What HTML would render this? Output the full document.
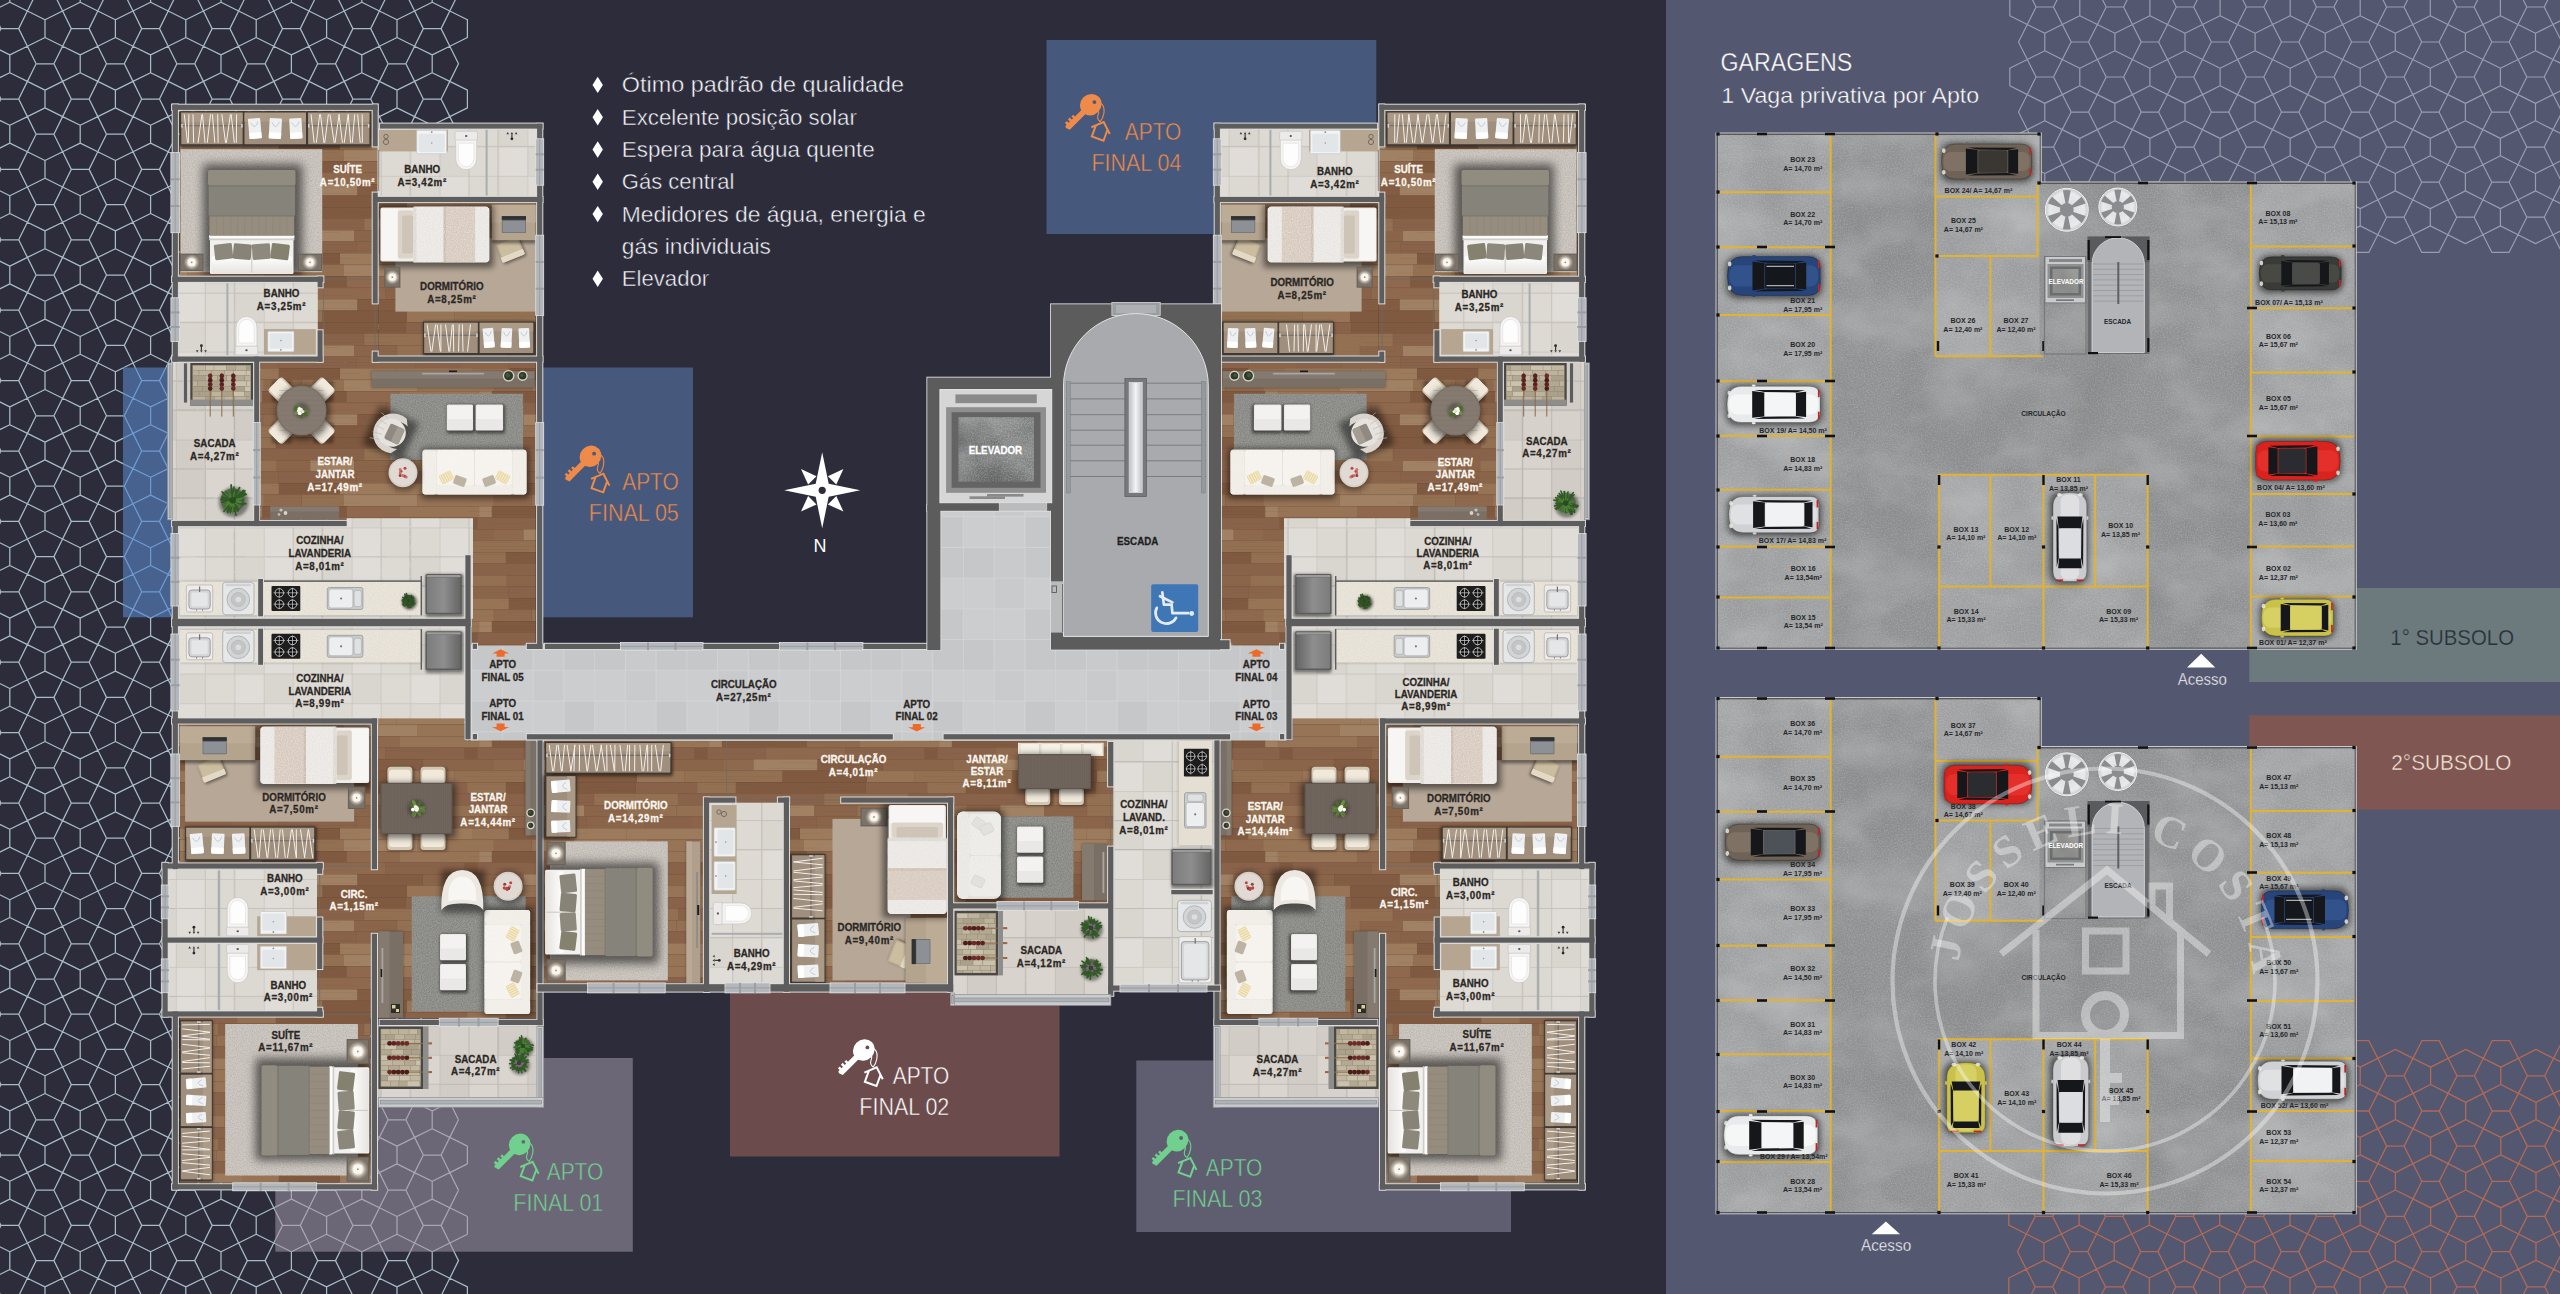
<!DOCTYPE html>
<html><head><meta charset="utf-8"><title>Planta</title>
<style>html,body{margin:0;padding:0;background:#2c2c3b;}body{width:2560px;height:1294px;overflow:hidden;font-family:"Liberation Sans",sans-serif;}svg{display:block;}</style>
</head><body>
<svg width="2560" height="1294" viewBox="0 0 2560 1294" font-family="'Liberation Sans', sans-serif">
<rect x="0" y="0" width="1666" height="1294" fill="#2c2c3b"/>
<rect x="1666" y="0" width="894" height="1294" fill="#545770"/>
<defs><path id="patL" d="M-122.1 -41.8L-113.4 -59.4M-122.1 -41.8L-113.4 -24.2M-122.1 28.6L-113.4 11M-122.1 28.6L-113.4 46.2M-122.1 99L-113.4 81.4M-122.1 99L-113.4 116.6M-122.1 169.4L-113.4 151.8M-122.1 169.4L-113.4 187M-122.1 239.8L-113.4 222.2M-122.1 239.8L-113.4 257.4M-122.1 310.2L-113.4 292.6M-122.1 310.2L-113.4 327.8M-122.1 380.6L-113.4 363M-122.1 380.6L-113.4 398.2M-122.1 451L-113.4 433.4M-122.1 451L-113.4 468.6M-122.1 521.4L-113.4 503.8M-122.1 521.4L-113.4 539M-122.1 591.8L-113.4 574.2M-122.1 591.8L-113.4 609.4M-122.1 662.2L-113.4 644.6M-122.1 662.2L-113.4 679.8M-122.1 732.6L-113.4 715M-122.1 732.6L-113.4 750.2M-122.1 803L-113.4 785.4M-122.1 803L-113.4 820.6M-122.1 873.4L-113.4 855.8M-122.1 873.4L-113.4 891M-122.1 943.8L-113.4 926.2M-122.1 943.8L-113.4 961.4M-122.1 1014.2L-113.4 996.6M-122.1 1014.2L-113.4 1031.8M-122.1 1084.6L-113.4 1067M-122.1 1084.6L-113.4 1102.2M-122.1 1155L-113.4 1137.4M-122.1 1155L-113.4 1172.6M-122.1 1225.4L-113.4 1207.8M-122.1 1225.4L-113.4 1243M-122.1 1295.8L-113.4 1278.2M-122.1 1295.8L-113.4 1313.4M-122.1 1366.2L-113.4 1348.6M-122.1 1366.2L-113.4 1383.8M-113.4 -94.6L-104.7 -77M-113.4 -94.6L-95.8 -103.3M-113.4 -59.4L-104.7 -77M-113.4 -59.4L-95.8 -50.7M-113.4 -24.2L-104.7 -6.6M-113.4 -24.2L-95.8 -32.9M-113.4 11L-104.7 -6.6M-113.4 11L-95.8 19.7M-113.4 46.2L-104.7 63.8M-113.4 46.2L-95.8 37.5M-113.4 81.4L-104.7 63.8M-113.4 81.4L-95.8 90.1M-113.4 116.6L-104.7 134.2M-113.4 116.6L-95.8 107.9M-113.4 151.8L-104.7 134.2M-113.4 151.8L-95.8 160.5M-113.4 187L-104.7 204.6M-113.4 187L-95.8 178.3M-113.4 222.2L-104.7 204.6M-113.4 222.2L-95.8 230.9M-113.4 257.4L-104.7 275M-113.4 257.4L-95.8 248.7M-113.4 292.6L-104.7 275M-113.4 292.6L-95.8 301.3M-113.4 327.8L-104.7 345.4M-113.4 327.8L-95.8 319.1M-113.4 363L-104.7 345.4M-113.4 363L-95.8 371.7M-113.4 398.2L-104.7 415.8M-113.4 398.2L-95.8 389.5M-113.4 433.4L-104.7 415.8M-113.4 433.4L-95.8 442.1M-113.4 468.6L-104.7 486.2M-113.4 468.6L-95.8 459.9M-113.4 503.8L-104.7 486.2M-113.4 503.8L-95.8 512.5M-113.4 539L-104.7 556.6M-113.4 539L-95.8 530.3M-113.4 574.2L-104.7 556.6M-113.4 574.2L-95.8 582.9M-113.4 609.4L-104.7 627M-113.4 609.4L-95.8 600.7M-113.4 644.6L-104.7 627M-113.4 644.6L-95.8 653.3M-113.4 679.8L-104.7 697.4M-113.4 679.8L-95.8 671.1M-113.4 715L-104.7 697.4M-113.4 715L-95.8 723.7M-113.4 750.2L-104.7 767.8M-113.4 750.2L-95.8 741.5M-113.4 785.4L-104.7 767.8M-113.4 785.4L-95.8 794.1M-113.4 820.6L-104.7 838.2M-113.4 820.6L-95.8 811.9M-113.4 855.8L-104.7 838.2M-113.4 855.8L-95.8 864.5M-113.4 891L-104.7 908.6M-113.4 891L-95.8 882.3M-113.4 926.2L-104.7 908.6M-113.4 926.2L-95.8 934.9M-113.4 961.4L-104.7 979M-113.4 961.4L-95.8 952.7M-113.4 996.6L-104.7 979M-113.4 996.6L-95.8 1005.3M-113.4 1031.8L-104.7 1049.4M-113.4 1031.8L-95.8 1023.1M-113.4 1067L-104.7 1049.4M-113.4 1067L-95.8 1075.7M-113.4 1102.2L-104.7 1119.8M-113.4 1102.2L-95.8 1093.5M-113.4 1137.4L-104.7 1119.8M-113.4 1137.4L-95.8 1146.1M-113.4 1172.6L-104.7 1190.2M-113.4 1172.6L-95.8 1163.9M-113.4 1207.8L-104.7 1190.2M-113.4 1207.8L-95.8 1216.5M-113.4 1243L-104.7 1260.6M-113.4 1243L-95.8 1234.3M-113.4 1278.2L-104.7 1260.6M-113.4 1278.2L-95.8 1286.9M-113.4 1313.4L-104.7 1331M-113.4 1313.4L-95.8 1304.7M-113.4 1348.6L-104.7 1331M-113.4 1348.6L-95.8 1357.3M-113.4 1383.8L-95.8 1375.1M-104.7 -77L-86.9 -77M-104.7 -6.6L-86.9 -6.6M-104.7 63.8L-86.9 63.8M-104.7 134.2L-86.9 134.2M-104.7 204.6L-86.9 204.6M-104.7 275L-86.9 275M-104.7 345.4L-86.9 345.4M-104.7 415.8L-86.9 415.8M-104.7 486.2L-86.9 486.2M-104.7 556.6L-86.9 556.6M-104.7 627L-86.9 627M-104.7 697.4L-86.9 697.4M-104.7 767.8L-86.9 767.8M-104.7 838.2L-86.9 838.2M-104.7 908.6L-86.9 908.6M-104.7 979L-86.9 979M-104.7 1049.4L-86.9 1049.4M-104.7 1119.8L-86.9 1119.8M-104.7 1190.2L-86.9 1190.2M-104.7 1260.6L-86.9 1260.6M-104.7 1331L-86.9 1331M-95.8 -103.3L-78.2 -94.6M-95.8 -50.7L-95.8 -32.9M-95.8 -50.7L-78.2 -59.4M-95.8 -32.9L-78.2 -24.2M-95.8 19.7L-95.8 37.5M-95.8 19.7L-78.2 11M-95.8 37.5L-78.2 46.2M-95.8 90.1L-95.8 107.9M-95.8 90.1L-78.2 81.4M-95.8 107.9L-78.2 116.6M-95.8 160.5L-95.8 178.3M-95.8 160.5L-78.2 151.8M-95.8 178.3L-78.2 187M-95.8 230.9L-95.8 248.7M-95.8 230.9L-78.2 222.2M-95.8 248.7L-78.2 257.4M-95.8 301.3L-95.8 319.1M-95.8 301.3L-78.2 292.6M-95.8 319.1L-78.2 327.8M-95.8 371.7L-95.8 389.5M-95.8 371.7L-78.2 363M-95.8 389.5L-78.2 398.2M-95.8 442.1L-95.8 459.9M-95.8 442.1L-78.2 433.4M-95.8 459.9L-78.2 468.6M-95.8 512.5L-95.8 530.3M-95.8 512.5L-78.2 503.8M-95.8 530.3L-78.2 539M-95.8 582.9L-95.8 600.7M-95.8 582.9L-78.2 574.2M-95.8 600.7L-78.2 609.4M-95.8 653.3L-95.8 671.1M-95.8 653.3L-78.2 644.6M-95.8 671.1L-78.2 679.8M-95.8 723.7L-95.8 741.5M-95.8 723.7L-78.2 715M-95.8 741.5L-78.2 750.2M-95.8 794.1L-95.8 811.9M-95.8 794.1L-78.2 785.4M-95.8 811.9L-78.2 820.6M-95.8 864.5L-95.8 882.3M-95.8 864.5L-78.2 855.8M-95.8 882.3L-78.2 891M-95.8 934.9L-95.8 952.7M-95.8 934.9L-78.2 926.2M-95.8 952.7L-78.2 961.4M-95.8 1005.3L-95.8 1023.1M-95.8 1005.3L-78.2 996.6M-95.8 1023.1L-78.2 1031.8M-95.8 1075.7L-95.8 1093.5M-95.8 1075.7L-78.2 1067M-95.8 1093.5L-78.2 1102.2M-95.8 1146.1L-95.8 1163.9M-95.8 1146.1L-78.2 1137.4M-95.8 1163.9L-78.2 1172.6M-95.8 1216.5L-95.8 1234.3M-95.8 1216.5L-78.2 1207.8M-95.8 1234.3L-78.2 1243M-95.8 1286.9L-95.8 1304.7M-95.8 1286.9L-78.2 1278.2M-95.8 1304.7L-78.2 1313.4M-95.8 1357.3L-95.8 1375.1M-95.8 1357.3L-78.2 1348.6M-95.8 1375.1L-78.2 1383.8M-86.9 -77L-78.2 -94.6M-86.9 -77L-78.2 -59.4M-86.9 -6.6L-78.2 -24.2M-86.9 -6.6L-78.2 11M-86.9 63.8L-78.2 46.2M-86.9 63.8L-78.2 81.4M-86.9 134.2L-78.2 116.6M-86.9 134.2L-78.2 151.8M-86.9 204.6L-78.2 187M-86.9 204.6L-78.2 222.2M-86.9 275L-78.2 257.4M-86.9 275L-78.2 292.6M-86.9 345.4L-78.2 327.8M-86.9 345.4L-78.2 363M-86.9 415.8L-78.2 398.2M-86.9 415.8L-78.2 433.4M-86.9 486.2L-78.2 468.6M-86.9 486.2L-78.2 503.8M-86.9 556.6L-78.2 539M-86.9 556.6L-78.2 574.2M-86.9 627L-78.2 609.4M-86.9 627L-78.2 644.6M-86.9 697.4L-78.2 679.8M-86.9 697.4L-78.2 715M-86.9 767.8L-78.2 750.2M-86.9 767.8L-78.2 785.4M-86.9 838.2L-78.2 820.6M-86.9 838.2L-78.2 855.8M-86.9 908.6L-78.2 891M-86.9 908.6L-78.2 926.2M-86.9 979L-78.2 961.4M-86.9 979L-78.2 996.6M-86.9 1049.4L-78.2 1031.8M-86.9 1049.4L-78.2 1067M-86.9 1119.8L-78.2 1102.2M-86.9 1119.8L-78.2 1137.4M-86.9 1190.2L-78.2 1172.6M-86.9 1190.2L-78.2 1207.8M-86.9 1260.6L-78.2 1243M-86.9 1260.6L-78.2 1278.2M-86.9 1331L-78.2 1313.4M-86.9 1331L-78.2 1348.6M-78.2 -94.6L-60.6 -85.9M-78.2 -59.4L-69.5 -41.8M-78.2 -59.4L-60.6 -68.1M-78.2 -24.2L-69.5 -41.8M-78.2 -24.2L-60.6 -15.5M-78.2 11L-69.5 28.6M-78.2 11L-60.6 2.3M-78.2 46.2L-69.5 28.6M-78.2 46.2L-60.6 54.9M-78.2 81.4L-69.5 99M-78.2 81.4L-60.6 72.7M-78.2 116.6L-69.5 99M-78.2 116.6L-60.6 125.3M-78.2 151.8L-69.5 169.4M-78.2 151.8L-60.6 143.1M-78.2 187L-69.5 169.4M-78.2 187L-60.6 195.7M-78.2 222.2L-69.5 239.8M-78.2 222.2L-60.6 213.5M-78.2 257.4L-69.5 239.8M-78.2 257.4L-60.6 266.1M-78.2 292.6L-69.5 310.2M-78.2 292.6L-60.6 283.9M-78.2 327.8L-69.5 310.2M-78.2 327.8L-60.6 336.5M-78.2 363L-69.5 380.6M-78.2 363L-60.6 354.3M-78.2 398.2L-69.5 380.6M-78.2 398.2L-60.6 406.9M-78.2 433.4L-69.5 451M-78.2 433.4L-60.6 424.7M-78.2 468.6L-69.5 451M-78.2 468.6L-60.6 477.3M-78.2 503.8L-69.5 521.4M-78.2 503.8L-60.6 495.1M-78.2 539L-69.5 521.4M-78.2 539L-60.6 547.7M-78.2 574.2L-69.5 591.8M-78.2 574.2L-60.6 565.5M-78.2 609.4L-69.5 591.8M-78.2 609.4L-60.6 618.1M-78.2 644.6L-69.5 662.2M-78.2 644.6L-60.6 635.9M-78.2 679.8L-69.5 662.2M-78.2 679.8L-60.6 688.5M-78.2 715L-69.5 732.6M-78.2 715L-60.6 706.3M-78.2 750.2L-69.5 732.6M-78.2 750.2L-60.6 758.9M-78.2 785.4L-69.5 803M-78.2 785.4L-60.6 776.7M-78.2 820.6L-69.5 803M-78.2 820.6L-60.6 829.3M-78.2 855.8L-69.5 873.4M-78.2 855.8L-60.6 847.1M-78.2 891L-69.5 873.4M-78.2 891L-60.6 899.7M-78.2 926.2L-69.5 943.8M-78.2 926.2L-60.6 917.5M-78.2 961.4L-69.5 943.8M-78.2 961.4L-60.6 970.1M-78.2 996.6L-69.5 1014.2M-78.2 996.6L-60.6 987.9M-78.2 1031.8L-69.5 1014.2M-78.2 1031.8L-60.6 1040.5M-78.2 1067L-69.5 1084.6M-78.2 1067L-60.6 1058.3M-78.2 1102.2L-69.5 1084.6M-78.2 1102.2L-60.6 1110.9M-78.2 1137.4L-69.5 1155M-78.2 1137.4L-60.6 1128.7M-78.2 1172.6L-69.5 1155M-78.2 1172.6L-60.6 1181.3M-78.2 1207.8L-69.5 1225.4M-78.2 1207.8L-60.6 1199.1M-78.2 1243L-69.5 1225.4M-78.2 1243L-60.6 1251.7M-78.2 1278.2L-69.5 1295.8M-78.2 1278.2L-60.6 1269.5M-78.2 1313.4L-69.5 1295.8M-78.2 1313.4L-60.6 1322.1M-78.2 1348.6L-69.5 1366.2M-78.2 1348.6L-60.6 1339.9M-78.2 1383.8L-69.5 1366.2M-78.2 1383.8L-60.6 1392.5M-69.5 -41.8L-51.7 -41.8M-69.5 28.6L-51.7 28.6M-69.5 99L-51.7 99M-69.5 169.4L-51.7 169.4M-69.5 239.8L-51.7 239.8M-69.5 310.2L-51.7 310.2M-69.5 380.6L-51.7 380.6M-69.5 451L-51.7 451M-69.5 521.4L-51.7 521.4M-69.5 591.8L-51.7 591.8M-69.5 662.2L-51.7 662.2M-69.5 732.6L-51.7 732.6M-69.5 803L-51.7 803M-69.5 873.4L-51.7 873.4M-69.5 943.8L-51.7 943.8M-69.5 1014.2L-51.7 1014.2M-69.5 1084.6L-51.7 1084.6M-69.5 1155L-51.7 1155M-69.5 1225.4L-51.7 1225.4M-69.5 1295.8L-51.7 1295.8M-69.5 1366.2L-51.7 1366.2M-60.6 -85.9L-60.6 -68.1M-60.6 -85.9L-43 -94.6M-60.6 -68.1L-43 -59.4M-60.6 -15.5L-60.6 2.3M-60.6 -15.5L-43 -24.2M-60.6 2.3L-43 11M-60.6 54.9L-60.6 72.7M-60.6 54.9L-43 46.2M-60.6 72.7L-43 81.4M-60.6 125.3L-60.6 143.1M-60.6 125.3L-43 116.6M-60.6 143.1L-43 151.8M-60.6 195.7L-60.6 213.5M-60.6 195.7L-43 187M-60.6 213.5L-43 222.2M-60.6 266.1L-60.6 283.9M-60.6 266.1L-43 257.4M-60.6 283.9L-43 292.6M-60.6 336.5L-60.6 354.3M-60.6 336.5L-43 327.8M-60.6 354.3L-43 363M-60.6 406.9L-60.6 424.7M-60.6 406.9L-43 398.2M-60.6 424.7L-43 433.4M-60.6 477.3L-60.6 495.1M-60.6 477.3L-43 468.6M-60.6 495.1L-43 503.8M-60.6 547.7L-60.6 565.5M-60.6 547.7L-43 539M-60.6 565.5L-43 574.2M-60.6 618.1L-60.6 635.9M-60.6 618.1L-43 609.4M-60.6 635.9L-43 644.6M-60.6 688.5L-60.6 706.3M-60.6 688.5L-43 679.8M-60.6 706.3L-43 715M-60.6 758.9L-60.6 776.7M-60.6 758.9L-43 750.2M-60.6 776.7L-43 785.4M-60.6 829.3L-60.6 847.1M-60.6 829.3L-43 820.6M-60.6 847.1L-43 855.8M-60.6 899.7L-60.6 917.5M-60.6 899.7L-43 891M-60.6 917.5L-43 926.2M-60.6 970.1L-60.6 987.9M-60.6 970.1L-43 961.4M-60.6 987.9L-43 996.6M-60.6 1040.5L-60.6 1058.3M-60.6 1040.5L-43 1031.8M-60.6 1058.3L-43 1067M-60.6 1110.9L-60.6 1128.7M-60.6 1110.9L-43 1102.2M-60.6 1128.7L-43 1137.4M-60.6 1181.3L-60.6 1199.1M-60.6 1181.3L-43 1172.6M-60.6 1199.1L-43 1207.8M-60.6 1251.7L-60.6 1269.5M-60.6 1251.7L-43 1243M-60.6 1269.5L-43 1278.2M-60.6 1322.1L-60.6 1339.9M-60.6 1322.1L-43 1313.4M-60.6 1339.9L-43 1348.6M-60.6 1392.5L-43 1383.8M-51.7 -41.8L-43 -59.4M-51.7 -41.8L-43 -24.2M-51.7 28.6L-43 11M-51.7 28.6L-43 46.2M-51.7 99L-43 81.4M-51.7 99L-43 116.6M-51.7 169.4L-43 151.8M-51.7 169.4L-43 187M-51.7 239.8L-43 222.2M-51.7 239.8L-43 257.4M-51.7 310.2L-43 292.6M-51.7 310.2L-43 327.8M-51.7 380.6L-43 363M-51.7 380.6L-43 398.2M-51.7 451L-43 433.4M-51.7 451L-43 468.6M-51.7 521.4L-43 503.8M-51.7 521.4L-43 539M-51.7 591.8L-43 574.2M-51.7 591.8L-43 609.4M-51.7 662.2L-43 644.6M-51.7 662.2L-43 679.8M-51.7 732.6L-43 715M-51.7 732.6L-43 750.2M-51.7 803L-43 785.4M-51.7 803L-43 820.6M-51.7 873.4L-43 855.8M-51.7 873.4L-43 891M-51.7 943.8L-43 926.2M-51.7 943.8L-43 961.4M-51.7 1014.2L-43 996.6M-51.7 1014.2L-43 1031.8M-51.7 1084.6L-43 1067M-51.7 1084.6L-43 1102.2M-51.7 1155L-43 1137.4M-51.7 1155L-43 1172.6M-51.7 1225.4L-43 1207.8M-51.7 1225.4L-43 1243M-51.7 1295.8L-43 1278.2M-51.7 1295.8L-43 1313.4M-51.7 1366.2L-43 1348.6M-51.7 1366.2L-43 1383.8M-43 -94.6L-34.3 -77M-43 -94.6L-25.4 -103.3M-43 -59.4L-34.3 -77M-43 -59.4L-25.4 -50.7M-43 -24.2L-34.3 -6.6M-43 -24.2L-25.4 -32.9M-43 11L-34.3 -6.6M-43 11L-25.4 19.7M-43 46.2L-34.3 63.8M-43 46.2L-25.4 37.5M-43 81.4L-34.3 63.8M-43 81.4L-25.4 90.1M-43 116.6L-34.3 134.2M-43 116.6L-25.4 107.9M-43 151.8L-34.3 134.2M-43 151.8L-25.4 160.5M-43 187L-34.3 204.6M-43 187L-25.4 178.3M-43 222.2L-34.3 204.6M-43 222.2L-25.4 230.9M-43 257.4L-34.3 275M-43 257.4L-25.4 248.7M-43 292.6L-34.3 275M-43 292.6L-25.4 301.3M-43 327.8L-34.3 345.4M-43 327.8L-25.4 319.1M-43 363L-34.3 345.4M-43 363L-25.4 371.7M-43 398.2L-34.3 415.8M-43 398.2L-25.4 389.5M-43 433.4L-34.3 415.8M-43 433.4L-25.4 442.1M-43 468.6L-34.3 486.2M-43 468.6L-25.4 459.9M-43 503.8L-34.3 486.2M-43 503.8L-25.4 512.5M-43 539L-34.3 556.6M-43 539L-25.4 530.3M-43 574.2L-34.3 556.6M-43 574.2L-25.4 582.9M-43 609.4L-34.3 627M-43 609.4L-25.4 600.7M-43 644.6L-34.3 627M-43 644.6L-25.4 653.3M-43 679.8L-34.3 697.4M-43 679.8L-25.4 671.1M-43 715L-34.3 697.4M-43 715L-25.4 723.7M-43 750.2L-34.3 767.8M-43 750.2L-25.4 741.5M-43 785.4L-34.3 767.8M-43 785.4L-25.4 794.1M-43 820.6L-34.3 838.2M-43 820.6L-25.4 811.9M-43 855.8L-34.3 838.2M-43 855.8L-25.4 864.5M-43 891L-34.3 908.6M-43 891L-25.4 882.3M-43 926.2L-34.3 908.6M-43 926.2L-25.4 934.9M-43 961.4L-34.3 979M-43 961.4L-25.4 952.7M-43 996.6L-34.3 979M-43 996.6L-25.4 1005.3M-43 1031.8L-34.3 1049.4M-43 1031.8L-25.4 1023.1M-43 1067L-34.3 1049.4M-43 1067L-25.4 1075.7M-43 1102.2L-34.3 1119.8M-43 1102.2L-25.4 1093.5M-43 1137.4L-34.3 1119.8M-43 1137.4L-25.4 1146.1M-43 1172.6L-34.3 1190.2M-43 1172.6L-25.4 1163.9M-43 1207.8L-34.3 1190.2M-43 1207.8L-25.4 1216.5M-43 1243L-34.3 1260.6M-43 1243L-25.4 1234.3M-43 1278.2L-34.3 1260.6M-43 1278.2L-25.4 1286.9M-43 1313.4L-34.3 1331M-43 1313.4L-25.4 1304.7M-43 1348.6L-34.3 1331M-43 1348.6L-25.4 1357.3M-43 1383.8L-25.4 1375.1M-34.3 -77L-16.5 -77M-34.3 -6.6L-16.5 -6.6M-34.3 63.8L-16.5 63.8M-34.3 134.2L-16.5 134.2M-34.3 204.6L-16.5 204.6M-34.3 275L-16.5 275M-34.3 345.4L-16.5 345.4M-34.3 415.8L-16.5 415.8M-34.3 486.2L-16.5 486.2M-34.3 556.6L-16.5 556.6M-34.3 627L-16.5 627M-34.3 697.4L-16.5 697.4M-34.3 767.8L-16.5 767.8M-34.3 838.2L-16.5 838.2M-34.3 908.6L-16.5 908.6M-34.3 979L-16.5 979M-34.3 1049.4L-16.5 1049.4M-34.3 1119.8L-16.5 1119.8M-34.3 1190.2L-16.5 1190.2M-34.3 1260.6L-16.5 1260.6M-34.3 1331L-16.5 1331M-25.4 -103.3L-7.8 -94.6M-25.4 -50.7L-25.4 -32.9M-25.4 -50.7L-7.8 -59.4M-25.4 -32.9L-7.8 -24.2M-25.4 19.7L-25.4 37.5M-25.4 19.7L-7.8 11M-25.4 37.5L-7.8 46.2M-25.4 90.1L-25.4 107.9M-25.4 90.1L-7.8 81.4M-25.4 107.9L-7.8 116.6M-25.4 160.5L-25.4 178.3M-25.4 160.5L-7.8 151.8M-25.4 178.3L-7.8 187M-25.4 230.9L-25.4 248.7M-25.4 230.9L-7.8 222.2M-25.4 248.7L-7.8 257.4M-25.4 301.3L-25.4 319.1M-25.4 301.3L-7.8 292.6M-25.4 319.1L-7.8 327.8M-25.4 371.7L-25.4 389.5M-25.4 371.7L-7.8 363M-25.4 389.5L-7.8 398.2M-25.4 442.1L-25.4 459.9M-25.4 442.1L-7.8 433.4M-25.4 459.9L-7.8 468.6M-25.4 512.5L-25.4 530.3M-25.4 512.5L-7.8 503.8M-25.4 530.3L-7.8 539M-25.4 582.9L-25.4 600.7M-25.4 582.9L-7.8 574.2M-25.4 600.7L-7.8 609.4M-25.4 653.3L-25.4 671.1M-25.4 653.3L-7.8 644.6M-25.4 671.1L-7.8 679.8M-25.4 723.7L-25.4 741.5M-25.4 723.7L-7.8 715M-25.4 741.5L-7.8 750.2M-25.4 794.1L-25.4 811.9M-25.4 794.1L-7.8 785.4M-25.4 811.9L-7.8 820.6M-25.4 864.5L-25.4 882.3M-25.4 864.5L-7.8 855.8M-25.4 882.3L-7.8 891M-25.4 934.9L-25.4 952.7M-25.4 934.9L-7.8 926.2M-25.4 952.7L-7.8 961.4M-25.4 1005.3L-25.4 1023.1M-25.4 1005.3L-7.8 996.6M-25.4 1023.1L-7.8 1031.8M-25.4 1075.7L-25.4 1093.5M-25.4 1075.7L-7.8 1067M-25.4 1093.5L-7.8 1102.2M-25.4 1146.1L-25.4 1163.9M-25.4 1146.1L-7.8 1137.4M-25.4 1163.9L-7.8 1172.6M-25.4 1216.5L-25.4 1234.3M-25.4 1216.5L-7.8 1207.8M-25.4 1234.3L-7.8 1243M-25.4 1286.9L-25.4 1304.7M-25.4 1286.9L-7.8 1278.2M-25.4 1304.7L-7.8 1313.4M-25.4 1357.3L-25.4 1375.1M-25.4 1357.3L-7.8 1348.6M-25.4 1375.1L-7.8 1383.8M-16.5 -77L-7.8 -94.6M-16.5 -77L-7.8 -59.4M-16.5 -6.6L-7.8 -24.2M-16.5 -6.6L-7.8 11M-16.5 63.8L-7.8 46.2M-16.5 63.8L-7.8 81.4M-16.5 134.2L-7.8 116.6M-16.5 134.2L-7.8 151.8M-16.5 204.6L-7.8 187M-16.5 204.6L-7.8 222.2M-16.5 275L-7.8 257.4M-16.5 275L-7.8 292.6M-16.5 345.4L-7.8 327.8M-16.5 345.4L-7.8 363M-16.5 415.8L-7.8 398.2M-16.5 415.8L-7.8 433.4M-16.5 486.2L-7.8 468.6M-16.5 486.2L-7.8 503.8M-16.5 556.6L-7.8 539M-16.5 556.6L-7.8 574.2M-16.5 627L-7.8 609.4M-16.5 627L-7.8 644.6M-16.5 697.4L-7.8 679.8M-16.5 697.4L-7.8 715M-16.5 767.8L-7.8 750.2M-16.5 767.8L-7.8 785.4M-16.5 838.2L-7.8 820.6M-16.5 838.2L-7.8 855.8M-16.5 908.6L-7.8 891M-16.5 908.6L-7.8 926.2M-16.5 979L-7.8 961.4M-16.5 979L-7.8 996.6M-16.5 1049.4L-7.8 1031.8M-16.5 1049.4L-7.8 1067M-16.5 1119.8L-7.8 1102.2M-16.5 1119.8L-7.8 1137.4M-16.5 1190.2L-7.8 1172.6M-16.5 1190.2L-7.8 1207.8M-16.5 1260.6L-7.8 1243M-16.5 1260.6L-7.8 1278.2M-16.5 1331L-7.8 1313.4M-16.5 1331L-7.8 1348.6M-7.8 -94.6L9.8 -85.9M-7.8 -59.4L0.9 -41.8M-7.8 -59.4L9.8 -68.1M-7.8 -24.2L0.9 -41.8M-7.8 -24.2L9.8 -15.5M-7.8 11L0.9 28.6M-7.8 11L9.8 2.3M-7.8 46.2L0.9 28.6M-7.8 46.2L9.8 54.9M-7.8 81.4L0.9 99M-7.8 81.4L9.8 72.7M-7.8 116.6L0.9 99M-7.8 116.6L9.8 125.3M-7.8 151.8L0.9 169.4M-7.8 151.8L9.8 143.1M-7.8 187L0.9 169.4M-7.8 187L9.8 195.7M-7.8 222.2L0.9 239.8M-7.8 222.2L9.8 213.5M-7.8 257.4L0.9 239.8M-7.8 257.4L9.8 266.1M-7.8 292.6L0.9 310.2M-7.8 292.6L9.8 283.9M-7.8 327.8L0.9 310.2M-7.8 327.8L9.8 336.5M-7.8 363L0.9 380.6M-7.8 363L9.8 354.3M-7.8 398.2L0.9 380.6M-7.8 398.2L9.8 406.9M-7.8 433.4L0.9 451M-7.8 433.4L9.8 424.7M-7.8 468.6L0.9 451M-7.8 468.6L9.8 477.3M-7.8 503.8L0.9 521.4M-7.8 503.8L9.8 495.1M-7.8 539L0.9 521.4M-7.8 539L9.8 547.7M-7.8 574.2L0.9 591.8M-7.8 574.2L9.8 565.5M-7.8 609.4L0.9 591.8M-7.8 609.4L9.8 618.1M-7.8 644.6L0.9 662.2M-7.8 644.6L9.8 635.9M-7.8 679.8L0.9 662.2M-7.8 679.8L9.8 688.5M-7.8 715L0.9 732.6M-7.8 715L9.8 706.3M-7.8 750.2L0.9 732.6M-7.8 750.2L9.8 758.9M-7.8 785.4L0.9 803M-7.8 785.4L9.8 776.7M-7.8 820.6L0.9 803M-7.8 820.6L9.8 829.3M-7.8 855.8L0.9 873.4M-7.8 855.8L9.8 847.1M-7.8 891L0.9 873.4M-7.8 891L9.8 899.7M-7.8 926.2L0.9 943.8M-7.8 926.2L9.8 917.5M-7.8 961.4L0.9 943.8M-7.8 961.4L9.8 970.1M-7.8 996.6L0.9 1014.2M-7.8 996.6L9.8 987.9M-7.8 1031.8L0.9 1014.2M-7.8 1031.8L9.8 1040.5M-7.8 1067L0.9 1084.6M-7.8 1067L9.8 1058.3M-7.8 1102.2L0.9 1084.6M-7.8 1102.2L9.8 1110.9M-7.8 1137.4L0.9 1155M-7.8 1137.4L9.8 1128.7M-7.8 1172.6L0.9 1155M-7.8 1172.6L9.8 1181.3M-7.8 1207.8L0.9 1225.4M-7.8 1207.8L9.8 1199.1M-7.8 1243L0.9 1225.4M-7.8 1243L9.8 1251.7M-7.8 1278.2L0.9 1295.8M-7.8 1278.2L9.8 1269.5M-7.8 1313.4L0.9 1295.8M-7.8 1313.4L9.8 1322.1M-7.8 1348.6L0.9 1366.2M-7.8 1348.6L9.8 1339.9M-7.8 1383.8L0.9 1366.2M-7.8 1383.8L9.8 1392.5M0.9 -41.8L18.7 -41.8M0.9 28.6L18.7 28.6M0.9 99L18.7 99M0.9 169.4L18.7 169.4M0.9 239.8L18.7 239.8M0.9 310.2L18.7 310.2M0.9 380.6L18.7 380.6M0.9 451L18.7 451M0.9 521.4L18.7 521.4M0.9 591.8L18.7 591.8M0.9 662.2L18.7 662.2M0.9 732.6L18.7 732.6M0.9 803L18.7 803M0.9 873.4L18.7 873.4M0.9 943.8L18.7 943.8M0.9 1014.2L18.7 1014.2M0.9 1084.6L18.7 1084.6M0.9 1155L18.7 1155M0.9 1225.4L18.7 1225.4M0.9 1295.8L18.7 1295.8M0.9 1366.2L18.7 1366.2M9.8 -85.9L9.8 -68.1M9.8 -85.9L27.4 -94.6M9.8 -68.1L27.4 -59.4M9.8 -15.5L9.8 2.3M9.8 -15.5L27.4 -24.2M9.8 2.3L27.4 11M9.8 54.9L9.8 72.7M9.8 54.9L27.4 46.2M9.8 72.7L27.4 81.4M9.8 125.3L9.8 143.1M9.8 125.3L27.4 116.6M9.8 143.1L27.4 151.8M9.8 195.7L9.8 213.5M9.8 195.7L27.4 187M9.8 213.5L27.4 222.2M9.8 266.1L9.8 283.9M9.8 266.1L27.4 257.4M9.8 283.9L27.4 292.6M9.8 336.5L9.8 354.3M9.8 336.5L27.4 327.8M9.8 354.3L27.4 363M9.8 406.9L9.8 424.7M9.8 406.9L27.4 398.2M9.8 424.7L27.4 433.4M9.8 477.3L9.8 495.1M9.8 477.3L27.4 468.6M9.8 495.1L27.4 503.8M9.8 547.7L9.8 565.5M9.8 547.7L27.4 539M9.8 565.5L27.4 574.2M9.8 618.1L9.8 635.9M9.8 618.1L27.4 609.4M9.8 635.9L27.4 644.6M9.8 688.5L9.8 706.3M9.8 688.5L27.4 679.8M9.8 706.3L27.4 715M9.8 758.9L9.8 776.7M9.8 758.9L27.4 750.2M9.8 776.7L27.4 785.4M9.8 829.3L9.8 847.1M9.8 829.3L27.4 820.6M9.8 847.1L27.4 855.8M9.8 899.7L9.8 917.5M9.8 899.7L27.4 891M9.8 917.5L27.4 926.2M9.8 970.1L9.8 987.9M9.8 970.1L27.4 961.4M9.8 987.9L27.4 996.6M9.8 1040.5L9.8 1058.3M9.8 1040.5L27.4 1031.8M9.8 1058.3L27.4 1067M9.8 1110.9L9.8 1128.7M9.8 1110.9L27.4 1102.2M9.8 1128.7L27.4 1137.4M9.8 1181.3L9.8 1199.1M9.8 1181.3L27.4 1172.6M9.8 1199.1L27.4 1207.8M9.8 1251.7L9.8 1269.5M9.8 1251.7L27.4 1243M9.8 1269.5L27.4 1278.2M9.8 1322.1L9.8 1339.9M9.8 1322.1L27.4 1313.4M9.8 1339.9L27.4 1348.6M9.8 1392.5L27.4 1383.8M18.7 -41.8L27.4 -59.4M18.7 -41.8L27.4 -24.2M18.7 28.6L27.4 11M18.7 28.6L27.4 46.2M18.7 99L27.4 81.4M18.7 99L27.4 116.6M18.7 169.4L27.4 151.8M18.7 169.4L27.4 187M18.7 239.8L27.4 222.2M18.7 239.8L27.4 257.4M18.7 310.2L27.4 292.6M18.7 310.2L27.4 327.8M18.7 380.6L27.4 363M18.7 380.6L27.4 398.2M18.7 451L27.4 433.4M18.7 451L27.4 468.6M18.7 521.4L27.4 503.8M18.7 521.4L27.4 539M18.7 591.8L27.4 574.2M18.7 591.8L27.4 609.4M18.7 662.2L27.4 644.6M18.7 662.2L27.4 679.8M18.7 732.6L27.4 715M18.7 732.6L27.4 750.2M18.7 803L27.4 785.4M18.7 803L27.4 820.6M18.7 873.4L27.4 855.8M18.7 873.4L27.4 891M18.7 943.8L27.4 926.2M18.7 943.8L27.4 961.4M18.7 1014.2L27.4 996.6M18.7 1014.2L27.4 1031.8M18.7 1084.6L27.4 1067M18.7 1084.6L27.4 1102.2M18.7 1155L27.4 1137.4M18.7 1155L27.4 1172.6M18.7 1225.4L27.4 1207.8M18.7 1225.4L27.4 1243M18.7 1295.8L27.4 1278.2M18.7 1295.8L27.4 1313.4M18.7 1366.2L27.4 1348.6M18.7 1366.2L27.4 1383.8M27.4 -94.6L36.1 -77M27.4 -94.6L45 -103.3M27.4 -59.4L36.1 -77M27.4 -59.4L45 -50.7M27.4 -24.2L36.1 -6.6M27.4 -24.2L45 -32.9M27.4 11L36.1 -6.6M27.4 11L45 19.7M27.4 46.2L36.1 63.8M27.4 46.2L45 37.5M27.4 81.4L36.1 63.8M27.4 81.4L45 90.1M27.4 116.6L36.1 134.2M27.4 116.6L45 107.9M27.4 151.8L36.1 134.2M27.4 151.8L45 160.5M27.4 187L36.1 204.6M27.4 187L45 178.3M27.4 222.2L36.1 204.6M27.4 222.2L45 230.9M27.4 257.4L36.1 275M27.4 257.4L45 248.7M27.4 292.6L36.1 275M27.4 292.6L45 301.3M27.4 327.8L36.1 345.4M27.4 327.8L45 319.1M27.4 363L36.1 345.4M27.4 363L45 371.7M27.4 398.2L36.1 415.8M27.4 398.2L45 389.5M27.4 433.4L36.1 415.8M27.4 433.4L45 442.1M27.4 468.6L36.1 486.2M27.4 468.6L45 459.9M27.4 503.8L36.1 486.2M27.4 503.8L45 512.5M27.4 539L36.1 556.6M27.4 539L45 530.3M27.4 574.2L36.1 556.6M27.4 574.2L45 582.9M27.4 609.4L36.1 627M27.4 609.4L45 600.7M27.4 644.6L36.1 627M27.4 644.6L45 653.3M27.4 679.8L36.1 697.4M27.4 679.8L45 671.1M27.4 715L36.1 697.4M27.4 715L45 723.7M27.4 750.2L36.1 767.8M27.4 750.2L45 741.5M27.4 785.4L36.1 767.8M27.4 785.4L45 794.1M27.4 820.6L36.1 838.2M27.4 820.6L45 811.9M27.4 855.8L36.1 838.2M27.4 855.8L45 864.5M27.4 891L36.1 908.6M27.4 891L45 882.3M27.4 926.2L36.1 908.6M27.4 926.2L45 934.9M27.4 961.4L36.1 979M27.4 961.4L45 952.7M27.4 996.6L36.1 979M27.4 996.6L45 1005.3M27.4 1031.8L36.1 1049.4M27.4 1031.8L45 1023.1M27.4 1067L36.1 1049.4M27.4 1067L45 1075.7M27.4 1102.2L36.1 1119.8M27.4 1102.2L45 1093.5M27.4 1137.4L36.1 1119.8M27.4 1137.4L45 1146.1M27.4 1172.6L36.1 1190.2M27.4 1172.6L45 1163.9M27.4 1207.8L36.1 1190.2M27.4 1207.8L45 1216.5M27.4 1243L36.1 1260.6M27.4 1243L45 1234.3M27.4 1278.2L36.1 1260.6M27.4 1278.2L45 1286.9M27.4 1313.4L36.1 1331M27.4 1313.4L45 1304.7M27.4 1348.6L36.1 1331M27.4 1348.6L45 1357.3M27.4 1383.8L45 1375.1M36.1 -77L53.9 -77M36.1 -6.6L53.9 -6.6M36.1 63.8L53.9 63.8M36.1 134.2L53.9 134.2M36.1 204.6L53.9 204.6M36.1 275L53.9 275M36.1 345.4L53.9 345.4M36.1 415.8L53.9 415.8M36.1 486.2L53.9 486.2M36.1 556.6L53.9 556.6M36.1 627L53.9 627M36.1 697.4L53.9 697.4M36.1 767.8L53.9 767.8M36.1 838.2L53.9 838.2M36.1 908.6L53.9 908.6M36.1 979L53.9 979M36.1 1049.4L53.9 1049.4M36.1 1119.8L53.9 1119.8M36.1 1190.2L53.9 1190.2M36.1 1260.6L53.9 1260.6M36.1 1331L53.9 1331M45 -103.3L62.6 -94.6M45 -50.7L45 -32.9M45 -50.7L62.6 -59.4M45 -32.9L62.6 -24.2M45 19.7L45 37.5M45 19.7L62.6 11M45 37.5L62.6 46.2M45 90.1L45 107.9M45 90.1L62.6 81.4M45 107.9L62.6 116.6M45 160.5L45 178.3M45 160.5L62.6 151.8M45 178.3L62.6 187M45 230.9L45 248.7M45 230.9L62.6 222.2M45 248.7L62.6 257.4M45 301.3L45 319.1M45 301.3L62.6 292.6M45 319.1L62.6 327.8M45 371.7L45 389.5M45 371.7L62.6 363M45 389.5L62.6 398.2M45 442.1L45 459.9M45 442.1L62.6 433.4M45 459.9L62.6 468.6M45 512.5L45 530.3M45 512.5L62.6 503.8M45 530.3L62.6 539M45 582.9L45 600.7M45 582.9L62.6 574.2M45 600.7L62.6 609.4M45 653.3L45 671.1M45 653.3L62.6 644.6M45 671.1L62.6 679.8M45 723.7L45 741.5M45 723.7L62.6 715M45 741.5L62.6 750.2M45 794.1L45 811.9M45 794.1L62.6 785.4M45 811.9L62.6 820.6M45 864.5L45 882.3M45 864.5L62.6 855.8M45 882.3L62.6 891M45 934.9L45 952.7M45 934.9L62.6 926.2M45 952.7L62.6 961.4M45 1005.3L45 1023.1M45 1005.3L62.6 996.6M45 1023.1L62.6 1031.8M45 1075.7L45 1093.5M45 1075.7L62.6 1067M45 1093.5L62.6 1102.2M45 1146.1L45 1163.9M45 1146.1L62.6 1137.4M45 1163.9L62.6 1172.6M45 1216.5L45 1234.3M45 1216.5L62.6 1207.8M45 1234.3L62.6 1243M45 1286.9L45 1304.7M45 1286.9L62.6 1278.2M45 1304.7L62.6 1313.4M45 1357.3L45 1375.1M45 1357.3L62.6 1348.6M45 1375.1L62.6 1383.8M53.9 -77L62.6 -94.6M53.9 -77L62.6 -59.4M53.9 -6.6L62.6 -24.2M53.9 -6.6L62.6 11M53.9 63.8L62.6 46.2M53.9 63.8L62.6 81.4M53.9 134.2L62.6 116.6M53.9 134.2L62.6 151.8M53.9 204.6L62.6 187M53.9 204.6L62.6 222.2M53.9 275L62.6 257.4M53.9 275L62.6 292.6M53.9 345.4L62.6 327.8M53.9 345.4L62.6 363M53.9 415.8L62.6 398.2M53.9 415.8L62.6 433.4M53.9 486.2L62.6 468.6M53.9 486.2L62.6 503.8M53.9 556.6L62.6 539M53.9 556.6L62.6 574.2M53.9 627L62.6 609.4M53.9 627L62.6 644.6M53.9 697.4L62.6 679.8M53.9 697.4L62.6 715M53.9 767.8L62.6 750.2M53.9 767.8L62.6 785.4M53.9 838.2L62.6 820.6M53.9 838.2L62.6 855.8M53.9 908.6L62.6 891M53.9 908.6L62.6 926.2M53.9 979L62.6 961.4M53.9 979L62.6 996.6M53.9 1049.4L62.6 1031.8M53.9 1049.4L62.6 1067M53.9 1119.8L62.6 1102.2M53.9 1119.8L62.6 1137.4M53.9 1190.2L62.6 1172.6M53.9 1190.2L62.6 1207.8M53.9 1260.6L62.6 1243M53.9 1260.6L62.6 1278.2M53.9 1331L62.6 1313.4M53.9 1331L62.6 1348.6M62.6 -94.6L80.2 -85.9M62.6 -59.4L71.3 -41.8M62.6 -59.4L80.2 -68.1M62.6 -24.2L71.3 -41.8M62.6 -24.2L80.2 -15.5M62.6 11L71.3 28.6M62.6 11L80.2 2.3M62.6 46.2L71.3 28.6M62.6 46.2L80.2 54.9M62.6 81.4L71.3 99M62.6 81.4L80.2 72.7M62.6 116.6L71.3 99M62.6 116.6L80.2 125.3M62.6 151.8L71.3 169.4M62.6 151.8L80.2 143.1M62.6 187L71.3 169.4M62.6 187L80.2 195.7M62.6 222.2L71.3 239.8M62.6 222.2L80.2 213.5M62.6 257.4L71.3 239.8M62.6 257.4L80.2 266.1M62.6 292.6L71.3 310.2M62.6 292.6L80.2 283.9M62.6 327.8L71.3 310.2M62.6 327.8L80.2 336.5M62.6 363L71.3 380.6M62.6 363L80.2 354.3M62.6 398.2L71.3 380.6M62.6 398.2L80.2 406.9M62.6 433.4L71.3 451M62.6 433.4L80.2 424.7M62.6 468.6L71.3 451M62.6 468.6L80.2 477.3M62.6 503.8L71.3 521.4M62.6 503.8L80.2 495.1M62.6 539L71.3 521.4M62.6 539L80.2 547.7M62.6 574.2L71.3 591.8M62.6 574.2L80.2 565.5M62.6 609.4L71.3 591.8M62.6 609.4L80.2 618.1M62.6 644.6L71.3 662.2M62.6 644.6L80.2 635.9M62.6 679.8L71.3 662.2M62.6 679.8L80.2 688.5M62.6 715L71.3 732.6M62.6 715L80.2 706.3M62.6 750.2L71.3 732.6M62.6 750.2L80.2 758.9M62.6 785.4L71.3 803M62.6 785.4L80.2 776.7M62.6 820.6L71.3 803M62.6 820.6L80.2 829.3M62.6 855.8L71.3 873.4M62.6 855.8L80.2 847.1M62.6 891L71.3 873.4M62.6 891L80.2 899.7M62.6 926.2L71.3 943.8M62.6 926.2L80.2 917.5M62.6 961.4L71.3 943.8M62.6 961.4L80.2 970.1M62.6 996.6L71.3 1014.2M62.6 996.6L80.2 987.9M62.6 1031.8L71.3 1014.2M62.6 1031.8L80.2 1040.5M62.6 1067L71.3 1084.6M62.6 1067L80.2 1058.3M62.6 1102.2L71.3 1084.6M62.6 1102.2L80.2 1110.9M62.6 1137.4L71.3 1155M62.6 1137.4L80.2 1128.7M62.6 1172.6L71.3 1155M62.6 1172.6L80.2 1181.3M62.6 1207.8L71.3 1225.4M62.6 1207.8L80.2 1199.1M62.6 1243L71.3 1225.4M62.6 1243L80.2 1251.7M62.6 1278.2L71.3 1295.8M62.6 1278.2L80.2 1269.5M62.6 1313.4L71.3 1295.8M62.6 1313.4L80.2 1322.1M62.6 1348.6L71.3 1366.2M62.6 1348.6L80.2 1339.9M62.6 1383.8L71.3 1366.2M62.6 1383.8L80.2 1392.5M71.3 -41.8L89.1 -41.8M71.3 28.6L89.1 28.6M71.3 99L89.1 99M71.3 169.4L89.1 169.4M71.3 239.8L89.1 239.8M71.3 310.2L89.1 310.2M71.3 380.6L89.1 380.6M71.3 451L89.1 451M71.3 521.4L89.1 521.4M71.3 591.8L89.1 591.8M71.3 662.2L89.1 662.2M71.3 732.6L89.1 732.6M71.3 803L89.1 803M71.3 873.4L89.1 873.4M71.3 943.8L89.1 943.8M71.3 1014.2L89.1 1014.2M71.3 1084.6L89.1 1084.6M71.3 1155L89.1 1155M71.3 1225.4L89.1 1225.4M71.3 1295.8L89.1 1295.8M71.3 1366.2L89.1 1366.2M80.2 -85.9L80.2 -68.1M80.2 -85.9L97.8 -94.6M80.2 -68.1L97.8 -59.4M80.2 -15.5L80.2 2.3M80.2 -15.5L97.8 -24.2M80.2 2.3L97.8 11M80.2 54.9L80.2 72.7M80.2 54.9L97.8 46.2M80.2 72.7L97.8 81.4M80.2 125.3L80.2 143.1M80.2 125.3L97.8 116.6M80.2 143.1L97.8 151.8M80.2 195.7L80.2 213.5M80.2 195.7L97.8 187M80.2 213.5L97.8 222.2M80.2 266.1L80.2 283.9M80.2 266.1L97.8 257.4M80.2 283.9L97.8 292.6M80.2 336.5L80.2 354.3M80.2 336.5L97.8 327.8M80.2 354.3L97.8 363M80.2 406.9L80.2 424.7M80.2 406.9L97.8 398.2M80.2 424.7L97.8 433.4M80.2 477.3L80.2 495.1M80.2 477.3L97.8 468.6M80.2 495.1L97.8 503.8M80.2 547.7L80.2 565.5M80.2 547.7L97.8 539M80.2 565.5L97.8 574.2M80.2 618.1L80.2 635.9M80.2 618.1L97.8 609.4M80.2 635.9L97.8 644.6M80.2 688.5L80.2 706.3M80.2 688.5L97.8 679.8M80.2 706.3L97.8 715M80.2 758.9L80.2 776.7M80.2 758.9L97.8 750.2M80.2 776.7L97.8 785.4M80.2 829.3L80.2 847.1M80.2 829.3L97.8 820.6M80.2 847.1L97.8 855.8M80.2 899.7L80.2 917.5M80.2 899.7L97.8 891M80.2 917.5L97.8 926.2M80.2 970.1L80.2 987.9M80.2 970.1L97.8 961.4M80.2 987.9L97.8 996.6M80.2 1040.5L80.2 1058.3M80.2 1040.5L97.8 1031.8M80.2 1058.3L97.8 1067M80.2 1110.9L80.2 1128.7M80.2 1110.9L97.8 1102.2M80.2 1128.7L97.8 1137.4M80.2 1181.3L80.2 1199.1M80.2 1181.3L97.8 1172.6M80.2 1199.1L97.8 1207.8M80.2 1251.7L80.2 1269.5M80.2 1251.7L97.8 1243M80.2 1269.5L97.8 1278.2M80.2 1322.1L80.2 1339.9M80.2 1322.1L97.8 1313.4M80.2 1339.9L97.8 1348.6M80.2 1392.5L97.8 1383.8M89.1 -41.8L97.8 -59.4M89.1 -41.8L97.8 -24.2M89.1 28.6L97.8 11M89.1 28.6L97.8 46.2M89.1 99L97.8 81.4M89.1 99L97.8 116.6M89.1 169.4L97.8 151.8M89.1 169.4L97.8 187M89.1 239.8L97.8 222.2M89.1 239.8L97.8 257.4M89.1 310.2L97.8 292.6M89.1 310.2L97.8 327.8M89.1 380.6L97.8 363M89.1 380.6L97.8 398.2M89.1 451L97.8 433.4M89.1 451L97.8 468.6M89.1 521.4L97.8 503.8M89.1 521.4L97.8 539M89.1 591.8L97.8 574.2M89.1 591.8L97.8 609.4M89.1 662.2L97.8 644.6M89.1 662.2L97.8 679.8M89.1 732.6L97.8 715M89.1 732.6L97.8 750.2M89.1 803L97.8 785.4M89.1 803L97.8 820.6M89.1 873.4L97.8 855.8M89.1 873.4L97.8 891M89.1 943.8L97.8 926.2M89.1 943.8L97.8 961.4M89.1 1014.2L97.8 996.6M89.1 1014.2L97.8 1031.8M89.1 1084.6L97.8 1067M89.1 1084.6L97.8 1102.2M89.1 1155L97.8 1137.4M89.1 1155L97.8 1172.6M89.1 1225.4L97.8 1207.8M89.1 1225.4L97.8 1243M89.1 1295.8L97.8 1278.2M89.1 1295.8L97.8 1313.4M89.1 1366.2L97.8 1348.6M89.1 1366.2L97.8 1383.8M97.8 -94.6L106.5 -77M97.8 -94.6L115.4 -103.3M97.8 -59.4L106.5 -77M97.8 -59.4L115.4 -50.7M97.8 -24.2L106.5 -6.6M97.8 -24.2L115.4 -32.9M97.8 11L106.5 -6.6M97.8 11L115.4 19.7M97.8 46.2L106.5 63.8M97.8 46.2L115.4 37.5M97.8 81.4L106.5 63.8M97.8 81.4L115.4 90.1M97.8 116.6L106.5 134.2M97.8 116.6L115.4 107.9M97.8 151.8L106.5 134.2M97.8 151.8L115.4 160.5M97.8 187L106.5 204.6M97.8 187L115.4 178.3M97.8 222.2L106.5 204.6M97.8 222.2L115.4 230.9M97.8 257.4L106.5 275M97.8 257.4L115.4 248.7M97.8 292.6L106.5 275M97.8 292.6L115.4 301.3M97.8 327.8L106.5 345.4M97.8 327.8L115.4 319.1M97.8 363L106.5 345.4M97.8 363L115.4 371.7M97.8 398.2L106.5 415.8M97.8 398.2L115.4 389.5M97.8 433.4L106.5 415.8M97.8 433.4L115.4 442.1M97.8 468.6L106.5 486.2M97.8 468.6L115.4 459.9M97.8 503.8L106.5 486.2M97.8 503.8L115.4 512.5M97.8 539L106.5 556.6M97.8 539L115.4 530.3M97.8 574.2L106.5 556.6M97.8 574.2L115.4 582.9M97.8 609.4L106.5 627M97.8 609.4L115.4 600.7M97.8 644.6L106.5 627M97.8 644.6L115.4 653.3M97.8 679.8L106.5 697.4M97.8 679.8L115.4 671.1M97.8 715L106.5 697.4M97.8 715L115.4 723.7M97.8 750.2L106.5 767.8M97.8 750.2L115.4 741.5M97.8 785.4L106.5 767.8M97.8 785.4L115.4 794.1M97.8 820.6L106.5 838.2M97.8 820.6L115.4 811.9M97.8 855.8L106.5 838.2M97.8 855.8L115.4 864.5M97.8 891L106.5 908.6M97.8 891L115.4 882.3M97.8 926.2L106.5 908.6M97.8 926.2L115.4 934.9M97.8 961.4L106.5 979M97.8 961.4L115.4 952.7M97.8 996.6L106.5 979M97.8 996.6L115.4 1005.3M97.8 1031.8L106.5 1049.4M97.8 1031.8L115.4 1023.1M97.8 1067L106.5 1049.4M97.8 1067L115.4 1075.7M97.8 1102.2L106.5 1119.8M97.8 1102.2L115.4 1093.5M97.8 1137.4L106.5 1119.8M97.8 1137.4L115.4 1146.1M97.8 1172.6L106.5 1190.2M97.8 1172.6L115.4 1163.9M97.8 1207.8L106.5 1190.2M97.8 1207.8L115.4 1216.5M97.8 1243L106.5 1260.6M97.8 1243L115.4 1234.3M97.8 1278.2L106.5 1260.6M97.8 1278.2L115.4 1286.9M97.8 1313.4L106.5 1331M97.8 1313.4L115.4 1304.7M97.8 1348.6L106.5 1331M97.8 1348.6L115.4 1357.3M97.8 1383.8L115.4 1375.1M106.5 -77L124.3 -77M106.5 -6.6L124.3 -6.6M106.5 63.8L124.3 63.8M106.5 134.2L124.3 134.2M106.5 204.6L124.3 204.6M106.5 275L124.3 275M106.5 345.4L124.3 345.4M106.5 415.8L124.3 415.8M106.5 486.2L124.3 486.2M106.5 556.6L124.3 556.6M106.5 627L124.3 627M106.5 697.4L124.3 697.4M106.5 767.8L124.3 767.8M106.5 838.2L124.3 838.2M106.5 908.6L124.3 908.6M106.5 979L124.3 979M106.5 1049.4L124.3 1049.4M106.5 1119.8L124.3 1119.8M106.5 1190.2L124.3 1190.2M106.5 1260.6L124.3 1260.6M106.5 1331L124.3 1331M115.4 -103.3L133 -94.6M115.4 -50.7L115.4 -32.9M115.4 -50.7L133 -59.4M115.4 -32.9L133 -24.2M115.4 19.7L115.4 37.5M115.4 19.7L133 11M115.4 37.5L133 46.2M115.4 90.1L115.4 107.9M115.4 90.1L133 81.4M115.4 107.9L133 116.6M115.4 160.5L115.4 178.3M115.4 160.5L133 151.8M115.4 178.3L133 187M115.4 230.9L115.4 248.7M115.4 230.9L133 222.2M115.4 248.7L133 257.4M115.4 301.3L115.4 319.1M115.4 301.3L133 292.6M115.4 319.1L133 327.8M115.4 371.7L115.4 389.5M115.4 371.7L133 363M115.4 389.5L133 398.2M115.4 442.1L115.4 459.9M115.4 442.1L133 433.4M115.4 459.9L133 468.6M115.4 512.5L115.4 530.3M115.4 512.5L133 503.8M115.4 530.3L133 539M115.4 582.9L115.4 600.7M115.4 582.9L133 574.2M115.4 600.7L133 609.4M115.4 653.3L115.4 671.1M115.4 653.3L133 644.6M115.4 671.1L133 679.8M115.4 723.7L115.4 741.5M115.4 723.7L133 715M115.4 741.5L133 750.2M115.4 794.1L115.4 811.9M115.4 794.1L133 785.4M115.4 811.9L133 820.6M115.4 864.5L115.4 882.3M115.4 864.5L133 855.8M115.4 882.3L133 891M115.4 934.9L115.4 952.7M115.4 934.9L133 926.2M115.4 952.7L133 961.4M115.4 1005.3L115.4 1023.1M115.4 1005.3L133 996.6M115.4 1023.1L133 1031.8M115.4 1075.7L115.4 1093.5M115.4 1075.7L133 1067M115.4 1093.5L133 1102.2M115.4 1146.1L115.4 1163.9M115.4 1146.1L133 1137.4M115.4 1163.9L133 1172.6M115.4 1216.5L115.4 1234.3M115.4 1216.5L133 1207.8M115.4 1234.3L133 1243M115.4 1286.9L115.4 1304.7M115.4 1286.9L133 1278.2M115.4 1304.7L133 1313.4M115.4 1357.3L115.4 1375.1M115.4 1357.3L133 1348.6M115.4 1375.1L133 1383.8M124.3 -77L133 -94.6M124.3 -77L133 -59.4M124.3 -6.6L133 -24.2M124.3 -6.6L133 11M124.3 63.8L133 46.2M124.3 63.8L133 81.4M124.3 134.2L133 116.6M124.3 134.2L133 151.8M124.3 204.6L133 187M124.3 204.6L133 222.2M124.3 275L133 257.4M124.3 275L133 292.6M124.3 345.4L133 327.8M124.3 345.4L133 363M124.3 415.8L133 398.2M124.3 415.8L133 433.4M124.3 486.2L133 468.6M124.3 486.2L133 503.8M124.3 556.6L133 539M124.3 556.6L133 574.2M124.3 627L133 609.4M124.3 627L133 644.6M124.3 697.4L133 679.8M124.3 697.4L133 715M124.3 767.8L133 750.2M124.3 767.8L133 785.4M124.3 838.2L133 820.6M124.3 838.2L133 855.8M124.3 908.6L133 891M124.3 908.6L133 926.2M124.3 979L133 961.4M124.3 979L133 996.6M124.3 1049.4L133 1031.8M124.3 1049.4L133 1067M124.3 1119.8L133 1102.2M124.3 1119.8L133 1137.4M124.3 1190.2L133 1172.6M124.3 1190.2L133 1207.8M124.3 1260.6L133 1243M124.3 1260.6L133 1278.2M124.3 1331L133 1313.4M124.3 1331L133 1348.6M133 -94.6L150.6 -85.9M133 -59.4L141.7 -41.8M133 -59.4L150.6 -68.1M133 -24.2L141.7 -41.8M133 -24.2L150.6 -15.5M133 11L141.7 28.6M133 11L150.6 2.3M133 46.2L141.7 28.6M133 46.2L150.6 54.9M133 81.4L141.7 99M133 81.4L150.6 72.7M133 116.6L141.7 99M133 116.6L150.6 125.3M133 151.8L141.7 169.4M133 151.8L150.6 143.1M133 187L141.7 169.4M133 187L150.6 195.7M133 222.2L141.7 239.8M133 222.2L150.6 213.5M133 257.4L141.7 239.8M133 257.4L150.6 266.1M133 292.6L141.7 310.2M133 292.6L150.6 283.9M133 327.8L141.7 310.2M133 327.8L150.6 336.5M133 363L141.7 380.6M133 363L150.6 354.3M133 398.2L141.7 380.6M133 398.2L150.6 406.9M133 433.4L141.7 451M133 433.4L150.6 424.7M133 468.6L141.7 451M133 468.6L150.6 477.3M133 503.8L141.7 521.4M133 503.8L150.6 495.1M133 539L141.7 521.4M133 539L150.6 547.7M133 574.2L141.7 591.8M133 574.2L150.6 565.5M133 609.4L141.7 591.8M133 609.4L150.6 618.1M133 644.6L141.7 662.2M133 644.6L150.6 635.9M133 679.8L141.7 662.2M133 679.8L150.6 688.5M133 715L141.7 732.6M133 715L150.6 706.3M133 750.2L141.7 732.6M133 750.2L150.6 758.9M133 785.4L141.7 803M133 785.4L150.6 776.7M133 820.6L141.7 803M133 820.6L150.6 829.3M133 855.8L141.7 873.4M133 855.8L150.6 847.1M133 891L141.7 873.4M133 891L150.6 899.7M133 926.2L141.7 943.8M133 926.2L150.6 917.5M133 961.4L141.7 943.8M133 961.4L150.6 970.1M133 996.6L141.7 1014.2M133 996.6L150.6 987.9M133 1031.8L141.7 1014.2M133 1031.8L150.6 1040.5M133 1067L141.7 1084.6M133 1067L150.6 1058.3M133 1102.2L141.7 1084.6M133 1102.2L150.6 1110.9M133 1137.4L141.7 1155M133 1137.4L150.6 1128.7M133 1172.6L141.7 1155M133 1172.6L150.6 1181.3M133 1207.8L141.7 1225.4M133 1207.8L150.6 1199.1M133 1243L141.7 1225.4M133 1243L150.6 1251.7M133 1278.2L141.7 1295.8M133 1278.2L150.6 1269.5M133 1313.4L141.7 1295.8M133 1313.4L150.6 1322.1M133 1348.6L141.7 1366.2M133 1348.6L150.6 1339.9M133 1383.8L141.7 1366.2M133 1383.8L150.6 1392.5M141.7 -41.8L159.5 -41.8M141.7 28.6L159.5 28.6M141.7 99L159.5 99M141.7 169.4L159.5 169.4M141.7 239.8L159.5 239.8M141.7 310.2L159.5 310.2M141.7 380.6L159.5 380.6M141.7 451L159.5 451M141.7 521.4L159.5 521.4M141.7 591.8L159.5 591.8M141.7 662.2L159.5 662.2M141.7 732.6L159.5 732.6M141.7 803L159.5 803M141.7 873.4L159.5 873.4M141.7 943.8L159.5 943.8M141.7 1014.2L159.5 1014.2M141.7 1084.6L159.5 1084.6M141.7 1155L159.5 1155M141.7 1225.4L159.5 1225.4M141.7 1295.8L159.5 1295.8M141.7 1366.2L159.5 1366.2M150.6 -85.9L150.6 -68.1M150.6 -85.9L168.2 -94.6M150.6 -68.1L168.2 -59.4M150.6 -15.5L150.6 2.3M150.6 -15.5L168.2 -24.2M150.6 2.3L168.2 11M150.6 54.9L150.6 72.7M150.6 54.9L168.2 46.2M150.6 72.7L168.2 81.4M150.6 125.3L150.6 143.1M150.6 125.3L168.2 116.6M150.6 143.1L168.2 151.8M150.6 195.7L150.6 213.5M150.6 195.7L168.2 187M150.6 213.5L168.2 222.2M150.6 266.1L150.6 283.9M150.6 266.1L168.2 257.4M150.6 283.9L168.2 292.6M150.6 336.5L150.6 354.3M150.6 336.5L168.2 327.8M150.6 354.3L168.2 363M150.6 406.9L150.6 424.7M150.6 406.9L168.2 398.2M150.6 424.7L168.2 433.4M150.6 477.3L150.6 495.1M150.6 477.3L168.2 468.6M150.6 495.1L168.2 503.8M150.6 547.7L150.6 565.5M150.6 547.7L168.2 539M150.6 565.5L168.2 574.2M150.6 618.1L150.6 635.9M150.6 618.1L168.2 609.4M150.6 635.9L168.2 644.6M150.6 688.5L150.6 706.3M150.6 688.5L168.2 679.8M150.6 706.3L168.2 715M150.6 758.9L150.6 776.7M150.6 758.9L168.2 750.2M150.6 776.7L168.2 785.4M150.6 829.3L150.6 847.1M150.6 829.3L168.2 820.6M150.6 847.1L168.2 855.8M150.6 899.7L150.6 917.5M150.6 899.7L168.2 891M150.6 917.5L168.2 926.2M150.6 970.1L150.6 987.9M150.6 970.1L168.2 961.4M150.6 987.9L168.2 996.6M150.6 1040.5L150.6 1058.3M150.6 1040.5L168.2 1031.8M150.6 1058.3L168.2 1067M150.6 1110.9L150.6 1128.7M150.6 1110.9L168.2 1102.2M150.6 1128.7L168.2 1137.4M150.6 1181.3L150.6 1199.1M150.6 1181.3L168.2 1172.6M150.6 1199.1L168.2 1207.8M150.6 1251.7L150.6 1269.5M150.6 1251.7L168.2 1243M150.6 1269.5L168.2 1278.2M150.6 1322.1L150.6 1339.9M150.6 1322.1L168.2 1313.4M150.6 1339.9L168.2 1348.6M150.6 1392.5L168.2 1383.8M159.5 -41.8L168.2 -59.4M159.5 -41.8L168.2 -24.2M159.5 28.6L168.2 11M159.5 28.6L168.2 46.2M159.5 99L168.2 81.4M159.5 99L168.2 116.6M159.5 169.4L168.2 151.8M159.5 169.4L168.2 187M159.5 239.8L168.2 222.2M159.5 239.8L168.2 257.4M159.5 310.2L168.2 292.6M159.5 310.2L168.2 327.8M159.5 380.6L168.2 363M159.5 380.6L168.2 398.2M159.5 451L168.2 433.4M159.5 451L168.2 468.6M159.5 521.4L168.2 503.8M159.5 521.4L168.2 539M159.5 591.8L168.2 574.2M159.5 591.8L168.2 609.4M159.5 662.2L168.2 644.6M159.5 662.2L168.2 679.8M159.5 732.6L168.2 715M159.5 732.6L168.2 750.2M159.5 803L168.2 785.4M159.5 803L168.2 820.6M159.5 873.4L168.2 855.8M159.5 873.4L168.2 891M159.5 943.8L168.2 926.2M159.5 943.8L168.2 961.4M159.5 1014.2L168.2 996.6M159.5 1014.2L168.2 1031.8M159.5 1084.6L168.2 1067M159.5 1084.6L168.2 1102.2M159.5 1155L168.2 1137.4M159.5 1155L168.2 1172.6M159.5 1225.4L168.2 1207.8M159.5 1225.4L168.2 1243M159.5 1295.8L168.2 1278.2M159.5 1295.8L168.2 1313.4M159.5 1366.2L168.2 1348.6M159.5 1366.2L168.2 1383.8M168.2 -94.6L176.9 -77M168.2 -94.6L185.8 -103.3M168.2 -59.4L176.9 -77M168.2 -59.4L185.8 -50.7M168.2 -24.2L176.9 -6.6M168.2 -24.2L185.8 -32.9M168.2 11L176.9 -6.6M168.2 11L185.8 19.7M168.2 46.2L176.9 63.8M168.2 46.2L185.8 37.5M168.2 81.4L176.9 63.8M168.2 81.4L185.8 90.1M168.2 116.6L176.9 134.2M168.2 116.6L185.8 107.9M168.2 151.8L176.9 134.2M168.2 151.8L185.8 160.5M168.2 187L176.9 204.6M168.2 187L185.8 178.3M168.2 222.2L176.9 204.6M168.2 222.2L185.8 230.9M168.2 257.4L176.9 275M168.2 257.4L185.8 248.7M168.2 292.6L176.9 275M168.2 292.6L185.8 301.3M168.2 327.8L176.9 345.4M168.2 327.8L185.8 319.1M168.2 363L176.9 345.4M168.2 363L185.8 371.7M168.2 398.2L176.9 415.8M168.2 398.2L185.8 389.5M168.2 433.4L176.9 415.8M168.2 433.4L185.8 442.1M168.2 468.6L176.9 486.2M168.2 468.6L185.8 459.9M168.2 503.8L176.9 486.2M168.2 503.8L185.8 512.5M168.2 539L176.9 556.6M168.2 539L185.8 530.3M168.2 574.2L176.9 556.6M168.2 574.2L185.8 582.9M168.2 609.4L176.9 627M168.2 609.4L185.8 600.7M168.2 644.6L176.9 627M168.2 644.6L185.8 653.3M168.2 679.8L176.9 697.4M168.2 679.8L185.8 671.1M168.2 715L176.9 697.4M168.2 715L185.8 723.7M168.2 750.2L176.9 767.8M168.2 750.2L185.8 741.5M168.2 785.4L176.9 767.8M168.2 785.4L185.8 794.1M168.2 820.6L176.9 838.2M168.2 820.6L185.8 811.9M168.2 855.8L176.9 838.2M168.2 855.8L185.8 864.5M168.2 891L176.9 908.6M168.2 891L185.8 882.3M168.2 926.2L176.9 908.6M168.2 926.2L185.8 934.9M168.2 961.4L176.9 979M168.2 961.4L185.8 952.7M168.2 996.6L176.9 979M168.2 996.6L185.8 1005.3M168.2 1031.8L176.9 1049.4M168.2 1031.8L185.8 1023.1M168.2 1067L176.9 1049.4M168.2 1067L185.8 1075.7M168.2 1102.2L176.9 1119.8M168.2 1102.2L185.8 1093.5M168.2 1137.4L176.9 1119.8M168.2 1137.4L185.8 1146.1M168.2 1172.6L176.9 1190.2M168.2 1172.6L185.8 1163.9M168.2 1207.8L176.9 1190.2M168.2 1207.8L185.8 1216.5M168.2 1243L176.9 1260.6M168.2 1243L185.8 1234.3M168.2 1278.2L176.9 1260.6M168.2 1278.2L185.8 1286.9M168.2 1313.4L176.9 1331M168.2 1313.4L185.8 1304.7M168.2 1348.6L176.9 1331M168.2 1348.6L185.8 1357.3M168.2 1383.8L185.8 1375.1M176.9 -77L194.7 -77M176.9 -6.6L194.7 -6.6M176.9 63.8L194.7 63.8M176.9 134.2L194.7 134.2M176.9 204.6L194.7 204.6M176.9 275L194.7 275M176.9 345.4L194.7 345.4M176.9 415.8L194.7 415.8M176.9 486.2L194.7 486.2M176.9 556.6L194.7 556.6M176.9 627L194.7 627M176.9 697.4L194.7 697.4M176.9 767.8L194.7 767.8M176.9 838.2L194.7 838.2M176.9 908.6L194.7 908.6M176.9 979L194.7 979M176.9 1049.4L194.7 1049.4M176.9 1119.8L194.7 1119.8M176.9 1190.2L194.7 1190.2M176.9 1260.6L194.7 1260.6M176.9 1331L194.7 1331M185.8 -103.3L203.4 -94.6M185.8 -50.7L185.8 -32.9M185.8 -50.7L203.4 -59.4M185.8 -32.9L203.4 -24.2M185.8 19.7L185.8 37.5M185.8 19.7L203.4 11M185.8 37.5L203.4 46.2M185.8 90.1L185.8 107.9M185.8 90.1L203.4 81.4M185.8 107.9L203.4 116.6M185.8 160.5L185.8 178.3M185.8 160.5L203.4 151.8M185.8 178.3L203.4 187M185.8 230.9L185.8 248.7M185.8 230.9L203.4 222.2M185.8 248.7L203.4 257.4M185.8 301.3L185.8 319.1M185.8 301.3L203.4 292.6M185.8 319.1L203.4 327.8M185.8 371.7L185.8 389.5M185.8 371.7L203.4 363M185.8 389.5L203.4 398.2M185.8 442.1L185.8 459.9M185.8 442.1L203.4 433.4M185.8 459.9L203.4 468.6M185.8 512.5L185.8 530.3M185.8 512.5L203.4 503.8M185.8 530.3L203.4 539M185.8 582.9L185.8 600.7M185.8 582.9L203.4 574.2M185.8 600.7L203.4 609.4M185.8 653.3L185.8 671.1M185.8 653.3L203.4 644.6M185.8 671.1L203.4 679.8M185.8 723.7L185.8 741.5M185.8 723.7L203.4 715M185.8 741.5L203.4 750.2M185.8 794.1L185.8 811.9M185.8 794.1L203.4 785.4M185.8 811.9L203.4 820.6M185.8 864.5L185.8 882.3M185.8 864.5L203.4 855.8M185.8 882.3L203.4 891M185.8 934.9L185.8 952.7M185.8 934.9L203.4 926.2M185.8 952.7L203.4 961.4M185.8 1005.3L185.8 1023.1M185.8 1005.3L203.4 996.6M185.8 1023.1L203.4 1031.8M185.8 1075.7L185.8 1093.5M185.8 1075.7L203.4 1067M185.8 1093.5L203.4 1102.2M185.8 1146.1L185.8 1163.9M185.8 1146.1L203.4 1137.4M185.8 1163.9L203.4 1172.6M185.8 1216.5L185.8 1234.3M185.8 1216.5L203.4 1207.8M185.8 1234.3L203.4 1243M185.8 1286.9L185.8 1304.7M185.8 1286.9L203.4 1278.2M185.8 1304.7L203.4 1313.4M185.8 1357.3L185.8 1375.1M185.8 1357.3L203.4 1348.6M185.8 1375.1L203.4 1383.8M194.7 -77L203.4 -94.6M194.7 -77L203.4 -59.4M194.7 -6.6L203.4 -24.2M194.7 -6.6L203.4 11M194.7 63.8L203.4 46.2M194.7 63.8L203.4 81.4M194.7 134.2L203.4 116.6M194.7 134.2L203.4 151.8M194.7 204.6L203.4 187M194.7 204.6L203.4 222.2M194.7 275L203.4 257.4M194.7 275L203.4 292.6M194.7 345.4L203.4 327.8M194.7 345.4L203.4 363M194.7 415.8L203.4 398.2M194.7 415.8L203.4 433.4M194.7 486.2L203.4 468.6M194.7 486.2L203.4 503.8M194.7 556.6L203.4 539M194.7 556.6L203.4 574.2M194.7 627L203.4 609.4M194.7 627L203.4 644.6M194.7 697.4L203.4 679.8M194.7 697.4L203.4 715M194.7 767.8L203.4 750.2M194.7 767.8L203.4 785.4M194.7 838.2L203.4 820.6M194.7 838.2L203.4 855.8M194.7 908.6L203.4 891M194.7 908.6L203.4 926.2M194.7 979L203.4 961.4M194.7 979L203.4 996.6M194.7 1049.4L203.4 1031.8M194.7 1049.4L203.4 1067M194.7 1119.8L203.4 1102.2M194.7 1119.8L203.4 1137.4M194.7 1190.2L203.4 1172.6M194.7 1190.2L203.4 1207.8M194.7 1260.6L203.4 1243M194.7 1260.6L203.4 1278.2M194.7 1331L203.4 1313.4M194.7 1331L203.4 1348.6M203.4 -94.6L221 -85.9M203.4 -59.4L212.1 -41.8M203.4 -59.4L221 -68.1M203.4 -24.2L212.1 -41.8M203.4 -24.2L221 -15.5M203.4 11L212.1 28.6M203.4 11L221 2.3M203.4 46.2L212.1 28.6M203.4 46.2L221 54.9M203.4 81.4L212.1 99M203.4 81.4L221 72.7M203.4 116.6L212.1 99M203.4 116.6L221 125.3M203.4 151.8L212.1 169.4M203.4 151.8L221 143.1M203.4 187L212.1 169.4M203.4 187L221 195.7M203.4 222.2L212.1 239.8M203.4 222.2L221 213.5M203.4 257.4L212.1 239.8M203.4 257.4L221 266.1M203.4 292.6L212.1 310.2M203.4 292.6L221 283.9M203.4 327.8L212.1 310.2M203.4 327.8L221 336.5M203.4 363L212.1 380.6M203.4 363L221 354.3M203.4 398.2L212.1 380.6M203.4 398.2L221 406.9M203.4 433.4L212.1 451M203.4 433.4L221 424.7M203.4 468.6L212.1 451M203.4 468.6L221 477.3M203.4 503.8L212.1 521.4M203.4 503.8L221 495.1M203.4 539L212.1 521.4M203.4 539L221 547.7M203.4 574.2L212.1 591.8M203.4 574.2L221 565.5M203.4 609.4L212.1 591.8M203.4 609.4L221 618.1M203.4 644.6L212.1 662.2M203.4 644.6L221 635.9M203.4 679.8L212.1 662.2M203.4 679.8L221 688.5M203.4 715L212.1 732.6M203.4 715L221 706.3M203.4 750.2L212.1 732.6M203.4 750.2L221 758.9M203.4 785.4L212.1 803M203.4 785.4L221 776.7M203.4 820.6L212.1 803M203.4 820.6L221 829.3M203.4 855.8L212.1 873.4M203.4 855.8L221 847.1M203.4 891L212.1 873.4M203.4 891L221 899.7M203.4 926.2L212.1 943.8M203.4 926.2L221 917.5M203.4 961.4L212.1 943.8M203.4 961.4L221 970.1M203.4 996.6L212.1 1014.2M203.4 996.6L221 987.9M203.4 1031.8L212.1 1014.2M203.4 1031.8L221 1040.5M203.4 1067L212.1 1084.6M203.4 1067L221 1058.3M203.4 1102.2L212.1 1084.6M203.4 1102.2L221 1110.9M203.4 1137.4L212.1 1155M203.4 1137.4L221 1128.7M203.4 1172.6L212.1 1155M203.4 1172.6L221 1181.3M203.4 1207.8L212.1 1225.4M203.4 1207.8L221 1199.1M203.4 1243L212.1 1225.4M203.4 1243L221 1251.7M203.4 1278.2L212.1 1295.8M203.4 1278.2L221 1269.5M203.4 1313.4L212.1 1295.8M203.4 1313.4L221 1322.1M203.4 1348.6L212.1 1366.2M203.4 1348.6L221 1339.9M203.4 1383.8L212.1 1366.2M203.4 1383.8L221 1392.5M212.1 -41.8L229.9 -41.8M212.1 28.6L229.9 28.6M212.1 99L229.9 99M212.1 169.4L229.9 169.4M212.1 239.8L229.9 239.8M212.1 310.2L229.9 310.2M212.1 380.6L229.9 380.6M212.1 451L229.9 451M212.1 521.4L229.9 521.4M212.1 591.8L229.9 591.8M212.1 662.2L229.9 662.2M212.1 732.6L229.9 732.6M212.1 803L229.9 803M212.1 873.4L229.9 873.4M212.1 943.8L229.9 943.8M212.1 1014.2L229.9 1014.2M212.1 1084.6L229.9 1084.6M212.1 1155L229.9 1155M212.1 1225.4L229.9 1225.4M212.1 1295.8L229.9 1295.8M212.1 1366.2L229.9 1366.2M221 -85.9L221 -68.1M221 -85.9L238.6 -94.6M221 -68.1L238.6 -59.4M221 -15.5L221 2.3M221 -15.5L238.6 -24.2M221 2.3L238.6 11M221 54.9L221 72.7M221 54.9L238.6 46.2M221 72.7L238.6 81.4M221 125.3L221 143.1M221 125.3L238.6 116.6M221 143.1L238.6 151.8M221 195.7L221 213.5M221 195.7L238.6 187M221 213.5L238.6 222.2M221 266.1L221 283.9M221 266.1L238.6 257.4M221 283.9L238.6 292.6M221 336.5L221 354.3M221 336.5L238.6 327.8M221 354.3L238.6 363M221 406.9L221 424.7M221 406.9L238.6 398.2M221 424.7L238.6 433.4M221 477.3L221 495.1M221 477.3L238.6 468.6M221 495.1L238.6 503.8M221 547.7L221 565.5M221 547.7L238.6 539M221 565.5L238.6 574.2M221 618.1L221 635.9M221 618.1L238.6 609.4M221 635.9L238.6 644.6M221 688.5L221 706.3M221 688.5L238.6 679.8M221 706.3L238.6 715M221 758.9L221 776.7M221 758.9L238.6 750.2M221 776.7L238.6 785.4M221 829.3L221 847.1M221 829.3L238.6 820.6M221 847.1L238.6 855.8M221 899.7L221 917.5M221 899.7L238.6 891M221 917.5L238.6 926.2M221 970.1L221 987.9M221 970.1L238.6 961.4M221 987.9L238.6 996.6M221 1040.5L221 1058.3M221 1040.5L238.6 1031.8M221 1058.3L238.6 1067M221 1110.9L221 1128.7M221 1110.9L238.6 1102.2M221 1128.7L238.6 1137.4M221 1181.3L221 1199.1M221 1181.3L238.6 1172.6M221 1199.1L238.6 1207.8M221 1251.7L221 1269.5M221 1251.7L238.6 1243M221 1269.5L238.6 1278.2M221 1322.1L221 1339.9M221 1322.1L238.6 1313.4M221 1339.9L238.6 1348.6M221 1392.5L238.6 1383.8M229.9 -41.8L238.6 -59.4M229.9 -41.8L238.6 -24.2M229.9 28.6L238.6 11M229.9 28.6L238.6 46.2M229.9 99L238.6 81.4M229.9 99L238.6 116.6M229.9 169.4L238.6 151.8M229.9 169.4L238.6 187M229.9 239.8L238.6 222.2M229.9 239.8L238.6 257.4M229.9 310.2L238.6 292.6M229.9 310.2L238.6 327.8M229.9 380.6L238.6 363M229.9 380.6L238.6 398.2M229.9 451L238.6 433.4M229.9 451L238.6 468.6M229.9 521.4L238.6 503.8M229.9 521.4L238.6 539M229.9 591.8L238.6 574.2M229.9 591.8L238.6 609.4M229.9 662.2L238.6 644.6M229.9 662.2L238.6 679.8M229.9 732.6L238.6 715M229.9 732.6L238.6 750.2M229.9 803L238.6 785.4M229.9 803L238.6 820.6M229.9 873.4L238.6 855.8M229.9 873.4L238.6 891M229.9 943.8L238.6 926.2M229.9 943.8L238.6 961.4M229.9 1014.2L238.6 996.6M229.9 1014.2L238.6 1031.8M229.9 1084.6L238.6 1067M229.9 1084.6L238.6 1102.2M229.9 1155L238.6 1137.4M229.9 1155L238.6 1172.6M229.9 1225.4L238.6 1207.8M229.9 1225.4L238.6 1243M229.9 1295.8L238.6 1278.2M229.9 1295.8L238.6 1313.4M229.9 1366.2L238.6 1348.6M229.9 1366.2L238.6 1383.8M238.6 -94.6L247.3 -77M238.6 -94.6L256.2 -103.3M238.6 -59.4L247.3 -77M238.6 -59.4L256.2 -50.7M238.6 -24.2L247.3 -6.6M238.6 -24.2L256.2 -32.9M238.6 11L247.3 -6.6M238.6 11L256.2 19.7M238.6 46.2L247.3 63.8M238.6 46.2L256.2 37.5M238.6 81.4L247.3 63.8M238.6 81.4L256.2 90.1M238.6 116.6L247.3 134.2M238.6 116.6L256.2 107.9M238.6 151.8L247.3 134.2M238.6 151.8L256.2 160.5M238.6 187L247.3 204.6M238.6 187L256.2 178.3M238.6 222.2L247.3 204.6M238.6 222.2L256.2 230.9M238.6 257.4L247.3 275M238.6 257.4L256.2 248.7M238.6 292.6L247.3 275M238.6 292.6L256.2 301.3M238.6 327.8L247.3 345.4M238.6 327.8L256.2 319.1M238.6 363L247.3 345.4M238.6 363L256.2 371.7M238.6 398.2L247.3 415.8M238.6 398.2L256.2 389.5M238.6 433.4L247.3 415.8M238.6 433.4L256.2 442.1M238.6 468.6L247.3 486.2M238.6 468.6L256.2 459.9M238.6 503.8L247.3 486.2M238.6 503.8L256.2 512.5M238.6 539L247.3 556.6M238.6 539L256.2 530.3M238.6 574.2L247.3 556.6M238.6 574.2L256.2 582.9M238.6 609.4L247.3 627M238.6 609.4L256.2 600.7M238.6 644.6L247.3 627M238.6 644.6L256.2 653.3M238.6 679.8L247.3 697.4M238.6 679.8L256.2 671.1M238.6 715L247.3 697.4M238.6 715L256.2 723.7M238.6 750.2L247.3 767.8M238.6 750.2L256.2 741.5M238.6 785.4L247.3 767.8M238.6 785.4L256.2 794.1M238.6 820.6L247.3 838.2M238.6 820.6L256.2 811.9M238.6 855.8L247.3 838.2M238.6 855.8L256.2 864.5M238.6 891L247.3 908.6M238.6 891L256.2 882.3M238.6 926.2L247.3 908.6M238.6 926.2L256.2 934.9M238.6 961.4L247.3 979M238.6 961.4L256.2 952.7M238.6 996.6L247.3 979M238.6 996.6L256.2 1005.3M238.6 1031.8L247.3 1049.4M238.6 1031.8L256.2 1023.1M238.6 1067L247.3 1049.4M238.6 1067L256.2 1075.7M238.6 1102.2L247.3 1119.8M238.6 1102.2L256.2 1093.5M238.6 1137.4L247.3 1119.8M238.6 1137.4L256.2 1146.1M238.6 1172.6L247.3 1190.2M238.6 1172.6L256.2 1163.9M238.6 1207.8L247.3 1190.2M238.6 1207.8L256.2 1216.5M238.6 1243L247.3 1260.6M238.6 1243L256.2 1234.3M238.6 1278.2L247.3 1260.6M238.6 1278.2L256.2 1286.9M238.6 1313.4L247.3 1331M238.6 1313.4L256.2 1304.7M238.6 1348.6L247.3 1331M238.6 1348.6L256.2 1357.3M238.6 1383.8L256.2 1375.1M247.3 -77L265.1 -77M247.3 -6.6L265.1 -6.6M247.3 63.8L265.1 63.8M247.3 134.2L265.1 134.2M247.3 204.6L265.1 204.6M247.3 275L265.1 275M247.3 345.4L265.1 345.4M247.3 415.8L265.1 415.8M247.3 486.2L265.1 486.2M247.3 556.6L265.1 556.6M247.3 627L265.1 627M247.3 697.4L265.1 697.4M247.3 767.8L265.1 767.8M247.3 838.2L265.1 838.2M247.3 908.6L265.1 908.6M247.3 979L265.1 979M247.3 1049.4L265.1 1049.4M247.3 1119.8L265.1 1119.8M247.3 1190.2L265.1 1190.2M247.3 1260.6L265.1 1260.6M247.3 1331L265.1 1331M256.2 -103.3L273.8 -94.6M256.2 -50.7L256.2 -32.9M256.2 -50.7L273.8 -59.4M256.2 -32.9L273.8 -24.2M256.2 19.7L256.2 37.5M256.2 19.7L273.8 11M256.2 37.5L273.8 46.2M256.2 90.1L256.2 107.9M256.2 90.1L273.8 81.4M256.2 107.9L273.8 116.6M256.2 160.5L256.2 178.3M256.2 160.5L273.8 151.8M256.2 178.3L273.8 187M256.2 230.9L256.2 248.7M256.2 230.9L273.8 222.2M256.2 248.7L273.8 257.4M256.2 301.3L256.2 319.1M256.2 301.3L273.8 292.6M256.2 319.1L273.8 327.8M256.2 371.7L256.2 389.5M256.2 371.7L273.8 363M256.2 389.5L273.8 398.2M256.2 442.1L256.2 459.9M256.2 442.1L273.8 433.4M256.2 459.9L273.8 468.6M256.2 512.5L256.2 530.3M256.2 512.5L273.8 503.8M256.2 530.3L273.8 539M256.2 582.9L256.2 600.7M256.2 582.9L273.8 574.2M256.2 600.7L273.8 609.4M256.2 653.3L256.2 671.1M256.2 653.3L273.8 644.6M256.2 671.1L273.8 679.8M256.2 723.7L256.2 741.5M256.2 723.7L273.8 715M256.2 741.5L273.8 750.2M256.2 794.1L256.2 811.9M256.2 794.1L273.8 785.4M256.2 811.9L273.8 820.6M256.2 864.5L256.2 882.3M256.2 864.5L273.8 855.8M256.2 882.3L273.8 891M256.2 934.9L256.2 952.7M256.2 934.9L273.8 926.2M256.2 952.7L273.8 961.4M256.2 1005.3L256.2 1023.1M256.2 1005.3L273.8 996.6M256.2 1023.1L273.8 1031.8M256.2 1075.7L256.2 1093.5M256.2 1075.7L273.8 1067M256.2 1093.5L273.8 1102.2M256.2 1146.1L256.2 1163.9M256.2 1146.1L273.8 1137.4M256.2 1163.9L273.8 1172.6M256.2 1216.5L256.2 1234.3M256.2 1216.5L273.8 1207.8M256.2 1234.3L273.8 1243M256.2 1286.9L256.2 1304.7M256.2 1286.9L273.8 1278.2M256.2 1304.7L273.8 1313.4M256.2 1357.3L256.2 1375.1M256.2 1357.3L273.8 1348.6M256.2 1375.1L273.8 1383.8M265.1 -77L273.8 -94.6M265.1 -77L273.8 -59.4M265.1 -6.6L273.8 -24.2M265.1 -6.6L273.8 11M265.1 63.8L273.8 46.2M265.1 63.8L273.8 81.4M265.1 134.2L273.8 116.6M265.1 134.2L273.8 151.8M265.1 204.6L273.8 187M265.1 204.6L273.8 222.2M265.1 275L273.8 257.4M265.1 275L273.8 292.6M265.1 345.4L273.8 327.8M265.1 345.4L273.8 363M265.1 415.8L273.8 398.2M265.1 415.8L273.8 433.4M265.1 486.2L273.8 468.6M265.1 486.2L273.8 503.8M265.1 556.6L273.8 539M265.1 556.6L273.8 574.2M265.1 627L273.8 609.4M265.1 627L273.8 644.6M265.1 697.4L273.8 679.8M265.1 697.4L273.8 715M265.1 767.8L273.8 750.2M265.1 767.8L273.8 785.4M265.1 838.2L273.8 820.6M265.1 838.2L273.8 855.8M265.1 908.6L273.8 891M265.1 908.6L273.8 926.2M265.1 979L273.8 961.4M265.1 979L273.8 996.6M265.1 1049.4L273.8 1031.8M265.1 1049.4L273.8 1067M265.1 1119.8L273.8 1102.2M265.1 1119.8L273.8 1137.4M265.1 1190.2L273.8 1172.6M265.1 1190.2L273.8 1207.8M265.1 1260.6L273.8 1243M265.1 1260.6L273.8 1278.2M265.1 1331L273.8 1313.4M265.1 1331L273.8 1348.6M273.8 -94.6L291.4 -85.9M273.8 -59.4L282.5 -41.8M273.8 -59.4L291.4 -68.1M273.8 -24.2L282.5 -41.8M273.8 -24.2L291.4 -15.5M273.8 11L282.5 28.6M273.8 11L291.4 2.3M273.8 46.2L282.5 28.6M273.8 46.2L291.4 54.9M273.8 81.4L282.5 99M273.8 81.4L291.4 72.7M273.8 116.6L282.5 99M273.8 116.6L291.4 125.3M273.8 151.8L282.5 169.4M273.8 151.8L291.4 143.1M273.8 187L282.5 169.4M273.8 187L291.4 195.7M273.8 222.2L282.5 239.8M273.8 222.2L291.4 213.5M273.8 257.4L282.5 239.8M273.8 257.4L291.4 266.1M273.8 292.6L282.5 310.2M273.8 292.6L291.4 283.9M273.8 327.8L282.5 310.2M273.8 327.8L291.4 336.5M273.8 363L282.5 380.6M273.8 363L291.4 354.3M273.8 398.2L282.5 380.6M273.8 398.2L291.4 406.9M273.8 433.4L282.5 451M273.8 433.4L291.4 424.7M273.8 468.6L282.5 451M273.8 468.6L291.4 477.3M273.8 503.8L282.5 521.4M273.8 503.8L291.4 495.1M273.8 539L282.5 521.4M273.8 539L291.4 547.7M273.8 574.2L282.5 591.8M273.8 574.2L291.4 565.5M273.8 609.4L282.5 591.8M273.8 609.4L291.4 618.1M273.8 644.6L282.5 662.2M273.8 644.6L291.4 635.9M273.8 679.8L282.5 662.2M273.8 679.8L291.4 688.5M273.8 715L282.5 732.6M273.8 715L291.4 706.3M273.8 750.2L282.5 732.6M273.8 750.2L291.4 758.9M273.8 785.4L282.5 803M273.8 785.4L291.4 776.7M273.8 820.6L282.5 803M273.8 820.6L291.4 829.3M273.8 855.8L282.5 873.4M273.8 855.8L291.4 847.1M273.8 891L282.5 873.4M273.8 891L291.4 899.7M273.8 926.2L282.5 943.8M273.8 926.2L291.4 917.5M273.8 961.4L282.5 943.8M273.8 961.4L291.4 970.1M273.8 996.6L282.5 1014.2M273.8 996.6L291.4 987.9M273.8 1031.8L282.5 1014.2M273.8 1031.8L291.4 1040.5M273.8 1067L282.5 1084.6M273.8 1067L291.4 1058.3M273.8 1102.2L282.5 1084.6M273.8 1102.2L291.4 1110.9M273.8 1137.4L282.5 1155M273.8 1137.4L291.4 1128.7M273.8 1172.6L282.5 1155M273.8 1172.6L291.4 1181.3M273.8 1207.8L282.5 1225.4M273.8 1207.8L291.4 1199.1M273.8 1243L282.5 1225.4M273.8 1243L291.4 1251.7M273.8 1278.2L282.5 1295.8M273.8 1278.2L291.4 1269.5M273.8 1313.4L282.5 1295.8M273.8 1313.4L291.4 1322.1M273.8 1348.6L282.5 1366.2M273.8 1348.6L291.4 1339.9M273.8 1383.8L282.5 1366.2M273.8 1383.8L291.4 1392.5M282.5 -41.8L300.3 -41.8M282.5 28.6L300.3 28.6M282.5 99L300.3 99M282.5 169.4L300.3 169.4M282.5 239.8L300.3 239.8M282.5 310.2L300.3 310.2M282.5 380.6L300.3 380.6M282.5 451L300.3 451M282.5 521.4L300.3 521.4M282.5 591.8L300.3 591.8M282.5 662.2L300.3 662.2M282.5 732.6L300.3 732.6M282.5 803L300.3 803M282.5 873.4L300.3 873.4M282.5 943.8L300.3 943.8M282.5 1014.2L300.3 1014.2M282.5 1084.6L300.3 1084.6M282.5 1155L300.3 1155M282.5 1225.4L300.3 1225.4M282.5 1295.8L300.3 1295.8M282.5 1366.2L300.3 1366.2M291.4 -85.9L291.4 -68.1M291.4 -85.9L309 -94.6M291.4 -68.1L309 -59.4M291.4 -15.5L291.4 2.3M291.4 -15.5L309 -24.2M291.4 2.3L309 11M291.4 54.9L291.4 72.7M291.4 54.9L309 46.2M291.4 72.7L309 81.4M291.4 125.3L291.4 143.1M291.4 125.3L309 116.6M291.4 143.1L309 151.8M291.4 195.7L291.4 213.5M291.4 195.7L309 187M291.4 213.5L309 222.2M291.4 266.1L291.4 283.9M291.4 266.1L309 257.4M291.4 283.9L309 292.6M291.4 336.5L291.4 354.3M291.4 336.5L309 327.8M291.4 354.3L309 363M291.4 406.9L291.4 424.7M291.4 406.9L309 398.2M291.4 424.7L309 433.4M291.4 477.3L291.4 495.1M291.4 477.3L309 468.6M291.4 495.1L309 503.8M291.4 547.7L291.4 565.5M291.4 547.7L309 539M291.4 565.5L309 574.2M291.4 618.1L291.4 635.9M291.4 618.1L309 609.4M291.4 635.9L309 644.6M291.4 688.5L291.4 706.3M291.4 688.5L309 679.8M291.4 706.3L309 715M291.4 758.9L291.4 776.7M291.4 758.9L309 750.2M291.4 776.7L309 785.4M291.4 829.3L291.4 847.1M291.4 829.3L309 820.6M291.4 847.1L309 855.8M291.4 899.7L291.4 917.5M291.4 899.7L309 891M291.4 917.5L309 926.2M291.4 970.1L291.4 987.9M291.4 970.1L309 961.4M291.4 987.9L309 996.6M291.4 1040.5L291.4 1058.3M291.4 1040.5L309 1031.8M291.4 1058.3L309 1067M291.4 1110.9L291.4 1128.7M291.4 1110.9L309 1102.2M291.4 1128.7L309 1137.4M291.4 1181.3L291.4 1199.1M291.4 1181.3L309 1172.6M291.4 1199.1L309 1207.8M291.4 1251.7L291.4 1269.5M291.4 1251.7L309 1243M291.4 1269.5L309 1278.2M291.4 1322.1L291.4 1339.9M291.4 1322.1L309 1313.4M291.4 1339.9L309 1348.6M291.4 1392.5L309 1383.8M300.3 -41.8L309 -59.4M300.3 -41.8L309 -24.2M300.3 28.6L309 11M300.3 28.6L309 46.2M300.3 99L309 81.4M300.3 99L309 116.6M300.3 169.4L309 151.8M300.3 169.4L309 187M300.3 239.8L309 222.2M300.3 239.8L309 257.4M300.3 310.2L309 292.6M300.3 310.2L309 327.8M300.3 380.6L309 363M300.3 380.6L309 398.2M300.3 451L309 433.4M300.3 451L309 468.6M300.3 521.4L309 503.8M300.3 521.4L309 539M300.3 591.8L309 574.2M300.3 591.8L309 609.4M300.3 662.2L309 644.6M300.3 662.2L309 679.8M300.3 732.6L309 715M300.3 732.6L309 750.2M300.3 803L309 785.4M300.3 803L309 820.6M300.3 873.4L309 855.8M300.3 873.4L309 891M300.3 943.8L309 926.2M300.3 943.8L309 961.4M300.3 1014.2L309 996.6M300.3 1014.2L309 1031.8M300.3 1084.6L309 1067M300.3 1084.6L309 1102.2M300.3 1155L309 1137.4M300.3 1155L309 1172.6M300.3 1225.4L309 1207.8M300.3 1225.4L309 1243M300.3 1295.8L309 1278.2M300.3 1295.8L309 1313.4M300.3 1366.2L309 1348.6M300.3 1366.2L309 1383.8M309 -94.6L317.7 -77M309 -94.6L326.6 -103.3M309 -59.4L317.7 -77M309 -59.4L326.6 -50.7M309 -24.2L317.7 -6.6M309 -24.2L326.6 -32.9M309 11L317.7 -6.6M309 11L326.6 19.7M309 46.2L317.7 63.8M309 46.2L326.6 37.5M309 81.4L317.7 63.8M309 81.4L326.6 90.1M309 116.6L317.7 134.2M309 116.6L326.6 107.9M309 151.8L317.7 134.2M309 151.8L326.6 160.5M309 187L317.7 204.6M309 187L326.6 178.3M309 222.2L317.7 204.6M309 222.2L326.6 230.9M309 257.4L317.7 275M309 257.4L326.6 248.7M309 292.6L317.7 275M309 292.6L326.6 301.3M309 327.8L317.7 345.4M309 327.8L326.6 319.1M309 363L317.7 345.4M309 363L326.6 371.7M309 398.2L317.7 415.8M309 398.2L326.6 389.5M309 433.4L317.7 415.8M309 433.4L326.6 442.1M309 468.6L317.7 486.2M309 468.6L326.6 459.9M309 503.8L317.7 486.2M309 503.8L326.6 512.5M309 539L317.7 556.6M309 539L326.6 530.3M309 574.2L317.7 556.6M309 574.2L326.6 582.9M309 609.4L317.7 627M309 609.4L326.6 600.7M309 644.6L317.7 627M309 644.6L326.6 653.3M309 679.8L317.7 697.4M309 679.8L326.6 671.1M309 715L317.7 697.4M309 715L326.6 723.7M309 750.2L317.7 767.8M309 750.2L326.6 741.5M309 785.4L317.7 767.8M309 785.4L326.6 794.1M309 820.6L317.7 838.2M309 820.6L326.6 811.9M309 855.8L317.7 838.2M309 855.8L326.6 864.5M309 891L317.7 908.6M309 891L326.6 882.3M309 926.2L317.7 908.6M309 926.2L326.6 934.9M309 961.4L317.7 979M309 961.4L326.6 952.7M309 996.6L317.7 979M309 996.6L326.6 1005.3M309 1031.8L317.7 1049.4M309 1031.8L326.6 1023.1M309 1067L317.7 1049.4M309 1067L326.6 1075.7M309 1102.2L317.7 1119.8M309 1102.2L326.6 1093.5M309 1137.4L317.7 1119.8M309 1137.4L326.6 1146.1M309 1172.6L317.7 1190.2M309 1172.6L326.6 1163.9M309 1207.8L317.7 1190.2M309 1207.8L326.6 1216.5M309 1243L317.7 1260.6M309 1243L326.6 1234.3M309 1278.2L317.7 1260.6M309 1278.2L326.6 1286.9M309 1313.4L317.7 1331M309 1313.4L326.6 1304.7M309 1348.6L317.7 1331M309 1348.6L326.6 1357.3M309 1383.8L326.6 1375.1M317.7 -77L335.5 -77M317.7 -6.6L335.5 -6.6M317.7 63.8L335.5 63.8M317.7 134.2L335.5 134.2M317.7 204.6L335.5 204.6M317.7 275L335.5 275M317.7 345.4L335.5 345.4M317.7 415.8L335.5 415.8M317.7 486.2L335.5 486.2M317.7 556.6L335.5 556.6M317.7 627L335.5 627M317.7 697.4L335.5 697.4M317.7 767.8L335.5 767.8M317.7 838.2L335.5 838.2M317.7 908.6L335.5 908.6M317.7 979L335.5 979M317.7 1049.4L335.5 1049.4M317.7 1119.8L335.5 1119.8M317.7 1190.2L335.5 1190.2M317.7 1260.6L335.5 1260.6M317.7 1331L335.5 1331M326.6 -103.3L344.2 -94.6M326.6 -50.7L326.6 -32.9M326.6 -50.7L344.2 -59.4M326.6 -32.9L344.2 -24.2M326.6 19.7L326.6 37.5M326.6 19.7L344.2 11M326.6 37.5L344.2 46.2M326.6 90.1L326.6 107.9M326.6 90.1L344.2 81.4M326.6 107.9L344.2 116.6M326.6 160.5L326.6 178.3M326.6 160.5L344.2 151.8M326.6 178.3L344.2 187M326.6 230.9L326.6 248.7M326.6 230.9L344.2 222.2M326.6 248.7L344.2 257.4M326.6 301.3L326.6 319.1M326.6 301.3L344.2 292.6M326.6 319.1L344.2 327.8M326.6 371.7L326.6 389.5M326.6 371.7L344.2 363M326.6 389.5L344.2 398.2M326.6 442.1L326.6 459.9M326.6 442.1L344.2 433.4M326.6 459.9L344.2 468.6M326.6 512.5L326.6 530.3M326.6 512.5L344.2 503.8M326.6 530.3L344.2 539M326.6 582.9L326.6 600.7M326.6 582.9L344.2 574.2M326.6 600.7L344.2 609.4M326.6 653.3L326.6 671.1M326.6 653.3L344.2 644.6M326.6 671.1L344.2 679.8M326.6 723.7L326.6 741.5M326.6 723.7L344.2 715M326.6 741.5L344.2 750.2M326.6 794.1L326.6 811.9M326.6 794.1L344.2 785.4M326.6 811.9L344.2 820.6M326.6 864.5L326.6 882.3M326.6 864.5L344.2 855.8M326.6 882.3L344.2 891M326.6 934.9L326.6 952.7M326.6 934.9L344.2 926.2M326.6 952.7L344.2 961.4M326.6 1005.3L326.6 1023.1M326.6 1005.3L344.2 996.6M326.6 1023.1L344.2 1031.8M326.6 1075.7L326.6 1093.5M326.6 1075.7L344.2 1067M326.6 1093.5L344.2 1102.2M326.6 1146.1L326.6 1163.9M326.6 1146.1L344.2 1137.4M326.6 1163.9L344.2 1172.6M326.6 1216.5L326.6 1234.3M326.6 1216.5L344.2 1207.8M326.6 1234.3L344.2 1243M326.6 1286.9L326.6 1304.7M326.6 1286.9L344.2 1278.2M326.6 1304.7L344.2 1313.4M326.6 1357.3L326.6 1375.1M326.6 1357.3L344.2 1348.6M326.6 1375.1L344.2 1383.8M335.5 -77L344.2 -94.6M335.5 -77L344.2 -59.4M335.5 -6.6L344.2 -24.2M335.5 -6.6L344.2 11M335.5 63.8L344.2 46.2M335.5 63.8L344.2 81.4M335.5 134.2L344.2 116.6M335.5 134.2L344.2 151.8M335.5 204.6L344.2 187M335.5 204.6L344.2 222.2M335.5 275L344.2 257.4M335.5 275L344.2 292.6M335.5 345.4L344.2 327.8M335.5 345.4L344.2 363M335.5 415.8L344.2 398.2M335.5 415.8L344.2 433.4M335.5 486.2L344.2 468.6M335.5 486.2L344.2 503.8M335.5 556.6L344.2 539M335.5 556.6L344.2 574.2M335.5 627L344.2 609.4M335.5 627L344.2 644.6M335.5 697.4L344.2 679.8M335.5 697.4L344.2 715M335.5 767.8L344.2 750.2M335.5 767.8L344.2 785.4M335.5 838.2L344.2 820.6M335.5 838.2L344.2 855.8M335.5 908.6L344.2 891M335.5 908.6L344.2 926.2M335.5 979L344.2 961.4M335.5 979L344.2 996.6M335.5 1049.4L344.2 1031.8M335.5 1049.4L344.2 1067M335.5 1119.8L344.2 1102.2M335.5 1119.8L344.2 1137.4M335.5 1190.2L344.2 1172.6M335.5 1190.2L344.2 1207.8M335.5 1260.6L344.2 1243M335.5 1260.6L344.2 1278.2M335.5 1331L344.2 1313.4M335.5 1331L344.2 1348.6M344.2 -94.6L361.8 -85.9M344.2 -59.4L352.9 -41.8M344.2 -59.4L361.8 -68.1M344.2 -24.2L352.9 -41.8M344.2 -24.2L361.8 -15.5M344.2 11L352.9 28.6M344.2 11L361.8 2.3M344.2 46.2L352.9 28.6M344.2 46.2L361.8 54.9M344.2 81.4L352.9 99M344.2 81.4L361.8 72.7M344.2 116.6L352.9 99M344.2 116.6L361.8 125.3M344.2 151.8L352.9 169.4M344.2 151.8L361.8 143.1M344.2 187L352.9 169.4M344.2 187L361.8 195.7M344.2 222.2L352.9 239.8M344.2 222.2L361.8 213.5M344.2 257.4L352.9 239.8M344.2 257.4L361.8 266.1M344.2 292.6L352.9 310.2M344.2 292.6L361.8 283.9M344.2 327.8L352.9 310.2M344.2 327.8L361.8 336.5M344.2 363L352.9 380.6M344.2 363L361.8 354.3M344.2 398.2L352.9 380.6M344.2 398.2L361.8 406.9M344.2 433.4L352.9 451M344.2 433.4L361.8 424.7M344.2 468.6L352.9 451M344.2 468.6L361.8 477.3M344.2 503.8L352.9 521.4M344.2 503.8L361.8 495.1M344.2 539L352.9 521.4M344.2 539L361.8 547.7M344.2 574.2L352.9 591.8M344.2 574.2L361.8 565.5M344.2 609.4L352.9 591.8M344.2 609.4L361.8 618.1M344.2 644.6L352.9 662.2M344.2 644.6L361.8 635.9M344.2 679.8L352.9 662.2M344.2 679.8L361.8 688.5M344.2 715L352.9 732.6M344.2 715L361.8 706.3M344.2 750.2L352.9 732.6M344.2 750.2L361.8 758.9M344.2 785.4L352.9 803M344.2 785.4L361.8 776.7M344.2 820.6L352.9 803M344.2 820.6L361.8 829.3M344.2 855.8L352.9 873.4M344.2 855.8L361.8 847.1M344.2 891L352.9 873.4M344.2 891L361.8 899.7M344.2 926.2L352.9 943.8M344.2 926.2L361.8 917.5M344.2 961.4L352.9 943.8M344.2 961.4L361.8 970.1M344.2 996.6L352.9 1014.2M344.2 996.6L361.8 987.9M344.2 1031.8L352.9 1014.2M344.2 1031.8L361.8 1040.5M344.2 1067L352.9 1084.6M344.2 1067L361.8 1058.3M344.2 1102.2L352.9 1084.6M344.2 1102.2L361.8 1110.9M344.2 1137.4L352.9 1155M344.2 1137.4L361.8 1128.7M344.2 1172.6L352.9 1155M344.2 1172.6L361.8 1181.3M344.2 1207.8L352.9 1225.4M344.2 1207.8L361.8 1199.1M344.2 1243L352.9 1225.4M344.2 1243L361.8 1251.7M344.2 1278.2L352.9 1295.8M344.2 1278.2L361.8 1269.5M344.2 1313.4L352.9 1295.8M344.2 1313.4L361.8 1322.1M344.2 1348.6L352.9 1366.2M344.2 1348.6L361.8 1339.9M344.2 1383.8L352.9 1366.2M344.2 1383.8L361.8 1392.5M352.9 -41.8L370.7 -41.8M352.9 28.6L370.7 28.6M352.9 99L370.7 99M352.9 169.4L370.7 169.4M352.9 239.8L370.7 239.8M352.9 310.2L370.7 310.2M352.9 380.6L370.7 380.6M352.9 451L370.7 451M352.9 521.4L370.7 521.4M352.9 591.8L370.7 591.8M352.9 662.2L370.7 662.2M352.9 732.6L370.7 732.6M352.9 803L370.7 803M352.9 873.4L370.7 873.4M352.9 943.8L370.7 943.8M352.9 1014.2L370.7 1014.2M352.9 1084.6L370.7 1084.6M352.9 1155L370.7 1155M352.9 1225.4L370.7 1225.4M352.9 1295.8L370.7 1295.8M352.9 1366.2L370.7 1366.2M361.8 -85.9L361.8 -68.1M361.8 -85.9L379.4 -94.6M361.8 -68.1L379.4 -59.4M361.8 -15.5L361.8 2.3M361.8 -15.5L379.4 -24.2M361.8 2.3L379.4 11M361.8 54.9L361.8 72.7M361.8 54.9L379.4 46.2M361.8 72.7L379.4 81.4M361.8 125.3L361.8 143.1M361.8 125.3L379.4 116.6M361.8 143.1L379.4 151.8M361.8 195.7L361.8 213.5M361.8 195.7L379.4 187M361.8 213.5L379.4 222.2M361.8 266.1L361.8 283.9M361.8 266.1L379.4 257.4M361.8 283.9L379.4 292.6M361.8 336.5L361.8 354.3M361.8 336.5L379.4 327.8M361.8 354.3L379.4 363M361.8 406.9L361.8 424.7M361.8 406.9L379.4 398.2M361.8 424.7L379.4 433.4M361.8 477.3L361.8 495.1M361.8 477.3L379.4 468.6M361.8 495.1L379.4 503.8M361.8 547.7L361.8 565.5M361.8 547.7L379.4 539M361.8 565.5L379.4 574.2M361.8 618.1L361.8 635.9M361.8 618.1L379.4 609.4M361.8 635.9L379.4 644.6M361.8 688.5L361.8 706.3M361.8 688.5L379.4 679.8M361.8 706.3L379.4 715M361.8 758.9L361.8 776.7M361.8 758.9L379.4 750.2M361.8 776.7L379.4 785.4M361.8 829.3L361.8 847.1M361.8 829.3L379.4 820.6M361.8 847.1L379.4 855.8M361.8 899.7L361.8 917.5M361.8 899.7L379.4 891M361.8 917.5L379.4 926.2M361.8 970.1L361.8 987.9M361.8 970.1L379.4 961.4M361.8 987.9L379.4 996.6M361.8 1040.5L361.8 1058.3M361.8 1040.5L379.4 1031.8M361.8 1058.3L379.4 1067M361.8 1110.9L361.8 1128.7M361.8 1110.9L379.4 1102.2M361.8 1128.7L379.4 1137.4M361.8 1181.3L361.8 1199.1M361.8 1181.3L379.4 1172.6M361.8 1199.1L379.4 1207.8M361.8 1251.7L361.8 1269.5M361.8 1251.7L379.4 1243M361.8 1269.5L379.4 1278.2M361.8 1322.1L361.8 1339.9M361.8 1322.1L379.4 1313.4M361.8 1339.9L379.4 1348.6M361.8 1392.5L379.4 1383.8M370.7 -41.8L379.4 -59.4M370.7 -41.8L379.4 -24.2M370.7 28.6L379.4 11M370.7 28.6L379.4 46.2M370.7 99L379.4 81.4M370.7 99L379.4 116.6M370.7 169.4L379.4 151.8M370.7 169.4L379.4 187M370.7 239.8L379.4 222.2M370.7 239.8L379.4 257.4M370.7 310.2L379.4 292.6M370.7 310.2L379.4 327.8M370.7 380.6L379.4 363M370.7 380.6L379.4 398.2M370.7 451L379.4 433.4M370.7 451L379.4 468.6M370.7 521.4L379.4 503.8M370.7 521.4L379.4 539M370.7 591.8L379.4 574.2M370.7 591.8L379.4 609.4M370.7 662.2L379.4 644.6M370.7 662.2L379.4 679.8M370.7 732.6L379.4 715M370.7 732.6L379.4 750.2M370.7 803L379.4 785.4M370.7 803L379.4 820.6M370.7 873.4L379.4 855.8M370.7 873.4L379.4 891M370.7 943.8L379.4 926.2M370.7 943.8L379.4 961.4M370.7 1014.2L379.4 996.6M370.7 1014.2L379.4 1031.8M370.7 1084.6L379.4 1067M370.7 1084.6L379.4 1102.2M370.7 1155L379.4 1137.4M370.7 1155L379.4 1172.6M370.7 1225.4L379.4 1207.8M370.7 1225.4L379.4 1243M370.7 1295.8L379.4 1278.2M370.7 1295.8L379.4 1313.4M370.7 1366.2L379.4 1348.6M370.7 1366.2L379.4 1383.8M379.4 -94.6L388.1 -77M379.4 -94.6L397 -103.3M379.4 -59.4L388.1 -77M379.4 -59.4L397 -50.7M379.4 -24.2L388.1 -6.6M379.4 -24.2L397 -32.9M379.4 11L388.1 -6.6M379.4 11L397 19.7M379.4 46.2L388.1 63.8M379.4 46.2L397 37.5M379.4 81.4L388.1 63.8M379.4 81.4L397 90.1M379.4 116.6L388.1 134.2M379.4 116.6L397 107.9M379.4 151.8L388.1 134.2M379.4 151.8L397 160.5M379.4 187L388.1 204.6M379.4 187L397 178.3M379.4 222.2L388.1 204.6M379.4 222.2L397 230.9M379.4 257.4L388.1 275M379.4 257.4L397 248.7M379.4 292.6L388.1 275M379.4 292.6L397 301.3M379.4 327.8L388.1 345.4M379.4 327.8L397 319.1M379.4 363L388.1 345.4M379.4 363L397 371.7M379.4 398.2L388.1 415.8M379.4 398.2L397 389.5M379.4 433.4L388.1 415.8M379.4 433.4L397 442.1M379.4 468.6L388.1 486.2M379.4 468.6L397 459.9M379.4 503.8L388.1 486.2M379.4 503.8L397 512.5M379.4 539L388.1 556.6M379.4 539L397 530.3M379.4 574.2L388.1 556.6M379.4 574.2L397 582.9M379.4 609.4L388.1 627M379.4 609.4L397 600.7M379.4 644.6L388.1 627M379.4 644.6L397 653.3M379.4 679.8L388.1 697.4M379.4 679.8L397 671.1M379.4 715L388.1 697.4M379.4 715L397 723.7M379.4 750.2L388.1 767.8M379.4 750.2L397 741.5M379.4 785.4L388.1 767.8M379.4 785.4L397 794.1M379.4 820.6L388.1 838.2M379.4 820.6L397 811.9M379.4 855.8L388.1 838.2M379.4 855.8L397 864.5M379.4 891L388.1 908.6M379.4 891L397 882.3M379.4 926.2L388.1 908.6M379.4 926.2L397 934.9M379.4 961.4L388.1 979M379.4 961.4L397 952.7M379.4 996.6L388.1 979M379.4 996.6L397 1005.3M379.4 1031.8L388.1 1049.4M379.4 1031.8L397 1023.1M379.4 1067L388.1 1049.4M379.4 1067L397 1075.7M379.4 1102.2L388.1 1119.8M379.4 1102.2L397 1093.5M379.4 1137.4L388.1 1119.8M379.4 1137.4L397 1146.1M379.4 1172.6L388.1 1190.2M379.4 1172.6L397 1163.9M379.4 1207.8L388.1 1190.2M379.4 1207.8L397 1216.5M379.4 1243L388.1 1260.6M379.4 1243L397 1234.3M379.4 1278.2L388.1 1260.6M379.4 1278.2L397 1286.9M379.4 1313.4L388.1 1331M379.4 1313.4L397 1304.7M379.4 1348.6L388.1 1331M379.4 1348.6L397 1357.3M379.4 1383.8L397 1375.1M388.1 -77L405.9 -77M388.1 -6.6L405.9 -6.6M388.1 63.8L405.9 63.8M388.1 134.2L405.9 134.2M388.1 204.6L405.9 204.6M388.1 275L405.9 275M388.1 345.4L405.9 345.4M388.1 415.8L405.9 415.8M388.1 486.2L405.9 486.2M388.1 556.6L405.9 556.6M388.1 627L405.9 627M388.1 697.4L405.9 697.4M388.1 767.8L405.9 767.8M388.1 838.2L405.9 838.2M388.1 908.6L405.9 908.6M388.1 979L405.9 979M388.1 1049.4L405.9 1049.4M388.1 1119.8L405.9 1119.8M388.1 1190.2L405.9 1190.2M388.1 1260.6L405.9 1260.6M388.1 1331L405.9 1331M397 -103.3L414.6 -94.6M397 -50.7L397 -32.9M397 -50.7L414.6 -59.4M397 -32.9L414.6 -24.2M397 19.7L397 37.5M397 19.7L414.6 11M397 37.5L414.6 46.2M397 90.1L397 107.9M397 90.1L414.6 81.4M397 107.9L414.6 116.6M397 160.5L397 178.3M397 160.5L414.6 151.8M397 178.3L414.6 187M397 230.9L397 248.7M397 230.9L414.6 222.2M397 248.7L414.6 257.4M397 301.3L397 319.1M397 301.3L414.6 292.6M397 319.1L414.6 327.8M397 371.7L397 389.5M397 371.7L414.6 363M397 389.5L414.6 398.2M397 442.1L397 459.9M397 442.1L414.6 433.4M397 459.9L414.6 468.6M397 512.5L397 530.3M397 512.5L414.6 503.8M397 530.3L414.6 539M397 582.9L397 600.7M397 582.9L414.6 574.2M397 600.7L414.6 609.4M397 653.3L397 671.1M397 653.3L414.6 644.6M397 671.1L414.6 679.8M397 723.7L397 741.5M397 723.7L414.6 715M397 741.5L414.6 750.2M397 794.1L397 811.9M397 794.1L414.6 785.4M397 811.9L414.6 820.6M397 864.5L397 882.3M397 864.5L414.6 855.8M397 882.3L414.6 891M397 934.9L397 952.7M397 934.9L414.6 926.2M397 952.7L414.6 961.4M397 1005.3L397 1023.1M397 1005.3L414.6 996.6M397 1023.1L414.6 1031.8M397 1075.7L397 1093.5M397 1075.7L414.6 1067M397 1093.5L414.6 1102.2M397 1146.1L397 1163.9M397 1146.1L414.6 1137.4M397 1163.9L414.6 1172.6M397 1216.5L397 1234.3M397 1216.5L414.6 1207.8M397 1234.3L414.6 1243M397 1286.9L397 1304.7M397 1286.9L414.6 1278.2M397 1304.7L414.6 1313.4M397 1357.3L397 1375.1M397 1357.3L414.6 1348.6M397 1375.1L414.6 1383.8M405.9 -77L414.6 -94.6M405.9 -77L414.6 -59.4M405.9 -6.6L414.6 -24.2M405.9 -6.6L414.6 11M405.9 63.8L414.6 46.2M405.9 63.8L414.6 81.4M405.9 134.2L414.6 116.6M405.9 134.2L414.6 151.8M405.9 204.6L414.6 187M405.9 204.6L414.6 222.2M405.9 275L414.6 257.4M405.9 275L414.6 292.6M405.9 345.4L414.6 327.8M405.9 345.4L414.6 363M405.9 415.8L414.6 398.2M405.9 415.8L414.6 433.4M405.9 486.2L414.6 468.6M405.9 486.2L414.6 503.8M405.9 556.6L414.6 539M405.9 556.6L414.6 574.2M405.9 627L414.6 609.4M405.9 627L414.6 644.6M405.9 697.4L414.6 679.8M405.9 697.4L414.6 715M405.9 767.8L414.6 750.2M405.9 767.8L414.6 785.4M405.9 838.2L414.6 820.6M405.9 838.2L414.6 855.8M405.9 908.6L414.6 891M405.9 908.6L414.6 926.2M405.9 979L414.6 961.4M405.9 979L414.6 996.6M405.9 1049.4L414.6 1031.8M405.9 1049.4L414.6 1067M405.9 1119.8L414.6 1102.2M405.9 1119.8L414.6 1137.4M405.9 1190.2L414.6 1172.6M405.9 1190.2L414.6 1207.8M405.9 1260.6L414.6 1243M405.9 1260.6L414.6 1278.2M405.9 1331L414.6 1313.4M405.9 1331L414.6 1348.6M414.6 -94.6L432.2 -85.9M414.6 -59.4L423.3 -41.8M414.6 -59.4L432.2 -68.1M414.6 -24.2L423.3 -41.8M414.6 -24.2L432.2 -15.5M414.6 11L423.3 28.6M414.6 11L432.2 2.3M414.6 46.2L423.3 28.6M414.6 46.2L432.2 54.9M414.6 81.4L423.3 99M414.6 81.4L432.2 72.7M414.6 116.6L423.3 99M414.6 116.6L432.2 125.3M414.6 151.8L423.3 169.4M414.6 151.8L432.2 143.1M414.6 187L423.3 169.4M414.6 187L432.2 195.7M414.6 222.2L423.3 239.8M414.6 222.2L432.2 213.5M414.6 257.4L423.3 239.8M414.6 257.4L432.2 266.1M414.6 292.6L423.3 310.2M414.6 292.6L432.2 283.9M414.6 327.8L423.3 310.2M414.6 327.8L432.2 336.5M414.6 363L423.3 380.6M414.6 363L432.2 354.3M414.6 398.2L423.3 380.6M414.6 398.2L432.2 406.9M414.6 433.4L423.3 451M414.6 433.4L432.2 424.7M414.6 468.6L423.3 451M414.6 468.6L432.2 477.3M414.6 503.8L423.3 521.4M414.6 503.8L432.2 495.1M414.6 539L423.3 521.4M414.6 539L432.2 547.7M414.6 574.2L423.3 591.8M414.6 574.2L432.2 565.5M414.6 609.4L423.3 591.8M414.6 609.4L432.2 618.1M414.6 644.6L423.3 662.2M414.6 644.6L432.2 635.9M414.6 679.8L423.3 662.2M414.6 679.8L432.2 688.5M414.6 715L423.3 732.6M414.6 715L432.2 706.3M414.6 750.2L423.3 732.6M414.6 750.2L432.2 758.9M414.6 785.4L423.3 803M414.6 785.4L432.2 776.7M414.6 820.6L423.3 803M414.6 820.6L432.2 829.3M414.6 855.8L423.3 873.4M414.6 855.8L432.2 847.1M414.6 891L423.3 873.4M414.6 891L432.2 899.7M414.6 926.2L423.3 943.8M414.6 926.2L432.2 917.5M414.6 961.4L423.3 943.8M414.6 961.4L432.2 970.1M414.6 996.6L423.3 1014.2M414.6 996.6L432.2 987.9M414.6 1031.8L423.3 1014.2M414.6 1031.8L432.2 1040.5M414.6 1067L423.3 1084.6M414.6 1067L432.2 1058.3M414.6 1102.2L423.3 1084.6M414.6 1102.2L432.2 1110.9M414.6 1137.4L423.3 1155M414.6 1137.4L432.2 1128.7M414.6 1172.6L423.3 1155M414.6 1172.6L432.2 1181.3M414.6 1207.8L423.3 1225.4M414.6 1207.8L432.2 1199.1M414.6 1243L423.3 1225.4M414.6 1243L432.2 1251.7M414.6 1278.2L423.3 1295.8M414.6 1278.2L432.2 1269.5M414.6 1313.4L423.3 1295.8M414.6 1313.4L432.2 1322.1M414.6 1348.6L423.3 1366.2M414.6 1348.6L432.2 1339.9M414.6 1383.8L423.3 1366.2M414.6 1383.8L432.2 1392.5M423.3 -41.8L441.1 -41.8M423.3 28.6L441.1 28.6M423.3 99L441.1 99M423.3 169.4L441.1 169.4M423.3 239.8L441.1 239.8M423.3 310.2L441.1 310.2M423.3 380.6L441.1 380.6M423.3 451L441.1 451M423.3 521.4L441.1 521.4M423.3 591.8L441.1 591.8M423.3 662.2L441.1 662.2M423.3 732.6L441.1 732.6M423.3 803L441.1 803M423.3 873.4L441.1 873.4M423.3 943.8L441.1 943.8M423.3 1014.2L441.1 1014.2M423.3 1084.6L441.1 1084.6M423.3 1155L441.1 1155M423.3 1225.4L441.1 1225.4M423.3 1295.8L441.1 1295.8M423.3 1366.2L441.1 1366.2M432.2 -85.9L432.2 -68.1M432.2 -85.9L449.8 -94.6M432.2 -68.1L449.8 -59.4M432.2 -15.5L432.2 2.3M432.2 -15.5L449.8 -24.2M432.2 2.3L449.8 11M432.2 54.9L432.2 72.7M432.2 54.9L449.8 46.2M432.2 72.7L449.8 81.4M432.2 125.3L432.2 143.1M432.2 125.3L449.8 116.6M432.2 143.1L449.8 151.8M432.2 195.7L432.2 213.5M432.2 195.7L449.8 187M432.2 213.5L449.8 222.2M432.2 266.1L432.2 283.9M432.2 266.1L449.8 257.4M432.2 283.9L449.8 292.6M432.2 336.5L432.2 354.3M432.2 336.5L449.8 327.8M432.2 354.3L449.8 363M432.2 406.9L432.2 424.7M432.2 406.9L449.8 398.2M432.2 424.7L449.8 433.4M432.2 477.3L432.2 495.1M432.2 477.3L449.8 468.6M432.2 495.1L449.8 503.8M432.2 547.7L432.2 565.5M432.2 547.7L449.8 539M432.2 565.5L449.8 574.2M432.2 618.1L432.2 635.9M432.2 618.1L449.8 609.4M432.2 635.9L449.8 644.6M432.2 688.5L432.2 706.3M432.2 688.5L449.8 679.8M432.2 706.3L449.8 715M432.2 758.9L432.2 776.7M432.2 758.9L449.8 750.2M432.2 776.7L449.8 785.4M432.2 829.3L432.2 847.1M432.2 829.3L449.8 820.6M432.2 847.1L449.8 855.8M432.2 899.7L432.2 917.5M432.2 899.7L449.8 891M432.2 917.5L449.8 926.2M432.2 970.1L432.2 987.9M432.2 970.1L449.8 961.4M432.2 987.9L449.8 996.6M432.2 1040.5L432.2 1058.3M432.2 1040.5L449.8 1031.8M432.2 1058.3L449.8 1067M432.2 1110.9L432.2 1128.7M432.2 1110.9L449.8 1102.2M432.2 1128.7L449.8 1137.4M432.2 1181.3L432.2 1199.1M432.2 1181.3L449.8 1172.6M432.2 1199.1L449.8 1207.8M432.2 1251.7L432.2 1269.5M432.2 1251.7L449.8 1243M432.2 1269.5L449.8 1278.2M432.2 1322.1L432.2 1339.9M432.2 1322.1L449.8 1313.4M432.2 1339.9L449.8 1348.6M432.2 1392.5L449.8 1383.8M441.1 -41.8L449.8 -59.4M441.1 -41.8L449.8 -24.2M441.1 28.6L449.8 11M441.1 28.6L449.8 46.2M441.1 99L449.8 81.4M441.1 99L449.8 116.6M441.1 169.4L449.8 151.8M441.1 169.4L449.8 187M441.1 239.8L449.8 222.2M441.1 239.8L449.8 257.4M441.1 310.2L449.8 292.6M441.1 310.2L449.8 327.8M441.1 380.6L449.8 363M441.1 380.6L449.8 398.2M441.1 451L449.8 433.4M441.1 451L449.8 468.6M441.1 521.4L449.8 503.8M441.1 521.4L449.8 539M441.1 591.8L449.8 574.2M441.1 591.8L449.8 609.4M441.1 662.2L449.8 644.6M441.1 662.2L449.8 679.8M441.1 732.6L449.8 715M441.1 732.6L449.8 750.2M441.1 803L449.8 785.4M441.1 803L449.8 820.6M441.1 873.4L449.8 855.8M441.1 873.4L449.8 891M441.1 943.8L449.8 926.2M441.1 943.8L449.8 961.4M441.1 1014.2L449.8 996.6M441.1 1014.2L449.8 1031.8M441.1 1084.6L449.8 1067M441.1 1084.6L449.8 1102.2M441.1 1155L449.8 1137.4M441.1 1155L449.8 1172.6M441.1 1225.4L449.8 1207.8M441.1 1225.4L449.8 1243M441.1 1295.8L449.8 1278.2M441.1 1295.8L449.8 1313.4M441.1 1366.2L449.8 1348.6M441.1 1366.2L449.8 1383.8M449.8 -94.6L458.5 -77M449.8 -59.4L458.5 -77M449.8 -59.4L467.4 -50.7M449.8 -24.2L458.5 -6.6M449.8 -24.2L467.4 -32.9M449.8 11L458.5 -6.6M449.8 11L467.4 19.7M449.8 46.2L458.5 63.8M449.8 46.2L467.4 37.5M449.8 81.4L458.5 63.8M449.8 81.4L467.4 90.1M449.8 116.6L458.5 134.2M449.8 116.6L467.4 107.9M449.8 151.8L458.5 134.2M449.8 151.8L467.4 160.5M449.8 187L458.5 204.6M449.8 187L467.4 178.3M449.8 222.2L458.5 204.6M449.8 222.2L467.4 230.9M449.8 257.4L458.5 275M449.8 257.4L467.4 248.7M449.8 292.6L458.5 275M449.8 292.6L467.4 301.3M449.8 327.8L458.5 345.4M449.8 327.8L467.4 319.1M449.8 363L458.5 345.4M449.8 363L467.4 371.7M449.8 398.2L458.5 415.8M449.8 398.2L467.4 389.5M449.8 433.4L458.5 415.8M449.8 433.4L467.4 442.1M449.8 468.6L458.5 486.2M449.8 468.6L467.4 459.9M449.8 503.8L458.5 486.2M449.8 503.8L467.4 512.5M449.8 539L458.5 556.6M449.8 539L467.4 530.3M449.8 574.2L458.5 556.6M449.8 574.2L467.4 582.9M449.8 609.4L458.5 627M449.8 609.4L467.4 600.7M449.8 644.6L458.5 627M449.8 644.6L467.4 653.3M449.8 679.8L458.5 697.4M449.8 679.8L467.4 671.1M449.8 715L458.5 697.4M449.8 715L467.4 723.7M449.8 750.2L458.5 767.8M449.8 750.2L467.4 741.5M449.8 785.4L458.5 767.8M449.8 785.4L467.4 794.1M449.8 820.6L458.5 838.2M449.8 820.6L467.4 811.9M449.8 855.8L458.5 838.2M449.8 855.8L467.4 864.5M449.8 891L458.5 908.6M449.8 891L467.4 882.3M449.8 926.2L458.5 908.6M449.8 926.2L467.4 934.9M449.8 961.4L458.5 979M449.8 961.4L467.4 952.7M449.8 996.6L458.5 979M449.8 996.6L467.4 1005.3M449.8 1031.8L458.5 1049.4M449.8 1031.8L467.4 1023.1M449.8 1067L458.5 1049.4M449.8 1067L467.4 1075.7M449.8 1102.2L458.5 1119.8M449.8 1102.2L467.4 1093.5M449.8 1137.4L458.5 1119.8M449.8 1137.4L467.4 1146.1M449.8 1172.6L458.5 1190.2M449.8 1172.6L467.4 1163.9M449.8 1207.8L458.5 1190.2M449.8 1207.8L467.4 1216.5M449.8 1243L458.5 1260.6M449.8 1243L467.4 1234.3M449.8 1278.2L458.5 1260.6M449.8 1278.2L467.4 1286.9M449.8 1313.4L458.5 1331M449.8 1313.4L467.4 1304.7M449.8 1348.6L458.5 1331M449.8 1348.6L467.4 1357.3M449.8 1383.8L467.4 1375.1M467.4 -50.7L467.4 -32.9M467.4 19.7L467.4 37.5M467.4 90.1L467.4 107.9M467.4 160.5L467.4 178.3M467.4 230.9L467.4 248.7M467.4 301.3L467.4 319.1M467.4 371.7L467.4 389.5M467.4 442.1L467.4 459.9M467.4 512.5L467.4 530.3M467.4 582.9L467.4 600.7M467.4 653.3L467.4 671.1M467.4 723.7L467.4 741.5M467.4 794.1L467.4 811.9M467.4 864.5L467.4 882.3M467.4 934.9L467.4 952.7M467.4 1005.3L467.4 1023.1M467.4 1075.7L467.4 1093.5M467.4 1146.1L467.4 1163.9M467.4 1216.5L467.4 1234.3M467.4 1286.9L467.4 1304.7M467.4 1357.3L467.4 1375.1"/></defs>
<use href="#patL" fill="none" stroke="#a7bcc5" stroke-width="1.25" stroke-linecap="round"/>
<path d="M2009.8 -71.8L2009.8 -54.4M2009.8 -71.8L2027.3 -80.7M2009.8 -54.4L2027.3 -45.6M2009.8 -1.7L2009.8 15.7M2009.8 -1.7L2027.3 -10.6M2009.8 15.7L2027.3 24.5M2009.8 68.3L2009.8 85.8M2009.8 68.3L2027.3 59.5M2009.8 85.8L2027.3 94.6M2009.8 138.4L2009.8 155.8M2009.8 138.4L2027.3 129.6M2009.8 155.8L2027.3 164.7M2018.5 -98.2L2027.3 -115.7M2018.5 -98.2L2027.3 -80.7M2018.5 -28.1L2027.3 -45.6M2018.5 -28.1L2027.3 -10.6M2018.5 42L2027.3 24.5M2018.5 42L2027.3 59.5M2018.5 112.1L2027.3 94.6M2018.5 112.1L2027.3 129.6M2018.5 182.2L2027.3 164.7M2018.5 182.2L2027.3 199.7M2027.3 -115.7L2044.8 -106.9M2027.3 -80.7L2036.1 -63.1M2027.3 -80.7L2044.8 -89.5M2027.3 -45.6L2036.1 -63.1M2027.3 -45.6L2044.8 -36.8M2027.3 -10.6L2036.1 7M2027.3 -10.6L2044.8 -19.4M2027.3 24.5L2036.1 7M2027.3 24.5L2044.8 33.3M2027.3 59.5L2036.1 77M2027.3 59.5L2044.8 50.7M2027.3 94.6L2036.1 77M2027.3 94.6L2044.8 103.4M2027.3 129.6L2036.1 147.1M2027.3 129.6L2044.8 120.8M2027.3 164.7L2036.1 147.1M2027.3 164.7L2044.8 173.5M2027.3 199.7L2044.8 190.9M2036.1 -63.1L2053.5 -63.1M2036.1 7L2053.5 7M2036.1 77L2053.5 77M2036.1 147.1L2053.5 147.1M2044.8 -106.9L2044.8 -89.5M2044.8 -106.9L2062.3 -115.7M2044.8 -89.5L2062.3 -80.7M2044.8 -36.8L2044.8 -19.4M2044.8 -36.8L2062.3 -45.6M2044.8 -19.4L2062.3 -10.6M2044.8 33.3L2044.8 50.7M2044.8 33.3L2062.3 24.5M2044.8 50.7L2062.3 59.5M2044.8 103.4L2044.8 120.8M2044.8 103.4L2062.3 94.6M2044.8 120.8L2062.3 129.6M2044.8 173.5L2044.8 190.9M2044.8 173.5L2062.3 164.7M2044.8 190.9L2062.3 199.7M2053.5 -63.1L2062.3 -80.7M2053.5 -63.1L2062.3 -45.6M2053.5 7L2062.3 -10.6M2053.5 7L2062.3 24.5M2053.5 77L2062.3 59.5M2053.5 77L2062.3 94.6M2053.5 147.1L2062.3 129.6M2053.5 147.1L2062.3 164.7M2062.3 -115.7L2071.2 -98.2M2062.3 -115.7L2079.8 -124.5M2062.3 -80.7L2071.2 -98.2M2062.3 -80.7L2079.8 -71.8M2062.3 -45.6L2071.2 -28.1M2062.3 -45.6L2079.8 -54.4M2062.3 -10.6L2071.2 -28.1M2062.3 -10.6L2079.8 -1.7M2062.3 24.5L2071.2 42M2062.3 24.5L2079.8 15.7M2062.3 59.5L2071.2 42M2062.3 59.5L2079.8 68.3M2062.3 94.6L2071.2 112.1M2062.3 94.6L2079.8 85.8M2062.3 129.6L2071.2 112.1M2062.3 129.6L2079.8 138.4M2062.3 164.7L2071.2 182.2M2062.3 164.7L2079.8 155.8M2062.3 199.7L2071.2 182.2M2071.2 -98.2L2088.5 -98.2M2071.2 -28.1L2088.5 -28.1M2071.2 42L2088.5 42M2071.2 112.1L2088.5 112.1M2071.2 182.2L2088.5 182.2M2079.8 -124.5L2097.4 -115.7M2079.8 -71.8L2079.8 -54.4M2079.8 -71.8L2097.4 -80.7M2079.8 -54.4L2097.4 -45.6M2079.8 -1.7L2079.8 15.7M2079.8 -1.7L2097.4 -10.6M2079.8 15.7L2097.4 24.5M2079.8 68.3L2079.8 85.8M2079.8 68.3L2097.4 59.5M2079.8 85.8L2097.4 94.6M2079.8 138.4L2079.8 155.8M2079.8 138.4L2097.4 129.6M2079.8 155.8L2097.4 164.7M2088.5 -98.2L2097.4 -115.7M2088.5 -98.2L2097.4 -80.7M2088.5 -28.1L2097.4 -45.6M2088.5 -28.1L2097.4 -10.6M2088.5 42L2097.4 24.5M2088.5 42L2097.4 59.5M2088.5 112.1L2097.4 94.6M2088.5 112.1L2097.4 129.6M2088.5 182.2L2097.4 164.7M2088.5 182.2L2097.4 199.7M2097.4 -115.7L2114.9 -106.9M2097.4 -80.7L2106.2 -63.1M2097.4 -80.7L2114.9 -89.5M2097.4 -45.6L2106.2 -63.1M2097.4 -45.6L2114.9 -36.8M2097.4 -10.6L2106.2 7M2097.4 -10.6L2114.9 -19.4M2097.4 24.5L2106.2 7M2097.4 24.5L2114.9 33.3M2097.4 59.5L2106.2 77M2097.4 59.5L2114.9 50.7M2097.4 94.6L2106.2 77M2097.4 94.6L2114.9 103.4M2097.4 129.6L2106.2 147.1M2097.4 129.6L2114.9 120.8M2097.4 164.7L2106.2 147.1M2097.4 164.7L2114.9 173.5M2097.4 199.7L2114.9 190.9M2106.2 -63.1L2123.6 -63.1M2106.2 7L2123.6 7M2106.2 77L2123.6 77M2106.2 147.1L2123.6 147.1M2114.9 -106.9L2114.9 -89.5M2114.9 -106.9L2132.4 -115.7M2114.9 -89.5L2132.4 -80.7M2114.9 -36.8L2114.9 -19.4M2114.9 -36.8L2132.4 -45.6M2114.9 -19.4L2132.4 -10.6M2114.9 33.3L2114.9 50.7M2114.9 33.3L2132.4 24.5M2114.9 50.7L2132.4 59.5M2114.9 103.4L2114.9 120.8M2114.9 103.4L2132.4 94.6M2114.9 120.8L2132.4 129.6M2114.9 173.5L2114.9 190.9M2114.9 173.5L2132.4 164.7M2114.9 190.9L2132.4 199.7M2123.6 -63.1L2132.4 -80.7M2123.6 -63.1L2132.4 -45.6M2123.6 7L2132.4 -10.6M2123.6 7L2132.4 24.5M2123.6 77L2132.4 59.5M2123.6 77L2132.4 94.6M2123.6 147.1L2132.4 129.6M2123.6 147.1L2132.4 164.7M2132.4 -115.7L2141.2 -98.2M2132.4 -115.7L2141.3 -98.2M2132.4 -115.7L2149.9 -124.5M2132.4 -80.7L2141.2 -98.2M2132.4 -80.7L2141.3 -98.2M2132.4 -80.7L2149.9 -71.8M2132.4 -45.6L2141.2 -28.1M2132.4 -45.6L2141.3 -28.1M2132.4 -45.6L2149.9 -54.4M2132.4 -10.6L2141.2 -28.1M2132.4 -10.6L2141.3 -28.1M2132.4 -10.6L2149.9 -1.7M2132.4 24.5L2141.2 42M2132.4 24.5L2141.3 42M2132.4 24.5L2149.9 15.7M2132.4 59.5L2141.2 42M2132.4 59.5L2141.3 42M2132.4 59.5L2149.9 68.3M2132.4 94.6L2141.2 112.1M2132.4 94.6L2141.3 112.1M2132.4 94.6L2149.9 85.8M2132.4 129.6L2141.2 112.1M2132.4 129.6L2141.3 112.1M2132.4 129.6L2149.9 138.4M2132.4 164.7L2141.2 182.2M2132.4 164.7L2141.3 182.2M2132.4 164.7L2149.9 155.8M2132.4 199.7L2141.3 182.2M2141.2 -98.2L2158.6 -98.2M2141.2 -28.1L2158.6 -28.1M2141.2 42L2158.6 42M2141.2 112.1L2158.6 112.1M2141.2 182.2L2158.6 182.2M2149.9 -124.5L2167.5 -115.7M2149.9 -71.8L2149.9 -54.4M2149.9 -71.8L2167.5 -80.7M2149.9 -54.4L2167.5 -45.6M2149.9 -1.7L2149.9 15.7M2149.9 -1.7L2167.5 -10.6M2149.9 15.7L2167.5 24.5M2149.9 68.3L2149.9 85.8M2149.9 68.3L2167.5 59.5M2149.9 85.8L2167.5 94.6M2149.9 138.4L2149.9 155.8M2149.9 138.4L2167.5 129.6M2149.9 155.8L2167.5 164.7M2158.6 -98.2L2167.5 -115.7M2158.6 -98.2L2167.5 -80.7M2158.6 -28.1L2167.5 -45.6M2158.6 -28.1L2167.5 -10.6M2158.6 42L2167.5 24.5M2158.6 42L2167.5 59.5M2158.6 112.1L2167.5 94.6M2158.6 112.1L2167.5 129.6M2158.6 182.2L2167.5 164.7M2158.6 182.2L2167.5 199.7M2167.5 -115.7L2185 -106.9M2167.5 -80.7L2176.3 -63.1M2167.5 -80.7L2185 -89.5M2167.5 -45.6L2176.3 -63.1M2167.5 -45.6L2185 -36.8M2167.5 -10.6L2176.3 7M2167.5 -10.6L2185 -19.4M2167.5 24.5L2176.3 7M2167.5 24.5L2185 33.3M2167.5 59.5L2176.3 77M2167.5 59.5L2185 50.7M2167.5 94.6L2176.3 77M2167.5 94.6L2185 103.4M2167.5 129.6L2176.3 147.1M2167.5 129.6L2185 120.8M2167.5 164.7L2176.3 147.1M2167.5 164.7L2185 173.5M2167.5 199.7L2185 190.9M2176.3 -63.1L2193.7 -63.1M2176.3 7L2193.7 7M2176.3 77L2193.7 77M2176.3 147.1L2193.7 147.1M2185 -106.9L2185 -89.5M2185 -106.9L2202.5 -115.7M2185 -89.5L2202.5 -80.7M2185 -36.8L2185 -19.4M2185 -36.8L2202.5 -45.6M2185 -19.4L2202.5 -10.6M2185 33.3L2185 50.7M2185 33.3L2202.5 24.5M2185 50.7L2202.5 59.5M2185 103.4L2185 120.8M2185 103.4L2202.5 94.6M2185 120.8L2202.5 129.6M2185 173.5L2185 190.9M2185 173.5L2202.5 164.7M2185 190.9L2202.5 199.7M2193.7 -63.1L2202.5 -80.7M2193.7 -63.1L2202.5 -45.6M2193.7 7L2202.5 -10.6M2193.7 7L2202.5 24.5M2193.7 77L2202.5 59.5M2193.7 77L2202.5 94.6M2193.7 147.1L2202.5 129.6M2193.7 147.1L2202.5 164.7M2202.5 -115.7L2211.4 -98.2M2202.5 -115.7L2220.1 -124.5M2202.5 -80.7L2211.4 -98.2M2202.5 -80.7L2220.1 -71.8M2202.5 -45.6L2211.4 -28.1M2202.5 -45.6L2220.1 -54.4M2202.5 -10.6L2211.4 -28.1M2202.5 -10.6L2220.1 -1.7M2202.5 24.5L2211.4 42M2202.5 24.5L2220.1 15.7M2202.5 59.5L2211.4 42M2202.5 59.5L2220.1 68.3M2202.5 94.6L2211.4 112.1M2202.5 94.6L2220.1 85.8M2202.5 129.6L2211.4 112.1M2202.5 129.6L2220.1 138.4M2202.5 164.7L2211.4 182.2M2202.5 164.7L2220.1 155.8M2202.5 199.7L2211.4 182.2M2211.4 -98.2L2228.8 -98.2M2211.4 -28.1L2228.8 -28.1M2211.4 42L2228.8 42M2211.4 112.1L2228.8 112.1M2211.4 182.2L2228.8 182.2M2220.1 -124.5L2237.6 -115.7M2220.1 -71.8L2220.1 -54.4M2220.1 -71.8L2237.6 -80.7M2220.1 -54.4L2237.6 -45.6M2220.1 -1.7L2220.1 15.7M2220.1 -1.7L2237.6 -10.6M2220.1 15.7L2237.6 24.5M2220.1 68.3L2220.1 85.8M2220.1 68.3L2237.6 59.5M2220.1 85.8L2237.6 94.6M2220.1 138.4L2220.1 155.8M2220.1 138.4L2237.6 129.6M2220.1 155.8L2237.6 164.7M2228.7 -98.2L2237.6 -115.7M2228.7 -98.2L2237.6 -80.7M2228.7 -28.1L2237.6 -45.6M2228.7 -28.1L2237.6 -10.6M2228.7 42L2237.6 24.5M2228.7 42L2237.6 59.5M2228.7 112.1L2237.6 94.6M2228.7 112.1L2237.6 129.6M2228.7 182.2L2237.6 164.7M2228.7 182.2L2237.6 199.7M2228.8 -98.2L2237.6 -115.7M2228.8 -98.2L2237.6 -80.7M2228.8 -28.1L2237.6 -45.6M2228.8 -28.1L2237.6 -10.6M2228.8 42L2237.6 24.5M2228.8 42L2237.6 59.5M2228.8 112.1L2237.6 94.6M2228.8 112.1L2237.6 129.6M2228.8 182.2L2237.6 164.7M2237.6 -115.7L2255.1 -106.9M2237.6 -80.7L2246.4 -63.1M2237.6 -80.7L2255.1 -89.5M2237.6 -45.6L2246.4 -63.1M2237.6 -45.6L2255.1 -36.8M2237.6 -10.6L2246.4 7M2237.6 -10.6L2255.1 -19.4M2237.6 24.5L2246.4 7M2237.6 24.5L2255.1 33.3M2237.6 59.5L2246.4 77M2237.6 59.5L2255.1 50.7M2237.6 94.6L2246.4 77M2237.6 94.6L2255.1 103.4M2237.6 129.6L2246.4 147.1M2237.6 129.6L2255.1 120.8M2237.6 164.7L2246.4 147.1M2237.6 164.7L2255.1 173.5M2237.6 199.7L2255.1 190.9M2246.4 -63.1L2263.8 -63.1M2246.4 7L2263.8 7M2246.4 77L2263.8 77M2246.4 147.1L2263.8 147.1M2255.1 -106.9L2255.1 -89.5M2255.1 -106.9L2272.6 -115.7M2255.1 -89.5L2272.6 -80.7M2255.1 -36.8L2255.1 -19.4M2255.1 -36.8L2272.6 -45.6M2255.1 -19.4L2272.6 -10.6M2255.1 33.3L2255.1 50.7M2255.1 33.3L2272.6 24.5M2255.1 50.7L2272.6 59.5M2255.1 103.4L2255.1 120.8M2255.1 103.4L2272.6 94.6M2255.1 120.8L2272.6 129.6M2255.1 173.5L2255.1 190.9M2255.1 173.5L2272.6 164.7M2255.1 190.9L2272.6 199.7M2263.8 -63.1L2272.6 -80.7M2263.8 -63.1L2272.6 -45.6M2263.8 7L2272.6 -10.6M2263.8 7L2272.6 24.5M2263.8 77L2272.6 59.5M2263.8 77L2272.6 94.6M2263.8 147.1L2272.6 129.6M2263.8 147.1L2272.6 164.7M2272.6 -115.7L2281.5 -98.2M2272.6 -115.7L2290.2 -124.5M2272.6 -80.7L2281.5 -98.2M2272.6 -80.7L2290.2 -71.8M2272.6 -45.6L2281.5 -28.1M2272.6 -45.6L2290.2 -54.4M2272.6 -10.6L2281.5 -28.1M2272.6 -10.6L2290.2 -1.7M2272.6 24.5L2281.5 42M2272.6 24.5L2290.2 15.7M2272.6 59.5L2281.5 42M2272.6 59.5L2290.2 68.3M2272.6 94.6L2281.5 112.1M2272.6 94.6L2290.2 85.8M2272.6 129.6L2281.5 112.1M2272.6 129.6L2290.2 138.4M2272.6 164.7L2281.5 182.2M2272.6 164.7L2290.2 155.8M2272.6 199.7L2281.5 182.2M2281.5 -98.2L2298.8 -98.2M2281.5 -28.1L2298.8 -28.1M2281.5 42L2298.8 42M2281.5 112.1L2298.8 112.1M2281.5 182.2L2298.8 182.2M2290.2 -124.5L2307.7 -115.7M2290.2 -71.8L2290.2 -54.4M2290.2 -71.8L2307.7 -80.7M2290.2 -54.4L2307.7 -45.6M2290.2 -1.7L2290.2 15.7M2290.2 -1.7L2307.7 -10.6M2290.2 15.7L2307.7 24.5M2290.2 68.3L2290.2 85.8M2290.2 68.3L2307.7 59.5M2290.2 85.8L2307.7 94.6M2290.2 138.4L2290.2 155.8M2290.2 138.4L2307.7 129.6M2290.2 155.8L2307.7 164.7M2298.8 -98.2L2307.7 -115.7M2298.8 -98.2L2307.7 -80.7M2298.8 -28.1L2307.7 -45.6M2298.8 -28.1L2307.7 -10.6M2298.8 42L2307.7 24.5M2298.8 42L2307.7 59.5M2298.8 112.1L2307.7 94.6M2298.8 112.1L2307.7 129.6M2298.8 182.2L2307.7 164.7M2298.8 182.2L2307.7 199.7M2307.7 -115.7L2325.2 -106.9M2307.7 -80.7L2316.5 -63.1M2307.7 -80.7L2325.2 -89.5M2307.7 -45.6L2316.5 -63.1M2307.7 -45.6L2325.2 -36.8M2307.7 -10.6L2316.5 7M2307.7 -10.6L2325.2 -19.4M2307.7 24.5L2316.5 7M2307.7 24.5L2325.2 33.3M2307.7 59.5L2316.5 77M2307.7 59.5L2325.2 50.7M2307.7 94.6L2316.5 77M2307.7 94.6L2325.2 103.4M2307.7 129.6L2316.5 147.1M2307.7 129.6L2325.2 120.8M2307.7 164.7L2316.5 147.1M2307.7 164.7L2325.2 173.5M2307.7 199.7L2325.2 190.9M2316.5 -63.1L2333.9 -63.1M2316.5 7L2333.9 7M2316.5 77L2333.9 77M2316.5 147.1L2333.9 147.1M2325.2 -106.9L2325.2 -89.5M2325.2 -106.9L2342.7 -115.7M2325.2 -89.5L2342.7 -80.7M2325.2 -36.8L2325.2 -19.4M2325.2 -36.8L2342.7 -45.6M2325.2 -19.4L2342.7 -10.6M2325.2 33.3L2325.2 50.7M2325.2 33.3L2342.7 24.5M2325.2 50.7L2342.7 59.5M2325.2 103.4L2325.2 120.8M2325.2 103.4L2342.7 94.6M2325.2 120.8L2342.7 129.6M2325.2 173.5L2325.2 190.9M2325.2 173.5L2342.7 164.7M2325.2 190.9L2342.7 199.7M2333.9 -63.1L2342.7 -80.7M2333.9 -63.1L2342.7 -45.6M2333.9 7L2342.7 -10.6M2333.9 7L2342.7 24.5M2333.9 77L2342.7 59.5M2333.9 77L2342.7 94.6M2333.9 147.1L2342.7 129.6M2333.9 147.1L2342.7 164.7M2342.7 -115.7L2351.6 -98.2M2342.7 -115.7L2360.2 -124.5M2342.7 -80.7L2351.6 -98.2M2342.7 -80.7L2360.2 -71.8M2342.7 -45.6L2351.6 -28.1M2342.7 -45.6L2360.2 -54.4M2342.7 -10.6L2351.6 -28.1M2342.7 -10.6L2360.2 -1.7M2342.7 24.5L2351.6 42M2342.7 24.5L2360.2 15.7M2342.7 59.5L2351.6 42M2342.7 59.5L2360.2 68.3M2342.7 94.6L2351.6 112.1M2342.7 94.6L2360.2 85.8M2342.7 129.6L2351.6 112.1M2342.7 129.6L2360.2 138.4M2342.7 164.7L2351.6 182.2M2342.7 164.7L2360.2 155.8M2342.7 199.7L2351.6 182.2M2342.7 199.7L2360.2 208.6M2342.7 234.8L2351.6 252.3M2342.7 234.8L2360.2 225.9M2351.6 -98.2L2368.9 -98.2M2351.6 -28.1L2368.9 -28.1M2351.6 42L2368.9 42M2351.6 112.1L2368.9 112.1M2351.6 182.2L2368.9 182.2M2351.6 252.3L2368.9 252.3M2360.2 -124.5L2377.8 -115.7M2360.2 -71.8L2360.2 -54.4M2360.2 -71.8L2377.8 -80.7M2360.2 -54.4L2377.8 -45.6M2360.2 -1.7L2360.2 15.7M2360.2 -1.7L2377.8 -10.6M2360.2 15.7L2377.8 24.5M2360.2 68.3L2360.2 85.8M2360.2 68.3L2377.8 59.5M2360.2 85.8L2377.8 94.6M2360.2 138.4L2360.2 155.8M2360.2 138.4L2377.8 129.6M2360.2 155.8L2377.8 164.7M2360.2 208.6L2360.2 225.9M2360.2 208.6L2377.8 199.7M2360.2 225.9L2377.8 234.8M2368.9 -98.2L2377.8 -115.7M2368.9 -98.2L2377.8 -80.7M2368.9 -28.1L2377.8 -45.6M2368.9 -28.1L2377.8 -10.6M2368.9 42L2377.8 24.5M2368.9 42L2377.8 59.5M2368.9 112.1L2377.8 94.6M2368.9 112.1L2377.8 129.6M2368.9 182.2L2377.8 164.7M2368.9 182.2L2377.8 199.7M2368.9 252.3L2377.8 234.8M2377.8 -115.7L2395.3 -106.9M2377.8 -80.7L2386.6 -63.1M2377.8 -80.7L2395.3 -89.5M2377.8 -45.6L2386.6 -63.1M2377.8 -45.6L2395.3 -36.8M2377.8 -10.6L2386.6 7M2377.8 -10.6L2395.3 -19.4M2377.8 24.5L2386.6 7M2377.8 24.5L2395.3 33.3M2377.8 59.5L2386.6 77M2377.8 59.5L2395.3 50.7M2377.8 94.6L2386.6 77M2377.8 94.6L2395.3 103.4M2377.8 129.6L2386.6 147.1M2377.8 129.6L2395.3 120.8M2377.8 164.7L2386.6 147.1M2377.8 164.7L2395.3 173.5M2377.8 199.7L2386.6 217.2M2377.8 199.7L2395.3 190.9M2377.8 234.8L2386.6 217.2M2377.8 234.8L2395.3 243.6M2386.6 -63.1L2404 -63.1M2386.6 7L2404 7M2386.6 77L2404 77M2386.6 147.1L2404 147.1M2386.6 217.2L2404 217.2M2395.3 -106.9L2395.3 -89.5M2395.3 -106.9L2412.8 -115.7M2395.3 -89.5L2412.8 -80.7M2395.3 -36.8L2395.3 -19.4M2395.3 -36.8L2412.8 -45.6M2395.3 -19.4L2412.8 -10.6M2395.3 33.3L2395.3 50.7M2395.3 33.3L2412.8 24.5M2395.3 50.7L2412.8 59.5M2395.3 103.4L2395.3 120.8M2395.3 103.4L2412.8 94.6M2395.3 120.8L2412.8 129.6M2395.3 173.5L2395.3 190.9M2395.3 173.5L2412.8 164.7M2395.3 190.9L2412.8 199.7M2395.3 243.6L2412.8 234.8M2404 -63.1L2412.8 -80.7M2404 -63.1L2412.8 -45.6M2404 7L2412.8 -10.6M2404 7L2412.8 24.5M2404 77L2412.8 59.5M2404 77L2412.8 94.6M2404 147.1L2412.8 129.6M2404 147.1L2412.8 164.7M2404 217.2L2412.8 199.7M2404 217.2L2412.8 234.8M2412.8 -115.7L2421.7 -98.2M2412.8 -115.7L2430.3 -124.5M2412.8 -80.7L2421.7 -98.2M2412.8 -80.7L2430.3 -71.8M2412.8 -45.6L2421.7 -28.1M2412.8 -45.6L2430.3 -54.4M2412.8 -10.6L2421.7 -28.1M2412.8 -10.6L2430.3 -1.7M2412.8 24.5L2421.7 42M2412.8 24.5L2430.3 15.7M2412.8 59.5L2421.7 42M2412.8 59.5L2430.3 68.3M2412.8 94.6L2421.7 112.1M2412.8 94.6L2430.3 85.8M2412.8 129.6L2421.7 112.1M2412.8 129.6L2430.3 138.4M2412.8 164.7L2421.7 182.2M2412.8 164.7L2430.3 155.8M2412.8 199.7L2421.7 182.2M2412.8 199.7L2430.3 208.6M2412.8 234.8L2421.7 252.3M2412.8 234.8L2430.3 225.9M2421.7 -98.2L2439 -98.2M2421.7 -28.1L2439 -28.1M2421.7 42L2439 42M2421.7 112.1L2439 112.1M2421.7 182.2L2439 182.2M2421.7 252.3L2439 252.3M2430.3 -124.5L2447.9 -115.7M2430.3 -71.8L2430.3 -54.4M2430.3 -71.8L2447.9 -80.7M2430.3 -54.4L2447.9 -45.6M2430.3 -1.7L2430.3 15.7M2430.3 -1.7L2447.9 -10.6M2430.3 15.7L2447.9 24.5M2430.3 68.3L2430.3 85.8M2430.3 68.3L2447.9 59.5M2430.3 85.8L2447.9 94.6M2430.3 138.4L2430.3 155.8M2430.3 138.4L2447.9 129.6M2430.3 155.8L2447.9 164.7M2430.3 208.6L2430.3 225.9M2430.3 208.6L2447.9 199.7M2430.3 225.9L2447.9 234.8M2439 -98.2L2447.9 -115.7M2439 -98.2L2447.9 -80.7M2439 -28.1L2447.9 -45.6M2439 -28.1L2447.9 -10.6M2439 42L2447.9 24.5M2439 42L2447.9 59.5M2439 112.1L2447.9 94.6M2439 112.1L2447.9 129.6M2439 182.2L2447.9 164.7M2439 182.2L2447.9 199.7M2439 252.3L2447.9 234.8M2447.9 -115.7L2465.4 -106.9M2447.9 -80.7L2456.7 -63.1M2447.9 -80.7L2465.4 -89.5M2447.9 -45.6L2456.7 -63.1M2447.9 -45.6L2465.4 -36.8M2447.9 -10.6L2456.7 7M2447.9 -10.6L2465.4 -19.4M2447.9 24.5L2456.7 7M2447.9 24.5L2465.4 33.3M2447.9 59.5L2456.7 77M2447.9 59.5L2465.4 50.7M2447.9 94.6L2456.7 77M2447.9 94.6L2465.4 103.4M2447.9 129.6L2456.7 147.1M2447.9 129.6L2465.4 120.8M2447.9 164.7L2456.7 147.1M2447.9 164.7L2465.4 173.5M2447.9 199.7L2456.7 217.2M2447.9 199.7L2465.4 190.9M2447.9 234.8L2456.7 217.2M2447.9 234.8L2465.4 243.6M2456.7 -63.1L2474.1 -63.1M2456.7 7L2474.1 7M2456.7 77L2474.1 77M2456.7 147.1L2474.1 147.1M2456.7 217.2L2474.1 217.2M2465.4 -106.9L2465.4 -89.5M2465.4 -106.9L2482.9 -115.7M2465.4 -89.5L2482.9 -80.7M2465.4 -36.8L2465.4 -19.4M2465.4 -36.8L2482.9 -45.6M2465.4 -19.4L2482.9 -10.6M2465.4 33.3L2465.4 50.7M2465.4 33.3L2482.9 24.5M2465.4 50.7L2482.9 59.5M2465.4 103.4L2465.4 120.8M2465.4 103.4L2482.9 94.6M2465.4 120.8L2482.9 129.6M2465.4 173.5L2465.4 190.9M2465.4 173.5L2482.9 164.7M2465.4 190.9L2482.9 199.7M2465.4 243.6L2482.9 234.8M2474.1 -63.1L2482.9 -80.7M2474.1 -63.1L2482.9 -45.6M2474.1 7L2482.9 -10.6M2474.1 7L2482.9 24.5M2474.1 77L2482.9 59.5M2474.1 77L2482.9 94.6M2474.1 147.1L2482.9 129.6M2474.1 147.1L2482.9 164.7M2474.1 217.2L2482.9 199.7M2474.1 217.2L2482.9 234.8M2482.9 -115.7L2491.8 -98.2M2482.9 -115.7L2500.4 -124.5M2482.9 -80.7L2491.8 -98.2M2482.9 -80.7L2500.4 -71.8M2482.9 -45.6L2491.8 -28.1M2482.9 -45.6L2500.4 -54.4M2482.9 -10.6L2491.8 -28.1M2482.9 -10.6L2500.4 -1.7M2482.9 24.5L2491.8 42M2482.9 24.5L2500.4 15.7M2482.9 59.5L2491.8 42M2482.9 59.5L2500.4 68.3M2482.9 94.6L2491.8 112.1M2482.9 94.6L2500.4 85.8M2482.9 129.6L2491.8 112.1M2482.9 129.6L2500.4 138.4M2482.9 164.7L2491.8 182.2M2482.9 164.7L2500.4 155.8M2482.9 199.7L2491.8 182.2M2482.9 199.7L2500.4 208.6M2482.9 234.8L2491.8 252.3M2482.9 234.8L2500.4 225.9M2491.8 -98.2L2509.1 -98.2M2491.8 -28.1L2509.1 -28.1M2491.8 42L2509.1 42M2491.8 112.1L2509.1 112.1M2491.8 182.2L2509.1 182.2M2491.8 252.3L2509.1 252.3M2500.4 -124.5L2518 -115.7M2500.4 -71.8L2500.4 -54.4M2500.4 -71.8L2518 -80.7M2500.4 -54.4L2518 -45.6M2500.4 -1.7L2500.4 15.7M2500.4 -1.7L2518 -10.6M2500.4 15.7L2518 24.5M2500.4 68.3L2500.4 85.8M2500.4 68.3L2518 59.5M2500.4 85.8L2518 94.6M2500.4 138.4L2500.4 155.8M2500.4 138.4L2518 129.6M2500.4 155.8L2518 164.7M2500.4 208.6L2500.4 225.9M2500.4 208.6L2518 199.7M2500.4 225.9L2518 234.8M2509.1 -98.2L2518 -115.7M2509.1 -98.2L2518 -80.7M2509.1 -28.1L2518 -45.6M2509.1 -28.1L2518 -10.6M2509.1 42L2518 24.5M2509.1 42L2518 59.5M2509.1 112.1L2518 94.6M2509.1 112.1L2518 129.6M2509.1 182.2L2518 164.7M2509.1 182.2L2518 199.7M2509.1 252.3L2518 234.8M2518 -115.7L2535.5 -106.9M2518 -80.7L2526.8 -63.1M2518 -80.7L2535.5 -89.5M2518 -45.6L2526.8 -63.1M2518 -45.6L2535.5 -36.8M2518 -10.6L2526.8 7M2518 -10.6L2535.5 -19.4M2518 24.5L2526.8 7M2518 24.5L2535.5 33.3M2518 59.5L2526.8 77M2518 59.5L2535.5 50.7M2518 94.6L2526.8 77M2518 94.6L2535.5 103.4M2518 129.6L2526.8 147.1M2518 129.6L2535.5 120.8M2518 164.7L2526.8 147.1M2518 164.7L2535.5 173.5M2518 199.7L2526.8 217.2M2518 199.7L2535.5 190.9M2518 234.8L2526.8 217.2M2518 234.8L2535.5 243.6M2526.8 -63.1L2544.2 -63.1M2526.8 7L2544.2 7M2526.8 77L2544.2 77M2526.8 147.1L2544.2 147.1M2526.8 217.2L2544.2 217.2M2535.5 -106.9L2535.5 -89.5M2535.5 -106.9L2553 -115.7M2535.5 -89.5L2553 -80.7M2535.5 -36.8L2535.5 -19.4M2535.5 -36.8L2553 -45.6M2535.5 -19.4L2553 -10.6M2535.5 33.3L2535.5 50.7M2535.5 33.3L2553 24.5M2535.5 50.7L2553 59.5M2535.5 103.4L2535.5 120.8M2535.5 103.4L2553 94.6M2535.5 120.8L2553 129.6M2535.5 173.5L2535.5 190.9M2535.5 173.5L2553 164.7M2535.5 190.9L2553 199.7M2535.5 243.6L2553 234.8M2544.2 -63.1L2553 -80.7M2544.2 -63.1L2553 -45.6M2544.2 7L2553 -10.6M2544.2 7L2553 24.5M2544.2 77L2553 59.5M2544.2 77L2553 94.6M2544.2 147.1L2553 129.6M2544.2 147.1L2553 164.7M2544.2 217.2L2553 199.7M2544.2 217.2L2553 234.8M2553 -115.7L2561.9 -98.2M2553 -115.7L2570.6 -124.5M2553 -80.7L2561.9 -98.2M2553 -80.7L2570.6 -71.8M2553 -45.6L2561.9 -28.1M2553 -45.6L2570.6 -54.4M2553 -10.6L2561.9 -28.1M2553 -10.6L2570.6 -1.7M2553 24.5L2561.9 42M2553 24.5L2570.6 15.7M2553 59.5L2561.9 42M2553 59.5L2570.6 68.3M2553 94.6L2561.9 112.1M2553 94.6L2570.6 85.8M2553 129.6L2561.9 112.1M2553 129.6L2570.6 138.4M2553 164.7L2561.9 182.2M2553 164.7L2570.6 155.8M2553 199.7L2561.9 182.2M2553 199.7L2570.6 208.6M2553 234.8L2561.9 252.3M2553 234.8L2570.6 225.9M2561.9 -98.2L2579.2 -98.2M2561.9 -28.1L2579.2 -28.1M2561.9 42L2579.2 42M2561.9 112.1L2579.2 112.1M2561.9 182.2L2579.2 182.2M2561.9 252.3L2579.2 252.3M2570.6 -124.5L2588.1 -115.7M2570.6 -71.8L2570.6 -54.4M2570.6 -71.8L2588.1 -80.7M2570.6 -54.4L2588.1 -45.6M2570.6 -1.7L2570.6 15.7M2570.6 -1.7L2588.1 -10.6M2570.6 15.7L2588.1 24.5M2570.6 68.3L2570.6 85.8M2570.6 68.3L2588.1 59.5M2570.6 85.8L2588.1 94.6M2570.6 138.4L2570.6 155.8M2570.6 138.4L2588.1 129.6M2570.6 155.8L2588.1 164.7M2570.6 208.6L2570.6 225.9M2570.6 208.6L2588.1 199.7M2570.6 225.9L2588.1 234.8M2579.2 -98.2L2588.1 -115.7M2579.2 -98.2L2588.1 -80.7M2579.2 -28.1L2588.1 -45.6M2579.2 -28.1L2588.1 -10.6M2579.2 42L2588.1 24.5M2579.2 42L2588.1 59.5M2579.2 112.1L2588.1 94.6M2579.2 112.1L2588.1 129.6M2579.2 182.2L2588.1 164.7M2579.2 182.2L2588.1 199.7M2579.2 252.3L2588.1 234.8M2588.1 -115.7L2605.6 -106.9M2588.1 -80.7L2596.9 -63.1M2588.1 -80.7L2605.6 -89.5M2588.1 -45.6L2596.9 -63.1M2588.1 -45.6L2605.6 -36.8M2588.1 -10.6L2596.9 7M2588.1 -10.6L2605.6 -19.4M2588.1 24.5L2596.9 7M2588.1 24.5L2605.6 33.3M2588.1 59.5L2596.9 77M2588.1 59.5L2605.6 50.7M2588.1 94.6L2596.9 77M2588.1 94.6L2605.6 103.4M2588.1 129.6L2596.9 147.1M2588.1 129.6L2605.6 120.8M2588.1 164.7L2596.9 147.1M2588.1 164.7L2605.6 173.5M2588.1 199.7L2596.9 217.2M2588.1 199.7L2605.6 190.9M2588.1 234.8L2596.9 217.2M2588.1 234.8L2605.6 243.6M2596.9 -63.1L2614.3 -63.1M2596.9 7L2614.3 7M2596.9 77L2614.3 77M2596.9 147.1L2614.3 147.1M2596.9 217.2L2614.3 217.2M2605.6 -106.9L2605.6 -89.5M2605.6 -106.9L2623.1 -115.7M2605.6 -89.5L2623.1 -80.7M2605.6 -36.8L2605.6 -19.4M2605.6 -36.8L2623.1 -45.6M2605.6 -19.4L2623.1 -10.6M2605.6 33.3L2605.6 50.7M2605.6 33.3L2623.1 24.5M2605.6 50.7L2623.1 59.5M2605.6 103.4L2605.6 120.8M2605.6 103.4L2623.1 94.6M2605.6 120.8L2623.1 129.6M2605.6 173.5L2605.6 190.9M2605.6 173.5L2623.1 164.7M2605.6 190.9L2623.1 199.7M2605.6 243.6L2623.1 234.8M2614.3 -63.1L2623.1 -80.7M2614.3 -63.1L2623.1 -45.6M2614.3 7L2623.1 -10.6M2614.3 7L2623.1 24.5M2614.3 77L2623.1 59.5M2614.3 77L2623.1 94.6M2614.3 147.1L2623.1 129.6M2614.3 147.1L2623.1 164.7M2614.3 217.2L2623.1 199.7M2614.3 217.2L2623.1 234.8M2623.1 -115.7L2631.9 -98.2M2623.1 -115.7L2632 -98.2M2623.1 -115.7L2640.6 -124.5M2623.1 -80.7L2631.9 -98.2M2623.1 -80.7L2632 -98.2M2623.1 -80.7L2640.6 -71.8M2623.1 -45.6L2631.9 -28.1M2623.1 -45.6L2632 -28.1M2623.1 -45.6L2640.6 -54.4M2623.1 -10.6L2631.9 -28.1M2623.1 -10.6L2632 -28.1M2623.1 -10.6L2640.6 -1.7M2623.1 24.5L2631.9 42M2623.1 24.5L2632 42M2623.1 24.5L2640.6 15.7M2623.1 59.5L2631.9 42M2623.1 59.5L2632 42M2623.1 59.5L2640.6 68.3M2623.1 94.6L2631.9 112.1M2623.1 94.6L2632 112.1M2623.1 94.6L2640.6 85.8M2623.1 129.6L2631.9 112.1M2623.1 129.6L2632 112.1M2623.1 129.6L2640.6 138.4M2623.1 164.7L2631.9 182.2M2623.1 164.7L2632 182.2M2623.1 164.7L2640.6 155.8M2623.1 199.7L2631.9 182.2M2623.1 199.7L2632 182.2M2623.1 199.7L2640.6 208.6M2623.1 234.8L2631.9 252.3M2623.1 234.8L2640.6 225.9M2631.9 -98.2L2649.3 -98.2M2631.9 -28.1L2649.3 -28.1M2631.9 42L2649.3 42M2631.9 112.1L2649.3 112.1M2631.9 182.2L2649.3 182.2M2631.9 252.3L2649.3 252.3M2640.6 -124.5L2658.2 -115.7M2640.6 -71.8L2640.6 -54.4M2640.6 -71.8L2658.2 -80.7M2640.6 -54.4L2658.2 -45.6M2640.6 -1.7L2640.6 15.7M2640.6 -1.7L2658.2 -10.6M2640.6 15.7L2658.2 24.5M2640.6 68.3L2640.6 85.8M2640.6 68.3L2658.2 59.5M2640.6 85.8L2658.2 94.6M2640.6 138.4L2640.6 155.8M2640.6 138.4L2658.2 129.6M2640.6 155.8L2658.2 164.7M2640.6 208.6L2640.6 225.9M2640.6 208.6L2658.2 199.7M2640.6 225.9L2658.2 234.8M2649.3 -98.2L2658.2 -115.7M2649.3 -98.2L2658.2 -80.7M2649.3 -28.1L2658.2 -45.6M2649.3 -28.1L2658.2 -10.6M2649.3 42L2658.2 24.5M2649.3 42L2658.2 59.5M2649.3 112.1L2658.2 94.6M2649.3 112.1L2658.2 129.6M2649.3 182.2L2658.2 164.7M2649.3 182.2L2658.2 199.7M2649.3 252.3L2658.2 234.8M2658.2 -80.7L2667 -63.1M2658.2 -45.6L2667 -63.1M2658.2 -10.6L2667 7M2658.2 24.5L2667 7M2658.2 59.5L2667 77M2658.2 94.6L2667 77M2658.2 129.6L2667 147.1M2658.2 164.7L2667 147.1M2658.2 199.7L2667 217.2M2658.2 234.8L2667 217.2" fill="none" stroke="#989dae" stroke-width="1.2" stroke-linecap="round"/>
<path d="M2008.8 1207.7L2008.8 1225.1M2008.8 1207.7L2026.3 1198.9M2008.8 1225.1L2026.3 1234M2008.8 1278L2008.8 1295.5M2008.8 1278L2026.3 1269.2M2008.8 1295.5L2026.3 1304.3M2008.8 1348.3L2008.8 1365.8M2008.8 1348.3L2026.3 1339.5M2008.8 1365.8L2026.3 1374.6M2017.5 1251.6L2026.3 1234M2017.5 1251.6L2026.3 1269.2M2017.5 1321.9L2026.3 1304.3M2017.5 1321.9L2026.3 1339.5M2017.5 1392.2L2026.3 1374.6M2017.5 1392.2L2026.3 1409.8M2026.3 1198.9L2035.2 1216.4M2026.3 1198.9L2043.9 1190M2026.3 1234L2035.2 1216.4M2026.3 1234L2043.9 1242.9M2026.3 1269.2L2035.2 1286.8M2026.3 1269.2L2043.9 1260.3M2026.3 1304.3L2035.2 1286.8M2026.3 1304.3L2043.9 1313.2M2026.3 1339.5L2035.2 1357M2026.3 1339.5L2043.9 1330.6M2026.3 1374.6L2035.2 1357M2026.3 1374.6L2043.9 1383.5M2026.3 1409.8L2043.9 1400.9M2035.2 1216.4L2052.6 1216.4M2035.2 1286.8L2052.6 1286.8M2035.2 1357L2052.6 1357M2043.9 1190L2061.5 1198.9M2043.9 1242.9L2043.9 1260.3M2043.9 1242.9L2061.5 1234M2043.9 1260.3L2061.5 1269.2M2043.9 1313.2L2043.9 1330.6M2043.9 1313.2L2061.5 1304.3M2043.9 1330.6L2061.5 1339.5M2043.9 1383.5L2043.9 1400.9M2043.9 1383.5L2061.5 1374.6M2043.9 1400.9L2061.5 1409.8M2052.6 1216.4L2061.5 1198.9M2052.6 1216.4L2061.5 1234M2052.6 1286.8L2061.5 1269.2M2052.6 1286.8L2061.5 1304.3M2052.6 1357L2061.5 1339.5M2052.6 1357L2061.5 1374.6M2061.5 1198.9L2079.1 1207.7M2061.5 1234L2070.4 1251.6M2061.5 1234L2079.1 1225.1M2061.5 1269.2L2070.4 1251.6M2061.5 1269.2L2079.1 1278M2061.5 1304.3L2070.4 1321.9M2061.5 1304.3L2079.1 1295.4M2061.5 1304.3L2079.1 1295.5M2061.5 1339.5L2070.4 1321.9M2061.5 1339.5L2079.1 1348.3M2061.5 1374.6L2070.4 1392.2M2061.5 1374.6L2079.1 1365.7M2061.5 1374.6L2079.1 1365.8M2061.5 1409.8L2070.4 1392.2M2061.5 1409.8L2079.1 1418.6M2070.4 1251.6L2087.8 1251.6M2070.4 1321.9L2087.8 1321.9M2070.4 1392.2L2087.8 1392.2M2079.1 1207.7L2079.1 1225.1M2079.1 1207.7L2096.6 1198.9M2079.1 1225.1L2096.6 1234M2079.1 1278L2079.1 1295.5M2079.1 1278L2096.6 1269.2M2079.1 1295.4L2096.6 1304.3M2079.1 1295.5L2096.6 1304.3M2079.1 1348.3L2079.1 1365.8M2079.1 1348.3L2096.6 1339.5M2079.1 1365.7L2096.6 1374.6M2079.1 1365.8L2096.6 1374.6M2079.1 1418.6L2096.6 1409.8M2087.8 1251.6L2096.6 1234M2087.8 1251.6L2096.6 1269.2M2087.8 1321.9L2096.6 1304.3M2087.8 1321.9L2096.6 1339.5M2087.8 1392.2L2096.6 1374.6M2087.8 1392.2L2096.6 1409.8M2096.6 1198.9L2105.5 1216.4M2096.6 1198.9L2114.2 1190M2096.6 1234L2105.5 1216.4M2096.6 1234L2114.2 1242.9M2096.6 1269.2L2105.5 1286.8M2096.6 1269.2L2114.2 1260.3M2096.6 1304.3L2105.5 1286.8M2096.6 1304.3L2114.2 1313.2M2096.6 1339.5L2105.5 1357M2096.6 1339.5L2114.2 1330.6M2096.6 1374.6L2105.5 1357M2096.6 1374.6L2114.2 1383.5M2096.6 1409.8L2114.2 1400.9M2105.5 1216.4L2122.9 1216.4M2105.5 1286.8L2122.9 1286.8M2105.5 1357L2122.9 1357M2114.2 1190L2131.8 1198.9M2114.2 1242.9L2114.2 1260.3M2114.2 1242.9L2131.8 1234M2114.2 1260.3L2131.8 1269.2M2114.2 1313.2L2114.2 1330.6M2114.2 1313.2L2131.8 1304.3M2114.2 1330.6L2131.8 1339.5M2114.2 1383.5L2114.2 1400.9M2114.2 1383.5L2131.8 1374.6M2114.2 1400.9L2131.8 1409.8M2122.9 1216.4L2131.8 1198.9M2122.9 1216.4L2131.8 1234M2122.9 1286.8L2131.8 1269.2M2122.9 1286.8L2131.8 1304.3M2122.9 1357L2131.8 1339.5M2122.9 1357L2131.8 1374.6M2131.8 1198.9L2149.3 1207.7M2131.8 1234L2140.7 1251.6M2131.8 1234L2149.3 1225.1M2131.8 1269.2L2140.7 1251.6M2131.8 1269.2L2149.3 1278M2131.8 1304.3L2140.7 1321.9M2131.8 1304.3L2149.3 1295.4M2131.8 1304.3L2149.3 1295.5M2131.8 1339.5L2140.7 1321.9M2131.8 1339.5L2149.3 1348.3M2131.8 1374.6L2140.7 1392.2M2131.8 1374.6L2149.3 1365.7M2131.8 1374.6L2149.3 1365.8M2131.8 1409.8L2140.7 1392.2M2131.8 1409.8L2149.3 1418.6M2140.7 1251.6L2158 1251.6M2140.7 1321.9L2158 1321.9M2140.7 1392.2L2158 1392.2M2149.3 1207.7L2149.3 1225.1M2149.3 1207.7L2166.9 1198.9M2149.3 1225.1L2166.9 1234M2149.3 1278L2149.3 1295.5M2149.3 1278L2166.9 1269.2M2149.3 1295.4L2166.9 1304.3M2149.3 1295.5L2166.9 1304.3M2149.3 1348.3L2149.3 1365.8M2149.3 1348.3L2166.9 1339.5M2149.3 1365.7L2166.9 1374.6M2149.3 1365.8L2166.9 1374.6M2149.3 1418.6L2166.9 1409.8M2158 1251.6L2166.9 1234M2158 1251.6L2166.9 1269.2M2158 1321.9L2166.9 1304.3M2158 1321.9L2166.9 1339.5M2158 1392.2L2166.9 1374.6M2158 1392.2L2166.9 1409.8M2166.9 1198.9L2175.8 1216.4M2166.9 1198.9L2184.5 1190M2166.9 1234L2175.8 1216.4M2166.9 1234L2184.5 1242.9M2166.9 1269.2L2175.8 1286.8M2166.9 1269.2L2184.5 1260.3M2166.9 1304.3L2175.8 1286.8M2166.9 1304.3L2184.5 1313.2M2166.9 1339.5L2175.8 1357M2166.9 1339.5L2184.5 1330.6M2166.9 1374.6L2175.8 1357M2166.9 1374.6L2184.5 1383.5M2166.9 1409.8L2184.5 1400.9M2175.8 1216.4L2193.2 1216.4M2175.8 1286.8L2193.2 1286.8M2175.8 1357L2193.2 1357M2184.5 1190L2202.1 1198.9M2184.5 1242.9L2184.5 1260.3M2184.5 1242.9L2202.1 1234M2184.5 1260.3L2202.1 1269.2M2184.5 1313.2L2184.5 1330.6M2184.5 1313.2L2202.1 1304.3M2184.5 1330.6L2202.1 1339.5M2184.5 1383.5L2184.5 1400.9M2184.5 1383.5L2202.1 1374.6M2184.5 1400.9L2202.1 1409.8M2193.2 1216.4L2202.1 1198.9M2193.2 1216.4L2202.1 1234M2193.2 1286.8L2202.1 1269.2M2193.2 1286.8L2202.1 1304.3M2193.2 1357L2202.1 1339.5M2193.2 1357L2202.1 1374.6M2202.1 1198.9L2219.7 1207.7M2202.1 1234L2211 1251.6M2202.1 1234L2219.7 1225.1M2202.1 1269.2L2211 1251.6M2202.1 1269.2L2219.7 1278M2202.1 1304.3L2211 1321.9M2202.1 1304.3L2219.7 1295.4M2202.1 1304.3L2219.7 1295.5M2202.1 1339.5L2211 1321.9M2202.1 1339.5L2219.7 1348.3M2202.1 1374.6L2211 1392.2M2202.1 1374.6L2219.7 1365.7M2202.1 1374.6L2219.7 1365.8M2202.1 1409.8L2211 1392.2M2202.1 1409.8L2219.7 1418.6M2211 1251.6L2228.3 1251.6M2211 1321.9L2228.3 1321.9M2211 1392.2L2228.3 1392.2M2219.7 1207.7L2219.7 1225.1M2219.7 1207.7L2237.2 1198.9M2219.7 1225.1L2237.2 1234M2219.7 1278L2219.7 1295.5M2219.7 1278L2237.2 1269.2M2219.7 1295.4L2237.2 1304.3M2219.7 1295.5L2237.2 1304.3M2219.7 1348.3L2219.7 1365.8M2219.7 1348.3L2237.2 1339.5M2219.7 1365.7L2237.2 1374.6M2219.7 1365.8L2237.2 1374.6M2219.7 1418.6L2237.2 1409.8M2228.3 1251.6L2237.2 1234M2228.3 1251.6L2237.2 1269.2M2228.3 1321.9L2237.2 1304.3M2228.3 1321.9L2237.2 1339.5M2228.3 1392.2L2237.2 1374.6M2228.3 1392.2L2237.2 1409.8M2237.2 1198.9L2246.1 1216.4M2237.2 1198.9L2254.8 1190M2237.2 1234L2246.1 1216.4M2237.2 1234L2254.8 1242.9M2237.2 1269.2L2246.1 1286.8M2237.2 1269.2L2254.8 1260.3M2237.2 1304.3L2246.1 1286.8M2237.2 1304.3L2254.8 1313.2M2237.2 1339.5L2246.1 1357M2237.2 1339.5L2254.8 1330.6M2237.2 1374.6L2246.1 1357M2237.2 1374.6L2254.8 1383.5M2237.2 1409.8L2254.8 1400.9M2246.1 1216.4L2263.5 1216.4M2246.1 1286.8L2263.5 1286.8M2246.1 1357L2263.5 1357M2254.8 1190L2272.4 1198.9M2254.8 1242.9L2254.8 1260.3M2254.8 1242.9L2272.4 1234M2254.8 1260.3L2272.4 1269.2M2254.8 1313.2L2254.8 1330.6M2254.8 1313.2L2272.4 1304.3M2254.8 1330.6L2272.4 1339.5M2254.8 1383.5L2254.8 1400.9M2254.8 1383.5L2272.4 1374.6M2254.8 1400.9L2272.4 1409.8M2263.5 1216.4L2272.4 1198.9M2263.5 1216.4L2272.4 1234M2263.5 1286.8L2272.4 1269.2M2263.5 1286.8L2272.4 1304.3M2263.5 1357L2272.4 1339.5M2263.5 1357L2272.4 1374.6M2272.4 1198.9L2290 1207.7M2272.4 1234L2281.3 1251.6M2272.4 1234L2290 1225.1M2272.4 1269.2L2281.3 1251.6M2272.4 1269.2L2290 1278M2272.4 1304.3L2281.3 1321.9M2272.4 1304.3L2290 1295.4M2272.4 1304.3L2290 1295.5M2272.4 1339.5L2281.3 1321.9M2272.4 1339.5L2290 1348.3M2272.4 1374.6L2281.3 1392.2M2272.4 1374.6L2290 1365.7M2272.4 1374.6L2290 1365.8M2272.4 1409.8L2281.3 1392.2M2272.4 1409.8L2290 1418.6M2281.3 1251.6L2298.7 1251.6M2281.3 1321.9L2298.7 1321.9M2281.3 1392.2L2298.7 1392.2M2290 1207.7L2290 1225.1M2290 1207.7L2307.5 1198.9M2290 1225.1L2307.5 1234M2290 1278L2290 1295.5M2290 1278L2307.5 1269.2M2290 1295.4L2307.5 1304.3M2290 1295.5L2307.5 1304.3M2290 1348.3L2290 1365.8M2290 1348.3L2307.5 1339.5M2290 1365.7L2307.5 1374.6M2290 1365.8L2307.5 1374.6M2290 1418.6L2307.5 1409.8M2298.6 1251.6L2307.5 1234M2298.6 1251.6L2307.5 1269.2M2298.6 1321.9L2307.5 1304.3M2298.6 1321.9L2307.5 1339.5M2298.6 1392.2L2307.5 1374.6M2298.6 1392.2L2307.5 1409.8M2298.7 1251.6L2307.5 1234M2298.7 1251.6L2307.5 1269.2M2298.7 1321.9L2307.5 1304.3M2298.7 1321.9L2307.5 1339.5M2298.7 1392.2L2307.5 1374.6M2298.7 1392.2L2307.5 1409.8M2307.5 1198.9L2316.4 1216.4M2307.5 1198.9L2325.1 1190M2307.5 1234L2316.4 1216.4M2307.5 1234L2325.1 1242.9M2307.5 1269.2L2316.4 1286.8M2307.5 1269.2L2325.1 1260.3M2307.5 1304.3L2316.4 1286.8M2307.5 1304.3L2325.1 1313.2M2307.5 1339.5L2316.4 1357M2307.5 1339.5L2325.1 1330.6M2307.5 1374.6L2316.4 1357M2307.5 1374.6L2325.1 1383.5M2307.5 1409.8L2325.1 1400.9M2316.4 1216.4L2333.8 1216.4M2316.4 1286.8L2333.8 1286.8M2316.4 1357L2333.8 1357M2325.1 1190L2342.7 1198.9M2325.1 1242.9L2325.1 1260.3M2325.1 1242.9L2342.7 1234M2325.1 1260.3L2342.7 1269.2M2325.1 1313.2L2325.1 1330.6M2325.1 1313.2L2342.7 1304.3M2325.1 1330.6L2342.7 1339.5M2325.1 1383.5L2325.1 1400.9M2325.1 1383.5L2342.7 1374.6M2325.1 1400.9L2342.7 1409.8M2333.8 1216.4L2342.7 1198.9M2333.8 1216.4L2342.7 1234M2333.8 1286.8L2342.7 1269.2M2333.8 1286.8L2342.7 1304.3M2333.8 1357L2342.7 1339.5M2333.8 1357L2342.7 1374.6M2342.7 1058.3L2351.6 1040.7M2342.7 1058.3L2360.2 1067.1M2342.7 1093.4L2351.6 1111M2342.7 1093.4L2360.2 1084.5M2342.7 1128.6L2351.6 1111M2342.7 1128.6L2360.2 1137.5M2342.7 1163.7L2351.6 1181.3M2342.7 1163.7L2360.2 1154.8M2342.7 1198.9L2351.6 1181.3M2342.7 1198.9L2360.2 1207.7M2342.7 1198.9L2360.2 1207.8M2342.7 1234L2351.6 1251.6M2342.7 1234L2360.2 1225.1M2342.7 1269.2L2351.6 1251.6M2342.7 1269.2L2360.2 1278M2342.7 1304.3L2351.6 1321.9M2342.7 1304.3L2360.2 1295.4M2342.7 1304.3L2360.2 1295.5M2342.7 1339.5L2351.6 1321.9M2342.7 1339.5L2360.2 1348.3M2342.7 1374.6L2351.6 1392.2M2342.7 1374.6L2360.2 1365.7M2342.7 1374.6L2360.2 1365.8M2342.7 1409.8L2351.6 1392.2M2342.7 1409.8L2360.2 1418.6M2351.6 1040.7L2368.9 1040.7M2351.6 1111L2368.9 1111M2351.6 1181.3L2368.9 1181.3M2351.6 1251.6L2368.9 1251.6M2351.6 1321.9L2368.9 1321.9M2351.6 1392.2L2368.9 1392.2M2360.2 1067.1L2360.2 1084.5M2360.2 1067.1L2377.8 1058.3M2360.2 1084.5L2377.8 1093.4M2360.2 1137.4L2360.2 1154.8M2360.2 1137.4L2377.8 1128.6M2360.2 1137.5L2377.8 1128.6M2360.2 1154.8L2377.8 1163.7M2360.2 1207.7L2360.2 1225.1M2360.2 1207.7L2377.8 1198.9M2360.2 1207.8L2377.8 1198.9M2360.2 1225.1L2377.8 1234M2360.2 1278L2360.2 1295.5M2360.2 1278L2377.8 1269.2M2360.2 1295.4L2377.8 1304.3M2360.2 1295.5L2377.8 1304.3M2360.2 1348.3L2360.2 1365.8M2360.2 1348.3L2377.8 1339.5M2360.2 1365.7L2377.8 1374.6M2360.2 1365.8L2377.8 1374.6M2360.2 1418.6L2377.8 1409.8M2368.9 1040.7L2377.8 1058.3M2368.9 1111L2377.8 1093.4M2368.9 1111L2377.8 1128.6M2368.9 1181.3L2377.8 1163.7M2368.9 1181.3L2377.8 1198.9M2368.9 1251.6L2377.8 1234M2368.9 1251.6L2377.8 1269.2M2368.9 1321.9L2377.8 1304.3M2368.9 1321.9L2377.8 1339.5M2368.9 1392.2L2377.8 1374.6M2368.9 1392.2L2377.8 1409.8M2377.8 1058.3L2386.7 1075.8M2377.8 1058.3L2395.4 1049.4M2377.8 1093.4L2386.7 1075.8M2377.8 1093.4L2395.4 1102.3M2377.8 1128.6L2386.7 1146.1M2377.8 1128.6L2395.4 1119.7M2377.8 1163.7L2386.7 1146.1M2377.8 1163.7L2395.4 1172.6M2377.8 1198.9L2386.7 1216.4M2377.8 1198.9L2395.4 1190M2377.8 1234L2386.7 1216.4M2377.8 1234L2395.4 1242.9M2377.8 1269.2L2386.7 1286.8M2377.8 1269.2L2395.4 1260.3M2377.8 1304.3L2386.7 1286.8M2377.8 1304.3L2395.4 1313.2M2377.8 1339.5L2386.7 1357M2377.8 1339.5L2395.4 1330.6M2377.8 1374.6L2386.7 1357M2377.8 1374.6L2395.4 1383.5M2377.8 1409.8L2395.4 1400.9M2386.7 1075.8L2404.1 1075.8M2386.7 1146.1L2404.1 1146.1M2386.7 1216.4L2404.1 1216.4M2386.7 1286.8L2404.1 1286.8M2386.7 1357L2404.1 1357M2395.4 1049.4L2413 1058.3M2395.4 1102.3L2395.4 1119.7M2395.4 1102.3L2413 1093.4M2395.4 1119.7L2413 1128.6M2395.4 1172.6L2395.4 1190M2395.4 1172.6L2413 1163.7M2395.4 1190L2413 1198.9M2395.4 1242.9L2395.4 1260.3M2395.4 1242.9L2413 1234M2395.4 1260.3L2413 1269.2M2395.4 1313.2L2395.4 1330.6M2395.4 1313.2L2413 1304.3M2395.4 1330.6L2413 1339.5M2395.4 1383.5L2395.4 1400.9M2395.4 1383.5L2413 1374.6M2395.4 1400.9L2413 1409.8M2404.1 1075.8L2413 1058.3M2404.1 1075.8L2413 1093.4M2404.1 1146.1L2413 1128.6M2404.1 1146.1L2413 1163.7M2404.1 1216.4L2413 1198.9M2404.1 1216.4L2413 1234M2404.1 1286.8L2413 1269.2M2404.1 1286.8L2413 1304.3M2404.1 1357L2413 1339.5M2404.1 1357L2413 1374.6M2413 1058.3L2421.9 1040.7M2413 1058.3L2430.6 1067.1M2413 1093.4L2421.9 1111M2413 1093.4L2430.6 1084.5M2413 1128.6L2421.9 1111M2413 1128.6L2430.6 1137.4M2413 1128.6L2430.6 1137.5M2413 1163.7L2421.9 1181.3M2413 1163.7L2430.6 1154.8M2413 1198.9L2421.9 1181.3M2413 1198.9L2430.6 1207.7M2413 1198.9L2430.6 1207.8M2413 1234L2421.9 1251.6M2413 1234L2430.6 1225.1M2413 1269.2L2421.9 1251.6M2413 1269.2L2430.6 1278M2413 1304.3L2421.9 1321.9M2413 1304.3L2430.6 1295.4M2413 1304.3L2430.6 1295.5M2413 1339.5L2421.9 1321.9M2413 1339.5L2430.6 1348.3M2413 1374.6L2421.9 1392.2M2413 1374.6L2430.6 1365.7M2413 1374.6L2430.6 1365.8M2413 1409.8L2421.9 1392.2M2413 1409.8L2430.6 1418.6M2421.9 1040.7L2439.2 1040.7M2421.9 1111L2439.2 1111M2421.9 1181.3L2439.2 1181.3M2421.9 1251.6L2439.2 1251.6M2421.9 1321.9L2439.2 1321.9M2421.9 1392.2L2439.2 1392.2M2430.6 1067.1L2430.6 1084.5M2430.6 1067.1L2448.1 1058.3M2430.6 1084.5L2448.1 1093.4M2430.6 1137.4L2430.6 1154.8M2430.6 1137.4L2448.1 1128.6M2430.6 1137.5L2448.1 1128.6M2430.6 1154.8L2448.1 1163.7M2430.6 1207.7L2430.6 1225.1M2430.6 1207.7L2448.1 1198.9M2430.6 1207.8L2448.1 1198.9M2430.6 1225.1L2448.1 1234M2430.6 1278L2430.6 1295.5M2430.6 1278L2448.1 1269.2M2430.6 1295.4L2448.1 1304.3M2430.6 1295.5L2448.1 1304.3M2430.6 1348.3L2430.6 1365.8M2430.6 1348.3L2448.1 1339.5M2430.6 1365.7L2448.1 1374.6M2430.6 1365.8L2448.1 1374.6M2430.6 1418.6L2448.1 1409.8M2439.2 1040.7L2448.1 1058.3M2439.2 1111L2448.1 1093.4M2439.2 1111L2448.1 1128.6M2439.2 1181.3L2448.1 1163.7M2439.2 1181.3L2448.1 1198.9M2439.2 1251.6L2448.1 1234M2439.2 1251.6L2448.1 1269.2M2439.2 1321.9L2448.1 1304.3M2439.2 1321.9L2448.1 1339.5M2439.2 1392.2L2448.1 1374.6M2439.2 1392.2L2448.1 1409.8M2448.1 1058.3L2457 1075.8M2448.1 1058.3L2465.7 1049.4M2448.1 1093.4L2457 1075.8M2448.1 1093.4L2465.7 1102.3M2448.1 1128.6L2457 1146.1M2448.1 1128.6L2465.7 1119.7M2448.1 1163.7L2457 1146.1M2448.1 1163.7L2465.7 1172.6M2448.1 1198.9L2457 1216.4M2448.1 1198.9L2465.7 1190M2448.1 1234L2457 1216.4M2448.1 1234L2465.7 1242.9M2448.1 1269.2L2457 1286.8M2448.1 1269.2L2465.7 1260.3M2448.1 1304.3L2457 1286.8M2448.1 1304.3L2465.7 1313.2M2448.1 1339.5L2457 1357M2448.1 1339.5L2465.7 1330.6M2448.1 1374.6L2457 1357M2448.1 1374.6L2465.7 1383.5M2448.1 1409.8L2465.7 1400.9M2457 1075.8L2474.4 1075.8M2457 1146.1L2474.4 1146.1M2457 1216.4L2474.4 1216.4M2457 1286.8L2474.4 1286.8M2457 1357L2474.4 1357M2465.7 1049.4L2483.3 1058.3M2465.7 1102.3L2465.7 1119.7M2465.7 1102.3L2483.3 1093.4M2465.7 1119.7L2483.3 1128.6M2465.7 1172.6L2465.7 1190M2465.7 1172.6L2483.3 1163.7M2465.7 1190L2483.3 1198.9M2465.7 1242.9L2465.7 1260.3M2465.7 1242.9L2483.3 1234M2465.7 1260.3L2483.3 1269.2M2465.7 1313.2L2465.7 1330.6M2465.7 1313.2L2483.3 1304.3M2465.7 1330.6L2483.3 1339.5M2465.7 1383.5L2465.7 1400.9M2465.7 1383.5L2483.3 1374.6M2465.7 1400.9L2483.3 1409.8M2474.4 1075.8L2483.3 1058.3M2474.4 1075.8L2483.3 1093.4M2474.4 1146.1L2483.3 1128.6M2474.4 1146.1L2483.3 1163.7M2474.4 1216.4L2483.3 1198.9M2474.4 1216.4L2483.3 1234M2474.4 1286.8L2483.3 1269.2M2474.4 1286.8L2483.3 1304.3M2474.4 1357L2483.3 1339.5M2474.4 1357L2483.3 1374.6M2483.3 1058.3L2492.2 1040.7M2483.3 1058.3L2500.8 1067.1M2483.3 1093.4L2492.2 1111M2483.3 1093.4L2500.8 1084.5M2483.3 1128.6L2492.2 1111M2483.3 1128.6L2500.8 1137.4M2483.3 1128.6L2500.8 1137.5M2483.3 1163.7L2492.2 1181.3M2483.3 1163.7L2500.8 1154.8M2483.3 1198.9L2492.2 1181.3M2483.3 1198.9L2500.8 1207.7M2483.3 1198.9L2500.8 1207.8M2483.3 1234L2492.2 1251.6M2483.3 1234L2500.8 1225.1M2483.3 1269.2L2492.2 1251.6M2483.3 1269.2L2500.8 1278M2483.3 1304.3L2492.2 1321.9M2483.3 1304.3L2500.8 1295.4M2483.3 1304.3L2500.8 1295.5M2483.3 1339.5L2492.2 1321.9M2483.3 1339.5L2500.8 1348.3M2483.3 1374.6L2492.2 1392.2M2483.3 1374.6L2500.8 1365.7M2483.3 1374.6L2500.8 1365.8M2483.3 1409.8L2492.2 1392.2M2483.3 1409.8L2500.8 1418.6M2492.2 1040.7L2509.5 1040.7M2492.2 1111L2509.5 1111M2492.2 1181.3L2509.5 1181.3M2492.2 1251.6L2509.5 1251.6M2492.2 1321.9L2509.5 1321.9M2492.2 1392.2L2509.5 1392.2M2500.8 1067.1L2500.8 1084.5M2500.8 1067.1L2518.4 1058.3M2500.8 1084.5L2518.4 1093.4M2500.8 1137.4L2500.8 1154.8M2500.8 1137.4L2518.4 1128.6M2500.8 1137.5L2518.4 1128.6M2500.8 1154.8L2518.4 1163.7M2500.8 1207.7L2500.8 1225.1M2500.8 1207.7L2518.4 1198.9M2500.8 1207.8L2518.4 1198.9M2500.8 1225.1L2518.4 1234M2500.8 1278L2500.8 1295.5M2500.8 1278L2518.4 1269.2M2500.8 1295.4L2518.4 1304.3M2500.8 1295.5L2518.4 1304.3M2500.8 1348.3L2500.8 1365.8M2500.8 1348.3L2518.4 1339.5M2500.8 1365.7L2518.4 1374.6M2500.8 1365.8L2518.4 1374.6M2500.8 1418.6L2518.4 1409.8M2509.5 1040.7L2518.4 1058.3M2509.5 1111L2518.4 1093.4M2509.5 1111L2518.4 1128.6M2509.5 1181.3L2518.4 1163.7M2509.5 1181.3L2518.4 1198.9M2509.5 1251.6L2518.4 1234M2509.5 1251.6L2518.4 1269.2M2509.5 1321.9L2518.4 1304.3M2509.5 1321.9L2518.4 1339.5M2509.5 1392.2L2518.4 1374.6M2509.5 1392.2L2518.4 1409.8M2518.4 1058.3L2527.3 1075.8M2518.4 1058.3L2536 1049.4M2518.4 1093.4L2527.3 1075.8M2518.4 1093.4L2536 1102.3M2518.4 1128.6L2527.3 1146.1M2518.4 1128.6L2536 1119.7M2518.4 1163.7L2527.3 1146.1M2518.4 1163.7L2536 1172.6M2518.4 1198.9L2527.3 1216.4M2518.4 1198.9L2536 1190M2518.4 1234L2527.3 1216.4M2518.4 1234L2536 1242.9M2518.4 1269.2L2527.3 1286.8M2518.4 1269.2L2536 1260.3M2518.4 1304.3L2527.3 1286.8M2518.4 1304.3L2536 1313.2M2518.4 1339.5L2527.3 1357M2518.4 1339.5L2536 1330.6M2518.4 1374.6L2527.3 1357M2518.4 1374.6L2536 1383.5M2518.4 1409.8L2536 1400.9M2527.3 1075.8L2544.7 1075.8M2527.3 1146.1L2544.7 1146.1M2527.3 1216.4L2544.7 1216.4M2527.3 1286.8L2544.7 1286.8M2527.3 1357L2544.7 1357M2536 1049.4L2553.6 1058.3M2536 1102.3L2536 1119.7M2536 1102.3L2553.6 1093.4M2536 1119.7L2553.6 1128.6M2536 1172.6L2536 1190M2536 1172.6L2553.6 1163.7M2536 1190L2553.6 1198.9M2536 1242.9L2536 1260.3M2536 1242.9L2553.6 1234M2536 1260.3L2553.6 1269.2M2536 1313.2L2536 1330.6M2536 1313.2L2553.6 1304.3M2536 1330.6L2553.6 1339.5M2536 1383.5L2536 1400.9M2536 1383.5L2553.6 1374.6M2536 1400.9L2553.6 1409.8M2544.7 1075.8L2553.6 1058.3M2544.7 1075.8L2553.6 1093.4M2544.7 1146.1L2553.6 1128.6M2544.7 1146.1L2553.6 1163.7M2544.7 1216.4L2553.6 1198.9M2544.7 1216.4L2553.6 1234M2544.7 1286.8L2553.6 1269.2M2544.7 1286.8L2553.6 1304.3M2544.7 1357L2553.6 1339.5M2544.7 1357L2553.6 1374.6M2553.6 1058.3L2562.5 1040.7M2553.6 1058.3L2571.2 1067.1M2553.6 1093.4L2562.5 1111M2553.6 1093.4L2571.2 1084.5M2553.6 1128.6L2562.5 1111M2553.6 1128.6L2571.2 1137.4M2553.6 1128.6L2571.2 1137.5M2553.6 1163.7L2562.5 1181.3M2553.6 1163.7L2571.2 1154.8M2553.6 1198.9L2562.5 1181.3M2553.6 1198.9L2571.2 1207.7M2553.6 1198.9L2571.2 1207.8M2553.6 1234L2562.5 1251.6M2553.6 1234L2571.2 1225.1M2553.6 1269.2L2562.5 1251.6M2553.6 1269.2L2571.2 1278M2553.6 1304.3L2562.5 1321.9M2553.6 1304.3L2571.2 1295.4M2553.6 1304.3L2571.2 1295.5M2553.6 1339.5L2562.5 1321.9M2553.6 1339.5L2571.2 1348.3M2553.6 1374.6L2562.5 1392.2M2553.6 1374.6L2571.2 1365.7M2553.6 1374.6L2571.2 1365.8M2553.6 1409.8L2562.5 1392.2M2553.6 1409.8L2571.2 1418.6M2562.5 1040.7L2579.8 1040.7M2562.5 1111L2579.8 1111M2562.5 1181.3L2579.8 1181.3M2562.5 1251.6L2579.8 1251.6M2562.5 1321.9L2579.8 1321.9M2562.5 1392.2L2579.8 1392.2M2571.2 1067.1L2571.2 1084.5M2571.2 1067.1L2588.7 1058.3M2571.2 1084.5L2588.7 1093.4M2571.2 1137.4L2571.2 1154.8M2571.2 1137.4L2588.7 1128.6M2571.2 1137.5L2588.7 1128.6M2571.2 1154.8L2588.7 1163.7M2571.2 1207.7L2571.2 1225.1M2571.2 1207.7L2588.7 1198.9M2571.2 1207.8L2588.7 1198.9M2571.2 1225.1L2588.7 1234M2571.2 1278L2571.2 1295.5M2571.2 1278L2588.7 1269.2M2571.2 1295.4L2588.7 1304.3M2571.2 1295.5L2588.7 1304.3M2571.2 1348.3L2571.2 1365.8M2571.2 1348.3L2588.7 1339.5M2571.2 1365.7L2588.7 1374.6M2571.2 1365.8L2588.7 1374.6M2571.2 1418.6L2588.7 1409.8M2579.8 1040.7L2588.7 1058.3M2579.8 1111L2588.7 1093.4M2579.8 1111L2588.7 1128.6M2579.8 1181.3L2588.7 1163.7M2579.8 1181.3L2588.7 1198.9M2579.8 1251.6L2588.7 1234M2579.8 1251.6L2588.7 1269.2M2579.8 1321.9L2588.7 1304.3M2579.8 1321.9L2588.7 1339.5M2579.8 1392.2L2588.7 1374.6M2579.8 1392.2L2588.7 1409.8M2588.7 1058.3L2597.6 1075.8M2588.7 1058.3L2606.3 1049.4M2588.7 1093.4L2597.6 1075.8M2588.7 1093.4L2606.3 1102.3M2588.7 1128.6L2597.6 1146.1M2588.7 1128.6L2606.3 1119.7M2588.7 1163.7L2597.6 1146.1M2588.7 1163.7L2606.3 1172.6M2588.7 1198.9L2597.6 1216.4M2588.7 1198.9L2606.3 1190M2588.7 1234L2597.6 1216.4M2588.7 1234L2606.3 1242.9M2588.7 1269.2L2597.6 1286.8M2588.7 1269.2L2606.3 1260.3M2588.7 1304.3L2597.6 1286.8M2588.7 1304.3L2606.3 1313.2M2588.7 1339.5L2597.6 1357M2588.7 1339.5L2606.3 1330.6M2588.7 1374.6L2597.6 1357M2588.7 1374.6L2606.3 1383.5M2588.7 1409.8L2606.3 1400.9M2597.6 1075.8L2615 1075.8M2597.6 1146.1L2615 1146.1M2597.6 1216.4L2615 1216.4M2597.6 1286.8L2615 1286.8M2597.6 1357L2615 1357M2606.3 1049.4L2623.9 1058.3M2606.3 1102.3L2606.3 1119.7M2606.3 1102.3L2623.9 1093.4M2606.3 1119.7L2623.9 1128.6M2606.3 1172.6L2606.3 1190M2606.3 1172.6L2623.9 1163.7M2606.3 1190L2623.9 1198.9M2606.3 1242.9L2606.3 1260.3M2606.3 1242.9L2623.9 1234M2606.3 1260.3L2623.9 1269.2M2606.3 1313.2L2606.3 1330.6M2606.3 1313.2L2623.9 1304.3M2606.3 1330.6L2623.9 1339.5M2606.3 1383.5L2606.3 1400.9M2606.3 1383.5L2623.9 1374.6M2606.3 1400.9L2623.9 1409.8M2615 1075.8L2623.9 1058.3M2615 1075.8L2623.9 1093.4M2615 1146.1L2623.9 1128.6M2615 1146.1L2623.9 1163.7M2615 1216.4L2623.9 1198.9M2615 1216.4L2623.9 1234M2615 1286.8L2623.9 1269.2M2615 1286.8L2623.9 1304.3M2615 1357L2623.9 1339.5M2615 1357L2623.9 1374.6M2623.9 1058.3L2632.8 1040.7M2623.9 1058.3L2641.4 1067.1M2623.9 1093.4L2632.8 1111M2623.9 1093.4L2641.4 1084.5M2623.9 1128.6L2632.8 1111M2623.9 1128.6L2641.4 1137.4M2623.9 1128.6L2641.4 1137.5M2623.9 1163.7L2632.8 1181.3M2623.9 1163.7L2641.4 1154.8M2623.9 1198.9L2632.8 1181.3M2623.9 1198.9L2641.4 1207.7M2623.9 1198.9L2641.4 1207.8M2623.9 1234L2632.8 1251.6M2623.9 1234L2641.4 1225.1M2623.9 1269.2L2632.8 1251.6M2623.9 1269.2L2641.4 1278M2623.9 1304.3L2632.8 1321.9M2623.9 1304.3L2641.4 1295.4M2623.9 1304.3L2641.4 1295.5M2623.9 1339.5L2632.8 1321.9M2623.9 1339.5L2641.4 1348.3M2623.9 1374.6L2632.8 1392.2M2623.9 1374.6L2641.4 1365.7M2623.9 1374.6L2641.4 1365.8M2623.9 1409.8L2632.8 1392.2M2623.9 1409.8L2641.4 1418.6M2632.8 1040.7L2650.1 1040.7M2632.8 1111L2650.1 1111M2632.8 1181.3L2650.1 1181.3M2632.8 1251.6L2650.1 1251.6M2632.8 1321.9L2650.1 1321.9M2632.8 1392.2L2650.1 1392.2M2641.4 1067.1L2641.4 1084.5M2641.4 1067.1L2659 1058.3M2641.4 1084.5L2659 1093.4M2641.4 1137.4L2641.4 1154.8M2641.4 1137.4L2659 1128.6M2641.4 1137.5L2659 1128.6M2641.4 1154.8L2659 1163.7M2641.4 1207.7L2641.4 1225.1M2641.4 1207.7L2659 1198.9M2641.4 1207.8L2659 1198.9M2641.4 1225.1L2659 1234M2641.4 1278L2641.4 1295.5M2641.4 1278L2659 1269.2M2641.4 1295.4L2659 1304.3M2641.4 1295.5L2659 1304.3M2641.4 1348.3L2641.4 1365.8M2641.4 1348.3L2659 1339.5M2641.4 1365.7L2659 1374.6M2641.4 1365.8L2659 1374.6M2641.4 1418.6L2659 1409.8M2650.1 1040.7L2659 1058.3M2650.1 1111L2659 1093.4M2650.1 1111L2659 1128.6M2650.1 1181.3L2659 1163.7M2650.1 1181.3L2659 1198.9M2650.1 1251.6L2659 1234M2650.1 1251.6L2659 1269.2M2650.1 1321.9L2659 1304.3M2650.1 1321.9L2659 1339.5M2650.1 1392.2L2659 1374.6M2650.1 1392.2L2659 1409.8M2659 1058.3L2667.9 1075.8M2659 1093.4L2667.9 1075.8M2659 1128.6L2667.9 1146.1M2659 1163.7L2667.9 1146.1M2659 1198.9L2667.9 1216.4M2659 1234L2667.9 1216.4M2659 1269.2L2667.9 1286.8M2659 1304.3L2667.9 1286.8M2659 1339.5L2667.9 1357M2659 1374.6L2667.9 1357" fill="none" stroke="#b06a58" stroke-width="1.3" stroke-linecap="round"/>
<rect x="1046.5" y="40" width="329.8" height="194" fill="#46597c"/>
<rect x="543" y="367.5" width="150" height="249.8" fill="#46597c"/>
<clipPath id="c05"><rect x="123" y="367.5" width="50" height="249.8"/></clipPath>
<rect x="123" y="367.5" width="50" height="249.8" fill="#47628f"/>
<use href="#patL" clip-path="url(#c05)" fill="none" stroke="#6f9ad0" stroke-width="1.25"/>
<rect x="730" y="985" width="329.5" height="171.5" fill="#6b4b4c"/>
<clipPath id="c01"><rect x="275.3" y="1058" width="357.5" height="193.7"/></clipPath>
<rect x="275.3" y="1058" width="357.5" height="193.7" fill="#6c6777"/>
<use href="#patL" clip-path="url(#c01)" fill="none" stroke="#a9a5b4" stroke-width="1.25"/>
<rect x="1136.3" y="1060.5" width="374.7" height="171.5" fill="#5f5e70"/>
<rect x="2249.3" y="588" width="310.7" height="94" fill="#6d7a7d"/>
<rect x="2249.3" y="715.3" width="310.7" height="94.3" fill="#7f5651"/>
<defs><pattern id="wood" width="230" height="115" patternUnits="userSpaceOnUse"><rect width="230" height="115" fill="#8c6649"/><rect x="-9.7" y="0" width="46.8" height="11.5" fill="#8c6649"/><rect x="36.8" y="0" width="0.6" height="11.5" fill="#5a3d2a" opacity=".45"/><rect x="37.1" y="0" width="43.3" height="11.5" fill="#8b6549"/><rect x="80" y="0" width="0.6" height="11.5" fill="#5a3d2a" opacity=".45"/><rect x="80.3" y="0" width="44.2" height="11.5" fill="#a18163"/><rect x="124.3" y="0" width="0.6" height="11.5" fill="#5a3d2a" opacity=".45"/><rect x="124.6" y="0" width="42.6" height="11.5" fill="#8b6549"/><rect x="166.9" y="0" width="0.6" height="11.5" fill="#5a3d2a" opacity=".45"/><rect x="167.2" y="0" width="49.7" height="11.5" fill="#937052"/><rect x="216.5" y="0" width="0.6" height="11.5" fill="#5a3d2a" opacity=".45"/><rect x="216.8" y="0" width="59.5" height="11.5" fill="#937052"/><rect x="-13.2" y="0" width="59.5" height="11.5" fill="#937052"/><rect x="276.1" y="0" width="0.6" height="11.5" fill="#5a3d2a" opacity=".45"/><rect x="0" y="0" width="230" height="0.6" fill="#5a3d2a" opacity=".4"/><rect x="76" y="2.5" width="33.5" height="0.5" fill="#5a3d2a" opacity=".18"/><rect x="130.7" y="5.9" width="67.8" height="0.5" fill="#5a3d2a" opacity=".18"/><rect x="8.5" y="8.8" width="65.1" height="0.5" fill="#5a3d2a" opacity=".18"/><rect x="-1.5" y="11.5" width="49.9" height="11.5" fill="#8b6549"/><rect x="48.2" y="11.5" width="0.6" height="11.5" fill="#5a3d2a" opacity=".45"/><rect x="48.5" y="11.5" width="78.6" height="11.5" fill="#89624a"/><rect x="126.8" y="11.5" width="0.6" height="11.5" fill="#5a3d2a" opacity=".45"/><rect x="127.1" y="11.5" width="58.9" height="11.5" fill="#8b6549"/><rect x="185.7" y="11.5" width="0.6" height="11.5" fill="#5a3d2a" opacity=".45"/><rect x="186" y="11.5" width="45.3" height="11.5" fill="#89624a"/><rect x="-44" y="11.5" width="45.3" height="11.5" fill="#89624a"/><rect x="231" y="11.5" width="0.6" height="11.5" fill="#5a3d2a" opacity=".45"/><rect x="0" y="11.5" width="230" height="0.6" fill="#5a3d2a" opacity=".4"/><rect x="94.1" y="14.5" width="36.2" height="0.5" fill="#5a3d2a" opacity=".18"/><rect x="25.9" y="17.4" width="35.8" height="0.5" fill="#5a3d2a" opacity=".18"/><rect x="77.9" y="20.5" width="67.1" height="0.5" fill="#5a3d2a" opacity=".18"/><rect x="-14.9" y="23" width="63.9" height="11.5" fill="#977456"/><rect x="48.7" y="23" width="0.6" height="11.5" fill="#5a3d2a" opacity=".45"/><rect x="49" y="23" width="61" height="11.5" fill="#805a40"/><rect x="109.7" y="23" width="0.6" height="11.5" fill="#5a3d2a" opacity=".45"/><rect x="110" y="23" width="56.3" height="11.5" fill="#9c7a5c"/><rect x="166" y="23" width="0.6" height="11.5" fill="#5a3d2a" opacity=".45"/><rect x="166.3" y="23" width="75.7" height="11.5" fill="#9c7a5c"/><rect x="-63.7" y="23" width="75.7" height="11.5" fill="#9c7a5c"/><rect x="241.7" y="23" width="0.6" height="11.5" fill="#5a3d2a" opacity=".45"/><rect x="0" y="23" width="230" height="0.6" fill="#5a3d2a" opacity=".4"/><rect x="41.4" y="25.2" width="59.7" height="0.5" fill="#5a3d2a" opacity=".18"/><rect x="61.9" y="28.5" width="66.5" height="0.5" fill="#5a3d2a" opacity=".18"/><rect x="70.6" y="30.9" width="39.9" height="0.5" fill="#5a3d2a" opacity=".18"/><rect x="-10.3" y="34.5" width="82" height="11.5" fill="#8f694d"/><rect x="71.4" y="34.5" width="0.6" height="11.5" fill="#5a3d2a" opacity=".45"/><rect x="71.7" y="34.5" width="41.8" height="11.5" fill="#937052"/><rect x="113.2" y="34.5" width="0.6" height="11.5" fill="#5a3d2a" opacity=".45"/><rect x="113.5" y="34.5" width="74.4" height="11.5" fill="#a18163"/><rect x="187.6" y="34.5" width="0.6" height="11.5" fill="#5a3d2a" opacity=".45"/><rect x="187.9" y="34.5" width="75.5" height="11.5" fill="#977456"/><rect x="-42.1" y="34.5" width="75.5" height="11.5" fill="#977456"/><rect x="263.1" y="34.5" width="0.6" height="11.5" fill="#5a3d2a" opacity=".45"/><rect x="0" y="34.5" width="230" height="0.6" fill="#5a3d2a" opacity=".4"/><rect x="48.3" y="37.1" width="59.8" height="0.5" fill="#5a3d2a" opacity=".18"/><rect x="9.5" y="40.7" width="35.6" height="0.5" fill="#5a3d2a" opacity=".18"/><rect x="96.2" y="42.8" width="33.9" height="0.5" fill="#5a3d2a" opacity=".18"/><rect x="-21.9" y="46" width="53.9" height="11.5" fill="#a18163"/><rect x="31.7" y="46" width="0.6" height="11.5" fill="#5a3d2a" opacity=".45"/><rect x="32" y="46" width="84.7" height="11.5" fill="#805a40"/><rect x="116.4" y="46" width="0.6" height="11.5" fill="#5a3d2a" opacity=".45"/><rect x="116.7" y="46" width="52.8" height="11.5" fill="#8f694d"/><rect x="169.2" y="46" width="0.6" height="11.5" fill="#5a3d2a" opacity=".45"/><rect x="169.5" y="46" width="79.9" height="11.5" fill="#977456"/><rect x="-60.5" y="46" width="79.9" height="11.5" fill="#977456"/><rect x="249.1" y="46" width="0.6" height="11.5" fill="#5a3d2a" opacity=".45"/><rect x="0" y="46" width="230" height="0.6" fill="#5a3d2a" opacity=".4"/><rect x="63.7" y="48.1" width="40.1" height="0.5" fill="#5a3d2a" opacity=".18"/><rect x="8.1" y="51.1" width="76.1" height="0.5" fill="#5a3d2a" opacity=".18"/><rect x="34.2" y="54" width="53.5" height="0.5" fill="#5a3d2a" opacity=".18"/><rect x="-26.1" y="57.5" width="43.6" height="11.5" fill="#805a40"/><rect x="17.2" y="57.5" width="0.6" height="11.5" fill="#5a3d2a" opacity=".45"/><rect x="17.5" y="57.5" width="58.1" height="11.5" fill="#89624a"/><rect x="75.3" y="57.5" width="0.6" height="11.5" fill="#5a3d2a" opacity=".45"/><rect x="75.6" y="57.5" width="79.8" height="11.5" fill="#8f694d"/><rect x="155" y="57.5" width="0.6" height="11.5" fill="#5a3d2a" opacity=".45"/><rect x="155.3" y="57.5" width="78.9" height="11.5" fill="#89624a"/><rect x="-74.7" y="57.5" width="78.9" height="11.5" fill="#89624a"/><rect x="233.9" y="57.5" width="0.6" height="11.5" fill="#5a3d2a" opacity=".45"/><rect x="0" y="57.5" width="230" height="0.6" fill="#5a3d2a" opacity=".4"/><rect x="136.1" y="60.7" width="71" height="0.5" fill="#5a3d2a" opacity=".18"/><rect x="31.8" y="63.1" width="35" height="0.5" fill="#5a3d2a" opacity=".18"/><rect x="90.9" y="65.6" width="30.7" height="0.5" fill="#5a3d2a" opacity=".18"/><rect x="-24.9" y="69" width="48.2" height="11.5" fill="#89624a"/><rect x="23" y="69" width="0.6" height="11.5" fill="#5a3d2a" opacity=".45"/><rect x="23.3" y="69" width="40.2" height="11.5" fill="#8f694d"/><rect x="63.2" y="69" width="0.6" height="11.5" fill="#5a3d2a" opacity=".45"/><rect x="63.5" y="69" width="64.1" height="11.5" fill="#a18163"/><rect x="127.2" y="69" width="0.6" height="11.5" fill="#5a3d2a" opacity=".45"/><rect x="127.5" y="69" width="65.5" height="11.5" fill="#835d43"/><rect x="192.7" y="69" width="0.6" height="11.5" fill="#5a3d2a" opacity=".45"/><rect x="193" y="69" width="71.1" height="11.5" fill="#8b6549"/><rect x="-37" y="69" width="71.1" height="11.5" fill="#8b6549"/><rect x="263.8" y="69" width="0.6" height="11.5" fill="#5a3d2a" opacity=".45"/><rect x="0" y="69" width="230" height="0.6" fill="#5a3d2a" opacity=".4"/><rect x="90.4" y="72.6" width="74.4" height="0.5" fill="#5a3d2a" opacity=".18"/><rect x="120.2" y="74.7" width="87.1" height="0.5" fill="#5a3d2a" opacity=".18"/><rect x="77.2" y="77.9" width="53.9" height="0.5" fill="#5a3d2a" opacity=".18"/><rect x="-11.8" y="80.5" width="61.7" height="11.5" fill="#8f694d"/><rect x="49.5" y="80.5" width="0.6" height="11.5" fill="#5a3d2a" opacity=".45"/><rect x="49.8" y="80.5" width="42.8" height="11.5" fill="#937052"/><rect x="92.3" y="80.5" width="0.6" height="11.5" fill="#5a3d2a" opacity=".45"/><rect x="92.6" y="80.5" width="84.3" height="11.5" fill="#805a40"/><rect x="176.7" y="80.5" width="0.6" height="11.5" fill="#5a3d2a" opacity=".45"/><rect x="177" y="80.5" width="47.3" height="11.5" fill="#977456"/><rect x="224" y="80.5" width="0.6" height="11.5" fill="#5a3d2a" opacity=".45"/><rect x="224.3" y="80.5" width="67" height="11.5" fill="#937052"/><rect x="-5.7" y="80.5" width="67" height="11.5" fill="#937052"/><rect x="291" y="80.5" width="0.6" height="11.5" fill="#5a3d2a" opacity=".45"/><rect x="0" y="80.5" width="230" height="0.6" fill="#5a3d2a" opacity=".4"/><rect x="20.9" y="82.6" width="36.1" height="0.5" fill="#5a3d2a" opacity=".18"/><rect x="3.5" y="86" width="82.5" height="0.5" fill="#5a3d2a" opacity=".18"/><rect x="20.5" y="89.3" width="45.1" height="0.5" fill="#5a3d2a" opacity=".18"/><rect x="-10.4" y="92" width="56.4" height="11.5" fill="#937052"/><rect x="45.7" y="92" width="0.6" height="11.5" fill="#5a3d2a" opacity=".45"/><rect x="46" y="92" width="45.2" height="11.5" fill="#805a40"/><rect x="90.9" y="92" width="0.6" height="11.5" fill="#5a3d2a" opacity=".45"/><rect x="91.2" y="92" width="84.7" height="11.5" fill="#805a40"/><rect x="175.5" y="92" width="0.6" height="11.5" fill="#5a3d2a" opacity=".45"/><rect x="175.8" y="92" width="61.6" height="11.5" fill="#89624a"/><rect x="-54.2" y="92" width="61.6" height="11.5" fill="#89624a"/><rect x="237.2" y="92" width="0.6" height="11.5" fill="#5a3d2a" opacity=".45"/><rect x="0" y="92" width="230" height="0.6" fill="#5a3d2a" opacity=".4"/><rect x="14.1" y="94.2" width="50.6" height="0.5" fill="#5a3d2a" opacity=".18"/><rect x="114.4" y="97.4" width="39.7" height="0.5" fill="#5a3d2a" opacity=".18"/><rect x="131.2" y="99.9" width="61.7" height="0.5" fill="#5a3d2a" opacity=".18"/><rect x="-4.4" y="103.5" width="64.4" height="11.5" fill="#8c6649"/><rect x="59.7" y="103.5" width="0.6" height="11.5" fill="#5a3d2a" opacity=".45"/><rect x="60" y="103.5" width="74.1" height="11.5" fill="#89624a"/><rect x="133.9" y="103.5" width="0.6" height="11.5" fill="#5a3d2a" opacity=".45"/><rect x="134.2" y="103.5" width="84" height="11.5" fill="#937052"/><rect x="217.9" y="103.5" width="0.6" height="11.5" fill="#5a3d2a" opacity=".45"/><rect x="218.2" y="103.5" width="71.3" height="11.5" fill="#89624a"/><rect x="-11.8" y="103.5" width="71.3" height="11.5" fill="#89624a"/><rect x="289.2" y="103.5" width="0.6" height="11.5" fill="#5a3d2a" opacity=".45"/><rect x="0" y="103.5" width="230" height="0.6" fill="#5a3d2a" opacity=".4"/><rect x="125.3" y="106.4" width="51.3" height="0.5" fill="#5a3d2a" opacity=".18"/><rect x="74.7" y="108.8" width="60.2" height="0.5" fill="#5a3d2a" opacity=".18"/><rect x="84.6" y="112.3" width="77.3" height="0.5" fill="#5a3d2a" opacity=".18"/></pattern><pattern id="tile" x="0" y="0" width="87.9" height="87.9" patternUnits="userSpaceOnUse"><rect x="0" y="0" width="29.3" height="29.3" fill="#e0ddd8"/><rect x="0" y="29.3" width="29.3" height="29.3" fill="#e0ddd8"/><rect x="0" y="58.6" width="29.3" height="29.3" fill="#d9d6d0"/><rect x="29.3" y="0" width="29.3" height="29.3" fill="#dcd9d2"/><rect x="29.3" y="29.3" width="29.3" height="29.3" fill="#dddad4"/><rect x="29.3" y="58.6" width="29.3" height="29.3" fill="#dddad4"/><rect x="58.6" y="0" width="29.3" height="29.3" fill="#dcd9d2"/><rect x="58.6" y="29.3" width="29.3" height="29.3" fill="#d9d6d0"/><rect x="58.6" y="58.6" width="29.3" height="29.3" fill="#e0ddd8"/><rect x="0" y="0" width="0.7" height="87.9" fill="#c6c3bd"/><rect x="0" y="0" width="87.9" height="0.7" fill="#c6c3bd"/><rect x="29.3" y="0" width="0.7" height="87.9" fill="#c6c3bd"/><rect x="0" y="29.3" width="87.9" height="0.7" fill="#c6c3bd"/><rect x="58.6" y="0" width="0.7" height="87.9" fill="#c6c3bd"/><rect x="0" y="58.6" width="87.9" height="0.7" fill="#c6c3bd"/></pattern><pattern id="tileS" x="0" y="0" width="87.9" height="87.9" patternUnits="userSpaceOnUse"><rect x="0" y="0" width="29.3" height="29.3" fill="#d1cdc6"/><rect x="0" y="29.3" width="29.3" height="29.3" fill="#d1cdc6"/><rect x="0" y="58.6" width="29.3" height="29.3" fill="#d6d2cb"/><rect x="29.3" y="0" width="29.3" height="29.3" fill="#d8d4cd"/><rect x="29.3" y="29.3" width="29.3" height="29.3" fill="#dad6cf"/><rect x="29.3" y="58.6" width="29.3" height="29.3" fill="#d6d2cb"/><rect x="58.6" y="0" width="29.3" height="29.3" fill="#dad6cf"/><rect x="58.6" y="29.3" width="29.3" height="29.3" fill="#d6d2cb"/><rect x="58.6" y="58.6" width="29.3" height="29.3" fill="#d1cdc6"/><rect x="0" y="0" width="0.7" height="87.9" fill="#c0bcb4"/><rect x="0" y="0" width="87.9" height="0.7" fill="#c0bcb4"/><rect x="29.3" y="0" width="0.7" height="87.9" fill="#c0bcb4"/><rect x="0" y="29.3" width="87.9" height="0.7" fill="#c0bcb4"/><rect x="58.6" y="0" width="0.7" height="87.9" fill="#c0bcb4"/><rect x="0" y="58.6" width="87.9" height="0.7" fill="#c0bcb4"/></pattern><pattern id="tileC" x="10.2" y="-6.3" width="92.2" height="92.2" patternUnits="userSpaceOnUse"><rect x="0" y="0" width="30.8" height="30.8" fill="#c5c7c8"/><rect x="0" y="30.8" width="30.8" height="30.8" fill="#cbcdce"/><rect x="0" y="61.5" width="30.8" height="30.8" fill="#c5c7c8"/><rect x="30.8" y="0" width="30.8" height="30.8" fill="#c5c7c8"/><rect x="30.8" y="30.8" width="30.8" height="30.8" fill="#cbcdce"/><rect x="30.8" y="61.5" width="30.8" height="30.8" fill="#cbcdce"/><rect x="61.5" y="0" width="30.8" height="30.8" fill="#c8cacb"/><rect x="61.5" y="30.8" width="30.8" height="30.8" fill="#c8cacb"/><rect x="61.5" y="61.5" width="30.8" height="30.8" fill="#cbcdce"/><rect x="0" y="0" width="0.7" height="92.2" fill="#d6d8d9"/><rect x="0" y="0" width="92.2" height="0.7" fill="#d6d8d9"/><rect x="30.8" y="0" width="0.7" height="92.2" fill="#d6d8d9"/><rect x="0" y="30.8" width="92.2" height="0.7" fill="#d6d8d9"/><rect x="61.5" y="0" width="0.7" height="92.2" fill="#d6d8d9"/><rect x="0" y="61.5" width="92.2" height="0.7" fill="#d6d8d9"/></pattern><filter id="bl" x="-30%" y="-30%" width="160%" height="160%"><feGaussianBlur stdDeviation="3"/></filter><filter id="bl2" x="-30%" y="-30%" width="160%" height="160%"><feGaussianBlur stdDeviation="1.6"/></filter><filter id="bl5" x="-40%" y="-40%" width="180%" height="180%"><feGaussianBlur stdDeviation="5"/></filter><filter id="nz" x="0" y="0" width="100%" height="100%"><feTurbulence type="fractalNoise" baseFrequency="0.85" numOctaves="2" seed="4"/><feColorMatrix type="matrix" values="0 0 0 0 1  0 0 0 0 1  0 0 0 0 1  1.6 0 0 0 -0.55"/><feComposite in2="SourceGraphic" operator="in"/></filter><filter id="nzd" x="0" y="0" width="100%" height="100%"><feTurbulence type="fractalNoise" baseFrequency="0.8" numOctaves="2" seed="9"/><feColorMatrix type="matrix" values="0 0 0 0 0  0 0 0 0 0  0 0 0 0 0  1.6 0 0 0 -0.6"/><feComposite in2="SourceGraphic" operator="in"/></filter><filter id="conc" x="0" y="0" width="100%" height="100%"><feTurbulence type="fractalNoise" baseFrequency="0.012 0.02" numOctaves="4" seed="21" result="a"/><feColorMatrix in="a" type="matrix" values="0 0 0 0 1  0 0 0 0 1  0 0 0 0 1  1.5 0 0 0 -0.62" result="a1"/><feTurbulence type="fractalNoise" baseFrequency="0.7" numOctaves="2" seed="5" result="b"/><feColorMatrix in="b" type="matrix" values="0 0 0 0 1  0 0 0 0 1  0 0 0 0 1  1.2 0 0 0 -0.45" result="b1"/><feMerge result="m"><feMergeNode in="a1"/><feMergeNode in="b1"/></feMerge><feComposite in="m" in2="SourceGraphic" operator="in"/></filter><filter id="concd" x="0" y="0" width="100%" height="100%"><feTurbulence type="fractalNoise" baseFrequency="0.015 0.011" numOctaves="4" seed="33" result="a"/><feColorMatrix in="a" type="matrix" values="0 0 0 0 0  0 0 0 0 0  0 0 0 0 0  1.5 0 0 0 -0.66"/><feComposite in2="SourceGraphic" operator="in"/></filter><linearGradient id="gWhite" x1="0" y1="0" x2="0" y2="1"><stop offset="0" stop-color="#fff"/><stop offset="1" stop-color="#e6e3df"/></linearGradient><radialGradient id="gLamp"><stop offset="0" stop-color="#fff"/><stop offset=".45" stop-color="#f2ece2"/><stop offset="1" stop-color="#b9aa98" stop-opacity="0"/></radialGradient><linearGradient id="gFridge" x1="0" y1="0" x2="1" y2="0"><stop offset="0" stop-color="#7c7c7c"/><stop offset=".5" stop-color="#8e8e8e"/><stop offset="1" stop-color="#666"/></linearGradient><linearGradient id="gWell" x1="0" y1="0" x2="1" y2="0"><stop offset="0" stop-color="#bfc0c4"/><stop offset=".5" stop-color="#f4f4f6"/><stop offset="1" stop-color="#bfc0c4"/></linearGradient><radialGradient id="gFan"><stop offset="0" stop-color="#d9dadc"/><stop offset=".8" stop-color="#e9eaec"/><stop offset="1" stop-color="#c9cacd"/></radialGradient></defs>
<rect x="470.6" y="643.8" width="815.8" height="98.4" fill="url(#tileC)"/>
<rect x="939.2" y="509.6" width="113" height="141.7" fill="url(#tileC)"/>
<rect x="543.8" y="740.8" width="570.6" height="242.1" fill="url(#wood)"/>
<rect x="709.1" y="802.7" width="74.5" height="181.4" fill="url(#tile)"/>
<rect x="953.2" y="909.1" width="154.9" height="90" fill="url(#tileS)"/>
<rect x="1113.2" y="739.6" width="101.3" height="245.8" fill="url(#tile)"/>
<g id="west">
<rect x="179.6" y="111.3" width="199.1" height="251.6" fill="url(#wood)"/>
<rect x="378.7" y="129.6" width="157" height="233.3" fill="url(#wood)"/>
<rect x="260.2" y="362.9" width="275.5" height="156.9" fill="url(#wood)"/>
<rect x="471.8" y="519" width="63.9" height="126.5" fill="url(#wood)"/>
<rect x="377.5" y="128.4" width="159.4" height="68.5" fill="url(#tile)"/>
<rect x="178.4" y="282.1" width="139.4" height="74.5" fill="url(#tile)"/>
<rect x="171.4" y="361.7" width="83" height="159.3" fill="url(#tileS)"/>
<rect x="178.4" y="526.1" width="294.6" height="92.6" fill="url(#tile)"/>
<rect x="346.7" y="518.2" width="126.3" height="10.3" fill="url(#tile)"/>
<rect x="178.4" y="626.3" width="287.1" height="92.1" fill="url(#tile)"/>
<rect x="179.6" y="740.5" width="356.7" height="277.7" fill="url(#wood)"/>
<rect x="179.6" y="717.2" width="284.7" height="23.8" fill="url(#wood)"/>
<rect x="179.6" y="1017.7" width="190.8" height="165.1" fill="url(#wood)"/>
<rect x="167.7" y="869.2" width="149.3" height="68.4" fill="url(#tile)"/>
<rect x="167.7" y="942.7" width="149.3" height="68.7" fill="url(#tile)"/>
<rect x="377.2" y="1025.3" width="160.9" height="76.2" fill="url(#tileS)"/>
<rect x="178.4" y="626.3" width="287.1" height="92.1" fill="url(#tile)"/>
<g transform="translate(275.3 128.5)">
<rect x="-95.2" y="-16.9" width="192" height="36.4" fill="#000" opacity="0.5" filter="url(#bl2)" rx="2"/>
<rect x="-95.2" y="-16.9" width="190.5" height="33.9" fill="#3f3a35"/>
<rect x="-94" y="-15.8" width="61.3" height="31.5" fill="#a08f7c"/>
<rect x="-94" y="-15.8" width="61.3" height="9" fill="#ab9a86"/>
<line x1="-94" y1="-2.7" x2="-32.8" y2="-2.7" stroke="#6f6a64" stroke-width="1.1"/>
<rect x="-94" y="-4.5" width="1.4" height="3.6" fill="#d9d9d9"/>
<rect x="-34.1" y="-4.5" width="1.4" height="3.6" fill="#d9d9d9"/>
<path d="M-91 -13.8L-87.8 13.9M-86.4 -13.8L-87 13.9M-82.3 -13.8L-81.7 13.9M-73.4 -13.8L-77.2 13.9M-72.8 -13.8L-70.3 13.9M-64.8 -13.8L-68 13.9M-62.9 -13.8L-60.5 13.9M-57.6 -13.8L-57.2 13.9M-53.4 -13.8L-49.8 13.9M-44.9 -13.8L-48.9 13.9M-44.1 -13.8L-41 13.9M-38.7 -13.8L-39 13.9" fill="none" stroke="#f3f1ee" stroke-width="1" stroke-linecap="round"/>
<rect x="-30.8" y="-15.8" width="61.5" height="31.5" fill="#a08f7c"/>
<rect x="-30.8" y="-15.8" width="61.5" height="9" fill="#ab9a86"/>
<g transform="rotate(-5 -20.5 0)">
<rect x="-26.6" y="-10.2" width="12.3" height="20.3" fill="#eef0f2" rx="1"/>
<rect x="-26.6" y="4.1" width="12.3" height="6.1" fill="#fff" rx="1"/>
<path d="M-24.2 -6.1q4.1 8.5 7.4 -0.7" fill="none" stroke="#bcc4cc" stroke-width=".8"/>
</g>
<g transform="rotate(3 0 0)">
<rect x="-6.1" y="-10.2" width="12.3" height="20.3" fill="#eef0f2" rx="1"/>
<rect x="-6.1" y="4.1" width="12.3" height="6.1" fill="#fff" rx="1"/>
<path d="M-3.7 -6.1q4.1 8.5 7.4 -0.7" fill="none" stroke="#bcc4cc" stroke-width=".8"/>
</g>
<g transform="rotate(-3 20.5 0)">
<rect x="14.4" y="-10.2" width="12.3" height="20.3" fill="#eef0f2" rx="1"/>
<rect x="14.4" y="4.1" width="12.3" height="6.1" fill="#fff" rx="1"/>
<path d="M16.8 -6.1q4.1 8.5 7.4 -0.7" fill="none" stroke="#bcc4cc" stroke-width=".8"/>
</g>
<rect x="32.8" y="-15.8" width="61.3" height="31.5" fill="#a08f7c"/>
<rect x="32.8" y="-15.8" width="61.3" height="9" fill="#ab9a86"/>
<line x1="32.8" y1="-2.7" x2="94" y2="-2.7" stroke="#6f6a64" stroke-width="1.1"/>
<rect x="32.8" y="-4.5" width="1.4" height="3.6" fill="#d9d9d9"/>
<rect x="92.6" y="-4.5" width="1.4" height="3.6" fill="#d9d9d9"/>
<path d="M35.8 -13.8L38.8 13.9M44.3 -13.8L41.1 13.9M45.2 -13.8L48.6 13.9M53 -13.8L49.5 13.9M54.7 -13.8L58.9 13.9M63.8 -13.8L59.8 13.9M63.7 -13.8L67.1 13.9M72.8 -13.8L69 13.9M72.9 -13.8L75.3 13.9M79.4 -13.8L77 13.9M82.4 -13.8L84.9 13.9M86.9 -13.8L87 13.9" fill="none" stroke="#f3f1ee" stroke-width="1" stroke-linecap="round"/>
</g>
<rect x="180.6" y="149.2" width="141.6" height="123" fill="#c8c2bb"/>
<rect x="180.6" y="149.2" width="141.6" height="123" fill="#fff" filter="url(#nz)" opacity=".28"/>
<rect x="180.6" y="149.2" width="141.6" height="123" fill="#000" filter="url(#nzd)" opacity=".10"/>
<g transform="translate(251.8 222)">
<rect x="-48.8" y="-58" width="99.5" height="112" fill="#000" opacity="0.55" filter="url(#bl5)" rx="2"/>
<rect x="-41.8" y="10.4" width="83.5" height="41.6" fill="#f1f0ee" rx="1.5"/>
<rect x="-42.8" y="13" width="85.5" height="3.6" fill="#fbfbfa" rx="1"/>
<rect x="-42.8" y="16.6" width="85.5" height="1.6" fill="#cfcdc9"/>
<rect x="-42.2" y="-51" width="84.5" height="64.5" fill="#8a867c" rx="1.5"/>
<rect x="-43.8" y="-52" width="87.5" height="15.6" fill="#908c80" rx="2"/>
<rect x="-43.2" y="-36.4" width="86.5" height="30.2" fill="#86837a"/>
<rect x="-42.2" y="-6.2" width="84.5" height="19.8" fill="#968d7e"/>
<line x1="-35.2" y1="-5.2" x2="-35.2" y2="13" stroke="#8a8172" stroke-width="0.5"/>
<line x1="-28.2" y1="-5.2" x2="-28.2" y2="13" stroke="#8a8172" stroke-width="0.5"/>
<line x1="-21.1" y1="-5.2" x2="-21.1" y2="13" stroke="#8a8172" stroke-width="0.5"/>
<line x1="-14.1" y1="-5.2" x2="-14.1" y2="13" stroke="#8a8172" stroke-width="0.5"/>
<line x1="-7" y1="-5.2" x2="-7" y2="13" stroke="#8a8172" stroke-width="0.5"/>
<line x1="0" y1="-5.2" x2="0" y2="13" stroke="#8a8172" stroke-width="0.5"/>
<line x1="7" y1="-5.2" x2="7" y2="13" stroke="#8a8172" stroke-width="0.5"/>
<line x1="14.1" y1="-5.2" x2="14.1" y2="13" stroke="#8a8172" stroke-width="0.5"/>
<line x1="21.1" y1="-5.2" x2="21.1" y2="13" stroke="#8a8172" stroke-width="0.5"/>
<line x1="28.2" y1="-5.2" x2="28.2" y2="13" stroke="#8a8172" stroke-width="0.5"/>
<line x1="35.2" y1="-5.2" x2="35.2" y2="13" stroke="#8a8172" stroke-width="0.5"/>
<rect x="-43.2" y="-36.9" width="86.5" height="1.6" fill="#75726a" opacity=".6"/>
<rect x="-43.2" y="-6.8" width="86.5" height="1.6" fill="#75726a" opacity=".5"/>
<rect x="-40.2" y="34.3" width="39.8" height="17.2" fill="url(#gWhite)" rx="2"/>
<rect x="0.5" y="34.3" width="39.8" height="17.2" fill="url(#gWhite)" rx="2"/>
<line x1="0" y1="31.2" x2="0" y2="51" stroke="#b9b7b3" stroke-width="0.7"/>
<rect x="-37.4" y="21.8" width="18.1" height="15.6" rx="1.5" fill="#8b877a" transform="rotate(-6 -28.3 29.1)"/>
<rect x="-18.5" y="21.8" width="18.1" height="15.6" rx="1.5" fill="#878376" transform="rotate(5 -9.4 29.1)"/>
<rect x="0.4" y="21.8" width="18.1" height="15.6" rx="1.5" fill="#8d897c" transform="rotate(-4 9.4 29.1)"/>
<rect x="19.3" y="21.8" width="18.1" height="15.6" rx="1.5" fill="#85816f" transform="rotate(7 28.3 29.1)"/>
</g>
<rect x="179.8" y="253.6" width="23.8" height="17.5" fill="#6a625a"/>
<rect x="181" y="254.8" width="21.4" height="15.1" fill="#7b7268"/>
<circle cx="191.7" cy="262.3" r="8.2" fill="url(#gLamp)"/>
<rect x="188.5" y="259.2" width="6.3" height="6.3" fill="#fbf8f2"/>
<circle cx="191.7" cy="262.3" r="0.9" fill="#9a9185"/>
<rect x="297.8" y="253.6" width="24.4" height="17.5" fill="#6a625a"/>
<rect x="299" y="254.8" width="22" height="15.1" fill="#7b7268"/>
<circle cx="310" cy="262.3" r="8.2" fill="url(#gLamp)"/>
<rect x="306.9" y="259.2" width="6.3" height="6.3" fill="#fbf8f2"/>
<circle cx="310" cy="262.3" r="0.9" fill="#9a9185"/>
<rect x="378.7" y="129.6" width="69.3" height="21.8" fill="#b5a591"/>
<circle cx="386" cy="136.5" r="2.2" fill="none" stroke="#6d655c" stroke-width=".9"/>
<circle cx="386" cy="142" r="2.6" fill="none" stroke="#6d655c" stroke-width=".9"/>
<g transform="translate(431.7 142)">
<rect x="-15" y="-11.8" width="30" height="23.5" fill="#f2f3f4" rx="1" stroke="#bfc1c3" stroke-width=".6"/>
<rect x="-13" y="-8.2" width="26" height="18.2" fill="#e3e6e8" rx="1.5"/>
<circle cx="0" cy="-9.8" r="0.9" fill="#8d8f91"/>
<circle cx="0" cy="1" r="0.8" fill="#9a9c9e"/>
</g>
<g transform="translate(466.2 150.5) rotate(180)">
<g transform="scale(1.22 1.04)">
<rect x="-9.2" y="9.5" width="18.4" height="9" fill="#ecebea" rx="1.5" stroke="#c4c2bf" stroke-width=".6"/>
<circle cx="0" cy="14" r="1" fill="#555"/>
<path d="M-8.6 10 L-8.6 -8 A8.6 10.5 0 0 1 8.6 -8 L8.6 10 Z" fill="#f6f5f4" stroke="#c7c5c2" stroke-width=".6"/>
<path d="M-6.4 7 L-6.4 -7.5 A6.4 8.2 0 0 1 6.4 -7.5 L6.4 7 Z" fill="#fdfdfd" stroke="#dddbd8" stroke-width=".5"/>
</g>
</g>
<rect x="485.6" y="129.6" width="2" height="66.1" fill="#a9adb0"/>
<g transform="translate(511.9 135.5)">
<path d="M-4.2 -3.5l-1.3 2.2h2.6z" fill="#3a3a3a"/>
<path d="M0 -3.5l-1.3 2.2h2.6z" fill="#3a3a3a"/>
<path d="M4.2 -3.5l-1.3 2.2h2.6z" fill="#3a3a3a"/>
<rect x="-0.6" y="-1.2" width="1.2" height="3.7" fill="#3a3a3a"/>
<circle cx="0" cy="3.3" r="1.4" fill="#2a2a2a"/>
</g>
<rect x="395.4" y="238" width="140.3" height="73.6" fill="#b6a797"/>
<g transform="translate(513.7 222.5)">
<g transform="translate(-3.5 26.8) rotate(-22)">
<rect x="-11" y="-9" width="24" height="21" fill="#000" opacity="0.45" filter="url(#bl2)" rx="2"/>
<rect x="-12" y="-10" width="24" height="20" fill="#b9aa90" rx="1.5"/>
<rect x="-12" y="4" width="24" height="6" fill="#e3d9c4" rx="1.5"/>
<rect x="-10.5" y="-8.5" width="21" height="12.5" fill="#cbbd9f" rx="1"/>
</g>
<rect x="-21.9" y="-17.8" width="44.9" height="38.5" fill="#000" opacity="0.45" filter="url(#bl2)" rx="2"/>
<rect x="-21.9" y="-17.8" width="43.9" height="35.5" fill="#b4a38d"/>
<rect x="-21.9" y="-17.8" width="43.9" height="17.8" fill="#bcab95"/>
<rect x="-11.9" y="-6.4" width="24.2" height="17" fill="#6d7073" rx=".8"/>
<rect x="-11.1" y="-1.6" width="22.6" height="11.4" fill="#8d9195"/>
<rect x="-11.9" y="-6.4" width="24.2" height="3.7" fill="#2f3133"/>
</g>
<g transform="translate(434.9 234.6)">
<rect x="-56.5" y="-30" width="115" height="63" fill="#000" opacity="0.5" filter="url(#bl)" rx="2"/>
<rect x="-54.5" y="-27" width="109" height="54" fill="#efedea" rx="2"/>
<rect x="-53.5" y="-25.5" width="17.5" height="51" fill="#f7f6f4" rx="2"/>
<rect x="-37.1" y="-24" width="15.3" height="48" fill="#dcd3c9" rx="2"/>
<rect x="-32.7" y="-19" width="10.9" height="38" fill="#cfc4b8" rx="1.5"/>
<rect x="-21.8" y="-28" width="75.3" height="56" fill="#e9e6e2" rx="2.5"/>
<rect x="-21.8" y="-28" width="3.3" height="56" fill="#d5d1cb" opacity=".7"/>
<rect x="8.7" y="-27.5" width="31.6" height="55" fill="#d6c8bc"/>
<rect x="8.7" y="-27.5" width="2.2" height="55" fill="#c2b3a6" opacity=".7"/>
<rect x="-21.8" y="-28" width="75.3" height="56" fill="#fff" rx="2.5" filter="url(#nz)" opacity=".5"/>
</g>
<rect x="384.2" y="266.7" width="16.2" height="21" fill="#6a625a"/>
<rect x="385.4" y="267.9" width="13.8" height="18.6" fill="#7b7268"/>
<circle cx="392.3" cy="277.2" r="7.6" fill="url(#gLamp)"/>
<rect x="389.4" y="274.3" width="5.8" height="5.8" fill="#fbf8f2"/>
<circle cx="392.3" cy="277.2" r="0.9" fill="#9a9185"/>
<g transform="translate(478.7 337.9)">
<rect x="-55.7" y="-16.3" width="112.9" height="35.1" fill="#000" opacity="0.5" filter="url(#bl2)" rx="2"/>
<rect x="-55.7" y="-16.3" width="111.4" height="32.6" fill="#3f3a35"/>
<rect x="-54.5" y="-15.1" width="53.5" height="30.2" fill="#a08f7c"/>
<rect x="-54.5" y="-15.1" width="53.5" height="8.6" fill="#ab9a86"/>
<line x1="-54.5" y1="-2.6" x2="-1" y2="-2.6" stroke="#6f6a64" stroke-width="1.1"/>
<rect x="-54.5" y="-4.4" width="1.4" height="3.6" fill="#d9d9d9"/>
<rect x="-2.4" y="-4.4" width="1.4" height="3.6" fill="#d9d9d9"/>
<path d="M-51.5 -13.1L-47.8 13.3M-43.1 -13.1L-46.8 13.3M-41.5 -13.1L-38.4 13.3M-37.8 -13.1L-37.8 13.3M-33.1 -13.1L-29.8 13.3M-26.4 -13.1L-29 13.3M-25.4 -13.1L-25 13.3M-19.5 -13.1L-20.1 13.3M-16.3 -13.1L-15.7 13.3M-8.3 -13.1L-11.1 13.3" fill="none" stroke="#f3f1ee" stroke-width="1" stroke-linecap="round"/>
<rect x="1" y="-15.1" width="53.5" height="30.2" fill="#a08f7c"/>
<rect x="1" y="-15.1" width="53.5" height="8.6" fill="#ab9a86"/>
<g transform="rotate(-5 9.9 0)">
<rect x="4.6" y="-9.8" width="10.7" height="19.6" fill="#eef0f2" rx="1"/>
<rect x="4.6" y="3.9" width="10.7" height="5.9" fill="#fff" rx="1"/>
<path d="M6.7 -5.9q3.6 8.2 6.4 -0.7" fill="none" stroke="#bcc4cc" stroke-width=".8"/>
</g>
<g transform="rotate(3 27.8 0)">
<rect x="22.4" y="-9.8" width="10.7" height="19.6" fill="#eef0f2" rx="1"/>
<rect x="22.4" y="3.9" width="10.7" height="5.9" fill="#fff" rx="1"/>
<path d="M24.5 -5.9q3.6 8.2 6.4 -0.7" fill="none" stroke="#bcc4cc" stroke-width=".8"/>
</g>
<g transform="rotate(-3 45.6 0)">
<rect x="40.2" y="-9.8" width="10.7" height="19.6" fill="#eef0f2" rx="1"/>
<rect x="40.2" y="3.9" width="10.7" height="5.9" fill="#fff" rx="1"/>
<path d="M42.4 -5.9q3.6 8.2 6.4 -0.7" fill="none" stroke="#bcc4cc" stroke-width=".8"/>
</g>
</g>
<rect x="226.4" y="283.3" width="2" height="72.1" fill="#a9adb0"/>
<g transform="translate(246.5 335.7)">
<g transform="scale(1.22 1.04)">
<rect x="-9.2" y="9.5" width="18.4" height="9" fill="#ecebea" rx="1.5" stroke="#c4c2bf" stroke-width=".6"/>
<circle cx="0" cy="14" r="1" fill="#555"/>
<path d="M-8.6 10 L-8.6 -8 A8.6 10.5 0 0 1 8.6 -8 L8.6 10 Z" fill="#f6f5f4" stroke="#c7c5c2" stroke-width=".6"/>
<path d="M-6.4 7 L-6.4 -7.5 A6.4 8.2 0 0 1 6.4 -7.5 L6.4 7 Z" fill="#fdfdfd" stroke="#dddbd8" stroke-width=".5"/>
</g>
</g>
<rect x="264" y="329.1" width="51.8" height="25.5" fill="#b5a591"/>
<g transform="translate(280.9 341.6) rotate(180)">
<rect x="-13.1" y="-10.2" width="26.2" height="20.5" fill="#f2f3f4" rx="1" stroke="#bfc1c3" stroke-width=".6"/>
<rect x="-11.1" y="-6.8" width="22.2" height="15.2" fill="#e3e6e8" rx="1.5"/>
<circle cx="0" cy="-8.2" r="0.9" fill="#8d8f91"/>
<circle cx="0" cy="1" r="0.8" fill="#9a9c9e"/>
</g>
<g transform="translate(201.4 349) rotate(180)">
<path d="M-4.2 -3.5l-1.3 2.2h2.6z" fill="#3a3a3a"/>
<path d="M0 -3.5l-1.3 2.2h2.6z" fill="#3a3a3a"/>
<path d="M4.2 -3.5l-1.3 2.2h2.6z" fill="#3a3a3a"/>
<rect x="-0.6" y="-1.2" width="1.2" height="3.7" fill="#3a3a3a"/>
<circle cx="0" cy="3.3" r="1.4" fill="#2a2a2a"/>
</g>
<rect x="183.4" y="362.9" width="4.2" height="40.1" fill="#5d5d5d" stroke="#d2d2d2" stroke-width=".8"/>
<rect x="190.3" y="362.9" width="62.9" height="42.7" fill="#4a4845"/>
<rect x="192.8" y="365.4" width="57.9" height="37.7" fill="#b7ad98"/>
<rect x="192.8" y="365.4" width="12.8" height="5.2" fill="#c2b8a2" stroke="#8f866f" stroke-width=".35"/>
<rect x="205.6" y="365.4" width="8.5" height="5.2" fill="#cbc2ad" stroke="#8f866f" stroke-width=".35"/>
<rect x="214" y="365.4" width="12.2" height="5.2" fill="#cbc2ad" stroke="#8f866f" stroke-width=".35"/>
<rect x="226.2" y="365.4" width="9.3" height="5.2" fill="#b3a992" stroke="#8f866f" stroke-width=".35"/>
<rect x="235.5" y="365.4" width="11" height="5.2" fill="#bdb39d" stroke="#8f866f" stroke-width=".35"/>
<rect x="246.5" y="365.4" width="4.2" height="5.2" fill="#aba18b" stroke="#8f866f" stroke-width=".35"/>
<rect x="192.8" y="370.6" width="6.2" height="5.2" fill="#bdb39d" stroke="#8f866f" stroke-width=".35"/>
<rect x="199" y="370.6" width="12.7" height="5.2" fill="#bdb39d" stroke="#8f866f" stroke-width=".35"/>
<rect x="211.7" y="370.6" width="12.7" height="5.2" fill="#bdb39d" stroke="#8f866f" stroke-width=".35"/>
<rect x="224.4" y="370.6" width="9.3" height="5.2" fill="#c2b8a2" stroke="#8f866f" stroke-width=".35"/>
<rect x="233.8" y="370.6" width="12.4" height="5.2" fill="#cbc2ad" stroke="#8f866f" stroke-width=".35"/>
<rect x="246.1" y="370.6" width="4.6" height="5.2" fill="#cbc2ad" stroke="#8f866f" stroke-width=".35"/>
<rect x="192.8" y="375.8" width="12.5" height="5.2" fill="#aba18b" stroke="#8f866f" stroke-width=".35"/>
<rect x="205.3" y="375.8" width="12.5" height="5.2" fill="#bdb39d" stroke="#8f866f" stroke-width=".35"/>
<rect x="217.8" y="375.8" width="8.8" height="5.2" fill="#b3a992" stroke="#8f866f" stroke-width=".35"/>
<rect x="226.6" y="375.8" width="9.2" height="5.2" fill="#c2b8a2" stroke="#8f866f" stroke-width=".35"/>
<rect x="235.8" y="375.8" width="8.9" height="5.2" fill="#b3a992" stroke="#8f866f" stroke-width=".35"/>
<rect x="244.7" y="375.8" width="6" height="5.2" fill="#bdb39d" stroke="#8f866f" stroke-width=".35"/>
<rect x="192.8" y="381" width="4.8" height="5.2" fill="#bdb39d" stroke="#8f866f" stroke-width=".35"/>
<rect x="197.6" y="381" width="11.4" height="5.2" fill="#b3a992" stroke="#8f866f" stroke-width=".35"/>
<rect x="209" y="381" width="13" height="5.2" fill="#aba18b" stroke="#8f866f" stroke-width=".35"/>
<rect x="221.9" y="381" width="12" height="5.2" fill="#bdb39d" stroke="#8f866f" stroke-width=".35"/>
<rect x="233.9" y="381" width="12.5" height="5.2" fill="#cbc2ad" stroke="#8f866f" stroke-width=".35"/>
<rect x="246.5" y="381" width="4.2" height="5.2" fill="#cbc2ad" stroke="#8f866f" stroke-width=".35"/>
<rect x="192.8" y="386.2" width="9.8" height="5.2" fill="#aba18b" stroke="#8f866f" stroke-width=".35"/>
<rect x="202.6" y="386.2" width="8.8" height="5.2" fill="#aba18b" stroke="#8f866f" stroke-width=".35"/>
<rect x="211.4" y="386.2" width="11.6" height="5.2" fill="#aba18b" stroke="#8f866f" stroke-width=".35"/>
<rect x="223" y="386.2" width="11.3" height="5.2" fill="#b3a992" stroke="#8f866f" stroke-width=".35"/>
<rect x="234.3" y="386.2" width="10.5" height="5.2" fill="#aba18b" stroke="#8f866f" stroke-width=".35"/>
<rect x="244.7" y="386.2" width="6" height="5.2" fill="#cbc2ad" stroke="#8f866f" stroke-width=".35"/>
<rect x="192.8" y="391.4" width="6.3" height="5.2" fill="#aba18b" stroke="#8f866f" stroke-width=".35"/>
<rect x="199.1" y="391.4" width="12.5" height="5.2" fill="#aba18b" stroke="#8f866f" stroke-width=".35"/>
<rect x="211.6" y="391.4" width="9.8" height="5.2" fill="#bdb39d" stroke="#8f866f" stroke-width=".35"/>
<rect x="221.4" y="391.4" width="11.6" height="5.2" fill="#aba18b" stroke="#8f866f" stroke-width=".35"/>
<rect x="233" y="391.4" width="11.3" height="5.2" fill="#cbc2ad" stroke="#8f866f" stroke-width=".35"/>
<rect x="244.3" y="391.4" width="6.4" height="5.2" fill="#b3a992" stroke="#8f866f" stroke-width=".35"/>
<rect x="192.8" y="396.6" width="12.4" height="5.2" fill="#bdb39d" stroke="#8f866f" stroke-width=".35"/>
<rect x="205.2" y="396.6" width="9.3" height="5.2" fill="#aba18b" stroke="#8f866f" stroke-width=".35"/>
<rect x="214.5" y="396.6" width="9.5" height="5.2" fill="#bdb39d" stroke="#8f866f" stroke-width=".35"/>
<rect x="224.1" y="396.6" width="10.8" height="5.2" fill="#bdb39d" stroke="#8f866f" stroke-width=".35"/>
<rect x="234.9" y="396.6" width="11.3" height="5.2" fill="#bdb39d" stroke="#8f866f" stroke-width=".35"/>
<rect x="246.1" y="396.6" width="4.6" height="5.2" fill="#b3a992" stroke="#8f866f" stroke-width=".35"/>
<rect x="192.8" y="401.8" width="5.4" height="1.3" fill="#cbc2ad" stroke="#8f866f" stroke-width=".35"/>
<rect x="198.2" y="401.8" width="12.7" height="1.3" fill="#bdb39d" stroke="#8f866f" stroke-width=".35"/>
<rect x="210.9" y="401.8" width="12.4" height="1.3" fill="#cbc2ad" stroke="#8f866f" stroke-width=".35"/>
<rect x="223.3" y="401.8" width="11.6" height="1.3" fill="#b3a992" stroke="#8f866f" stroke-width=".35"/>
<rect x="235" y="401.8" width="13" height="1.3" fill="#c2b8a2" stroke="#8f866f" stroke-width=".35"/>
<rect x="247.9" y="401.8" width="2.8" height="1.3" fill="#c2b8a2" stroke="#8f866f" stroke-width=".35"/>
<rect x="190.3" y="399.6" width="62.9" height="6" fill="#8d8d8b"/>
<line x1="210.2" y1="372.9" x2="210.2" y2="416.6" stroke="#8a6a45" stroke-width="1"/>
<ellipse cx="210.2" cy="376" rx="2.3" ry="2.4" fill="#6b2b26"/>
<ellipse cx="210.2" cy="380.2" rx="2.3" ry="2.4" fill="#4d1d1b"/>
<ellipse cx="210.2" cy="384.4" rx="2.3" ry="2.4" fill="#5a2320"/>
<ellipse cx="210.2" cy="388.6" rx="2.3" ry="2.4" fill="#4d1d1b"/>
<line x1="221.8" y1="372.9" x2="221.8" y2="416.6" stroke="#8a6a45" stroke-width="1"/>
<ellipse cx="221.8" cy="376" rx="2.3" ry="2.4" fill="#5a2320"/>
<ellipse cx="221.8" cy="380.2" rx="2.3" ry="2.4" fill="#4d1d1b"/>
<ellipse cx="221.8" cy="384.4" rx="2.3" ry="2.4" fill="#5a2320"/>
<ellipse cx="221.8" cy="388.6" rx="2.3" ry="2.4" fill="#6b2b26"/>
<line x1="233.3" y1="372.9" x2="233.3" y2="416.6" stroke="#8a6a45" stroke-width="1"/>
<ellipse cx="233.3" cy="376" rx="2.3" ry="2.4" fill="#5a2320"/>
<ellipse cx="233.3" cy="380.2" rx="2.3" ry="2.4" fill="#5a2320"/>
<ellipse cx="233.3" cy="384.4" rx="2.3" ry="2.4" fill="#5a2320"/>
<ellipse cx="233.3" cy="388.6" rx="2.3" ry="2.4" fill="#6b2b26"/>
<rect x="371.7" y="371.3" width="162.7" height="16.3" fill="#000" opacity=".35" filter="url(#bl2)"/>
<rect x="371.7" y="371.3" width="162.7" height="16.3" fill="#7a6f65"/>
<rect x="371.7" y="371.3" width="162.7" height="7.3" fill="#857a70"/>
<rect x="422.1" y="372.8" width="61.8" height="1.7" fill="#a9a6a2"/>
<rect x="449" y="370.5" width="8" height="1.6" fill="#1c1c1c"/>
<circle cx="508.6" cy="375.8" r="5.8" fill="#d9d6c8"/>
<circle cx="508.6" cy="375.8" r="4.5" fill="#2e3a27"/>
<circle cx="507.8" cy="375.2" r="2.2" fill="#44563a"/>
<circle cx="522.6" cy="375.8" r="5.1" fill="#d9d6c8"/>
<circle cx="522.6" cy="375.8" r="3.8" fill="#2e3a27"/>
<circle cx="521.8" cy="375.2" r="1.8" fill="#44563a"/>
<rect x="390.4" y="393.8" width="132.7" height="66.2" fill="#8f8f8b"/>
<rect x="390.4" y="393.8" width="132.7" height="66.2" fill="#fff" filter="url(#nz)" opacity=".16"/>
<rect x="390.4" y="393.8" width="132.7" height="66.2" fill="#000" filter="url(#nzd)" opacity=".16"/>
<rect x="446.8" y="404.6" width="28.3" height="29" fill="#000" opacity="0.5" filter="url(#bl2)" rx="2"/>
<rect x="446.8" y="404.6" width="26.3" height="26" fill="#e9e8e6" rx="1.5"/>
<rect x="447.8" y="405.6" width="24.3" height="13.3" fill="#f3f2f1" rx="1.5"/>
<rect x="475.6" y="404.6" width="29.5" height="29" fill="#000" opacity="0.5" filter="url(#bl2)" rx="2"/>
<rect x="475.6" y="404.6" width="27.5" height="26" fill="#e9e8e6" rx="1.5"/>
<rect x="476.6" y="405.6" width="25.5" height="13.3" fill="#f3f2f1" rx="1.5"/>
<g transform="translate(392.4 433.1) rotate(115)">
<rect x="-20" y="-20" width="42" height="43" fill="#000" opacity="0.45" filter="url(#bl)" rx="2"/>
<path d="M-19 -7 A20 20 0 1 0 19 -7 L12.4 -11 A13.6 13.6 0 1 1 -12.4 -11 Z" fill="#d9d4ce"/>
<ellipse cx="0" cy="1" rx="14" ry="14.4" fill="#e6e2dd"/>
<rect x="-8.4" y="-10" width="16.8" height="15.6" fill="#8f8981" rx="2"/>
<rect x="-8.4" y="-10" width="16.8" height="8" fill="#a39d94" rx="2"/>
<line x1="-11" y1="9" x2="-13.8" y2="18.6" stroke="#c2bcb4" stroke-width="0.6"/>
<line x1="-5.6" y1="9" x2="-7" y2="18.6" stroke="#c2bcb4" stroke-width="0.6"/>
<line x1="0" y1="9" x2="0" y2="18.6" stroke="#c2bcb4" stroke-width="0.6"/>
<line x1="5.6" y1="9" x2="7" y2="18.6" stroke="#c2bcb4" stroke-width="0.6"/>
<line x1="11" y1="9" x2="13.8" y2="18.6" stroke="#c2bcb4" stroke-width="0.6"/>
</g>
<g transform="translate(474.5 472)">
<rect x="-53" y="-23.5" width="108" height="50" fill="#000" opacity="0.5" filter="url(#bl)" rx="2"/>
<rect x="-52" y="-22.5" width="104" height="45" fill="#e4dfd8" rx="3"/>
<rect x="-52" y="-21.5" width="14" height="44" fill="#f0ece6" rx="3"/>
<rect x="38" y="-21.5" width="14" height="44" fill="#f0ece6" rx="3"/>
<rect x="-38" y="13.5" width="75.9" height="9" fill="#efebe5" rx="2"/>
<rect x="-37.5" y="-22" width="37" height="35.5" fill="#f5f2ed" rx="2.5"/>
<rect x="0.5" y="-22" width="37" height="35.5" fill="#f5f2ed" rx="2.5"/>
<rect x="-52" y="-22.5" width="104" height="45" fill="#fff" rx="3" filter="url(#nz)" opacity=".35"/>
<g transform="translate(-28.1 5.4) rotate(-28)">
<rect x="-6.5" y="-4.8" width="13" height="9.6" fill="#e9d9a6" rx="1.5"/>
<line x1="-4.8" y1="-4.6" x2="-4.8" y2="4.6" stroke="#f7f0d9" stroke-width="0.8"/>
<line x1="-2.4" y1="-4.6" x2="-2.4" y2="4.6" stroke="#f7f0d9" stroke-width="0.8"/>
<line x1="0" y1="-4.6" x2="0" y2="4.6" stroke="#f7f0d9" stroke-width="0.8"/>
<line x1="2.4" y1="-4.6" x2="2.4" y2="4.6" stroke="#f7f0d9" stroke-width="0.8"/>
<line x1="4.8" y1="-4.6" x2="4.8" y2="4.6" stroke="#f7f0d9" stroke-width="0.8"/>
</g>
<g transform="translate(-14.6 9) rotate(20)">
<rect x="-6" y="-4.6" width="12" height="9.2" fill="#bdb3a2" rx="1.5"/>
</g>
<g transform="translate(28.1 5.4) rotate(28)">
<rect x="-6.5" y="-4.8" width="13" height="9.6" fill="#e9d9a6" rx="1.5"/>
<line x1="-4.8" y1="-4.6" x2="-4.8" y2="4.6" stroke="#f7f0d9" stroke-width="0.8"/>
<line x1="-2.4" y1="-4.6" x2="-2.4" y2="4.6" stroke="#f7f0d9" stroke-width="0.8"/>
<line x1="0" y1="-4.6" x2="0" y2="4.6" stroke="#f7f0d9" stroke-width="0.8"/>
<line x1="2.4" y1="-4.6" x2="2.4" y2="4.6" stroke="#f7f0d9" stroke-width="0.8"/>
<line x1="4.8" y1="-4.6" x2="4.8" y2="4.6" stroke="#f7f0d9" stroke-width="0.8"/>
</g>
<g transform="translate(14.6 9) rotate(-20)">
<rect x="-6" y="-4.6" width="12" height="9.2" fill="#bdb3a2" rx="1.5"/>
</g>
</g>
<rect x="388.5" y="458.2" width="31" height="32" fill="#000" opacity="0.45" filter="url(#bl)" rx="14.5"/>
<circle cx="403" cy="472.7" r="14.5" fill="#d6cdc6"/>
<circle cx="403" cy="472.7" r="12.9" fill="#e1d9d3"/>
<circle cx="401" cy="471.3" r="1.5" fill="#b34b45"/>
<circle cx="406.2" cy="477.1" r="1.5" fill="#c8746a"/>
<circle cx="400.2" cy="473" r="1.5" fill="#c8746a"/>
<circle cx="405" cy="476.3" r="1.5" fill="#c8746a"/>
<circle cx="400.2" cy="475.6" r="1.5" fill="#9c3a3a"/>
<circle cx="404.2" cy="476.1" r="1.5" fill="#b34b45"/>
<circle cx="400.2" cy="469.6" r="1.5" fill="#c8746a"/>
<circle cx="402.7" cy="475.5" r="1.5" fill="#c8746a"/>
<circle cx="405" cy="468.2" r="1.5" fill="#b34b45"/>
<rect x="313.5" y="422.5" width="20" height="21" fill="#000" opacity="0.35" filter="url(#bl2)" rx="2"/>
<g transform="translate(322.5 431.5) rotate(315)">
<rect x="-10" y="-9" width="20" height="18" fill="#d2c6b4" rx="3.5"/>
<rect x="-8.4" y="-6" width="16.8" height="15" fill="#f0e9dc" rx="3"/>
</g>
<rect x="271.7" y="422.5" width="20" height="21" fill="#000" opacity="0.35" filter="url(#bl2)" rx="2"/>
<g transform="translate(280.7 431.5) rotate(405)">
<rect x="-10" y="-9" width="20" height="18" fill="#d2c6b4" rx="3.5"/>
<rect x="-8.4" y="-6" width="16.8" height="15" fill="#f0e9dc" rx="3"/>
</g>
<rect x="271.7" y="380.7" width="20" height="21" fill="#000" opacity="0.35" filter="url(#bl2)" rx="2"/>
<g transform="translate(280.7 389.7) rotate(495)">
<rect x="-10" y="-9" width="20" height="18" fill="#d2c6b4" rx="3.5"/>
<rect x="-8.4" y="-6" width="16.8" height="15" fill="#f0e9dc" rx="3"/>
</g>
<rect x="313.5" y="380.7" width="20" height="21" fill="#000" opacity="0.35" filter="url(#bl2)" rx="2"/>
<g transform="translate(322.5 389.7) rotate(585)">
<rect x="-10" y="-9" width="20" height="18" fill="#d2c6b4" rx="3.5"/>
<rect x="-8.4" y="-6" width="16.8" height="15" fill="#f0e9dc" rx="3"/>
</g>
<rect x="276.6" y="385.6" width="53" height="54" fill="#000" opacity="0.5" filter="url(#bl)" rx="25"/>
<circle cx="301.6" cy="410.6" r="25" fill="#7b7067"/>
<circle cx="301.6" cy="410.6" r="23.8" fill="#857a70"/>
<line x1="279.1" y1="390.6" x2="324.1" y2="390.6" stroke="#7d7268" stroke-width="0.5" opacity=".6"/>
<line x1="279.1" y1="395.6" x2="324.1" y2="395.6" stroke="#7d7268" stroke-width="0.5" opacity=".6"/>
<line x1="279.1" y1="400.6" x2="324.1" y2="400.6" stroke="#7d7268" stroke-width="0.5" opacity=".6"/>
<line x1="279.1" y1="405.6" x2="324.1" y2="405.6" stroke="#7d7268" stroke-width="0.5" opacity=".6"/>
<line x1="279.1" y1="410.6" x2="324.1" y2="410.6" stroke="#7d7268" stroke-width="0.5" opacity=".6"/>
<line x1="279.1" y1="415.6" x2="324.1" y2="415.6" stroke="#7d7268" stroke-width="0.5" opacity=".6"/>
<line x1="279.1" y1="420.6" x2="324.1" y2="420.6" stroke="#7d7268" stroke-width="0.5" opacity=".6"/>
<line x1="279.1" y1="425.6" x2="324.1" y2="425.6" stroke="#7d7268" stroke-width="0.5" opacity=".6"/>
<line x1="279.1" y1="430.6" x2="324.1" y2="430.6" stroke="#7d7268" stroke-width="0.5" opacity=".6"/>
<circle cx="301.6" cy="410.6" r="8" fill="#000" opacity=".25" filter="url(#bl2)"/>
<ellipse cx="301.5" cy="415.5" rx="3.1" ry="1.4" fill="#4b6a2f" transform="rotate(91 301.5 415.5)"/>
<ellipse cx="306.5" cy="410.9" rx="3.1" ry="1.4" fill="#5b7a3a" transform="rotate(3 306.5 410.9)"/>
<ellipse cx="305.2" cy="414" rx="3.1" ry="1.4" fill="#5b7a3a" transform="rotate(43 305.2 414)"/>
<ellipse cx="297.4" cy="408.1" rx="3.1" ry="1.4" fill="#4b6a2f" transform="rotate(210 297.4 408.1)"/>
<ellipse cx="296.9" cy="409.1" rx="3.1" ry="1.4" fill="#4b6a2f" transform="rotate(198 296.9 409.1)"/>
<ellipse cx="297.2" cy="412.7" rx="3.1" ry="1.4" fill="#6f8f46" transform="rotate(154 297.2 412.7)"/>
<ellipse cx="296.9" cy="412" rx="3.1" ry="1.4" fill="#4b6a2f" transform="rotate(163 296.9 412)"/>
<ellipse cx="305.1" cy="414" rx="3.1" ry="1.4" fill="#4b6a2f" transform="rotate(44 305.1 414)"/>
<ellipse cx="297" cy="412.4" rx="3.1" ry="1.4" fill="#6f8f46" transform="rotate(158 297 412.4)"/>
<ellipse cx="299.1" cy="406.4" rx="3.1" ry="1.4" fill="#5b7a3a" transform="rotate(238 299.1 406.4)"/>
<circle cx="299.2" cy="410.6" r="1.7" fill="#fff"/>
<circle cx="298.6" cy="410.8" r="1.7" fill="#f4f1e4"/>
<circle cx="301.1" cy="409.4" r="1.7" fill="#e8edd8"/>
<circle cx="299.5" cy="413.2" r="1.7" fill="#f4f1e4"/>
<circle cx="299.3" cy="408.6" r="1.7" fill="#fff"/>
<circle cx="300" cy="413.3" r="1.7" fill="#fff"/>
<circle cx="302.7" cy="411.6" r="1.7" fill="#e8edd8"/>
<rect x="270.3" y="506.5" width="68.8" height="12.9" fill="#7a6f65"/>
<rect x="270.3" y="506.5" width="68.8" height="5" fill="#857a70"/>
<circle cx="281" cy="510" r="1.6" fill="#c9c2b8"/>
<circle cx="285.5" cy="513" r="1.9" fill="#d8d2c9"/>
<circle cx="279" cy="514.5" r="1.4" fill="#bcb4a9"/>
<rect x="179.6" y="581.6" width="242.1" height="33.8" fill="#000" opacity=".3" filter="url(#bl2)"/>
<rect x="179.6" y="581.6" width="242.1" height="33.8" fill="#e5dfd3"/>
<rect x="179.6" y="581.6" width="242.1" height="33.8" fill="#fff" filter="url(#nz)" opacity=".4"/>
<rect x="186.4" y="585" width="26.3" height="27" fill="#eeeceb" rx="2" stroke="#b1afad" stroke-width=".7"/>
<rect x="188.9" y="590" width="21.3" height="19" fill="#d3d5d6" rx="3" stroke="#8f9193" stroke-width=".8"/>
<rect x="191.4" y="592.5" width="16.3" height="14" fill="#e4e6e7" rx="2"/>
<rect x="199" y="586.5" width="1.2" height="5.5" fill="#6d6f71"/>
<circle cx="196.6" cy="610" r="0.6" fill="#555"/>
<circle cx="202.6" cy="610" r="0.6" fill="#555"/>
<rect x="222.7" y="582.2" width="31.3" height="32.6" fill="#e6e7e8" rx="3" stroke="#9b9d9f" stroke-width=".7"/>
<circle cx="238.3" cy="599.5" r="11.3" fill="#d2d4d6" stroke="#a3a5a7" stroke-width=".7"/>
<circle cx="238.3" cy="599.5" r="7" fill="#c3c5c7" stroke="#aaacae" stroke-width=".5"/>
<circle cx="238.3" cy="599.5" r="2.8" fill="#dcdedf"/>
<rect x="225.7" y="583.7" width="25.3" height="2.5" fill="#cfd1d3" rx="1"/>
<rect x="271.5" y="586" width="28.8" height="25" fill="#1d1d1d" rx="1"/>
<circle cx="279.3" cy="592.8" r="4.2" fill="#0c0c0c" stroke="#d0d0d0" stroke-width=".9"/>
<path d="M273.5 592.8h11.5M279.3 587.8v10" fill="none" stroke="#bdbdbd" stroke-width=".8"/>
<circle cx="279.3" cy="604.2" r="4.2" fill="#0c0c0c" stroke="#d0d0d0" stroke-width=".9"/>
<path d="M273.5 604.2h11.5M279.3 599.2v10" fill="none" stroke="#bdbdbd" stroke-width=".8"/>
<circle cx="292.5" cy="592.8" r="4.2" fill="#0c0c0c" stroke="#d0d0d0" stroke-width=".9"/>
<path d="M286.8 592.8h11.5M292.5 587.8v10" fill="none" stroke="#bdbdbd" stroke-width=".8"/>
<circle cx="292.5" cy="604.2" r="4.2" fill="#0c0c0c" stroke="#d0d0d0" stroke-width=".9"/>
<path d="M286.8 604.2h11.5M292.5 599.2v10" fill="none" stroke="#bdbdbd" stroke-width=".8"/>
<rect x="327.3" y="587.5" width="35.6" height="22" fill="#c9cbcd" rx="2" stroke="#8e9092" stroke-width=".7"/>
<rect x="328.8" y="589" width="24.1" height="19" fill="#eceeef" rx="2.5" stroke="#a0a2a4" stroke-width=".6"/>
<rect x="354.1" y="590.5" width="7.3" height="16" fill="#dfe1e2" rx="2" stroke="#a0a2a4" stroke-width=".5"/>
<circle cx="341.1" cy="598.5" r="1.1" fill="#777"/>
<rect x="425.5" y="574.1" width="38.3" height="43.1" fill="#000" opacity="0.45" filter="url(#bl2)" rx="2"/>
<rect x="425.5" y="574.1" width="36.3" height="40.1" fill="#5c5c5c" rx="1.5"/>
<rect x="427" y="577.6" width="33.3" height="35.1" fill="url(#gFridge)" rx="1"/>
<rect x="426.5" y="575.1" width="34.3" height="2.2" fill="#9a9a9a" rx="1"/>
<rect x="179.6" y="630" width="242.1" height="32.6" fill="#000" opacity=".3" filter="url(#bl2)"/>
<rect x="179.6" y="630" width="242.1" height="32.6" fill="#e5dfd3"/>
<rect x="179.6" y="630" width="242.1" height="32.6" fill="#fff" filter="url(#nz)" opacity=".4"/>
<rect x="186.4" y="632.8" width="26.3" height="27" fill="#eeeceb" rx="2" stroke="#b1afad" stroke-width=".7"/>
<rect x="188.9" y="637.8" width="21.3" height="19" fill="#d3d5d6" rx="3" stroke="#8f9193" stroke-width=".8"/>
<rect x="191.4" y="640.3" width="16.3" height="14" fill="#e4e6e7" rx="2"/>
<rect x="199" y="634.3" width="1.2" height="5.5" fill="#6d6f71"/>
<circle cx="196.6" cy="657.8" r="0.6" fill="#555"/>
<circle cx="202.6" cy="657.8" r="0.6" fill="#555"/>
<rect x="222.7" y="630" width="31.3" height="32.6" fill="#e6e7e8" rx="3" stroke="#9b9d9f" stroke-width=".7"/>
<circle cx="238.3" cy="647.3" r="11.3" fill="#d2d4d6" stroke="#a3a5a7" stroke-width=".7"/>
<circle cx="238.3" cy="647.3" r="7" fill="#c3c5c7" stroke="#aaacae" stroke-width=".5"/>
<circle cx="238.3" cy="647.3" r="2.8" fill="#dcdedf"/>
<rect x="225.7" y="631.5" width="25.3" height="2.5" fill="#cfd1d3" rx="1"/>
<rect x="271.5" y="633.8" width="28.8" height="25" fill="#1d1d1d" rx="1"/>
<circle cx="279.3" cy="640.5" r="4.2" fill="#0c0c0c" stroke="#d0d0d0" stroke-width=".9"/>
<path d="M273.5 640.5h11.5M279.3 635.5v10" fill="none" stroke="#bdbdbd" stroke-width=".8"/>
<circle cx="279.3" cy="652" r="4.2" fill="#0c0c0c" stroke="#d0d0d0" stroke-width=".9"/>
<path d="M273.5 652h11.5M279.3 647v10" fill="none" stroke="#bdbdbd" stroke-width=".8"/>
<circle cx="292.5" cy="640.5" r="4.2" fill="#0c0c0c" stroke="#d0d0d0" stroke-width=".9"/>
<path d="M286.8 640.5h11.5M292.5 635.5v10" fill="none" stroke="#bdbdbd" stroke-width=".8"/>
<circle cx="292.5" cy="652" r="4.2" fill="#0c0c0c" stroke="#d0d0d0" stroke-width=".9"/>
<path d="M286.8 652h11.5M292.5 647v10" fill="none" stroke="#bdbdbd" stroke-width=".8"/>
<rect x="327.3" y="635.3" width="35.6" height="22" fill="#c9cbcd" rx="2" stroke="#8e9092" stroke-width=".7"/>
<rect x="328.8" y="636.8" width="24.1" height="19" fill="#eceeef" rx="2.5" stroke="#a0a2a4" stroke-width=".6"/>
<rect x="354.1" y="638.3" width="7.3" height="16" fill="#dfe1e2" rx="2" stroke="#a0a2a4" stroke-width=".5"/>
<circle cx="341.1" cy="646.3" r="1.1" fill="#777"/>
<rect x="425.5" y="631.3" width="38.3" height="41.8" fill="#000" opacity="0.45" filter="url(#bl2)" rx="2"/>
<rect x="425.5" y="631.3" width="36.3" height="38.8" fill="#5c5c5c" rx="1.5"/>
<rect x="427" y="634.8" width="33.3" height="33.8" fill="url(#gFridge)" rx="1"/>
<rect x="426.5" y="632.3" width="34.3" height="2.2" fill="#9a9a9a" rx="1"/>
<rect x="264" y="580.4" width="157.7" height="1.4" fill="#5d5d5d"/>
<rect x="420.6" y="576" width="1.4" height="39.4" fill="#5d5d5d"/>
<rect x="420.6" y="629" width="1.4" height="40.7" fill="#5d5d5d"/>
<rect x="185.1" y="760.2" width="169" height="61.4" fill="#b6a797"/>
<g transform="translate(217.4 743.3)">
<g transform="translate(-6 25.9) rotate(-22)">
<rect x="-11" y="-9" width="24" height="21" fill="#000" opacity="0.45" filter="url(#bl2)" rx="2"/>
<rect x="-12" y="-10" width="24" height="20" fill="#b9aa90" rx="1.5"/>
<rect x="-12" y="4" width="24" height="6" fill="#e3d9c4" rx="1.5"/>
<rect x="-10.5" y="-8.5" width="21" height="12.5" fill="#cbbd9f" rx="1"/>
</g>
<rect x="-37.8" y="-16.9" width="76.6" height="36.8" fill="#000" opacity="0.45" filter="url(#bl2)" rx="2"/>
<rect x="-37.8" y="-16.9" width="75.6" height="33.8" fill="#b4a38d"/>
<rect x="-37.8" y="-16.9" width="75.6" height="16.9" fill="#bcab95"/>
<rect x="-14.8" y="-6.1" width="24.2" height="17" fill="#6d7073" rx=".8"/>
<rect x="-14" y="-1.3" width="22.6" height="11.4" fill="#8d9195"/>
<rect x="-14.8" y="-6.1" width="24.2" height="3.7" fill="#2f3133"/>
</g>
<g transform="translate(314.7 755.2) scale(-1 1)">
<rect x="-56.5" y="-30.8" width="115" height="64.6" fill="#000" opacity="0.5" filter="url(#bl)" rx="2"/>
<rect x="-54.5" y="-27.8" width="109" height="55.6" fill="#efedea" rx="2"/>
<rect x="-53.5" y="-26.3" width="17.5" height="52.6" fill="#f7f6f4" rx="2"/>
<rect x="-37.1" y="-24.8" width="15.3" height="49.6" fill="#dcd3c9" rx="2"/>
<rect x="-32.7" y="-19.8" width="10.9" height="39.6" fill="#cfc4b8" rx="1.5"/>
<rect x="-21.8" y="-28.8" width="75.3" height="57.6" fill="#e9e6e2" rx="2.5"/>
<rect x="-21.8" y="-28.8" width="3.3" height="57.6" fill="#d5d1cb" opacity=".7"/>
<rect x="8.7" y="-28.3" width="31.6" height="56.6" fill="#d6c8bc"/>
<rect x="8.7" y="-28.3" width="2.2" height="56.6" fill="#c2b3a6" opacity=".7"/>
<rect x="-21.8" y="-28.8" width="75.3" height="57.6" fill="#fff" rx="2.5" filter="url(#nz)" opacity=".5"/>
</g>
<rect x="347.9" y="786.5" width="17.5" height="22.5" fill="#6a625a"/>
<rect x="349.1" y="787.8" width="15.1" height="20.1" fill="#7b7268"/>
<circle cx="356.6" cy="797.8" r="8.2" fill="url(#gLamp)"/>
<rect x="353.5" y="794.6" width="6.3" height="6.3" fill="#fbf8f2"/>
<circle cx="356.6" cy="797.8" r="0.9" fill="#9a9185"/>
<g transform="translate(250.2 843.5)">
<rect x="-65.1" y="-16.9" width="131.7" height="36.3" fill="#000" opacity="0.5" filter="url(#bl2)" rx="2"/>
<rect x="-65.1" y="-16.9" width="130.2" height="33.8" fill="#3f3a35"/>
<rect x="-63.9" y="-15.7" width="62.9" height="31.4" fill="#a08f7c"/>
<rect x="-63.9" y="-15.7" width="62.9" height="8.9" fill="#ab9a86"/>
<g transform="rotate(-5 -53.4 0)">
<rect x="-59.7" y="-10.1" width="12.6" height="20.3" fill="#eef0f2" rx="1"/>
<rect x="-59.7" y="4.1" width="12.6" height="6.1" fill="#fff" rx="1"/>
<path d="M-57.2 -6.1q4.2 8.4 7.5 -0.7" fill="none" stroke="#bcc4cc" stroke-width=".8"/>
</g>
<g transform="rotate(3 -32.4 0)">
<rect x="-38.7" y="-10.1" width="12.6" height="20.3" fill="#eef0f2" rx="1"/>
<rect x="-38.7" y="4.1" width="12.6" height="6.1" fill="#fff" rx="1"/>
<path d="M-36.2 -6.1q4.2 8.4 7.5 -0.7" fill="none" stroke="#bcc4cc" stroke-width=".8"/>
</g>
<g transform="rotate(-3 -11.5 0)">
<rect x="-17.8" y="-10.1" width="12.6" height="20.3" fill="#eef0f2" rx="1"/>
<rect x="-17.8" y="4.1" width="12.6" height="6.1" fill="#fff" rx="1"/>
<path d="M-15.3 -6.1q4.2 8.4 7.5 -0.7" fill="none" stroke="#bcc4cc" stroke-width=".8"/>
</g>
<rect x="1" y="-15.7" width="62.9" height="31.4" fill="#a08f7c"/>
<rect x="1" y="-15.7" width="62.9" height="8.9" fill="#ab9a86"/>
<line x1="1" y1="-2.7" x2="63.9" y2="-2.7" stroke="#6f6a64" stroke-width="1.1"/>
<rect x="1" y="-4.5" width="1.4" height="3.6" fill="#d9d9d9"/>
<rect x="62.5" y="-4.5" width="1.4" height="3.6" fill="#d9d9d9"/>
<path d="M4 -13.7L7.8 13.9M11.2 -13.7L9 13.9M13.1 -13.7L16.8 13.9M20.3 -13.7L17.5 13.9M22.5 -13.7L25.6 13.9M30 -13.7L27.4 13.9M32.3 -13.7L35 13.9M41.2 -13.7L37.3 13.9M42.2 -13.7L46 13.9M46.1 -13.7L46.2 13.9M50.3 -13.7L54.4 13.9M58 -13.7L54.4 13.9M58.4 -13.7L62.4 13.9" fill="none" stroke="#f3f1ee" stroke-width="1" stroke-linecap="round"/>
</g>
<rect x="217.7" y="870.4" width="2.5" height="66" fill="#a9adb0"/>
<rect x="217.7" y="943.9" width="2.5" height="66.3" fill="#a9adb0"/>
<g transform="translate(237.7 916.7)">
<g transform="scale(1.22 1.04)">
<rect x="-9.2" y="9.5" width="18.4" height="9" fill="#ecebea" rx="1.5" stroke="#c4c2bf" stroke-width=".6"/>
<circle cx="0" cy="14" r="1" fill="#555"/>
<path d="M-8.6 10 L-8.6 -8 A8.6 10.5 0 0 1 8.6 -8 L8.6 10 Z" fill="#f6f5f4" stroke="#c7c5c2" stroke-width=".6"/>
<path d="M-6.4 7 L-6.4 -7.5 A6.4 8.2 0 0 1 6.4 -7.5 L6.4 7 Z" fill="#fdfdfd" stroke="#dddbd8" stroke-width=".5"/>
</g>
</g>
<g transform="translate(237.7 963.6) rotate(180)">
<g transform="scale(1.22 1.04)">
<rect x="-9.2" y="9.5" width="18.4" height="9" fill="#ecebea" rx="1.5" stroke="#c4c2bf" stroke-width=".6"/>
<circle cx="0" cy="14" r="1" fill="#555"/>
<path d="M-8.6 10 L-8.6 -8 A8.6 10.5 0 0 1 8.6 -8 L8.6 10 Z" fill="#f6f5f4" stroke="#c7c5c2" stroke-width=".6"/>
<path d="M-6.4 7 L-6.4 -7.5 A6.4 8.2 0 0 1 6.4 -7.5 L6.4 7 Z" fill="#fdfdfd" stroke="#dddbd8" stroke-width=".5"/>
</g>
</g>
<rect x="257.2" y="916.3" width="58.6" height="20.1" fill="#b5a591"/>
<rect x="257.2" y="943.9" width="58.6" height="26.3" fill="#b5a591"/>
<g transform="translate(273.4 922.8) rotate(180)">
<rect x="-13.2" y="-11.2" width="26.3" height="22.5" fill="#f2f3f4" rx="1" stroke="#bfc1c3" stroke-width=".6"/>
<rect x="-11.2" y="-7.8" width="22.3" height="17.2" fill="#e3e6e8" rx="1.5"/>
<circle cx="0" cy="-9.2" r="0.9" fill="#8d8f91"/>
<circle cx="0" cy="1" r="0.8" fill="#9a9c9e"/>
</g>
<g transform="translate(273.4 957.5)">
<rect x="-13.2" y="-11.2" width="26.3" height="22.5" fill="#f2f3f4" rx="1" stroke="#bfc1c3" stroke-width=".6"/>
<rect x="-11.2" y="-7.8" width="22.3" height="17.2" fill="#e3e6e8" rx="1.5"/>
<circle cx="0" cy="-9.2" r="0.9" fill="#8d8f91"/>
<circle cx="0" cy="1" r="0.8" fill="#9a9c9e"/>
</g>
<g transform="translate(193.9 930.5) rotate(180)">
<path d="M-4.2 -3.5l-1.3 2.2h2.6z" fill="#3a3a3a"/>
<path d="M0 -3.5l-1.3 2.2h2.6z" fill="#3a3a3a"/>
<path d="M4.2 -3.5l-1.3 2.2h2.6z" fill="#3a3a3a"/>
<rect x="-0.6" y="-1.2" width="1.2" height="3.7" fill="#3a3a3a"/>
<circle cx="0" cy="3.3" r="1.4" fill="#2a2a2a"/>
</g>
<g transform="translate(193.9 949.8)">
<path d="M-4.2 -3.5l-1.3 2.2h2.6z" fill="#3a3a3a"/>
<path d="M0 -3.5l-1.3 2.2h2.6z" fill="#3a3a3a"/>
<path d="M4.2 -3.5l-1.3 2.2h2.6z" fill="#3a3a3a"/>
<rect x="-0.6" y="-1.2" width="1.2" height="3.7" fill="#3a3a3a"/>
<circle cx="0" cy="3.3" r="1.4" fill="#2a2a2a"/>
</g>
<g transform="translate(196.2 1100.4) rotate(90)">
<rect x="-80.2" y="-16.6" width="161.8" height="35.6" fill="#000" opacity="0.5" filter="url(#bl2)" rx="2"/>
<rect x="-80.2" y="-16.6" width="160.3" height="33.1" fill="#3f3a35"/>
<rect x="-79" y="-15.4" width="51.2" height="30.7" fill="#a08f7c"/>
<rect x="-79" y="-15.4" width="51.2" height="8.7" fill="#ab9a86"/>
<line x1="-79" y1="-2.6" x2="-27.7" y2="-2.6" stroke="#6f6a64" stroke-width="1.1"/>
<rect x="-79" y="-4.4" width="1.4" height="3.6" fill="#d9d9d9"/>
<rect x="-29.1" y="-4.4" width="1.4" height="3.6" fill="#d9d9d9"/>
<path d="M-76 -13.4L-75.5 13.6M-68.3 -13.4L-71.5 13.6M-67.9 -13.4L-64.6 13.6M-61.2 -13.4L-64.2 13.6M-60.5 -13.4L-60.8 13.6M-52.9 -13.4L-56.1 13.6M-52.3 -13.4L-48.5 13.6M-45.2 -13.4L-47.6 13.6M-42.7 -13.4L-39 13.6M-37.6 -13.4L-37.9 13.6M-34.1 -13.4L-31.5 13.6" fill="none" stroke="#f3f1ee" stroke-width="1" stroke-linecap="round"/>
<rect x="-25.7" y="-15.4" width="51.4" height="30.7" fill="#a08f7c"/>
<rect x="-25.7" y="-15.4" width="51.4" height="8.7" fill="#ab9a86"/>
<g transform="rotate(-5 -17.1 0)">
<rect x="-22.3" y="-9.9" width="10.3" height="19.9" fill="#eef0f2" rx="1"/>
<rect x="-22.3" y="4" width="10.3" height="6" fill="#fff" rx="1"/>
<path d="M-20.2 -6q3.4 8.3 6.2 -0.7" fill="none" stroke="#bcc4cc" stroke-width=".8"/>
</g>
<g transform="rotate(3 0 0)">
<rect x="-5.1" y="-9.9" width="10.3" height="19.9" fill="#eef0f2" rx="1"/>
<rect x="-5.1" y="4" width="10.3" height="6" fill="#fff" rx="1"/>
<path d="M-3.1 -6q3.4 8.3 6.2 -0.7" fill="none" stroke="#bcc4cc" stroke-width=".8"/>
</g>
<g transform="rotate(-3 17.1 0)">
<rect x="12" y="-9.9" width="10.3" height="19.9" fill="#eef0f2" rx="1"/>
<rect x="12" y="4" width="10.3" height="6" fill="#fff" rx="1"/>
<path d="M14.1 -6q3.4 8.3 6.2 -0.7" fill="none" stroke="#bcc4cc" stroke-width=".8"/>
</g>
<rect x="27.7" y="-15.4" width="51.2" height="30.7" fill="#a08f7c"/>
<rect x="27.7" y="-15.4" width="51.2" height="8.7" fill="#ab9a86"/>
<line x1="27.7" y1="-2.6" x2="79" y2="-2.6" stroke="#6f6a64" stroke-width="1.1"/>
<rect x="27.7" y="-4.4" width="1.4" height="3.6" fill="#d9d9d9"/>
<rect x="77.5" y="-4.4" width="1.4" height="3.6" fill="#d9d9d9"/>
<path d="M30.7 -13.4L33 13.6M38.1 -13.4L35.9 13.6M40.4 -13.4L42.8 13.6M49 -13.4L45.6 13.6M49.4 -13.4L49.5 13.6M55.8 -13.4L53.4 13.6M57 -13.4L60.1 13.6M64.7 -13.4L62.3 13.6M67 -13.4L70.5 13.6M74.3 -13.4L70.9 13.6" fill="none" stroke="#f3f1ee" stroke-width="1" stroke-linecap="round"/>
</g>
<rect x="225.2" y="1024" width="132.7" height="151.5" fill="#c8c2bb"/>
<rect x="225.2" y="1024" width="132.7" height="151.5" fill="#fff" filter="url(#nz)" opacity=".28"/>
<rect x="225.2" y="1024" width="132.7" height="151.5" fill="#000" filter="url(#nzd)" opacity=".10"/>
<g transform="translate(315.4 1110.4) rotate(-90)">
<rect x="-50" y="-59.9" width="102.1" height="115.7" fill="#000" opacity="0.55" filter="url(#bl5)" rx="2"/>
<rect x="-43" y="10.8" width="86.1" height="43.1" fill="#f1f0ee" rx="1.5"/>
<rect x="-44" y="13.5" width="88.1" height="3.8" fill="#fbfbfa" rx="1"/>
<rect x="-44" y="17.2" width="88.1" height="1.6" fill="#cfcdc9"/>
<rect x="-43.5" y="-52.9" width="87.1" height="66.9" fill="#8a867c" rx="1.5"/>
<rect x="-45" y="-53.9" width="90.1" height="16.2" fill="#908c80" rx="2"/>
<rect x="-44.5" y="-37.7" width="89.1" height="31.2" fill="#86837a"/>
<rect x="-43.5" y="-6.5" width="87.1" height="20.5" fill="#968d7e"/>
<line x1="-36.3" y1="-5.4" x2="-36.3" y2="13.5" stroke="#8a8172" stroke-width="0.5"/>
<line x1="-29" y1="-5.4" x2="-29" y2="13.5" stroke="#8a8172" stroke-width="0.5"/>
<line x1="-21.8" y1="-5.4" x2="-21.8" y2="13.5" stroke="#8a8172" stroke-width="0.5"/>
<line x1="-14.5" y1="-5.4" x2="-14.5" y2="13.5" stroke="#8a8172" stroke-width="0.5"/>
<line x1="-7.3" y1="-5.4" x2="-7.3" y2="13.5" stroke="#8a8172" stroke-width="0.5"/>
<line x1="-0" y1="-5.4" x2="-0" y2="13.5" stroke="#8a8172" stroke-width="0.5"/>
<line x1="7.3" y1="-5.4" x2="7.3" y2="13.5" stroke="#8a8172" stroke-width="0.5"/>
<line x1="14.5" y1="-5.4" x2="14.5" y2="13.5" stroke="#8a8172" stroke-width="0.5"/>
<line x1="21.8" y1="-5.4" x2="21.8" y2="13.5" stroke="#8a8172" stroke-width="0.5"/>
<line x1="29" y1="-5.4" x2="29" y2="13.5" stroke="#8a8172" stroke-width="0.5"/>
<line x1="36.3" y1="-5.4" x2="36.3" y2="13.5" stroke="#8a8172" stroke-width="0.5"/>
<rect x="-44.5" y="-38.2" width="89.1" height="1.6" fill="#75726a" opacity=".6"/>
<rect x="-44.5" y="-7" width="89.1" height="1.6" fill="#75726a" opacity=".5"/>
<rect x="-41.5" y="35.5" width="41" height="17.8" fill="url(#gWhite)" rx="2"/>
<rect x="0.5" y="35.5" width="41" height="17.8" fill="url(#gWhite)" rx="2"/>
<line x1="0" y1="32.3" x2="0" y2="52.9" stroke="#b9b7b3" stroke-width="0.7"/>
<rect x="-38.6" y="22.6" width="18.7" height="16.2" rx="1.5" fill="#8b877a" transform="rotate(-6 -29.3 30.2)"/>
<rect x="-19.1" y="22.6" width="18.7" height="16.2" rx="1.5" fill="#878376" transform="rotate(5 -9.8 30.2)"/>
<rect x="0.4" y="22.6" width="18.7" height="16.2" rx="1.5" fill="#8d897c" transform="rotate(-4 9.8 30.2)"/>
<rect x="19.9" y="22.6" width="18.7" height="16.2" rx="1.5" fill="#85816f" transform="rotate(7 29.3 30.2)"/>
</g>
<rect x="346.6" y="1039" width="22.6" height="25" fill="#6a625a"/>
<rect x="347.8" y="1040.2" width="20.2" height="22.6" fill="#7b7268"/>
<circle cx="357.9" cy="1051.5" r="10.6" fill="url(#gLamp)"/>
<rect x="353.8" y="1047.4" width="8.1" height="8.1" fill="#fbf8f2"/>
<circle cx="357.9" cy="1051.5" r="0.9" fill="#9a9185"/>
<rect x="346.6" y="1156.7" width="22.6" height="25" fill="#6a625a"/>
<rect x="347.8" y="1157.9" width="20.2" height="22.6" fill="#7b7268"/>
<circle cx="357.9" cy="1169.2" r="10.6" fill="url(#gLamp)"/>
<rect x="353.8" y="1165.1" width="8.1" height="8.1" fill="#fbf8f2"/>
<circle cx="357.9" cy="1169.2" r="0.9" fill="#9a9185"/>
<rect x="387.4" y="767.8" width="27" height="15" fill="#000" opacity="0.35" filter="url(#bl2)" rx="2"/>
<g transform="translate(399.9 775.3)">
<rect x="-12.5" y="-8.5" width="25" height="17" fill="#d2c6b4" rx="3.5"/>
<rect x="-10.9" y="-5.5" width="21.8" height="14" fill="#f0e9dc" rx="3"/>
</g>
<rect x="387.4" y="834.1" width="27" height="17" fill="#000" opacity="0.35" filter="url(#bl2)" rx="2"/>
<g transform="translate(399.9 841.6) rotate(180)">
<rect x="-12.5" y="-8.5" width="25" height="17" fill="#d2c6b4" rx="3.5"/>
<rect x="-10.9" y="-5.5" width="21.8" height="14" fill="#f0e9dc" rx="3"/>
</g>
<rect x="420.5" y="767.8" width="27" height="15" fill="#000" opacity="0.35" filter="url(#bl2)" rx="2"/>
<g transform="translate(433 775.3)">
<rect x="-12.5" y="-8.5" width="25" height="17" fill="#d2c6b4" rx="3.5"/>
<rect x="-10.9" y="-5.5" width="21.8" height="14" fill="#f0e9dc" rx="3"/>
</g>
<rect x="420.5" y="834.1" width="27" height="17" fill="#000" opacity="0.35" filter="url(#bl2)" rx="2"/>
<g transform="translate(433 841.6) rotate(180)">
<rect x="-12.5" y="-8.5" width="25" height="17" fill="#d2c6b4" rx="3.5"/>
<rect x="-10.9" y="-5.5" width="21.8" height="14" fill="#f0e9dc" rx="3"/>
</g>
<rect x="380.4" y="782.8" width="75.1" height="55.3" fill="#000" opacity="0.5" filter="url(#bl)" rx="2"/>
<rect x="380.4" y="782.8" width="72.1" height="51.3" fill="#5f564f"/>
<rect x="381.6" y="784" width="69.7" height="48.9" fill="#70665e"/>
<path d="M382.7 784.3V832.6M384.9 784.3V832.6M387.2 784.3V832.6M389.4 784.3V832.6M391.7 784.3V832.6M393.9 784.3V832.6M396.2 784.3V832.6M398.4 784.3V832.6M400.7 784.3V832.6M402.9 784.3V832.6M405.2 784.3V832.6M407.4 784.3V832.6M409.7 784.3V832.6M411.9 784.3V832.6M414.2 784.3V832.6M416.4 784.3V832.6M418.7 784.3V832.6M421 784.3V832.6M423.2 784.3V832.6M425.5 784.3V832.6M427.7 784.3V832.6M430 784.3V832.6M432.2 784.3V832.6M434.5 784.3V832.6M436.7 784.3V832.6M439 784.3V832.6M441.2 784.3V832.6M443.5 784.3V832.6M445.7 784.3V832.6M448 784.3V832.6M450.2 784.3V832.6" fill="none" stroke="#665c55" stroke-width=".5" opacity=".7"/>
<circle cx="416.5" cy="808.5" r="9.2" fill="#000" opacity=".25" filter="url(#bl2)"/>
<ellipse cx="414.8" cy="803.2" rx="3.6" ry="1.6" fill="#4b6a2f" transform="rotate(251 414.8 803.2)"/>
<ellipse cx="422.1" cy="807.8" rx="3.6" ry="1.6" fill="#5b7a3a" transform="rotate(353 422.1 807.8)"/>
<ellipse cx="419.2" cy="813.4" rx="3.6" ry="1.6" fill="#5b7a3a" transform="rotate(61 419.2 813.4)"/>
<ellipse cx="421.9" cy="810" rx="3.6" ry="1.6" fill="#6f8f46" transform="rotate(15 421.9 810)"/>
<ellipse cx="421.7" cy="810.6" rx="3.6" ry="1.6" fill="#5b7a3a" transform="rotate(21 421.7 810.6)"/>
<ellipse cx="411.6" cy="805.7" rx="3.6" ry="1.6" fill="#4b6a2f" transform="rotate(209 411.6 805.7)"/>
<ellipse cx="414.7" cy="813.8" rx="3.6" ry="1.6" fill="#6f8f46" transform="rotate(109 414.7 813.8)"/>
<ellipse cx="414.2" cy="803.4" rx="3.6" ry="1.6" fill="#6f8f46" transform="rotate(245 414.2 803.4)"/>
<ellipse cx="419.4" cy="803.7" rx="3.6" ry="1.6" fill="#4b6a2f" transform="rotate(300 419.4 803.7)"/>
<ellipse cx="413.8" cy="813.4" rx="3.6" ry="1.6" fill="#5b7a3a" transform="rotate(119 413.8 813.4)"/>
<circle cx="416.6" cy="808.8" r="1.9" fill="#fff"/>
<circle cx="416.6" cy="809" r="1.9" fill="#e8edd8"/>
<circle cx="412.9" cy="809.6" r="1.9" fill="#fff"/>
<circle cx="416.7" cy="809.8" r="1.9" fill="#fff"/>
<circle cx="416.7" cy="808.4" r="1.9" fill="#e8edd8"/>
<circle cx="415.5" cy="807" r="1.9" fill="#e8edd8"/>
<circle cx="416.8" cy="807.9" r="1.9" fill="#f4f1e4"/>
<rect x="525.6" y="740.5" width="10.7" height="94.9" fill="#000" opacity=".35" filter="url(#bl2)"/>
<rect x="525.6" y="740.5" width="10.7" height="94.9" fill="#7a6f65"/>
<rect x="525.6" y="740.5" width="4.8" height="94.9" fill="#857a70"/>
<circle cx="530.7" cy="812.8" r="4.4" fill="#d9d6c8"/>
<circle cx="530.7" cy="812.8" r="3.1" fill="#2e3a27"/>
<circle cx="529.9" cy="812.2" r="1.5" fill="#44563a"/>
<circle cx="530.7" cy="825.3" r="3.9" fill="#d9d6c8"/>
<circle cx="530.7" cy="825.3" r="2.6" fill="#2e3a27"/>
<circle cx="529.9" cy="824.7" r="1.3" fill="#44563a"/>
<rect x="378.4" y="931.4" width="24.6" height="86.3" fill="#000" opacity=".35" filter="url(#bl2)"/>
<rect x="378.4" y="931.4" width="24.6" height="86.3" fill="#7a6f65"/>
<rect x="378.4" y="931.4" width="11.1" height="86.3" fill="#857a70"/>
<rect x="381.5" y="948" width="1.8" height="55" fill="#a9a6a2"/>
<rect x="380.6" y="969" width="1.6" height="8" fill="#1c1c1c"/>
<rect x="391" y="1004" width="9" height="9" fill="#2d2d25"/>
<rect x="392" y="1005" width="3.5" height="3.5" fill="#d9cf9a"/>
<rect x="396" y="1009" width="3" height="3" fill="#d9cf9a"/>
<rect x="411.7" y="896.3" width="113.9" height="115.2" fill="#8f8f8b"/>
<rect x="411.7" y="896.3" width="113.9" height="115.2" fill="#fff" filter="url(#nz)" opacity=".16"/>
<rect x="411.7" y="896.3" width="113.9" height="115.2" fill="#000" filter="url(#nzd)" opacity=".16"/>
<rect x="440" y="933.9" width="28" height="29.3" fill="#000" opacity="0.5" filter="url(#bl2)" rx="2"/>
<rect x="440" y="933.9" width="26" height="26.3" fill="#e9e8e6" rx="1.5"/>
<rect x="441" y="934.9" width="24" height="13.5" fill="#f3f2f1" rx="1.5"/>
<rect x="440" y="963.9" width="28" height="29.3" fill="#000" opacity="0.5" filter="url(#bl2)" rx="2"/>
<rect x="440" y="963.9" width="26" height="26.3" fill="#e9e8e6" rx="1.5"/>
<rect x="441" y="964.9" width="24" height="13.5" fill="#f3f2f1" rx="1.5"/>
<g transform="translate(507.2 962) rotate(-90)">
<rect x="-53" y="-23.9" width="107.9" height="50.8" fill="#000" opacity="0.5" filter="url(#bl)" rx="2"/>
<rect x="-52" y="-22.9" width="103.9" height="45.8" fill="#e4dfd8" rx="3"/>
<rect x="-52" y="-21.9" width="14" height="44.8" fill="#f0ece6" rx="3"/>
<rect x="37.9" y="-21.9" width="14" height="44.8" fill="#f0ece6" rx="3"/>
<rect x="-37.9" y="13.7" width="75.8" height="9.2" fill="#efebe5" rx="2"/>
<rect x="-37.4" y="-22.4" width="36.9" height="36.1" fill="#f5f2ed" rx="2.5"/>
<rect x="0.5" y="-22.4" width="36.9" height="36.1" fill="#f5f2ed" rx="2.5"/>
<rect x="-52" y="-22.9" width="103.9" height="45.8" fill="#fff" rx="3" filter="url(#nz)" opacity=".35"/>
<g transform="translate(-28.1 5.5) rotate(-28)">
<rect x="-6.5" y="-4.8" width="13" height="9.6" fill="#e9d9a6" rx="1.5"/>
<line x1="-4.8" y1="-4.6" x2="-4.8" y2="4.6" stroke="#f7f0d9" stroke-width="0.8"/>
<line x1="-2.4" y1="-4.6" x2="-2.4" y2="4.6" stroke="#f7f0d9" stroke-width="0.8"/>
<line x1="0" y1="-4.6" x2="0" y2="4.6" stroke="#f7f0d9" stroke-width="0.8"/>
<line x1="2.4" y1="-4.6" x2="2.4" y2="4.6" stroke="#f7f0d9" stroke-width="0.8"/>
<line x1="4.8" y1="-4.6" x2="4.8" y2="4.6" stroke="#f7f0d9" stroke-width="0.8"/>
</g>
<g transform="translate(-14.5 9.2) rotate(20)">
<rect x="-6" y="-4.6" width="12" height="9.2" fill="#bdb3a2" rx="1.5"/>
</g>
<g transform="translate(28.1 5.5) rotate(28)">
<rect x="-6.5" y="-4.8" width="13" height="9.6" fill="#e9d9a6" rx="1.5"/>
<line x1="-4.8" y1="-4.6" x2="-4.8" y2="4.6" stroke="#f7f0d9" stroke-width="0.8"/>
<line x1="-2.4" y1="-4.6" x2="-2.4" y2="4.6" stroke="#f7f0d9" stroke-width="0.8"/>
<line x1="0" y1="-4.6" x2="0" y2="4.6" stroke="#f7f0d9" stroke-width="0.8"/>
<line x1="2.4" y1="-4.6" x2="2.4" y2="4.6" stroke="#f7f0d9" stroke-width="0.8"/>
<line x1="4.8" y1="-4.6" x2="4.8" y2="4.6" stroke="#f7f0d9" stroke-width="0.8"/>
</g>
<g transform="translate(14.5 9.2) rotate(-20)">
<rect x="-6" y="-4.6" width="12" height="9.2" fill="#bdb3a2" rx="1.5"/>
</g>
</g>
<g transform="translate(462.3 890)">
<rect x="-21" y="-20" width="44" height="43" fill="#000" opacity="0.45" filter="url(#bl)" rx="2"/>
<path d="M-21 20 Q-21.8 -20 0 -20 Q21.8 -20 21 20 Q16 12.8 0 13.6 Q-16 12.8 -21 20 Z" fill="#ece8e1"/>
<path d="M-13.9 11.2 Q-15.1 -12.8 0 -13.6 Q15.1 -12.8 13.9 11.2 Q0 8 -13.9 11.2 Z" fill="#f8f6f2"/>
</g>
<rect x="493.6" y="871.8" width="31" height="32" fill="#000" opacity="0.45" filter="url(#bl)" rx="14.5"/>
<circle cx="508.1" cy="886.3" r="14.5" fill="#d6cdc6"/>
<circle cx="508.1" cy="886.3" r="12.9" fill="#e1d9d3"/>
<circle cx="508.4" cy="887.8" r="1.5" fill="#c8746a"/>
<circle cx="504.7" cy="884.2" r="1.5" fill="#9c3a3a"/>
<circle cx="509.7" cy="886.5" r="1.5" fill="#c8746a"/>
<circle cx="508.6" cy="888.4" r="1.5" fill="#7f2f33"/>
<circle cx="504.8" cy="888.5" r="1.5" fill="#c8746a"/>
<circle cx="507.1" cy="889.6" r="1.5" fill="#b34b45"/>
<circle cx="506.7" cy="888.3" r="1.5" fill="#b34b45"/>
<circle cx="510.7" cy="882.8" r="1.5" fill="#b34b45"/>
<circle cx="504.2" cy="887.7" r="1.5" fill="#b34b45"/>
<rect x="378.4" y="1026.5" width="44.6" height="62.5" fill="#4a4845"/>
<rect x="380.9" y="1029" width="39.6" height="57.5" fill="#b7ad98"/>
<rect x="380.9" y="1029" width="9.2" height="5.2" fill="#bdb39d" stroke="#8f866f" stroke-width=".35"/>
<rect x="390.1" y="1029" width="8.7" height="5.2" fill="#bdb39d" stroke="#8f866f" stroke-width=".35"/>
<rect x="398.7" y="1029" width="10.4" height="5.2" fill="#bdb39d" stroke="#8f866f" stroke-width=".35"/>
<rect x="409.1" y="1029" width="8.3" height="5.2" fill="#c2b8a2" stroke="#8f866f" stroke-width=".35"/>
<rect x="417.4" y="1029" width="3.1" height="5.2" fill="#aba18b" stroke="#8f866f" stroke-width=".35"/>
<rect x="380.9" y="1034.2" width="4.3" height="5.2" fill="#b3a992" stroke="#8f866f" stroke-width=".35"/>
<rect x="385.2" y="1034.2" width="9" height="5.2" fill="#aba18b" stroke="#8f866f" stroke-width=".35"/>
<rect x="394.2" y="1034.2" width="10.7" height="5.2" fill="#bdb39d" stroke="#8f866f" stroke-width=".35"/>
<rect x="404.9" y="1034.2" width="10.4" height="5.2" fill="#b3a992" stroke="#8f866f" stroke-width=".35"/>
<rect x="415.2" y="1034.2" width="5.3" height="5.2" fill="#b3a992" stroke="#8f866f" stroke-width=".35"/>
<rect x="380.9" y="1039.4" width="12.3" height="5.2" fill="#bdb39d" stroke="#8f866f" stroke-width=".35"/>
<rect x="393.2" y="1039.4" width="9.9" height="5.2" fill="#c2b8a2" stroke="#8f866f" stroke-width=".35"/>
<rect x="403.2" y="1039.4" width="11.4" height="5.2" fill="#c2b8a2" stroke="#8f866f" stroke-width=".35"/>
<rect x="414.5" y="1039.4" width="6" height="5.2" fill="#bdb39d" stroke="#8f866f" stroke-width=".35"/>
<rect x="380.9" y="1044.6" width="3.2" height="5.2" fill="#c2b8a2" stroke="#8f866f" stroke-width=".35"/>
<rect x="384.1" y="1044.6" width="12.1" height="5.2" fill="#cbc2ad" stroke="#8f866f" stroke-width=".35"/>
<rect x="396.2" y="1044.6" width="10.4" height="5.2" fill="#aba18b" stroke="#8f866f" stroke-width=".35"/>
<rect x="406.6" y="1044.6" width="11.6" height="5.2" fill="#aba18b" stroke="#8f866f" stroke-width=".35"/>
<rect x="418.2" y="1044.6" width="2.3" height="5.2" fill="#bdb39d" stroke="#8f866f" stroke-width=".35"/>
<rect x="380.9" y="1049.8" width="10.2" height="5.2" fill="#b3a992" stroke="#8f866f" stroke-width=".35"/>
<rect x="391.1" y="1049.8" width="12.4" height="5.2" fill="#c2b8a2" stroke="#8f866f" stroke-width=".35"/>
<rect x="403.5" y="1049.8" width="8.2" height="5.2" fill="#aba18b" stroke="#8f866f" stroke-width=".35"/>
<rect x="411.7" y="1049.8" width="8.8" height="5.2" fill="#aba18b" stroke="#8f866f" stroke-width=".35"/>
<rect x="380.9" y="1055" width="6.9" height="5.2" fill="#cbc2ad" stroke="#8f866f" stroke-width=".35"/>
<rect x="387.8" y="1055" width="10.1" height="5.2" fill="#aba18b" stroke="#8f866f" stroke-width=".35"/>
<rect x="397.9" y="1055" width="10.9" height="5.2" fill="#bdb39d" stroke="#8f866f" stroke-width=".35"/>
<rect x="408.8" y="1055" width="10.9" height="5.2" fill="#bdb39d" stroke="#8f866f" stroke-width=".35"/>
<rect x="419.7" y="1055" width="0.8" height="5.2" fill="#cbc2ad" stroke="#8f866f" stroke-width=".35"/>
<rect x="380.9" y="1060.2" width="11.4" height="5.2" fill="#c2b8a2" stroke="#8f866f" stroke-width=".35"/>
<rect x="392.3" y="1060.2" width="12.3" height="5.2" fill="#bdb39d" stroke="#8f866f" stroke-width=".35"/>
<rect x="404.6" y="1060.2" width="11.4" height="5.2" fill="#b3a992" stroke="#8f866f" stroke-width=".35"/>
<rect x="415.9" y="1060.2" width="4.6" height="5.2" fill="#cbc2ad" stroke="#8f866f" stroke-width=".35"/>
<rect x="380.9" y="1065.4" width="7.8" height="5.2" fill="#bdb39d" stroke="#8f866f" stroke-width=".35"/>
<rect x="388.7" y="1065.4" width="10.8" height="5.2" fill="#b3a992" stroke="#8f866f" stroke-width=".35"/>
<rect x="399.6" y="1065.4" width="11.2" height="5.2" fill="#bdb39d" stroke="#8f866f" stroke-width=".35"/>
<rect x="410.7" y="1065.4" width="9.3" height="5.2" fill="#c2b8a2" stroke="#8f866f" stroke-width=".35"/>
<rect x="420.1" y="1065.4" width="0.4" height="5.2" fill="#aba18b" stroke="#8f866f" stroke-width=".35"/>
<rect x="380.9" y="1070.6" width="8.4" height="5.2" fill="#c2b8a2" stroke="#8f866f" stroke-width=".35"/>
<rect x="389.3" y="1070.6" width="10.1" height="5.2" fill="#b3a992" stroke="#8f866f" stroke-width=".35"/>
<rect x="399.4" y="1070.6" width="8.1" height="5.2" fill="#aba18b" stroke="#8f866f" stroke-width=".35"/>
<rect x="407.5" y="1070.6" width="11.8" height="5.2" fill="#c2b8a2" stroke="#8f866f" stroke-width=".35"/>
<rect x="419.3" y="1070.6" width="1.2" height="5.2" fill="#bdb39d" stroke="#8f866f" stroke-width=".35"/>
<rect x="380.9" y="1075.8" width="6.8" height="5.2" fill="#aba18b" stroke="#8f866f" stroke-width=".35"/>
<rect x="387.7" y="1075.8" width="11.6" height="5.2" fill="#cbc2ad" stroke="#8f866f" stroke-width=".35"/>
<rect x="399.3" y="1075.8" width="10.8" height="5.2" fill="#cbc2ad" stroke="#8f866f" stroke-width=".35"/>
<rect x="410.1" y="1075.8" width="10.4" height="5.2" fill="#c2b8a2" stroke="#8f866f" stroke-width=".35"/>
<rect x="380.9" y="1081" width="9.5" height="5.2" fill="#c2b8a2" stroke="#8f866f" stroke-width=".35"/>
<rect x="390.4" y="1081" width="8.5" height="5.2" fill="#bdb39d" stroke="#8f866f" stroke-width=".35"/>
<rect x="399" y="1081" width="8.2" height="5.2" fill="#b3a992" stroke="#8f866f" stroke-width=".35"/>
<rect x="407.1" y="1081" width="12.9" height="5.2" fill="#cbc2ad" stroke="#8f866f" stroke-width=".35"/>
<rect x="420" y="1081" width="0.5" height="5.2" fill="#b3a992" stroke="#8f866f" stroke-width=".35"/>
<line x1="386.8" y1="1043.4" x2="432" y2="1043.4" stroke="#8a6a45" stroke-width="1"/>
<rect x="426" y="1042.4" width="6" height="2" fill="#a0643f"/>
<ellipse cx="389.6" cy="1043.4" rx="2.4" ry="2.3" fill="#4d1d1b"/>
<ellipse cx="393.9" cy="1043.4" rx="2.4" ry="2.3" fill="#5a2320"/>
<ellipse cx="398.2" cy="1043.4" rx="2.4" ry="2.3" fill="#6b2b26"/>
<ellipse cx="402.5" cy="1043.4" rx="2.4" ry="2.3" fill="#6b2b26"/>
<ellipse cx="406.8" cy="1043.4" rx="2.4" ry="2.3" fill="#6b2b26"/>
<line x1="386.8" y1="1057.8" x2="432" y2="1057.8" stroke="#8a6a45" stroke-width="1"/>
<rect x="426" y="1056.8" width="6" height="2" fill="#a0643f"/>
<ellipse cx="389.6" cy="1057.8" rx="2.4" ry="2.3" fill="#5a2320"/>
<ellipse cx="393.9" cy="1057.8" rx="2.4" ry="2.3" fill="#6b2b26"/>
<ellipse cx="398.2" cy="1057.8" rx="2.4" ry="2.3" fill="#6b2b26"/>
<ellipse cx="402.5" cy="1057.8" rx="2.4" ry="2.3" fill="#6b2b26"/>
<ellipse cx="406.8" cy="1057.8" rx="2.4" ry="2.3" fill="#4d1d1b"/>
<line x1="386.8" y1="1072.1" x2="432" y2="1072.1" stroke="#8a6a45" stroke-width="1"/>
<rect x="426" y="1071.1" width="6" height="2" fill="#a0643f"/>
<ellipse cx="389.6" cy="1072.1" rx="2.4" ry="2.3" fill="#6b2b26"/>
<ellipse cx="393.9" cy="1072.1" rx="2.4" ry="2.3" fill="#4d1d1b"/>
<ellipse cx="398.2" cy="1072.1" rx="2.4" ry="2.3" fill="#4d1d1b"/>
<ellipse cx="402.5" cy="1072.1" rx="2.4" ry="2.3" fill="#4d1d1b"/>
<ellipse cx="406.8" cy="1072.1" rx="2.4" ry="2.3" fill="#4d1d1b"/>
<rect x="423" y="1026.5" width="5.5" height="62.5" fill="#8d8d8b"/>
<rect x="171.1" y="103.7" width="207.4" height="7.2" fill="#dcdcdc"/>
<rect x="171.7" y="103.5" width="7.2" height="259.2" fill="#dcdcdc"/>
<rect x="371.7" y="103.5" width="7" height="43.9" fill="#dcdcdc"/>
<rect x="378.9" y="122.6" width="164.6" height="7" fill="#dcdcdc"/>
<rect x="536.1" y="122.8" width="7.2" height="527.1" fill="#dcdcdc"/>
<rect x="371.9" y="195.9" width="171.6" height="7.2" fill="#dcdcdc"/>
<rect x="371.7" y="191.6" width="7" height="112.8" fill="#dcdcdc"/>
<rect x="371.7" y="350.6" width="7" height="12.1" fill="#dcdcdc"/>
<rect x="171.1" y="275.7" width="153.3" height="7.2" fill="#dcdcdc"/>
<rect x="316.6" y="275.5" width="7" height="12.8" fill="#dcdcdc"/>
<rect x="316.6" y="329.3" width="7" height="33.4" fill="#dcdcdc"/>
<rect x="171.1" y="355.5" width="152.3" height="7.2" fill="#dcdcdc"/>
<rect x="371.9" y="355.5" width="171.6" height="7.2" fill="#dcdcdc"/>
<rect x="253.2" y="355.6" width="7" height="171.5" fill="#dcdcdc"/>
<rect x="171.1" y="519.9" width="176.6" height="7.2" fill="#dcdcdc"/>
<rect x="171.7" y="520" width="7.2" height="204.5" fill="#dcdcdc"/>
<rect x="464.4" y="554.2" width="7.2" height="186.1" fill="#dcdcdc"/>
<rect x="171.1" y="617.8" width="300.5" height="9.4" fill="#dcdcdc"/>
<rect x="257.2" y="578" width="6.8" height="39.3" fill="#dcdcdc"/>
<rect x="257.2" y="627.7" width="6.8" height="38.1" fill="#dcdcdc"/>
<rect x="471.8" y="642.8" width="6.2" height="7.1" fill="#dcdcdc"/>
<rect x="525.8" y="642.8" width="17.7" height="7.2" fill="#dcdcdc"/>
<rect x="171.1" y="717.4" width="207.1" height="7.2" fill="#dcdcdc"/>
<rect x="171.7" y="717.4" width="7.2" height="152.8" fill="#dcdcdc"/>
<rect x="370.8" y="717.4" width="7.2" height="152.8" fill="#dcdcdc"/>
<rect x="161.5" y="862.4" width="162.3" height="7.2" fill="#dcdcdc"/>
<rect x="161.5" y="861.8" width="7.2" height="155.7" fill="#dcdcdc"/>
<rect x="161.5" y="936.5" width="161.9" height="7.2" fill="#dcdcdc"/>
<rect x="316.1" y="861.8" width="7.2" height="13" fill="#dcdcdc"/>
<rect x="316.1" y="916.5" width="7.2" height="53.5" fill="#dcdcdc"/>
<rect x="316.1" y="1006.7" width="7.2" height="10.8" fill="#dcdcdc"/>
<rect x="161.5" y="1010.4" width="162.3" height="7.2" fill="#dcdcdc"/>
<rect x="171.7" y="1010.4" width="7.2" height="180.2" fill="#dcdcdc"/>
<rect x="171.1" y="1183.2" width="207.1" height="7.2" fill="#dcdcdc"/>
<rect x="370.8" y="932.8" width="7.2" height="257.8" fill="#dcdcdc"/>
<rect x="378.6" y="1018.8" width="164.9" height="7.2" fill="#dcdcdc"/>
<rect x="536.4" y="733" width="7.2" height="293.3" fill="#dcdcdc"/>
<rect x="471.8" y="733" width="6.2" height="7.3" fill="#dcdcdc"/>
<rect x="525.8" y="733.2" width="17.8" height="7.2" fill="#dcdcdc"/>
<rect x="172.1" y="104.7" width="205.4" height="5.2" fill="#5d5d5d"/>
<rect x="172.7" y="104.5" width="5.2" height="257.2" fill="#5d5d5d"/>
<rect x="372.7" y="104.5" width="5" height="41.9" fill="#5d5d5d"/>
<rect x="379.9" y="123.6" width="162.6" height="5" fill="#5d5d5d"/>
<rect x="537.1" y="123.8" width="5.2" height="525.1" fill="#5d5d5d"/>
<rect x="372.9" y="196.9" width="169.6" height="5.2" fill="#5d5d5d"/>
<rect x="372.7" y="192.6" width="5" height="110.8" fill="#5d5d5d"/>
<rect x="372.7" y="351.6" width="5" height="10.1" fill="#5d5d5d"/>
<rect x="172.1" y="276.7" width="151.3" height="5.2" fill="#5d5d5d"/>
<rect x="317.6" y="276.5" width="5" height="10.8" fill="#5d5d5d"/>
<rect x="317.6" y="330.3" width="5" height="31.4" fill="#5d5d5d"/>
<rect x="172.1" y="356.5" width="150.3" height="5.2" fill="#5d5d5d"/>
<rect x="372.9" y="356.5" width="169.6" height="5.2" fill="#5d5d5d"/>
<rect x="254.2" y="356.6" width="5" height="169.5" fill="#5d5d5d"/>
<rect x="172.1" y="520.9" width="174.6" height="5.2" fill="#5d5d5d"/>
<rect x="172.7" y="521" width="5.2" height="202.5" fill="#5d5d5d"/>
<rect x="465.4" y="555.2" width="5.2" height="184.1" fill="#5d5d5d"/>
<rect x="172.1" y="618.8" width="298.5" height="7.4" fill="#5d5d5d"/>
<rect x="258.2" y="579" width="4.8" height="37.3" fill="#5d5d5d"/>
<rect x="258.2" y="628.7" width="4.8" height="36.1" fill="#5d5d5d"/>
<rect x="472.8" y="643.8" width="4.2" height="5.1" fill="#5d5d5d"/>
<rect x="526.8" y="643.8" width="15.7" height="5.2" fill="#5d5d5d"/>
<rect x="172.1" y="718.4" width="205.1" height="5.2" fill="#5d5d5d"/>
<rect x="172.7" y="718.4" width="5.2" height="150.8" fill="#5d5d5d"/>
<rect x="371.8" y="718.4" width="5.2" height="150.8" fill="#5d5d5d"/>
<rect x="162.5" y="863.4" width="160.3" height="5.2" fill="#5d5d5d"/>
<rect x="162.5" y="862.8" width="5.2" height="153.7" fill="#5d5d5d"/>
<rect x="162.5" y="937.5" width="159.9" height="5.2" fill="#5d5d5d"/>
<rect x="317.1" y="862.8" width="5.2" height="11" fill="#5d5d5d"/>
<rect x="317.1" y="917.5" width="5.2" height="51.5" fill="#5d5d5d"/>
<rect x="317.1" y="1007.7" width="5.2" height="8.8" fill="#5d5d5d"/>
<rect x="162.5" y="1011.4" width="160.3" height="5.2" fill="#5d5d5d"/>
<rect x="172.7" y="1011.4" width="5.2" height="178.2" fill="#5d5d5d"/>
<rect x="172.1" y="1184.2" width="205.1" height="5.2" fill="#5d5d5d"/>
<rect x="371.8" y="933.8" width="5.2" height="255.8" fill="#5d5d5d"/>
<rect x="379.6" y="1019.8" width="162.9" height="5.2" fill="#5d5d5d"/>
<rect x="537.4" y="734" width="5.2" height="291.3" fill="#5d5d5d"/>
<rect x="472.8" y="734" width="4.2" height="5.3" fill="#5d5d5d"/>
<rect x="526.8" y="734.2" width="15.8" height="5.2" fill="#5d5d5d"/>
<rect x="170.9" y="152.6" width="8.7" height="80.1" fill="#b3b7bb" stroke="#e4e4e4" stroke-width=".8"/>
<line x1="175.2" y1="152.6" x2="175.2" y2="232.7" stroke="#8f9396" stroke-width="0.7"/>
<rect x="170.9" y="178.3" width="8.7" height="2" fill="#9a9ea1"/>
<rect x="170.9" y="205" width="8.7" height="2" fill="#9a9ea1"/>
<rect x="170.9" y="297.8" width="8.7" height="43.8" fill="#b3b7bb" stroke="#e4e4e4" stroke-width=".8"/>
<line x1="175.2" y1="297.8" x2="175.2" y2="341.6" stroke="#8f9396" stroke-width="0.7"/>
<rect x="170.9" y="311.4" width="8.7" height="2" fill="#9a9ea1"/>
<rect x="170.9" y="326" width="8.7" height="2" fill="#9a9ea1"/>
<rect x="535.7" y="138.8" width="8" height="46.4" fill="#b3b7bb" stroke="#e4e4e4" stroke-width=".8"/>
<line x1="539.7" y1="138.8" x2="539.7" y2="185.2" stroke="#8f9396" stroke-width="0.7"/>
<rect x="535.7" y="153.3" width="8" height="2" fill="#9a9ea1"/>
<rect x="535.7" y="168.7" width="8" height="2" fill="#9a9ea1"/>
<rect x="535.7" y="235.2" width="8" height="80.2" fill="#b3b7bb" stroke="#e4e4e4" stroke-width=".8"/>
<line x1="539.7" y1="235.2" x2="539.7" y2="315.4" stroke="#8f9396" stroke-width="0.7"/>
<rect x="535.7" y="260.9" width="8" height="2" fill="#9a9ea1"/>
<rect x="535.7" y="287.7" width="8" height="2" fill="#9a9ea1"/>
<rect x="535.7" y="422.6" width="8" height="82.6" fill="#b3b7bb" stroke="#e4e4e4" stroke-width=".8"/>
<line x1="539.7" y1="422.6" x2="539.7" y2="505.2" stroke="#8f9396" stroke-width="0.7"/>
<rect x="535.7" y="449.1" width="8" height="2" fill="#9a9ea1"/>
<rect x="535.7" y="476.7" width="8" height="2" fill="#9a9ea1"/>
<rect x="253.2" y="422.6" width="7" height="82.4" fill="#b3b7bb" stroke="#e4e4e4" stroke-width=".8"/>
<line x1="256.7" y1="422.6" x2="256.7" y2="505" stroke="#8f9396" stroke-width="0.7"/>
<rect x="253.2" y="449.1" width="7" height="2" fill="#9a9ea1"/>
<rect x="253.2" y="476.5" width="7" height="2" fill="#9a9ea1"/>
<rect x="170.9" y="533.5" width="8.7" height="72.5" fill="#b3b7bb" stroke="#e4e4e4" stroke-width=".8"/>
<line x1="175.2" y1="533.5" x2="175.2" y2="606" stroke="#8f9396" stroke-width="0.7"/>
<rect x="170.9" y="556.7" width="8.7" height="2" fill="#9a9ea1"/>
<rect x="170.9" y="580.8" width="8.7" height="2" fill="#9a9ea1"/>
<rect x="170.9" y="634" width="8.7" height="77" fill="#b3b7bb" stroke="#e4e4e4" stroke-width=".8"/>
<line x1="175.2" y1="634" x2="175.2" y2="711" stroke="#8f9396" stroke-width="0.7"/>
<rect x="170.9" y="658.7" width="8.7" height="2" fill="#9a9ea1"/>
<rect x="170.9" y="684.3" width="8.7" height="2" fill="#9a9ea1"/>
<rect x="170.9" y="754" width="8.7" height="72.6" fill="#b3b7bb" stroke="#e4e4e4" stroke-width=".8"/>
<line x1="175.2" y1="754" x2="175.2" y2="826.6" stroke="#8f9396" stroke-width="0.7"/>
<rect x="170.9" y="777.2" width="8.7" height="2" fill="#9a9ea1"/>
<rect x="170.9" y="801.4" width="8.7" height="2" fill="#9a9ea1"/>
<rect x="161.3" y="885" width="7.6" height="33.8" fill="#b3b7bb" stroke="#e4e4e4" stroke-width=".8"/>
<line x1="165.1" y1="885" x2="165.1" y2="918.8" stroke="#8f9396" stroke-width="0.7"/>
<rect x="161.3" y="895.3" width="7.6" height="2" fill="#9a9ea1"/>
<rect x="161.3" y="906.5" width="7.6" height="2" fill="#9a9ea1"/>
<rect x="161.3" y="958.9" width="7.6" height="33.8" fill="#b3b7bb" stroke="#e4e4e4" stroke-width=".8"/>
<line x1="165.1" y1="958.9" x2="165.1" y2="992.7" stroke="#8f9396" stroke-width="0.7"/>
<rect x="161.3" y="969.2" width="7.6" height="2" fill="#9a9ea1"/>
<rect x="161.3" y="980.4" width="7.6" height="2" fill="#9a9ea1"/>
<rect x="232.7" y="1182.8" width="83.9" height="8" fill="#b3b7bb" stroke="#e4e4e4" stroke-width=".8"/>
<line x1="232.7" y1="1186.8" x2="316.6" y2="1186.8" stroke="#8f9396" stroke-width="0.7"/>
<rect x="259.7" y="1182.8" width="2" height="8" fill="#9a9ea1"/>
<rect x="287.6" y="1182.8" width="2" height="8" fill="#9a9ea1"/>
<rect x="439.3" y="1018.2" width="58.8" height="8.3" fill="#b3b7bb" stroke="#e4e4e4" stroke-width=".8"/>
<line x1="439.3" y1="1022.4" x2="498.1" y2="1022.4" stroke="#8f9396" stroke-width="0.7"/>
<rect x="457.9" y="1018.2" width="2" height="8.3" fill="#9a9ea1"/>
<rect x="477.5" y="1018.2" width="2" height="8.3" fill="#9a9ea1"/>
<rect x="167.6" y="362.9" width="5" height="156.9" fill="#c9cbcd" stroke="#8f9193" stroke-width=".7"/>
<rect x="169.1" y="364.9" width="2" height="152.9" fill="#aeb2b5" stroke="#7d8184" stroke-width=".5"/>
<rect x="536.9" y="1026.5" width="6.8" height="80.7" fill="#c9cbcd" stroke="#8f9193" stroke-width=".7"/>
<rect x="538.9" y="1028.5" width="2.7" height="76.7" fill="#aeb2b5" stroke="#7d8184" stroke-width=".5"/>
<rect x="378.4" y="1097.4" width="165.3" height="9.8" fill="#c9cbcd" stroke="#8f9193" stroke-width=".7"/>
<rect x="380.4" y="1100.5" width="161.3" height="3.5" fill="#aeb2b5" stroke="#7d8184" stroke-width=".5"/>
<line x1="324.6" y1="279" x2="371.7" y2="279" stroke="#6b6b6b" stroke-width="0.8"/>
<line x1="378.7" y1="150" x2="378.7" y2="191" stroke="#6b6b6b" stroke-width="0.8"/>
<line x1="323.6" y1="290" x2="323.6" y2="329" stroke="#6b6b6b" stroke-width="0.8"/>
<line x1="375" y1="305" x2="375" y2="350" stroke="#6b6b6b" stroke-width="0.8"/>
<line x1="324" y1="866" x2="370.4" y2="866" stroke="#6b6b6b" stroke-width="0.8"/>
<line x1="319.7" y1="875" x2="319.7" y2="916" stroke="#6b6b6b" stroke-width="0.8"/>
<line x1="319.7" y1="970" x2="319.7" y2="1006" stroke="#6b6b6b" stroke-width="0.8"/>
<line x1="324" y1="1014" x2="370.4" y2="1014" stroke="#6b6b6b" stroke-width="0.8"/>
</g>
<use href="#west" transform="translate(1757 0) scale(-1 1)"/>
<circle cx="233.7" cy="502.2" r="15" fill="#000" opacity=".4" filter="url(#bl2)"/>
<circle cx="232.7" cy="500.2" r="12" fill="#2b4a20" opacity=".55"/>
<path d="M232.7 500.2L233.5 509.9M232.7 500.2L224.7 506.3M232.7 500.2L243.4 505M232.7 500.2L245.2 493.1M232.7 500.2L233.7 489.7M232.7 500.2L222.1 497.7M232.7 500.2L237.2 508.8M232.7 500.2L236.1 515.1M232.7 500.2L239.6 487.5M232.7 500.2L235.9 490.4M232.7 500.2L227.8 512.5M232.7 500.2L231 485.5M232.7 500.2L239.7 493.6M232.7 500.2L222 491.8M232.7 500.2L222.5 499.8M232.7 500.2L223.2 501.8M232.7 500.2L246.3 494.3M232.7 500.2L222.2 496.9M232.7 500.2L243.5 493.2M232.7 500.2L243.6 490.3M232.7 500.2L220.9 499.6M232.7 500.2L223 493.3M232.7 500.2L238.5 509.6M232.7 500.2L236.3 491.6M232.7 500.2L245.4 504M232.7 500.2L230.3 512.6M232.7 500.2L221.6 502.2M232.7 500.2L243 500M232.7 500.2L223.9 505.6M232.7 500.2L225.4 492.2M232.7 500.2L224 511.3M232.7 500.2L227.2 511.7M232.7 500.2L240.7 494.7M232.7 500.2L242.5 504.2M232.7 500.2L233.9 487.1M232.7 500.2L233.6 511.4M232.7 500.2L238 511.1M232.7 500.2L245.9 503.8M232.7 500.2L245 490.8M232.7 500.2L231.2 484.8" fill="none" stroke="#2f5a23" stroke-width="1.6" stroke-linecap="round"/>
<path d="M232.7 500.2L240.6 501.1M232.7 500.2L243.7 497.8M232.7 500.2L222.2 506.8M232.7 500.2L224.3 492.3M232.7 500.2L230.7 507.2M232.7 500.2L226.2 502.6M232.7 500.2L223.5 508.7M232.7 500.2L229.7 505.5M232.7 500.2L239.6 502.2M232.7 500.2L234.5 491.9M232.7 500.2L231 506.6M232.7 500.2L241.5 499.2M232.7 500.2L234.4 506.4M232.7 500.2L239.4 502.6M232.7 500.2L229.6 493.9M232.7 500.2L241.7 502.6M232.7 500.2L232.8 512.9M232.7 500.2L239.6 506.9" fill="none" stroke="#4b7f35" stroke-width="1.2" stroke-linecap="round"/>
<circle cx="232.7" cy="500.2" r="3.3" fill="#2b4a20"/>
<circle cx="1566.8" cy="505.1" r="12.5" fill="#000" opacity=".4" filter="url(#bl2)"/>
<circle cx="1565.8" cy="503.1" r="10" fill="#2b4a20" opacity=".55"/>
<path d="M1565.8 503.1L1559.3 509.1M1565.8 503.1L1572.2 514M1565.8 503.1L1555.8 497.7M1565.8 503.1L1556.7 499.9M1565.8 503.1L1564.6 492.4M1565.8 503.1L1568 492.1M1565.8 503.1L1571.1 494.7M1565.8 503.1L1570.5 510M1565.8 503.1L1564.4 494.8M1565.8 503.1L1559.6 494M1565.8 503.1L1576.9 507.5M1565.8 503.1L1577.9 505.6M1565.8 503.1L1570.5 495.8M1565.8 503.1L1564.1 491.6M1565.8 503.1L1573.8 511.1M1565.8 503.1L1574.8 512M1565.8 503.1L1560.9 491M1565.8 503.1L1574.6 506.2M1565.8 503.1L1557.8 495.6M1565.8 503.1L1571 514.5M1565.8 503.1L1571 495.5M1565.8 503.1L1572.6 512M1565.8 503.1L1556.4 509.3M1565.8 503.1L1556.1 503.5M1565.8 503.1L1574 504.2M1565.8 503.1L1554.6 506.1M1565.8 503.1L1555.4 508.4M1565.8 503.1L1553.7 500M1565.8 503.1L1560.6 495.4M1565.8 503.1L1570.9 509.1M1565.8 503.1L1577.8 506.1M1565.8 503.1L1574.1 494.8M1565.8 503.1L1574.5 510.2M1565.8 503.1L1574.5 512.1M1565.8 503.1L1559.2 493.4M1565.8 503.1L1558.2 496.9M1565.8 503.1L1573.3 492.6M1565.8 503.1L1566.3 513M1565.8 503.1L1564.6 491.8M1565.8 503.1L1557.3 508.4" fill="none" stroke="#2f5a23" stroke-width="1.6" stroke-linecap="round"/>
<path d="M1565.8 503.1L1572.2 501.8M1565.8 503.1L1567.9 511.7M1565.8 503.1L1564.1 513M1565.8 503.1L1561.1 512.2M1565.8 503.1L1558.5 509.9M1565.8 503.1L1565.9 494M1565.8 503.1L1567.1 508.9M1565.8 503.1L1571.7 504.3M1565.8 503.1L1563.1 498.5M1565.8 503.1L1566.5 511.3M1565.8 503.1L1569.6 508.8M1565.8 503.1L1567 511.8M1565.8 503.1L1573.6 510.3M1565.8 503.1L1558.5 497.9M1565.8 503.1L1558.4 500.6M1565.8 503.1L1575.7 501.3M1565.8 503.1L1568.1 498.5M1565.8 503.1L1557.1 497.6" fill="none" stroke="#4b7f35" stroke-width="1.2" stroke-linecap="round"/>
<circle cx="1565.8" cy="503.1" r="2.8" fill="#2b4a20"/>
<circle cx="409.3" cy="601.5" r="7.6" fill="#000" opacity=".35" filter="url(#bl2)"/>
<circle cx="409.5" cy="602.5" r="7" fill="#000" opacity=".4" filter="url(#bl2)"/>
<circle cx="408.5" cy="600.5" r="5.6" fill="#2b4a20" opacity=".55"/>
<path d="M408.5 600.5L409.6 607.7M408.5 600.5L413 605.1M408.5 600.5L412.8 603M408.5 600.5L413.4 600.5M408.5 600.5L405 596.1M408.5 600.5L403 602.2M408.5 600.5L410.9 606.9M408.5 600.5L412.7 603.1M408.5 600.5L413.5 601.1M408.5 600.5L402.6 604.4M408.5 600.5L405.2 603.6M408.5 600.5L408.1 607.8M408.5 600.5L414.2 602.9M408.5 600.5L404 604.9M408.5 600.5L405.1 605.9M408.5 600.5L402.3 600.6M408.5 600.5L413.4 597M408.5 600.5L411.3 603.9M408.5 600.5L413.9 598.6M408.5 600.5L411 607.2M408.5 600.5L402.8 597.4M408.5 600.5L412.2 597M408.5 600.5L404.2 606M408.5 600.5L412.9 605.5M408.5 600.5L413.7 604.2M408.5 600.5L406.4 593.6M408.5 600.5L411.7 595.7M408.5 600.5L410 604.9M408.5 600.5L402.8 599.5M408.5 600.5L414.8 603.6M408.5 600.5L402.1 600.2M408.5 600.5L409.4 605.4M408.5 600.5L413.8 600.9M408.5 600.5L407.9 606M408.5 600.5L403.6 605.3M408.5 600.5L412.2 597.5M408.5 600.5L404.7 603.4M408.5 600.5L404.7 594.3M408.5 600.5L410.5 606.8M408.5 600.5L407.2 604.5" fill="none" stroke="#2f5a23" stroke-width="1.6" stroke-linecap="round"/>
<path d="M408.5 600.5L408.8 596.6M408.5 600.5L410.5 604.2M408.5 600.5L409 604.6M408.5 600.5L404.6 601.9M408.5 600.5L405.3 598.5M408.5 600.5L411 602.2M408.5 600.5L412 603.3M408.5 600.5L405.1 604.6M408.5 600.5L403.5 600.3M408.5 600.5L411.5 600.1M408.5 600.5L411.7 600.8M408.5 600.5L405 603.5M408.5 600.5L408.3 596.6M408.5 600.5L411.2 599.9M408.5 600.5L410.3 597.5M408.5 600.5L410.6 598.4M408.5 600.5L413.6 599.4M408.5 600.5L413.1 600.2" fill="none" stroke="#4b7f35" stroke-width="1.2" stroke-linecap="round"/>
<circle cx="408.5" cy="600.5" r="1.5" fill="#2b4a20"/>
<circle cx="408.5" cy="600.5" r="5.4" fill="#2c4320" opacity=".75"/>
<circle cx="1365.3" cy="602.1" r="7.6" fill="#000" opacity=".35" filter="url(#bl2)"/>
<circle cx="1365.5" cy="603.1" r="7" fill="#000" opacity=".4" filter="url(#bl2)"/>
<circle cx="1364.5" cy="601.1" r="5.6" fill="#2b4a20" opacity=".55"/>
<path d="M1364.5 601.1L1365.6 608.3M1364.5 601.1L1369 605.7M1364.5 601.1L1368.8 603.6M1364.5 601.1L1369.4 601.1M1364.5 601.1L1361 596.7M1364.5 601.1L1359 602.8M1364.5 601.1L1366.9 607.5M1364.5 601.1L1368.7 603.7M1364.5 601.1L1369.5 601.7M1364.5 601.1L1358.6 605M1364.5 601.1L1361.2 604.2M1364.5 601.1L1364.1 608.4M1364.5 601.1L1370.2 603.5M1364.5 601.1L1360 605.5M1364.5 601.1L1361.1 606.5M1364.5 601.1L1358.3 601.2M1364.5 601.1L1369.4 597.6M1364.5 601.1L1367.3 604.5M1364.5 601.1L1369.9 599.2M1364.5 601.1L1367 607.8M1364.5 601.1L1358.8 598M1364.5 601.1L1368.2 597.6M1364.5 601.1L1360.2 606.6M1364.5 601.1L1368.9 606.1M1364.5 601.1L1369.7 604.8M1364.5 601.1L1362.4 594.2M1364.5 601.1L1367.7 596.3M1364.5 601.1L1366 605.5M1364.5 601.1L1358.8 600.1M1364.5 601.1L1370.8 604.2M1364.5 601.1L1358.1 600.8M1364.5 601.1L1365.4 606M1364.5 601.1L1369.8 601.5M1364.5 601.1L1363.9 606.6M1364.5 601.1L1359.6 605.9M1364.5 601.1L1368.2 598.1M1364.5 601.1L1360.7 604M1364.5 601.1L1360.7 594.9M1364.5 601.1L1366.5 607.4M1364.5 601.1L1363.2 605.1" fill="none" stroke="#2f5a23" stroke-width="1.6" stroke-linecap="round"/>
<path d="M1364.5 601.1L1364.8 597.2M1364.5 601.1L1366.5 604.8M1364.5 601.1L1365 605.2M1364.5 601.1L1360.6 602.5M1364.5 601.1L1361.3 599.1M1364.5 601.1L1367 602.8M1364.5 601.1L1368 603.9M1364.5 601.1L1361.1 605.2M1364.5 601.1L1359.5 600.9M1364.5 601.1L1367.5 600.7M1364.5 601.1L1367.7 601.4M1364.5 601.1L1361 604.1M1364.5 601.1L1364.3 597.2M1364.5 601.1L1367.2 600.5M1364.5 601.1L1366.3 598.1M1364.5 601.1L1366.6 599M1364.5 601.1L1369.6 600M1364.5 601.1L1369.1 600.8" fill="none" stroke="#4b7f35" stroke-width="1.2" stroke-linecap="round"/>
<circle cx="1364.5" cy="601.1" r="1.5" fill="#2b4a20"/>
<circle cx="1364.5" cy="601.1" r="5.4" fill="#2c4320" opacity=".75"/>
<circle cx="524" cy="1048" r="10" fill="#000" opacity=".4" filter="url(#bl2)"/>
<circle cx="523" cy="1046" r="8" fill="#2b4a20" opacity=".55"/>
<path d="M523 1046L514.2 1047.4M523 1046L519.7 1040.3M523 1046L530.7 1046.5M523 1046L521.5 1055.5M523 1046L519.8 1037.9M523 1046L514.6 1042.8M523 1046L527.9 1052.3M523 1046L528.3 1054.6M523 1046L532 1049.5M523 1046L531.1 1050.1M523 1046L518.9 1052.7M523 1046L526.3 1040.9M523 1046L532.4 1049.8M523 1046L516.6 1045.6M523 1046L533.2 1045.2M523 1046L529 1051.1M523 1046L527.9 1051.6M523 1046L518.1 1041.3M523 1046L521 1040.1M523 1046L527.6 1054.5M523 1046L516.6 1050.6M523 1046L516.3 1041.4M523 1046L518.4 1050.1M523 1046L521.5 1035.8M523 1046L531.9 1044.7M523 1046L518.3 1052M523 1046L519.7 1037.6M523 1046L528.3 1050.6M523 1046L517.6 1052.3M523 1046L526 1038.3M523 1046L532.6 1047.7M523 1046L515.5 1049.5M523 1046L524.4 1053.8M523 1046L515.8 1052.1M523 1046L529.8 1051.1M523 1046L527 1054.2M523 1046L530.1 1047.7M523 1046L518.1 1053.4M523 1046L530.6 1048.6M523 1046L524.9 1053" fill="none" stroke="#2f5a23" stroke-width="1.6" stroke-linecap="round"/>
<path d="M523 1046L514.8 1047.2M523 1046L514.8 1047M523 1046L527 1053.1M523 1046L519.8 1049.7M523 1046L522.9 1037.9M523 1046L528.2 1046.2M523 1046L523.7 1040.5M523 1046L523.2 1050M523 1046L529.6 1047.7M523 1046L531.4 1045.1M523 1046L518.9 1045.9M523 1046L519.7 1052.8M523 1046L526.4 1040M523 1046L523.8 1052.3M523 1046L516.2 1047M523 1046L522.3 1054.2M523 1046L526.7 1043.1M523 1046L521 1053.7" fill="none" stroke="#4b7f35" stroke-width="1.2" stroke-linecap="round"/>
<circle cx="523" cy="1046" r="2.2" fill="#2b4a20"/>
<circle cx="520" cy="1065" r="10" fill="#000" opacity=".4" filter="url(#bl2)"/>
<circle cx="519" cy="1063" r="8" fill="#2b4a20" opacity=".55"/>
<path d="M519 1063L518.5 1072.1M519 1063L515 1054M519 1063L521.8 1069.5M519 1063L523.2 1068.6M519 1063L518.3 1056.4M519 1063L512.2 1061.6M519 1063L516.8 1070.6M519 1063L523.6 1055.6M519 1063L526.2 1063.7M519 1063L525 1070.9M519 1063L522.5 1054M519 1063L523.3 1054.7M519 1063L528.1 1060M519 1063L518.6 1072.8M519 1063L509.6 1063.8M519 1063L511.7 1059.9M519 1063L513.8 1069M519 1063L516.5 1069M519 1063L523.1 1054.3M519 1063L528.1 1062.2M519 1063L510.2 1059.9M519 1063L525 1069.8M519 1063L512.6 1065.4M519 1063L521.4 1071M519 1063L518.8 1071.1M519 1063L512.9 1058.2M519 1063L524.6 1069M519 1063L519.6 1070M519 1063L521.6 1070.2M519 1063L527 1067M519 1063L526.4 1060.8M519 1063L517 1053M519 1063L525.4 1064.8M519 1063L522.4 1053.8M519 1063L514.7 1057.8M519 1063L510.5 1068.1M519 1063L526.3 1056.7M519 1063L521.9 1072.4M519 1063L512.5 1069.5M519 1063L525.8 1070.9" fill="none" stroke="#2f5a23" stroke-width="1.6" stroke-linecap="round"/>
<path d="M519 1063L515.7 1060.5M519 1063L519.9 1066.7M519 1063L515.7 1061.2M519 1063L516.3 1066.2M519 1063L517.4 1065.4M519 1063L521.1 1066.5M519 1063L521 1064.7M519 1063L522.6 1064.7M519 1063L515.6 1061.7M519 1063L522.2 1063.8M519 1063L517.7 1064.9M519 1063L524 1063.1M519 1063L521.1 1065M519 1063L518.5 1066.8M519 1063L522 1064.6M519 1063L516 1066.3M519 1063L522 1063.1M519 1063L514.1 1063.1" fill="none" stroke="#8a5f93" stroke-width="1.2" stroke-linecap="round"/>
<circle cx="519" cy="1063" r="2.2" fill="#2b4a20"/>
<g transform="translate(608.3 757.9)">
<rect x="-63.2" y="-15.9" width="127.9" height="34.3" fill="#000" opacity="0.5" filter="url(#bl2)" rx="2"/>
<rect x="-63.2" y="-15.9" width="126.4" height="31.8" fill="#3f3a35"/>
<rect x="-62" y="-14.7" width="124" height="29.4" fill="#a08f7c"/>
<rect x="-62" y="-14.7" width="124" height="8.3" fill="#ab9a86"/>
<line x1="-62" y1="-2.5" x2="62" y2="-2.5" stroke="#6f6a64" stroke-width="1.1"/>
<rect x="-62" y="-4.3" width="1.4" height="3.6" fill="#d9d9d9"/>
<rect x="60.6" y="-4.3" width="1.4" height="3.6" fill="#d9d9d9"/>
<path d="M-59 -12.7L-55.7 12.9M-51.4 -12.7L-54.6 12.9M-50.1 -12.7L-46.9 12.9M-43.8 -12.7L-46.2 12.9M-41.2 -12.7L-37.4 12.9M-33.3 -12.7L-37.4 12.9M-33.7 -12.7L-34.3 12.9M-28.7 -12.7L-29 12.9M-24.4 -12.7L-21.3 12.9M-17.5 -12.7L-20.8 12.9M-15.7 -12.7L-12.1 12.9M-7 -12.7L-11.2 12.9M-7.1 -12.7L-3.4 12.9M-1.6 -12.7L-1.3 12.9M2.1 -12.7L6 12.9M6.7 -12.7L6.4 12.9M11.7 -12.7L14.9 12.9M19.3 -12.7L17 12.9M21.3 -12.7L21.1 12.9M26.6 -12.7L26.3 12.9M31.6 -12.7L33.9 12.9M38.7 -12.7L35.4 12.9M39.3 -12.7L39.5 12.9M43.5 -12.7L43.3 12.9M47.1 -12.7L50.9 12.9M55 -12.7L52.4 12.9" fill="none" stroke="#f3f1ee" stroke-width="1" stroke-linecap="round"/>
</g>
<g transform="translate(560.8 806.4) rotate(90)">
<rect x="-31.3" y="-15.7" width="64.1" height="33.8" fill="#000" opacity="0.5" filter="url(#bl2)" rx="2"/>
<rect x="-31.3" y="-15.7" width="62.6" height="31.3" fill="#3f3a35"/>
<rect x="-30.1" y="-14.5" width="60.2" height="28.9" fill="#a08f7c"/>
<rect x="-30.1" y="-14.5" width="60.2" height="8.2" fill="#ab9a86"/>
<g transform="rotate(-5 -20.1 0)">
<rect x="-26.1" y="-9.4" width="12" height="18.8" fill="#eef0f2" rx="1"/>
<rect x="-26.1" y="3.8" width="12" height="5.6" fill="#fff" rx="1"/>
<path d="M-23.7 -5.6q4 7.8 7.2 -0.6" fill="none" stroke="#bcc4cc" stroke-width=".8"/>
</g>
<g transform="rotate(3 0 0)">
<rect x="-6" y="-9.4" width="12" height="18.8" fill="#eef0f2" rx="1"/>
<rect x="-6" y="3.8" width="12" height="5.6" fill="#fff" rx="1"/>
<path d="M-3.6 -5.6q4 7.8 7.2 -0.6" fill="none" stroke="#bcc4cc" stroke-width=".8"/>
</g>
<g transform="rotate(-3 20.1 0)">
<rect x="14" y="-9.4" width="12" height="18.8" fill="#eef0f2" rx="1"/>
<rect x="14" y="3.8" width="12" height="5.6" fill="#fff" rx="1"/>
<path d="M16.5 -5.6q4 7.8 7.2 -0.6" fill="none" stroke="#bcc4cc" stroke-width=".8"/>
</g>
</g>
<rect x="550" y="841.4" width="117.8" height="139" fill="#c8c2bb"/>
<rect x="550" y="841.4" width="117.8" height="139" fill="#fff" filter="url(#nz)" opacity=".28"/>
<rect x="550" y="841.4" width="117.8" height="139" fill="#000" filter="url(#nzd)" opacity=".10"/>
<g transform="translate(598.9 912.2) rotate(90)">
<rect x="-49.5" y="-59.8" width="100.9" height="115.6" fill="#000" opacity="0.55" filter="url(#bl5)" rx="2"/>
<rect x="-42.5" y="10.8" width="84.9" height="43" fill="#f1f0ee" rx="1.5"/>
<rect x="-43.5" y="13.5" width="86.9" height="3.8" fill="#fbfbfa" rx="1"/>
<rect x="-43.5" y="17.2" width="86.9" height="1.6" fill="#cfcdc9"/>
<rect x="-43" y="-52.8" width="85.9" height="66.8" fill="#8a867c" rx="1.5"/>
<rect x="-44.5" y="-53.8" width="88.9" height="16.1" fill="#908c80" rx="2"/>
<rect x="-44" y="-37.7" width="87.9" height="31.2" fill="#86837a"/>
<rect x="-43" y="-6.5" width="85.9" height="20.4" fill="#968d7e"/>
<line x1="-35.8" y1="-5.4" x2="-35.8" y2="13.5" stroke="#8a8172" stroke-width="0.5"/>
<line x1="-28.6" y1="-5.4" x2="-28.6" y2="13.5" stroke="#8a8172" stroke-width="0.5"/>
<line x1="-21.5" y1="-5.4" x2="-21.5" y2="13.5" stroke="#8a8172" stroke-width="0.5"/>
<line x1="-14.3" y1="-5.4" x2="-14.3" y2="13.5" stroke="#8a8172" stroke-width="0.5"/>
<line x1="-7.2" y1="-5.4" x2="-7.2" y2="13.5" stroke="#8a8172" stroke-width="0.5"/>
<line x1="0" y1="-5.4" x2="0" y2="13.5" stroke="#8a8172" stroke-width="0.5"/>
<line x1="7.2" y1="-5.4" x2="7.2" y2="13.5" stroke="#8a8172" stroke-width="0.5"/>
<line x1="14.3" y1="-5.4" x2="14.3" y2="13.5" stroke="#8a8172" stroke-width="0.5"/>
<line x1="21.5" y1="-5.4" x2="21.5" y2="13.5" stroke="#8a8172" stroke-width="0.5"/>
<line x1="28.6" y1="-5.4" x2="28.6" y2="13.5" stroke="#8a8172" stroke-width="0.5"/>
<line x1="35.8" y1="-5.4" x2="35.8" y2="13.5" stroke="#8a8172" stroke-width="0.5"/>
<rect x="-44" y="-38.2" width="87.9" height="1.6" fill="#75726a" opacity=".6"/>
<rect x="-44" y="-7" width="87.9" height="1.6" fill="#75726a" opacity=".5"/>
<rect x="-41" y="35.5" width="40.5" height="17.8" fill="url(#gWhite)" rx="2"/>
<rect x="0.5" y="35.5" width="40.5" height="17.8" fill="url(#gWhite)" rx="2"/>
<line x1="0" y1="32.3" x2="0" y2="52.8" stroke="#b9b7b3" stroke-width="0.7"/>
<rect x="-38.1" y="22.6" width="18.4" height="16.1" rx="1.5" fill="#8b877a" transform="rotate(-6 -28.8 30.1)"/>
<rect x="-18.8" y="22.6" width="18.4" height="16.1" rx="1.5" fill="#878376" transform="rotate(5 -9.6 30.1)"/>
<rect x="0.4" y="22.6" width="18.4" height="16.1" rx="1.5" fill="#8d897c" transform="rotate(-4 9.6 30.1)"/>
<rect x="19.6" y="22.6" width="18.4" height="16.1" rx="1.5" fill="#85816f" transform="rotate(7 28.8 30.1)"/>
</g>
<rect x="546.4" y="841.4" width="19.3" height="23.8" fill="#6a625a"/>
<rect x="547.6" y="842.6" width="16.9" height="21.4" fill="#7b7268"/>
<circle cx="556" cy="853.3" r="9" fill="url(#gLamp)"/>
<rect x="552.5" y="849.8" width="6.9" height="6.9" fill="#fbf8f2"/>
<circle cx="556" cy="853.3" r="0.9" fill="#9a9185"/>
<rect x="546.4" y="959.1" width="19.3" height="22.5" fill="#6a625a"/>
<rect x="547.6" y="960.4" width="16.9" height="20.1" fill="#7b7268"/>
<circle cx="556" cy="970.4" r="9" fill="url(#gLamp)"/>
<rect x="552.5" y="966.9" width="6.9" height="6.9" fill="#fbf8f2"/>
<circle cx="556" cy="970.4" r="0.9" fill="#9a9185"/>
<rect x="686.5" y="841.4" width="13.8" height="141.5" fill="#000" opacity=".3" filter="url(#bl2)"/>
<rect x="686.5" y="841.4" width="13.8" height="141.5" fill="#b09f8c"/>
<rect x="686.5" y="841.4" width="5.5" height="141.5" fill="#baa995"/>
<rect x="696.2" y="872" width="1.8" height="76" fill="#8f8c88"/>
<rect x="697.2" y="905" width="2" height="10" fill="#1c1c1c"/>
<rect x="711.6" y="805.1" width="25" height="88.9" fill="#b5a591"/>
<circle cx="719" cy="812" r="2.2" fill="none" stroke="#6d655c" stroke-width=".9"/>
<circle cx="724" cy="814" r="2.6" fill="none" stroke="#6d655c" stroke-width=".9"/>
<g transform="translate(724.7 842.1) rotate(-90)">
<rect x="-14.4" y="-10.7" width="28.8" height="21.3" fill="#f2f3f4" rx="1" stroke="#bfc1c3" stroke-width=".6"/>
<rect x="-12.4" y="-7.2" width="24.8" height="16" fill="#e3e6e8" rx="1.5"/>
<circle cx="0" cy="-8.7" r="0.9" fill="#8d8f91"/>
<circle cx="0" cy="1" r="0.8" fill="#9a9c9e"/>
</g>
<g transform="translate(724.7 875.9) rotate(-90)">
<rect x="-14.4" y="-10.7" width="28.8" height="21.3" fill="#f2f3f4" rx="1" stroke="#bfc1c3" stroke-width=".6"/>
<rect x="-12.4" y="-7.2" width="24.8" height="16" fill="#e3e6e8" rx="1.5"/>
<circle cx="0" cy="-8.7" r="0.9" fill="#8d8f91"/>
<circle cx="0" cy="1" r="0.8" fill="#9a9c9e"/>
</g>
<g transform="translate(732.5 913.4) rotate(90)">
<g transform="scale(1.22 1.04)">
<rect x="-9.2" y="9.5" width="18.4" height="9" fill="#ecebea" rx="1.5" stroke="#c4c2bf" stroke-width=".6"/>
<circle cx="0" cy="14" r="1" fill="#555"/>
<path d="M-8.6 10 L-8.6 -8 A8.6 10.5 0 0 1 8.6 -8 L8.6 10 Z" fill="#f6f5f4" stroke="#c7c5c2" stroke-width=".6"/>
<path d="M-6.4 7 L-6.4 -7.5 A6.4 8.2 0 0 1 6.4 -7.5 L6.4 7 Z" fill="#fdfdfd" stroke="#dddbd8" stroke-width=".5"/>
</g>
</g>
<rect x="711.6" y="932.8" width="70.8" height="2" fill="#a9adb0"/>
<g transform="translate(716 960.4) rotate(-90)">
<path d="M-4.2 -3.5l-1.3 2.2h2.6z" fill="#3a3a3a"/>
<path d="M0 -3.5l-1.3 2.2h2.6z" fill="#3a3a3a"/>
<path d="M4.2 -3.5l-1.3 2.2h2.6z" fill="#3a3a3a"/>
<rect x="-0.6" y="-1.2" width="1.2" height="3.7" fill="#3a3a3a"/>
<circle cx="0" cy="3.3" r="1.4" fill="#2a2a2a"/>
</g>
<rect x="832.5" y="818.9" width="78.1" height="161.5" fill="#b6a797"/>
<g transform="translate(808.2 918.5) rotate(90)">
<rect x="-64.5" y="-17.3" width="130.4" height="37.1" fill="#000" opacity="0.5" filter="url(#bl2)" rx="2"/>
<rect x="-64.5" y="-17.3" width="128.9" height="34.6" fill="#3f3a35"/>
<rect x="-63.2" y="-16.1" width="62.2" height="32.2" fill="#a08f7c"/>
<rect x="-63.2" y="-16.1" width="62.2" height="9.2" fill="#ab9a86"/>
<line x1="-63.2" y1="-2.8" x2="-1" y2="-2.8" stroke="#6f6a64" stroke-width="1.1"/>
<rect x="-63.2" y="-4.6" width="1.4" height="3.6" fill="#d9d9d9"/>
<rect x="-2.4" y="-4.6" width="1.4" height="3.6" fill="#d9d9d9"/>
<path d="M-60.2 -14.1L-56.6 14.3M-53.7 -14.1L-56.5 14.3M-51.2 -14.1L-47.6 14.3M-43.3 -14.1L-46.2 14.3M-41.4 -14.1L-38.8 14.3M-34.9 -14.1L-37.6 14.3M-33.4 -14.1L-30.9 14.3M-26.1 -14.1L-28.6 14.3M-23.8 -14.1L-24.2 14.3M-17 -14.1L-20 14.3M-14.6 -14.1L-11.2 14.3M-7.8 -14.1L-10.3 14.3" fill="none" stroke="#f3f1ee" stroke-width="1" stroke-linecap="round"/>
<rect x="1" y="-16.1" width="62.2" height="32.2" fill="#a08f7c"/>
<rect x="1" y="-16.1" width="62.2" height="9.2" fill="#ab9a86"/>
<g transform="rotate(-5 11.4 0)">
<rect x="5.2" y="-10.4" width="12.5" height="20.8" fill="#eef0f2" rx="1"/>
<rect x="5.2" y="4.2" width="12.5" height="6.2" fill="#fff" rx="1"/>
<path d="M7.6 -6.2q4.2 8.7 7.5 -0.7" fill="none" stroke="#bcc4cc" stroke-width=".8"/>
</g>
<g transform="rotate(3 32.1 0)">
<rect x="25.9" y="-10.4" width="12.5" height="20.8" fill="#eef0f2" rx="1"/>
<rect x="25.9" y="4.2" width="12.5" height="6.2" fill="#fff" rx="1"/>
<path d="M28.4 -6.2q4.2 8.7 7.5 -0.7" fill="none" stroke="#bcc4cc" stroke-width=".8"/>
</g>
<g transform="rotate(-3 52.9 0)">
<rect x="46.6" y="-10.4" width="12.5" height="20.8" fill="#eef0f2" rx="1"/>
<rect x="46.6" y="4.2" width="12.5" height="6.2" fill="#fff" rx="1"/>
<path d="M49.1 -6.2q4.2 8.7 7.5 -0.7" fill="none" stroke="#bcc4cc" stroke-width=".8"/>
</g>
</g>
<rect x="860.5" y="807.6" width="27" height="18.8" fill="#6a625a"/>
<rect x="861.7" y="808.8" width="24.6" height="16.4" fill="#7b7268"/>
<circle cx="874" cy="817" r="8.8" fill="url(#gLamp)"/>
<rect x="870.6" y="813.6" width="6.8" height="6.8" fill="#fbf8f2"/>
<circle cx="874" cy="817" r="0.9" fill="#9a9185"/>
<g transform="translate(900.6 954.1) rotate(-68)">
<rect x="-11" y="-9" width="24" height="21" fill="#000" opacity="0.45" filter="url(#bl2)" rx="2"/>
<rect x="-12" y="-10" width="24" height="20" fill="#b9aa90" rx="1.5"/>
<rect x="-12" y="4" width="24" height="6" fill="#e3d9c4" rx="1.5"/>
<rect x="-10.5" y="-8.5" width="21" height="12.5" fill="#cbbd9f" rx="1"/>
</g>
<rect x="905.4" y="917.8" width="41.6" height="66.2" fill="#000" opacity="0.45" filter="url(#bl2)" rx="2"/>
<rect x="905.4" y="917.8" width="41.5" height="65.1" fill="#b4a38d"/>
<rect x="926" y="917.8" width="20.9" height="65.1" fill="#bcab95"/>
<rect x="911.7" y="939.1" width="18.7" height="25" fill="#6d7073" rx=".8"/>
<rect x="916.5" y="939.9" width="13.1" height="23.4" fill="#8d9195"/>
<rect x="911.7" y="939.1" width="4.1" height="25" fill="#2f3133"/>
<g transform="translate(917.3 859.6) rotate(90)">
<rect x="-56.5" y="-31.6" width="114.9" height="66.3" fill="#000" opacity="0.5" filter="url(#bl)" rx="2"/>
<rect x="-54.5" y="-28.6" width="108.9" height="57.3" fill="#efedea" rx="2"/>
<rect x="-53.5" y="-27.1" width="17.5" height="54.3" fill="#f7f6f4" rx="2"/>
<rect x="-37" y="-25.6" width="15.2" height="51.3" fill="#dcd3c9" rx="2"/>
<rect x="-32.7" y="-20.6" width="10.9" height="41.3" fill="#cfc4b8" rx="1.5"/>
<rect x="-21.8" y="-29.6" width="75.2" height="59.3" fill="#e9e6e2" rx="2.5"/>
<rect x="-21.8" y="-29.6" width="3.3" height="59.3" fill="#d5d1cb" opacity=".7"/>
<rect x="8.7" y="-29.1" width="31.6" height="58.3" fill="#d6c8bc"/>
<rect x="8.7" y="-29.1" width="2.2" height="58.3" fill="#c2b3a6" opacity=".7"/>
<rect x="-21.8" y="-29.6" width="75.2" height="59.3" fill="#fff" rx="2.5" filter="url(#nz)" opacity=".5"/>
</g>
<rect x="1018" y="742.8" width="85.6" height="13.2" fill="#efe9dd"/>
<rect x="1020" y="743.5" width="19.5" height="11.5" fill="#f6f1e7" rx="1.5" stroke="#cfc7b7" stroke-width=".5"/>
<rect x="1041" y="743.5" width="19.5" height="11.5" fill="#f6f1e7" rx="1.5" stroke="#cfc7b7" stroke-width=".5"/>
<rect x="1062" y="743.5" width="19.5" height="11.5" fill="#f6f1e7" rx="1.5" stroke="#cfc7b7" stroke-width=".5"/>
<rect x="1083" y="743.5" width="19.5" height="11.5" fill="#f6f1e7" rx="1.5" stroke="#cfc7b7" stroke-width=".5"/>
<rect x="1025.2" y="789.1" width="27" height="17" fill="#000" opacity="0.35" filter="url(#bl2)" rx="2"/>
<g transform="translate(1037.7 796.6) rotate(180)">
<rect x="-12.5" y="-8.5" width="25" height="17" fill="#d2c6b4" rx="3.5"/>
<rect x="-10.9" y="-5.5" width="21.8" height="14" fill="#f0e9dc" rx="3"/>
</g>
<rect x="1058.9" y="789.1" width="27" height="17" fill="#000" opacity="0.35" filter="url(#bl2)" rx="2"/>
<g transform="translate(1071.4 796.6) rotate(180)">
<rect x="-12.5" y="-8.5" width="25" height="17" fill="#d2c6b4" rx="3.5"/>
<rect x="-10.9" y="-5.5" width="21.8" height="14" fill="#f0e9dc" rx="3"/>
</g>
<rect x="1018" y="754" width="76.1" height="39.1" fill="#000" opacity="0.5" filter="url(#bl)" rx="2"/>
<rect x="1018" y="754" width="73.1" height="35.1" fill="#5f564f"/>
<rect x="1019.2" y="755.2" width="70.7" height="32.7" fill="#70665e"/>
<path d="M1020.2 755.5V787.6M1022.4 755.5V787.6M1024.6 755.5V787.6M1026.9 755.5V787.6M1029.1 755.5V787.6M1031.3 755.5V787.6M1033.5 755.5V787.6M1035.7 755.5V787.6M1037.9 755.5V787.6M1040.2 755.5V787.6M1042.4 755.5V787.6M1044.6 755.5V787.6M1046.8 755.5V787.6M1049 755.5V787.6M1051.2 755.5V787.6M1053.4 755.5V787.6M1055.7 755.5V787.6M1057.9 755.5V787.6M1060.1 755.5V787.6M1062.3 755.5V787.6M1064.5 755.5V787.6M1066.7 755.5V787.6M1068.9 755.5V787.6M1071.2 755.5V787.6M1073.4 755.5V787.6M1075.6 755.5V787.6M1077.8 755.5V787.6M1080 755.5V787.6M1082.2 755.5V787.6M1084.5 755.5V787.6M1086.7 755.5V787.6M1088.9 755.5V787.6" fill="none" stroke="#665c55" stroke-width=".5" opacity=".7"/>
<rect x="999.5" y="816.4" width="73.9" height="81.4" fill="#8f8f8b"/>
<rect x="999.5" y="816.4" width="73.9" height="81.4" fill="#fff" filter="url(#nz)" opacity=".16"/>
<rect x="999.5" y="816.4" width="73.9" height="81.4" fill="#000" filter="url(#nzd)" opacity=".16"/>
<g transform="translate(978.9 855.2)">
<rect x="-22.9" y="-44.8" width="47.9" height="92.6" fill="#000" opacity="0.5" filter="url(#bl)" rx="2"/>
<rect x="-21.9" y="-43.8" width="43.9" height="87.6" fill="#dfdcd8" rx="7"/>
<rect x="-21.9" y="-43.8" width="12.3" height="87.6" fill="#e9e7e3" rx="6"/>
<rect x="-9.7" y="-41.2" width="31.6" height="41.2" fill="#eceae7" rx="4"/>
<rect x="-9.7" y="0.9" width="31.6" height="40.3" fill="#eceae7" rx="4"/>
<rect x="-21.9" y="-43.8" width="43.9" height="87.6" fill="#fff" rx="7" filter="url(#nz)" opacity=".35"/>
<g transform="translate(0 -31.5) rotate(35)">
<rect x="-6" y="-4.8" width="12" height="9.6" fill="#e3e1de" rx="1.5" stroke="#cfccc8" stroke-width=".5"/>
</g>
<g transform="translate(7.9 -26.3) rotate(-25)">
<rect x="-6" y="-4.8" width="12" height="9.6" fill="#e3e1de" rx="1.5" stroke="#cfccc8" stroke-width=".5"/>
</g>
<g transform="translate(-0.9 26.3) rotate(25)">
<rect x="-6" y="-4.8" width="12" height="9.6" fill="#e3e1de" rx="1.5" stroke="#cfccc8" stroke-width=".5"/>
</g>
</g>
<rect x="1017" y="826.4" width="28.3" height="29.3" fill="#000" opacity="0.5" filter="url(#bl2)" rx="2"/>
<rect x="1017" y="826.4" width="26.3" height="26.3" fill="#e9e8e6" rx="1.5"/>
<rect x="1018" y="827.4" width="24.3" height="13.5" fill="#f3f2f1" rx="1.5"/>
<rect x="1017" y="856.5" width="28.3" height="29.2" fill="#000" opacity="0.5" filter="url(#bl2)" rx="2"/>
<rect x="1017" y="856.5" width="26.3" height="26.2" fill="#e9e8e6" rx="1.5"/>
<rect x="1018" y="857.5" width="24.3" height="13.4" fill="#f3f2f1" rx="1.5"/>
<rect x="1082.1" y="843.9" width="25.1" height="56.4" fill="#000" opacity=".35" filter="url(#bl2)"/>
<rect x="1082.1" y="843.9" width="25.1" height="56.4" fill="#7a6f65"/>
<rect x="1082.1" y="843.9" width="11.9" height="56.4" fill="#857a70"/>
<rect x="1102.5" y="852" width="1.8" height="41" fill="#a9a6a2"/>
<rect x="954.4" y="910.8" width="43.8" height="64.6" fill="#4a4845"/>
<rect x="956.9" y="913.3" width="38.8" height="59.6" fill="#b7ad98"/>
<rect x="956.9" y="913.3" width="11.1" height="5.2" fill="#cbc2ad" stroke="#8f866f" stroke-width=".35"/>
<rect x="968" y="913.3" width="12" height="5.2" fill="#bdb39d" stroke="#8f866f" stroke-width=".35"/>
<rect x="980" y="913.3" width="8.1" height="5.2" fill="#aba18b" stroke="#8f866f" stroke-width=".35"/>
<rect x="988.1" y="913.3" width="7.6" height="5.2" fill="#b3a992" stroke="#8f866f" stroke-width=".35"/>
<rect x="956.9" y="918.5" width="6.2" height="5.2" fill="#b3a992" stroke="#8f866f" stroke-width=".35"/>
<rect x="963.1" y="918.5" width="8.6" height="5.2" fill="#aba18b" stroke="#8f866f" stroke-width=".35"/>
<rect x="971.7" y="918.5" width="12.3" height="5.2" fill="#aba18b" stroke="#8f866f" stroke-width=".35"/>
<rect x="984.1" y="918.5" width="10.7" height="5.2" fill="#bdb39d" stroke="#8f866f" stroke-width=".35"/>
<rect x="994.8" y="918.5" width="0.9" height="5.2" fill="#b3a992" stroke="#8f866f" stroke-width=".35"/>
<rect x="956.9" y="923.7" width="10" height="5.2" fill="#b3a992" stroke="#8f866f" stroke-width=".35"/>
<rect x="966.9" y="923.7" width="12.6" height="5.2" fill="#aba18b" stroke="#8f866f" stroke-width=".35"/>
<rect x="979.5" y="923.7" width="8.8" height="5.2" fill="#c2b8a2" stroke="#8f866f" stroke-width=".35"/>
<rect x="988.3" y="923.7" width="7.4" height="5.2" fill="#bdb39d" stroke="#8f866f" stroke-width=".35"/>
<rect x="956.9" y="928.9" width="5.2" height="5.2" fill="#b3a992" stroke="#8f866f" stroke-width=".35"/>
<rect x="962.1" y="928.9" width="8" height="5.2" fill="#c2b8a2" stroke="#8f866f" stroke-width=".35"/>
<rect x="970.1" y="928.9" width="9" height="5.2" fill="#b3a992" stroke="#8f866f" stroke-width=".35"/>
<rect x="979.2" y="928.9" width="12.8" height="5.2" fill="#b3a992" stroke="#8f866f" stroke-width=".35"/>
<rect x="992" y="928.9" width="3.7" height="5.2" fill="#cbc2ad" stroke="#8f866f" stroke-width=".35"/>
<rect x="956.9" y="934.1" width="9.6" height="5.2" fill="#b3a992" stroke="#8f866f" stroke-width=".35"/>
<rect x="966.5" y="934.1" width="10.7" height="5.2" fill="#b3a992" stroke="#8f866f" stroke-width=".35"/>
<rect x="977.2" y="934.1" width="8.9" height="5.2" fill="#b3a992" stroke="#8f866f" stroke-width=".35"/>
<rect x="986.1" y="934.1" width="9.6" height="5.2" fill="#aba18b" stroke="#8f866f" stroke-width=".35"/>
<rect x="956.9" y="939.3" width="4.5" height="5.2" fill="#cbc2ad" stroke="#8f866f" stroke-width=".35"/>
<rect x="961.4" y="939.3" width="10.1" height="5.2" fill="#b3a992" stroke="#8f866f" stroke-width=".35"/>
<rect x="971.5" y="939.3" width="9.3" height="5.2" fill="#cbc2ad" stroke="#8f866f" stroke-width=".35"/>
<rect x="980.8" y="939.3" width="9.5" height="5.2" fill="#bdb39d" stroke="#8f866f" stroke-width=".35"/>
<rect x="990.3" y="939.3" width="5.4" height="5.2" fill="#bdb39d" stroke="#8f866f" stroke-width=".35"/>
<rect x="956.9" y="944.5" width="11.4" height="5.2" fill="#cbc2ad" stroke="#8f866f" stroke-width=".35"/>
<rect x="968.3" y="944.5" width="8.3" height="5.2" fill="#cbc2ad" stroke="#8f866f" stroke-width=".35"/>
<rect x="976.6" y="944.5" width="12.1" height="5.2" fill="#aba18b" stroke="#8f866f" stroke-width=".35"/>
<rect x="988.7" y="944.5" width="7" height="5.2" fill="#b3a992" stroke="#8f866f" stroke-width=".35"/>
<rect x="956.9" y="949.7" width="5.4" height="5.2" fill="#b3a992" stroke="#8f866f" stroke-width=".35"/>
<rect x="962.3" y="949.7" width="8.3" height="5.2" fill="#c2b8a2" stroke="#8f866f" stroke-width=".35"/>
<rect x="970.6" y="949.7" width="12.7" height="5.2" fill="#cbc2ad" stroke="#8f866f" stroke-width=".35"/>
<rect x="983.3" y="949.7" width="12.2" height="5.2" fill="#c2b8a2" stroke="#8f866f" stroke-width=".35"/>
<rect x="995.6" y="949.7" width="0.1" height="5.2" fill="#aba18b" stroke="#8f866f" stroke-width=".35"/>
<rect x="956.9" y="954.9" width="9.8" height="5.2" fill="#bdb39d" stroke="#8f866f" stroke-width=".35"/>
<rect x="966.7" y="954.9" width="12.2" height="5.2" fill="#aba18b" stroke="#8f866f" stroke-width=".35"/>
<rect x="978.9" y="954.9" width="8.2" height="5.2" fill="#b3a992" stroke="#8f866f" stroke-width=".35"/>
<rect x="987.2" y="954.9" width="8.5" height="5.2" fill="#b3a992" stroke="#8f866f" stroke-width=".35"/>
<rect x="956.9" y="960.1" width="3.6" height="5.2" fill="#b3a992" stroke="#8f866f" stroke-width=".35"/>
<rect x="960.5" y="960.1" width="12.6" height="5.2" fill="#aba18b" stroke="#8f866f" stroke-width=".35"/>
<rect x="973.1" y="960.1" width="9.7" height="5.2" fill="#cbc2ad" stroke="#8f866f" stroke-width=".35"/>
<rect x="982.9" y="960.1" width="12.5" height="5.2" fill="#cbc2ad" stroke="#8f866f" stroke-width=".35"/>
<rect x="995.3" y="960.1" width="0.4" height="5.2" fill="#c2b8a2" stroke="#8f866f" stroke-width=".35"/>
<rect x="956.9" y="965.3" width="10.9" height="5.2" fill="#cbc2ad" stroke="#8f866f" stroke-width=".35"/>
<rect x="967.8" y="965.3" width="12.3" height="5.2" fill="#c2b8a2" stroke="#8f866f" stroke-width=".35"/>
<rect x="980.1" y="965.3" width="10.2" height="5.2" fill="#c2b8a2" stroke="#8f866f" stroke-width=".35"/>
<rect x="990.3" y="965.3" width="5.4" height="5.2" fill="#bdb39d" stroke="#8f866f" stroke-width=".35"/>
<rect x="956.9" y="970.5" width="6.1" height="2.4" fill="#b3a992" stroke="#8f866f" stroke-width=".35"/>
<rect x="963" y="970.5" width="9.7" height="2.4" fill="#bdb39d" stroke="#8f866f" stroke-width=".35"/>
<rect x="972.7" y="970.5" width="8.5" height="2.4" fill="#cbc2ad" stroke="#8f866f" stroke-width=".35"/>
<rect x="981.1" y="970.5" width="9.5" height="2.4" fill="#c2b8a2" stroke="#8f866f" stroke-width=".35"/>
<rect x="990.6" y="970.5" width="5.1" height="2.4" fill="#cbc2ad" stroke="#8f866f" stroke-width=".35"/>
<line x1="962.7" y1="928.2" x2="1007.2" y2="928.2" stroke="#8a6a45" stroke-width="1"/>
<rect x="1001.2" y="927.2" width="6" height="2" fill="#a0643f"/>
<ellipse cx="965.4" cy="928.2" rx="2.4" ry="2.3" fill="#6b2b26"/>
<ellipse cx="969.7" cy="928.2" rx="2.4" ry="2.3" fill="#5a2320"/>
<ellipse cx="974" cy="928.2" rx="2.4" ry="2.3" fill="#4d1d1b"/>
<ellipse cx="978.3" cy="928.2" rx="2.4" ry="2.3" fill="#5a2320"/>
<ellipse cx="982.6" cy="928.2" rx="2.4" ry="2.3" fill="#5a2320"/>
<line x1="962.7" y1="943.1" x2="1007.2" y2="943.1" stroke="#8a6a45" stroke-width="1"/>
<rect x="1001.2" y="942.1" width="6" height="2" fill="#a0643f"/>
<ellipse cx="965.4" cy="943.1" rx="2.4" ry="2.3" fill="#4d1d1b"/>
<ellipse cx="969.7" cy="943.1" rx="2.4" ry="2.3" fill="#4d1d1b"/>
<ellipse cx="974" cy="943.1" rx="2.4" ry="2.3" fill="#6b2b26"/>
<ellipse cx="978.3" cy="943.1" rx="2.4" ry="2.3" fill="#5a2320"/>
<ellipse cx="982.6" cy="943.1" rx="2.4" ry="2.3" fill="#5a2320"/>
<line x1="962.7" y1="958" x2="1007.2" y2="958" stroke="#8a6a45" stroke-width="1"/>
<rect x="1001.2" y="957" width="6" height="2" fill="#a0643f"/>
<ellipse cx="965.4" cy="958" rx="2.4" ry="2.3" fill="#4d1d1b"/>
<ellipse cx="969.7" cy="958" rx="2.4" ry="2.3" fill="#4d1d1b"/>
<ellipse cx="974" cy="958" rx="2.4" ry="2.3" fill="#6b2b26"/>
<ellipse cx="978.3" cy="958" rx="2.4" ry="2.3" fill="#6b2b26"/>
<ellipse cx="982.6" cy="958" rx="2.4" ry="2.3" fill="#6b2b26"/>
<rect x="998.2" y="910.8" width="4.8" height="64.6" fill="#8d8d8b"/>
<circle cx="1091.9" cy="929.8" r="11" fill="#000" opacity=".4" filter="url(#bl2)"/>
<circle cx="1090.9" cy="927.8" r="8.8" fill="#2b4a20" opacity=".55"/>
<path d="M1090.9 927.8L1096 936.4M1090.9 927.8L1085 921.1M1090.9 927.8L1093.1 938.1M1090.9 927.8L1094.1 919.3M1090.9 927.8L1083.1 927.6M1090.9 927.8L1099.3 928M1090.9 927.8L1084.9 924.3M1090.9 927.8L1093 920.3M1090.9 927.8L1091.6 934.6M1090.9 927.8L1101.2 927.6M1090.9 927.8L1097.7 921M1090.9 927.8L1098.9 929.5M1090.9 927.8L1083.7 927.9M1090.9 927.8L1098.9 925.3M1090.9 927.8L1096.9 936.6M1090.9 927.8L1098.8 935.7M1090.9 927.8L1082 930.5M1090.9 927.8L1085.9 935.3M1090.9 927.8L1093.5 934.1M1090.9 927.8L1096.1 922M1090.9 927.8L1092.3 920.3M1090.9 927.8L1101.7 925.6M1090.9 927.8L1091.2 917.4M1090.9 927.8L1082 922.8M1090.9 927.8L1097.3 934M1090.9 927.8L1094.4 921.1M1090.9 927.8L1100.6 922.7M1090.9 927.8L1083.8 932.3M1090.9 927.8L1082.8 930.4M1090.9 927.8L1099.4 927.5M1090.9 927.8L1097.9 929M1090.9 927.8L1088.6 916.5M1090.9 927.8L1081.9 928M1090.9 927.8L1081.1 924.6M1090.9 927.8L1092.6 937.3M1090.9 927.8L1081.8 924.4M1090.9 927.8L1094 934.5M1090.9 927.8L1084.4 936.9M1090.9 927.8L1085.4 935.6M1090.9 927.8L1088.4 934.5" fill="none" stroke="#2f5a23" stroke-width="1.6" stroke-linecap="round"/>
<path d="M1090.9 927.8L1095.4 929.8M1090.9 927.8L1091.5 924.4M1090.9 927.8L1089.1 923.8M1090.9 927.8L1095.2 924.6M1090.9 927.8L1086.3 930.8M1090.9 927.8L1094.9 926.8M1090.9 927.8L1093.7 925.2M1090.9 927.8L1088.8 929.9M1090.9 927.8L1092.8 925.9M1090.9 927.8L1095.3 929.8M1090.9 927.8L1091.5 924M1090.9 927.8L1092.1 925.8M1090.9 927.8L1090.7 931M1090.9 927.8L1088.5 929.1M1090.9 927.8L1093.9 929.2M1090.9 927.8L1095.3 924.6M1090.9 927.8L1090.8 924M1090.9 927.8L1090.8 933.2" fill="none" stroke="#8a5f93" stroke-width="1.2" stroke-linecap="round"/>
<circle cx="1090.9" cy="927.8" r="2.4" fill="#2b4a20"/>
<circle cx="1091.9" cy="969.9" r="11" fill="#000" opacity=".4" filter="url(#bl2)"/>
<circle cx="1090.9" cy="967.9" r="8.8" fill="#2b4a20" opacity=".55"/>
<path d="M1090.9 967.9L1097.9 966M1090.9 967.9L1102.3 969.6M1090.9 967.9L1093.8 974.5M1090.9 967.9L1086.1 961.1M1090.9 967.9L1096.9 962.9M1090.9 967.9L1098.8 965.8M1090.9 967.9L1081.9 961.2M1090.9 967.9L1086.5 957.6M1090.9 967.9L1089.1 961.3M1090.9 967.9L1097.9 961.4M1090.9 967.9L1088.1 974.9M1090.9 967.9L1096.5 960.2M1090.9 967.9L1100.5 963.9M1090.9 967.9L1100 965.6M1090.9 967.9L1087.8 958.8M1090.9 967.9L1090.3 979.2M1090.9 967.9L1086.9 977.6M1090.9 967.9L1100.3 965.1M1090.9 967.9L1097.6 976.2M1090.9 967.9L1087.2 961.4M1090.9 967.9L1099.7 970.7M1090.9 967.9L1101.9 970.2M1090.9 967.9L1081.7 967.5M1090.9 967.9L1082.6 973.2M1090.9 967.9L1097.9 963.8M1090.9 967.9L1084.2 974.7M1090.9 967.9L1088.1 977M1090.9 967.9L1082.5 965.6M1090.9 967.9L1086.6 959.7M1090.9 967.9L1100.7 974M1090.9 967.9L1085.5 974.8M1090.9 967.9L1081.7 974.3M1090.9 967.9L1099.6 965.2M1090.9 967.9L1085.2 972M1090.9 967.9L1096.8 963.4M1090.9 967.9L1082.9 965.5M1090.9 967.9L1086.9 975.3M1090.9 967.9L1093.3 974.2M1090.9 967.9L1080.6 965.6M1090.9 967.9L1086.3 961.8" fill="none" stroke="#2f5a23" stroke-width="1.6" stroke-linecap="round"/>
<path d="M1090.9 967.9L1090.1 965.7M1090.9 967.9L1086.7 970.5M1090.9 967.9L1094.2 966.1M1090.9 967.9L1093.1 964.7M1090.9 967.9L1086.8 967.3M1090.9 967.9L1095.5 967.6M1090.9 967.9L1086.4 968.7M1090.9 967.9L1088.8 965.3M1090.9 967.9L1091.9 963.1M1090.9 967.9L1086.8 964.6M1090.9 967.9L1094.7 968.3M1090.9 967.9L1088.7 965.4M1090.9 967.9L1093 971.8M1090.9 967.9L1088.1 969.1M1090.9 967.9L1096.1 969.3M1090.9 967.9L1089.3 970M1090.9 967.9L1091.5 970.9M1090.9 967.9L1092.8 965.8" fill="none" stroke="#8a5f93" stroke-width="1.2" stroke-linecap="round"/>
<circle cx="1090.9" cy="967.9" r="2.4" fill="#2b4a20"/>
<rect x="1178.7" y="740.8" width="33.6" height="104.6" fill="#000" opacity=".3" filter="url(#bl2)"/>
<rect x="1178.7" y="740.8" width="33.6" height="104.6" fill="#e5dfd3"/>
<rect x="1183.9" y="748.8" width="25" height="27.6" fill="#1d1d1d" rx="1"/>
<circle cx="1190.7" cy="756.3" r="4.2" fill="#0c0c0c" stroke="#d0d0d0" stroke-width=".9"/>
<path d="M1185.7 756.3h10M1190.7 750.7v11" fill="none" stroke="#bdbdbd" stroke-width=".8"/>
<circle cx="1190.7" cy="768.9" r="4.2" fill="#0c0c0c" stroke="#d0d0d0" stroke-width=".9"/>
<path d="M1185.7 768.9h10M1190.7 763.4v11" fill="none" stroke="#bdbdbd" stroke-width=".8"/>
<circle cx="1202.2" cy="756.3" r="4.2" fill="#0c0c0c" stroke="#d0d0d0" stroke-width=".9"/>
<path d="M1197.2 756.3h10M1202.2 750.7v11" fill="none" stroke="#bdbdbd" stroke-width=".8"/>
<circle cx="1202.2" cy="768.9" r="4.2" fill="#0c0c0c" stroke="#d0d0d0" stroke-width=".9"/>
<path d="M1197.2 768.9h10M1202.2 763.4v11" fill="none" stroke="#bdbdbd" stroke-width=".8"/>
<rect x="1184.5" y="792.6" width="21.5" height="35.4" fill="#c9cbcd" rx="2" stroke="#8e9092" stroke-width=".7"/>
<rect x="1186" y="802.5" width="18.5" height="24" fill="#eceeef" rx="2.5" stroke="#a0a2a4" stroke-width=".6"/>
<rect x="1187.5" y="794.1" width="15.5" height="7.2" fill="#dfe1e2" rx="2" stroke="#a0a2a4" stroke-width=".5"/>
<circle cx="1195.2" cy="814.3" r="1.1" fill="#777"/>
<rect x="1171.4" y="849" width="42" height="39.3" fill="#000" opacity="0.45" filter="url(#bl2)" rx="2"/>
<rect x="1171.4" y="849" width="40" height="36.3" fill="#5c5c5c" rx="1.5"/>
<rect x="1172.9" y="852.5" width="37" height="31.3" fill="url(#gFridge)" rx="1"/>
<rect x="1172.4" y="850" width="38" height="2.2" fill="#9a9a9a" rx="1"/>
<rect x="1177.6" y="900.3" width="33.8" height="31.3" fill="#e6e7e8" rx="3" stroke="#9b9d9f" stroke-width=".7"/>
<circle cx="1194.5" cy="917" r="11.3" fill="#d2d4d6" stroke="#a3a5a7" stroke-width=".7"/>
<circle cx="1194.5" cy="917" r="7" fill="#c3c5c7" stroke="#aaacae" stroke-width=".5"/>
<circle cx="1194.5" cy="917" r="2.8" fill="#dcdedf"/>
<rect x="1180.6" y="901.8" width="27.8" height="2.5" fill="#cfd1d3" rx="1"/>
<rect x="1178.9" y="936.6" width="32.5" height="46.3" fill="#eeeceb" rx="2" stroke="#b1afad" stroke-width=".7"/>
<rect x="1181.4" y="941.6" width="27.5" height="38.3" fill="#d3d5d6" rx="3" stroke="#8f9193" stroke-width=".8"/>
<rect x="1183.9" y="944.1" width="22.5" height="33.3" fill="#e4e6e7" rx="2"/>
<rect x="1194.6" y="938.1" width="1.2" height="5.5" fill="#6d6f71"/>
<circle cx="1192.2" cy="980.9" r="0.6" fill="#555"/>
<circle cx="1198.2" cy="980.9" r="0.6" fill="#555"/>
<rect x="543.9" y="642.8" width="396.3" height="7.2" fill="#dcdcdc"/>
<rect x="525.8" y="733.2" width="368" height="7.2" fill="#dcdcdc"/>
<rect x="942.6" y="733.2" width="288.6" height="7.2" fill="#dcdcdc"/>
<rect x="536.5" y="983.2" width="173.6" height="9.4" fill="#dcdcdc"/>
<rect x="702.9" y="796.6" width="7.2" height="196.1" fill="#dcdcdc"/>
<rect x="703" y="796.5" width="33.4" height="7.2" fill="#dcdcdc"/>
<rect x="776.9" y="796.5" width="13.3" height="7.2" fill="#dcdcdc"/>
<rect x="782.8" y="796.6" width="7.2" height="196.1" fill="#dcdcdc"/>
<rect x="703" y="983.2" width="251.2" height="9.4" fill="#dcdcdc"/>
<rect x="840.2" y="796.5" width="114" height="7.2" fill="#dcdcdc"/>
<rect x="947" y="796.6" width="7.2" height="196.1" fill="#dcdcdc"/>
<rect x="947.1" y="902.3" width="166.1" height="7.2" fill="#dcdcdc"/>
<rect x="1107.1" y="741" width="7.2" height="46.4" fill="#dcdcdc"/>
<rect x="1107.1" y="845.6" width="7.2" height="151.2" fill="#dcdcdc"/>
<rect x="1107.1" y="984.5" width="114" height="7.2" fill="#dcdcdc"/>
<rect x="1170.3" y="889" width="43.4" height="6.3" fill="#dcdcdc"/>
<rect x="544.9" y="643.8" width="394.3" height="5.2" fill="#5d5d5d"/>
<rect x="526.8" y="734.2" width="366" height="5.2" fill="#5d5d5d"/>
<rect x="943.6" y="734.2" width="286.6" height="5.2" fill="#5d5d5d"/>
<rect x="537.5" y="984.2" width="171.6" height="7.4" fill="#5d5d5d"/>
<rect x="703.9" y="797.6" width="5.2" height="194.1" fill="#5d5d5d"/>
<rect x="704" y="797.5" width="31.4" height="5.2" fill="#5d5d5d"/>
<rect x="777.9" y="797.5" width="11.3" height="5.2" fill="#5d5d5d"/>
<rect x="783.8" y="797.6" width="5.2" height="194.1" fill="#5d5d5d"/>
<rect x="704" y="984.2" width="249.2" height="7.4" fill="#5d5d5d"/>
<rect x="841.2" y="797.5" width="112" height="5.2" fill="#5d5d5d"/>
<rect x="948" y="797.6" width="5.2" height="194.1" fill="#5d5d5d"/>
<rect x="948.1" y="903.3" width="164.1" height="5.2" fill="#5d5d5d"/>
<rect x="1108.1" y="742" width="5.2" height="44.4" fill="#5d5d5d"/>
<rect x="1108.1" y="846.6" width="5.2" height="149.2" fill="#5d5d5d"/>
<rect x="1108.1" y="985.5" width="112" height="5.2" fill="#5d5d5d"/>
<rect x="1171.3" y="890" width="41.4" height="4.3" fill="#5d5d5d"/>
<rect x="779.5" y="642.6" width="83.4" height="7.5" fill="#b3b7bb" stroke="#e4e4e4" stroke-width=".8"/>
<line x1="779.5" y1="646.4" x2="862.9" y2="646.4" stroke="#8f9396" stroke-width="0.7"/>
<rect x="806.3" y="642.6" width="2" height="7.5" fill="#9a9ea1"/>
<rect x="834.1" y="642.6" width="2" height="7.5" fill="#9a9ea1"/>
<rect x="620.5" y="642.6" width="82.5" height="7.5" fill="#b3b7bb" stroke="#e4e4e4" stroke-width=".8"/>
<line x1="620.5" y1="646.4" x2="703" y2="646.4" stroke="#8f9396" stroke-width="0.7"/>
<rect x="647" y="642.6" width="2" height="7.5" fill="#9a9ea1"/>
<rect x="674.5" y="642.6" width="2" height="7.5" fill="#9a9ea1"/>
<rect x="587.6" y="982.9" width="77.6" height="10" fill="#b3b7bb" stroke="#e4e4e4" stroke-width=".8"/>
<line x1="587.6" y1="987.9" x2="665.2" y2="987.9" stroke="#8f9396" stroke-width="0.7"/>
<rect x="612.5" y="982.9" width="2" height="10" fill="#9a9ea1"/>
<rect x="638.3" y="982.9" width="2" height="10" fill="#9a9ea1"/>
<rect x="725" y="982.9" width="45" height="10" fill="#b3b7bb" stroke="#e4e4e4" stroke-width=".8"/>
<line x1="725" y1="987.9" x2="770" y2="987.9" stroke="#8f9396" stroke-width="0.7"/>
<rect x="739" y="982.9" width="2" height="10" fill="#9a9ea1"/>
<rect x="754" y="982.9" width="2" height="10" fill="#9a9ea1"/>
<rect x="830" y="982.9" width="75" height="10" fill="#b3b7bb" stroke="#e4e4e4" stroke-width=".8"/>
<line x1="830" y1="987.9" x2="905" y2="987.9" stroke="#8f9396" stroke-width="0.7"/>
<rect x="854" y="982.9" width="2" height="10" fill="#9a9ea1"/>
<rect x="879" y="982.9" width="2" height="10" fill="#9a9ea1"/>
<rect x="997" y="901.5" width="81.4" height="8.8" fill="#b3b7bb" stroke="#e4e4e4" stroke-width=".8"/>
<line x1="997" y1="905.9" x2="1078.4" y2="905.9" stroke="#8f9396" stroke-width="0.7"/>
<rect x="1023.1" y="901.5" width="2" height="8.8" fill="#9a9ea1"/>
<rect x="1050.3" y="901.5" width="2" height="8.8" fill="#9a9ea1"/>
<rect x="1120" y="984.2" width="87" height="7.8" fill="#b3b7bb" stroke="#e4e4e4" stroke-width=".8"/>
<line x1="1120" y1="988.1" x2="1207" y2="988.1" stroke="#8f9396" stroke-width="0.7"/>
<rect x="1148" y="984.2" width="2" height="7.8" fill="#9a9ea1"/>
<rect x="1177" y="984.2" width="2" height="7.8" fill="#9a9ea1"/>
<rect x="950.7" y="994.5" width="160.2" height="10.9" fill="#c9cbcd" stroke="#8f9193" stroke-width=".7"/>
<rect x="952.7" y="998" width="156.2" height="3.9" fill="#aeb2b5" stroke="#7d8184" stroke-width=".5"/>
<rect x="950.7" y="992.9" width="3.7" height="12.5" fill="#c9cbcd" stroke="#8f9193" stroke-width=".7"/>
<rect x="951.8" y="994.9" width="1.5" height="8.5" fill="#aeb2b5" stroke="#7d8184" stroke-width=".5"/>
<line x1="726.6" y1="741" x2="726.6" y2="796" stroke="#6b6b6b" stroke-width="0.8"/>
<line x1="736.6" y1="800" x2="776.7" y2="800" stroke="#6b6b6b" stroke-width="0.8"/>
<line x1="790.4" y1="800" x2="840" y2="800" stroke="#6b6b6b" stroke-width="0.8"/>
<line x1="1110.6" y1="787.6" x2="1110.6" y2="845.4" stroke="#6b6b6b" stroke-width="0.8"/>
<rect x="926.4" y="376.7" width="126.5" height="135" fill="#dcdcdc"/>
<rect x="926.4" y="504.1" width="14.9" height="146.9" fill="#dcdcdc"/>
<rect x="1050.1" y="303.4" width="171.8" height="347.1" fill="#dcdcdc"/>
<rect x="927.3" y="377.6" width="124.7" height="133.2" fill="#5c5c5c"/>
<rect x="927.3" y="505" width="13.1" height="145.1" fill="#5c5c5c"/>
<rect x="1051" y="304.3" width="170" height="345.3" fill="#5c5c5c"/>
<rect x="1220" y="639.2" width="10.6" height="11" fill="#dcdcdc"/>
<rect x="1219" y="640.2" width="10.6" height="9" fill="#5c5c5c"/>
<rect x="1111.9" y="302.5" width="48.3" height="13" fill="#9b9da0" stroke="#d7d7d7" stroke-width=".8"/>
<rect x="1116" y="305" width="40" height="8" fill="#aeb0b3"/>
<path d="M1063.5 636.4V386A72.4 72.4 0 0 1 1208.3 386V636.4Z" fill="#a9aaae" stroke="#e3e3e3" stroke-width="1"/>
<path d="M1066 383.2H1206M1066 398.9H1206M1066 414.7H1206M1066 430.2H1206M1066 445.2H1206M1066 460.8H1206M1066 476.5H1206" fill="none" stroke="#6f7074" stroke-width=".8"/>
<rect x="1066.3" y="381.5" width="4" height="111.5" fill="#97989c" stroke="#7d7e82" stroke-width=".5"/>
<rect x="1201.3" y="381.5" width="4" height="111.5" fill="#97989c" stroke="#7d7e82" stroke-width=".5"/>
<rect x="1124.9" y="378.4" width="21.5" height="118.2" fill="#77787c" stroke="#5f6064" stroke-width=".8"/>
<rect x="1129.2" y="382.5" width="13" height="110" fill="url(#gWell)" stroke="#dcdcde" stroke-width=".8"/>
<rect x="1151.2" y="584.3" width="47" height="47.6" fill="#3f77b6" rx="2"/>
<g transform="translate(1151.2 584.3)" fill="none" stroke="#e3ecf6" stroke-width="2.7" stroke-linecap="round" stroke-linejoin="round"><path d="M5.6 23.5A10.8 10.8 0 1 0 24.8 33.5"/><path d="M11.1 8L12.7 20.4H20.4L21.2 28.9H37"/><path d="M8.8 11.9L21.2 18.1"/></g>
<circle cx="1191.7" cy="613.5" r="2.4" fill="#e3ecf6"/>
<rect x="1051" y="581.3" width="12.5" height="51.3" fill="#b9bbbd"/>
<rect x="1052" y="586" width="4.5" height="6.5" fill="none" stroke="#5c5c5c" stroke-width=".9"/>
<line x1="1062.5" y1="584" x2="1062.5" y2="632" stroke="#5c5c5c" stroke-width="0.8"/>
<rect x="939.9" y="389.4" width="111.9" height="113.4" fill="#d6d6d6" stroke="#efefef" stroke-width=".8"/>
<rect x="955.4" y="394.4" width="81.4" height="8.8" fill="#8a8a8a"/>
<rect x="946.1" y="407.2" width="99.9" height="85.6" fill="#8f8f8f"/>
<rect x="951.6" y="412.2" width="88.9" height="75.6" fill="#646464"/>
<rect x="958.5" y="417.2" width="75.5" height="64.3" fill="#787a79"/>
<rect x="958.5" y="417.2" width="75.5" height="64.3" fill="#fff" filter="url(#conc)" opacity=".5"/>
<rect x="958.5" y="417.2" width="75.5" height="64.3" fill="#000" filter="url(#concd)" opacity=".45"/>
<rect x="969.5" y="496.3" width="35.5" height="2.7" fill="#8a8a8a"/>
<rect x="987" y="494" width="36.5" height="2.6" fill="#8a8a8a"/>
<rect x="999.2" y="503.6" width="47.6" height="7.2" fill="#b9bbbd" stroke="#dadada" stroke-width=".6"/>
<g id="lot">
<rect x="1715.5" y="132.5" width="326.3" height="517.3" fill="#c9cacc"/>
<rect x="2039" y="181.5" width="317.8" height="468.3" fill="#c9cacc"/>
<rect x="1716.5" y="133.5" width="324.3" height="515.3" fill="#55575a"/>
<rect x="2040" y="182.5" width="315.8" height="466.3" fill="#55575a"/>
<path d="M1718 135H2039.5V184H2354.5V647.5H1718Z" fill="#8f9091"/>
<rect x="1718" y="135" width="112.7" height="512.5" fill="#9fa0a1"/>
<rect x="1935.4" y="135" width="104.1" height="221.3" fill="#9fa0a1"/>
<rect x="1939.1" y="474.7" width="208.6" height="172.8" fill="#9fa0a1"/>
<rect x="2250.8" y="184" width="103.7" height="463.5" fill="#9fa0a1"/>
<path d="M1718 135H2039.5V184H2354.5V647.5H1718Z" fill="#fff" filter="url(#conc)" opacity=".32"/>
<path d="M1718 135H2039.5V184H2354.5V647.5H1718Z" fill="#000" filter="url(#concd)" opacity=".08"/>
<path d="M1830.7 135V647.5M1719 192.3H1830.7M1719 247.3H1830.7M1719 315H1830.7M1719 381.3H1830.7M1719 435.7H1830.7M1719 489.7H1830.7M1719 546.6H1830.7M1719 597.4H1830.7M1935.4 135V356.3M1935.4 196.5H2037.5M1937 255.9H2038.5M2037.5 184V255.9M1990.4 255.9V356.3M1935.4 356.3H2043M1937.9 474.7H2147.7M1939.1 474.7V586.6M1990.4 474.7V586.6M2043.5 474.7V586.6M2095.1 474.7V586.6M2147.7 474.7V586.6M1939.1 586.6H2147.7M1939.1 586.6V647.5M2043.5 586.6V647.5M2147.7 586.6V647.5M2250.8 184V647.5M2250.8 246.4H2354M2250.8 308.2H2354M2250.8 372.4H2354M2250.8 436.4H2354M2250.8 494H2354M2250.8 546.6H2354M2250.8 596.6H2354" fill="none" stroke="#e2b330" stroke-width="2"/>
<rect x="1716.4" y="132.4" width="3.2" height="3.2" fill="#111"/>
<rect x="1757" y="132.7" width="10" height="2.6" fill="#111"/>
<rect x="1825" y="132.7" width="10" height="2.6" fill="#111"/>
<rect x="1935.4" y="132.4" width="3.2" height="3.2" fill="#111"/>
<rect x="2037.4" y="132.4" width="3.2" height="3.2" fill="#111"/>
<rect x="2037.4" y="181.4" width="3.2" height="3.2" fill="#111"/>
<rect x="2138" y="181.7" width="10" height="2.6" fill="#111"/>
<rect x="2247" y="181.7" width="10" height="2.6" fill="#111"/>
<rect x="2352.4" y="181.4" width="3.2" height="3.2" fill="#111"/>
<rect x="1716.4" y="190.4" width="3.2" height="3.2" fill="#111"/>
<rect x="1716.4" y="245.4" width="3.2" height="3.2" fill="#111"/>
<rect x="1757" y="245.7" width="10" height="2.6" fill="#111"/>
<rect x="1825" y="245.7" width="10" height="2.6" fill="#111"/>
<rect x="1716.4" y="313.4" width="3.2" height="3.2" fill="#111"/>
<rect x="1716.4" y="379.4" width="3.2" height="3.2" fill="#111"/>
<rect x="1757" y="379.7" width="10" height="2.6" fill="#111"/>
<rect x="1825" y="379.7" width="10" height="2.6" fill="#111"/>
<rect x="1716.4" y="434.4" width="3.2" height="3.2" fill="#111"/>
<rect x="1757" y="434.7" width="10" height="2.6" fill="#111"/>
<rect x="1825" y="434.7" width="10" height="2.6" fill="#111"/>
<rect x="1716.4" y="488.4" width="3.2" height="3.2" fill="#111"/>
<rect x="1716.4" y="545.4" width="3.2" height="3.2" fill="#111"/>
<rect x="1757" y="545.7" width="10" height="2.6" fill="#111"/>
<rect x="1825" y="545.7" width="10" height="2.6" fill="#111"/>
<rect x="1716.4" y="595.4" width="3.2" height="3.2" fill="#111"/>
<rect x="1716.4" y="646.4" width="3.2" height="3.2" fill="#111"/>
<rect x="1757" y="646.7" width="10" height="2.6" fill="#111"/>
<rect x="1825" y="646.7" width="10" height="2.6" fill="#111"/>
<rect x="1937.4" y="646.4" width="3.2" height="3.2" fill="#111"/>
<rect x="2041.9" y="646.4" width="3.2" height="3.2" fill="#111"/>
<rect x="2146.1" y="646.4" width="3.2" height="3.2" fill="#111"/>
<rect x="2247" y="646.7" width="10" height="2.6" fill="#111"/>
<rect x="2352.4" y="646.4" width="3.2" height="3.2" fill="#111"/>
<rect x="1935.4" y="254.4" width="3.2" height="3.2" fill="#111"/>
<rect x="1937.4" y="545.4" width="3.2" height="3.2" fill="#111"/>
<rect x="2041.9" y="545.4" width="3.2" height="3.2" fill="#111"/>
<rect x="2146.1" y="545.4" width="3.2" height="3.2" fill="#111"/>
<rect x="2352.4" y="244.4" width="3.2" height="3.2" fill="#111"/>
<rect x="2352.4" y="306.4" width="3.2" height="3.2" fill="#111"/>
<rect x="2352.4" y="370.4" width="3.2" height="3.2" fill="#111"/>
<rect x="2247" y="434.7" width="10" height="2.6" fill="#111"/>
<rect x="2352.4" y="492.4" width="3.2" height="3.2" fill="#111"/>
<rect x="2247" y="545.7" width="10" height="2.6" fill="#111"/>
<rect x="2352.4" y="595.4" width="3.2" height="3.2" fill="#111"/>
<rect x="2247" y="306.7" width="10" height="2.6" fill="#111"/>
<rect x="1937.9" y="475" width="2.4" height="10" fill="#111"/>
<rect x="2042.3" y="475" width="2.4" height="10" fill="#111"/>
<rect x="2146.5" y="475" width="2.4" height="10" fill="#111"/>
<rect x="1936.8" y="341" width="2.4" height="10" fill="#111"/>
<rect x="2042.3" y="341" width="2.4" height="10" fill="#111"/>
<circle cx="2066.8" cy="209.8" r="22.3" fill="#7e8083"/>
<circle cx="2066.8" cy="209.8" r="21.5" fill="url(#gFan)" stroke="#f2f2f3" stroke-width="1"/>
<path d="M2066.8 209.8L2085.6 216.1A19.8 19.8 0 0 1 2081.6 222.9ZM2066.8 209.8L2070.7 229.2A19.8 19.8 0 0 1 2062.9 229.2ZM2066.8 209.8L2052 222.9A19.8 19.8 0 0 1 2048 216.1ZM2066.8 209.8L2048 203.5A19.8 19.8 0 0 1 2052 196.7ZM2066.8 209.8L2062.9 190.4A19.8 19.8 0 0 1 2070.7 190.4ZM2066.8 209.8L2081.6 196.7A19.8 19.8 0 0 1 2085.6 203.5Z" fill="#8a8c90"/>
<circle cx="2066.8" cy="209.8" r="6.9" fill="#8a8c90"/>
<circle cx="2117.8" cy="207" r="19.8" fill="#7e8083"/>
<circle cx="2117.8" cy="207" r="19" fill="url(#gFan)" stroke="#f2f2f3" stroke-width="1"/>
<path d="M2117.8 207L2134.4 212.6A17.5 17.5 0 0 1 2130.9 218.6ZM2117.8 207L2121.3 224.1A17.5 17.5 0 0 1 2114.3 224.1ZM2117.8 207L2104.7 218.6A17.5 17.5 0 0 1 2101.2 212.6ZM2117.8 207L2101.2 201.4A17.5 17.5 0 0 1 2104.7 195.4ZM2117.8 207L2114.3 189.9A17.5 17.5 0 0 1 2121.3 189.9ZM2117.8 207L2130.9 195.4A17.5 17.5 0 0 1 2134.4 201.4Z" fill="#8a8c90"/>
<circle cx="2117.8" cy="207" r="6.1" fill="#8a8c90"/>
<rect x="2044.5" y="256.6" width="41.5" height="97.4" fill="none" stroke="#77797c" stroke-width="1.2"/>
<rect x="2045" y="256.6" width="40.6" height="46.3" fill="#c9cacc" stroke="#6d6f72" stroke-width=".8"/>
<rect x="2049" y="259" width="33" height="3" fill="#85878a"/>
<rect x="2047.5" y="264" width="36" height="34" fill="#8e9092"/>
<rect x="2050" y="266.5" width="31" height="29" fill="#6b6d6f"/>
<rect x="2052.5" y="269" width="26" height="24" fill="#9a9b99"/>
<rect x="2052.5" y="269" width="26" height="24" fill="#000" filter="url(#concd)" opacity=".5"/>
<rect x="2056" y="299.3" width="18" height="1.7" fill="#77797c"/>
<rect x="2087.6" y="236.6" width="61.8" height="117.4" fill="#6a6b6e"/>
<rect x="2087.6" y="236.6" width="61.8" height="25.4" fill="#5a5b5e"/>
<path d="M2092 352.5V264A26.2 26.2 0 0 1 2144.4 264V352.5Z" fill="#b3b4b8" stroke="#dcdcde" stroke-width=".8"/>
<path d="M2093 264H2143.5M2093 269.3H2143.5M2093 274.6H2143.5M2093 279.9H2143.5M2093 285.2H2143.5M2093 290.5H2143.5M2093 295.8H2143.5M2093 301.1H2143.5" fill="none" stroke="#8d8e92" stroke-width=".6"/>
<rect x="2117.3" y="262" width="2" height="42" fill="#5f6063"/>
<rect x="2087.6" y="240" width="2.2" height="20" fill="#111"/>
<rect x="2147.2" y="240" width="2.2" height="20" fill="#111"/>
<rect x="2147.2" y="338" width="2.2" height="14" fill="#111"/>
<rect x="2088" y="352" width="10" height="2.2" fill="#111"/>
<rect x="2105" y="236.2" width="16" height="1.8" fill="#111"/>
</g>
<use href="#lot" y="564.5"/>
<g transform="translate(1986.6 161.5) rotate(0)">
<rect x="-46" y="-18.5" width="93" height="39" rx="10.5" fill="#000" opacity=".55" filter="url(#bl)"/>
<path d="M-45 0 Q-45 -17.5 -31.4 -17.5 L34.1 -17.5 Q45 -17.5 45 -6.7 L45 6.7 Q45 17.5 34.1 17.5 L-31.4 17.5 Q-45 17.5 -45 0 Z" fill="#6f6256" stroke="#000" stroke-opacity=".35" stroke-width=".7"/>
<rect x="-43" y="-9.6" width="86" height="19.2" rx="7" fill="#8d7f71" opacity=".55"/>
<polygon points="-20.7,-12.9 -9,-11.6 -9,11.6 -20.7,12.9" fill="#15171b"/>
<polygon points="21.6,-11.2 31.5,-12.2 31.5,12.2 21.6,11.2" fill="#15171b"/>
<polygon points="-18.7,-14 30.5,-13.7 21.6,-11.6 -9,-11.9" fill="#15171b"/>
<polygon points="-18.7,14 30.5,13.7 21.6,11.6 -9,11.9" fill="#15171b"/>
<rect x="-8.4" y="-11.2" width="29.4" height="22.4" rx="2" fill="#3a3632"/>
<ellipse cx="-19.2" cy="-18.1" rx="2" ry="1.1" fill="#6f6256"/>
<ellipse cx="-19.2" cy="18.1" rx="2" ry="1.1" fill="#6f6256"/>
<ellipse cx="-42.8" cy="-10.8" rx="1.8" ry="2.4" fill="#f4f1e6" opacity=".8"/>
<ellipse cx="-42.8" cy="10.8" rx="1.8" ry="2.4" fill="#f4f1e6" opacity=".8"/>
<rect x="42.8" y="-14" width="1.7" height="7" fill="#c52222"/>
<rect x="42.8" y="7" width="1.7" height="7" fill="#c52222"/>
</g>
<g transform="translate(1773.8 276) rotate(0)">
<rect x="-47.4" y="-20.4" width="95.7" height="42.8" rx="11.6" fill="#000" opacity=".55" filter="url(#bl)"/>
<path d="M-46.4 0 Q-46.4 -19.4 -31.2 -19.4 L34.3 -19.4 Q46.4 -19.4 46.4 -7.4 L46.4 7.4 Q46.4 19.4 34.3 19.4 L-31.2 19.4 Q-46.4 19.4 -46.4 0 Z" fill="#27457a" stroke="#000" stroke-opacity=".35" stroke-width=".7"/>
<rect x="-44.4" y="-10.7" width="88.7" height="21.3" rx="7.8" fill="#3a5c99" opacity=".55"/>
<polygon points="-21.3,-14.4 -9.3,-12.8 -9.3,12.8 -21.3,14.4" fill="#15171b"/>
<polygon points="22.2,-12.4 32.4,-13.6 32.4,13.6 22.2,12.4" fill="#15171b"/>
<polygon points="-19.3,-15.5 31.4,-15.1 22.2,-12.8 -9.3,-13.2" fill="#15171b"/>
<polygon points="-19.3,15.5 31.4,15.1 22.2,12.8 -9.3,13.2" fill="#15171b"/>
<rect x="-8.7" y="-12.4" width="30.3" height="24.8" rx="2" fill="#14171c"/>
<line x1="-7.3" y1="-9.7" x2="20.2" y2="-9.7" stroke="#cfd2d6" stroke-width="1"/>
<line x1="-7.3" y1="9.7" x2="20.2" y2="9.7" stroke="#cfd2d6" stroke-width="1"/>
<ellipse cx="-19.8" cy="-20" rx="2" ry="1.1" fill="#27457a"/>
<ellipse cx="-19.8" cy="20" rx="2" ry="1.1" fill="#27457a"/>
<ellipse cx="-44.1" cy="-12" rx="1.8" ry="2.4" fill="#f4f1e6" opacity=".8"/>
<ellipse cx="-44.1" cy="12" rx="1.8" ry="2.4" fill="#f4f1e6" opacity=".8"/>
<rect x="44.1" y="-15.5" width="1.7" height="7.8" fill="#c52222"/>
<rect x="44.1" y="7.8" width="1.7" height="7.8" fill="#c52222"/>
</g>
<g transform="translate(1773.6 404.4) rotate(0)">
<rect x="-47.5" y="-19.1" width="96" height="40.3" rx="10.9" fill="#000" opacity=".55" filter="url(#bl)"/>
<path d="M-46.5 0 Q-46.5 -18.1 -32.3 -18.1 L35.2 -18.1 Q46.5 -18.1 46.5 -6.9 L46.5 6.9 Q46.5 18.1 35.2 18.1 L-32.3 18.1 Q-46.5 18.1 -46.5 0 Z" fill="#e9eaec" stroke="#000" stroke-opacity=".35" stroke-width=".7"/>
<rect x="-44.5" y="-10" width="89" height="20" rx="7.3" fill="#ffffff" opacity=".55"/>
<polygon points="-21.4,-13.4 -9.3,-12 -9.3,12 -21.4,13.4" fill="#15171b"/>
<polygon points="22.3,-11.6 32.5,-12.7 32.5,12.7 22.3,11.6" fill="#15171b"/>
<polygon points="-19.4,-14.5 31.5,-14.2 22.3,-12 -9.3,-12.3" fill="#15171b"/>
<polygon points="-19.4,14.5 31.5,14.2 22.3,12 -9.3,12.3" fill="#15171b"/>
<rect x="-8.7" y="-11.6" width="30.4" height="23.2" rx="2" fill="#f4f5f6"/>
<ellipse cx="-19.9" cy="-18.8" rx="2" ry="1.1" fill="#e9eaec"/>
<ellipse cx="-19.9" cy="18.8" rx="2" ry="1.1" fill="#e9eaec"/>
<ellipse cx="-44.3" cy="-11.3" rx="1.8" ry="2.4" fill="#f4f1e6" opacity=".8"/>
<ellipse cx="-44.3" cy="11.3" rx="1.8" ry="2.4" fill="#f4f1e6" opacity=".8"/>
<rect x="44.3" y="-14.5" width="1.7" height="7.3" fill="#c52222"/>
<rect x="44.3" y="7.3" width="1.7" height="7.3" fill="#c52222"/>
</g>
<g transform="translate(1773.8 514.6) rotate(0)">
<rect x="-46" y="-19.1" width="93" height="40.3" rx="10.9" fill="#000" opacity=".55" filter="url(#bl)"/>
<path d="M-45 0 Q-45 -18.1 -30.8 -18.1 L36.8 -18.1 Q45 -18.1 45 -10 L45 10 Q45 18.1 36.8 18.1 L-30.8 18.1 Q-45 18.1 -45 0 Z" fill="#cfd1d4" stroke="#000" stroke-opacity=".35" stroke-width=".7"/>
<rect x="-43" y="-10" width="86" height="20" rx="7.3" fill="#eeeeee" opacity=".55"/>
<polygon points="-20.7,-13.4 -9,-12 -9,12 -20.7,13.4" fill="#15171b"/>
<polygon points="30.6,-11.6 38.7,-12.7 38.7,12.7 30.6,11.6" fill="#15171b"/>
<polygon points="-18.7,-14.5 37.7,-14.2 30.6,-12 -9,-12.3" fill="#15171b"/>
<polygon points="-18.7,14.5 37.7,14.2 30.6,12 -9,12.3" fill="#15171b"/>
<rect x="-8.4" y="-11.6" width="38.4" height="23.2" rx="2" fill="#f1f2f3"/>
<ellipse cx="-19.2" cy="-18.8" rx="2" ry="1.1" fill="#cfd1d4"/>
<ellipse cx="-19.2" cy="18.8" rx="2" ry="1.1" fill="#cfd1d4"/>
<ellipse cx="-42.8" cy="-11.3" rx="1.8" ry="2.4" fill="#f4f1e6" opacity=".8"/>
<ellipse cx="-42.8" cy="11.3" rx="1.8" ry="2.4" fill="#f4f1e6" opacity=".8"/>
<rect x="42.8" y="-14.5" width="1.7" height="7.3" fill="#c52222"/>
<rect x="42.8" y="7.3" width="1.7" height="7.3" fill="#c52222"/>
</g>
<g transform="translate(2069.9 537.1) rotate(90)">
<rect x="-45.5" y="-17.9" width="92" height="37.8" rx="10.1" fill="#000" opacity=".55" filter="url(#bl)"/>
<path d="M-44.5 0 Q-44.5 -16.9 -31.3 -16.9 L34 -16.9 Q44.5 -16.9 44.5 -6.4 L44.5 6.4 Q44.5 16.9 34 16.9 L-31.3 16.9 Q-44.5 16.9 -44.5 0 Z" fill="#c9cbce" stroke="#000" stroke-opacity=".35" stroke-width=".7"/>
<rect x="-42.5" y="-9.3" width="85" height="18.6" rx="6.8" fill="#f0f0f0" opacity=".55"/>
<polygon points="-20.5,-12.5 -8.9,-11.2 -8.9,11.2 -20.5,12.5" fill="#15171b"/>
<polygon points="21.4,-10.8 31.1,-11.8 31.1,11.8 21.4,10.8" fill="#15171b"/>
<polygon points="-18.5,-13.5 30.1,-13.2 21.4,-11.2 -8.9,-11.5" fill="#15171b"/>
<polygon points="-18.5,13.5 30.1,13.2 21.4,11.2 -8.9,11.5" fill="#15171b"/>
<rect x="-8.3" y="-10.8" width="29.1" height="21.6" rx="2" fill="#dcdde0"/>
<ellipse cx="-19" cy="-17.5" rx="2" ry="1.1" fill="#c9cbce"/>
<ellipse cx="-19" cy="17.5" rx="2" ry="1.1" fill="#c9cbce"/>
<ellipse cx="-42.3" cy="-10.5" rx="1.8" ry="2.4" fill="#f4f1e6" opacity=".8"/>
<ellipse cx="-42.3" cy="10.5" rx="1.8" ry="2.4" fill="#f4f1e6" opacity=".8"/>
<rect x="42.3" y="-13.5" width="1.7" height="6.8" fill="#c52222"/>
<rect x="42.3" y="6.8" width="1.7" height="6.8" fill="#c52222"/>
</g>
<g transform="translate(2300.2 273.4) rotate(0)">
<rect x="-42" y="-17.6" width="85" height="37.2" rx="10" fill="#000" opacity=".55" filter="url(#bl)"/>
<path d="M-41 0 Q-41 -16.6 -28.1 -16.6 L30.7 -16.6 Q41 -16.6 41 -6.3 L41 6.3 Q41 16.6 30.7 16.6 L-28.1 16.6 Q-41 16.6 -41 0 Z" fill="#3a3b39" stroke="#000" stroke-opacity=".35" stroke-width=".7"/>
<rect x="-39" y="-9.1" width="78" height="18.3" rx="6.6" fill="#55564f" opacity=".55"/>
<polygon points="-18.9,-12.3 -8.2,-11 -8.2,11 -18.9,12.3" fill="#15171b"/>
<polygon points="19.7,-10.6 28.7,-11.6 28.7,11.6 19.7,10.6" fill="#15171b"/>
<polygon points="-16.9,-13.3 27.7,-12.9 19.7,-11 -8.2,-11.3" fill="#15171b"/>
<polygon points="-16.9,13.3 27.7,12.9 19.7,11 -8.2,11.3" fill="#15171b"/>
<rect x="-7.6" y="-10.6" width="26.7" height="21.2" rx="2" fill="#4a4b48"/>
<ellipse cx="-17.4" cy="-17.2" rx="2" ry="1.1" fill="#3a3b39"/>
<ellipse cx="-17.4" cy="17.2" rx="2" ry="1.1" fill="#3a3b39"/>
<ellipse cx="-38.8" cy="-10.3" rx="1.8" ry="2.4" fill="#f4f1e6" opacity=".8"/>
<ellipse cx="-38.8" cy="10.3" rx="1.8" ry="2.4" fill="#f4f1e6" opacity=".8"/>
<rect x="38.8" y="-13.3" width="1.7" height="6.6" fill="#c52222"/>
<rect x="38.8" y="6.6" width="1.7" height="6.6" fill="#c52222"/>
</g>
<g transform="translate(2298 460.8) rotate(180)">
<rect x="-43.2" y="-20.4" width="87.5" height="42.8" rx="11.6" fill="#000" opacity=".55" filter="url(#bl)"/>
<path d="M-42.2 0 Q-42.2 -19.4 -27.1 -19.4 L30.2 -19.4 Q42.2 -19.4 42.2 -7.4 L42.2 7.4 Q42.2 19.4 30.2 19.4 L-27.1 19.4 Q-42.2 19.4 -42.2 0 Z" fill="#d8231f" stroke="#000" stroke-opacity=".35" stroke-width=".7"/>
<rect x="-40.2" y="-10.7" width="80.5" height="21.3" rx="7.8" fill="#ee3a33" opacity=".55"/>
<polygon points="-19.4,-14.4 -8.4,-12.8 -8.4,12.8 -19.4,14.4" fill="#15171b"/>
<polygon points="20.3,-12.4 29.6,-13.6 29.6,13.6 20.3,12.4" fill="#15171b"/>
<polygon points="-17.4,-15.5 28.6,-15.1 20.3,-12.8 -8.4,-13.2" fill="#15171b"/>
<polygon points="-17.4,15.5 28.6,15.1 20.3,12.8 -8.4,13.2" fill="#15171b"/>
<rect x="-7.8" y="-12.4" width="27.5" height="24.8" rx="2" fill="#2a2c30"/>
<ellipse cx="-17.9" cy="-20" rx="2" ry="1.1" fill="#d8231f"/>
<ellipse cx="-17.9" cy="20" rx="2" ry="1.1" fill="#d8231f"/>
<ellipse cx="-40" cy="-12" rx="1.8" ry="2.4" fill="#f4f1e6" opacity=".8"/>
<ellipse cx="-40" cy="12" rx="1.8" ry="2.4" fill="#f4f1e6" opacity=".8"/>
<rect x="40" y="-15.5" width="1.7" height="7.8" fill="#c52222"/>
<rect x="40" y="7.8" width="1.7" height="7.8" fill="#c52222"/>
</g>
<g transform="translate(2297.3 617.6) rotate(0)">
<rect x="-37" y="-19.4" width="75" height="40.7" rx="11" fill="#000" opacity=".55" filter="url(#bl)"/>
<path d="M-36 0 Q-36 -18.4 -21.7 -18.4 L27.7 -18.4 Q36 -18.4 36 -10.1 L36 10.1 Q36 18.4 27.7 18.4 L-21.7 18.4 Q-36 18.4 -36 0 Z" fill="#c9c14a" stroke="#000" stroke-opacity=".35" stroke-width=".7"/>
<rect x="-34" y="-10.1" width="68" height="20.2" rx="7.3" fill="#e2dc7c" opacity=".55"/>
<polygon points="-16.6,-13.6 -7.2,-12.1 -7.2,12.1 -16.6,13.6" fill="#15171b"/>
<polygon points="24.5,-11.7 31,-12.8 31,12.8 24.5,11.7" fill="#15171b"/>
<polygon points="-14.6,-14.7 30,-14.3 24.5,-12.1 -7.2,-12.5" fill="#15171b"/>
<polygon points="-14.6,14.7 30,14.3 24.5,12.1 -7.2,12.5" fill="#15171b"/>
<rect x="-6.6" y="-11.7" width="30.5" height="23.5" rx="2" fill="#d6cf62"/>
<ellipse cx="-15.1" cy="-19" rx="2" ry="1.1" fill="#c9c14a"/>
<ellipse cx="-15.1" cy="19" rx="2" ry="1.1" fill="#c9c14a"/>
<ellipse cx="-33.8" cy="-11.4" rx="1.8" ry="2.4" fill="#f4f1e6" opacity=".8"/>
<ellipse cx="-33.8" cy="11.4" rx="1.8" ry="2.4" fill="#f4f1e6" opacity=".8"/>
<rect x="33.8" y="-14.7" width="1.7" height="7.3" fill="#c52222"/>
<rect x="33.8" y="7.3" width="1.7" height="7.3" fill="#c52222"/>
</g>
<g transform="translate(1988 784.6) rotate(180)">
<rect x="-44.9" y="-20.4" width="90.7" height="42.8" rx="11.6" fill="#000" opacity=".55" filter="url(#bl)"/>
<path d="M-43.9 0 Q-43.9 -19.4 -28.7 -19.4 L31.8 -19.4 Q43.9 -19.4 43.9 -7.4 L43.9 7.4 Q43.9 19.4 31.8 19.4 L-28.7 19.4 Q-43.9 19.4 -43.9 0 Z" fill="#d8231f" stroke="#000" stroke-opacity=".35" stroke-width=".7"/>
<rect x="-41.9" y="-10.7" width="83.7" height="21.3" rx="7.8" fill="#ee3a33" opacity=".55"/>
<polygon points="-20.2,-14.4 -8.8,-12.8 -8.8,12.8 -20.2,14.4" fill="#15171b"/>
<polygon points="21,-12.4 30.7,-13.6 30.7,13.6 21,12.4" fill="#15171b"/>
<polygon points="-18.2,-15.5 29.7,-15.1 21,-12.8 -8.8,-13.2" fill="#15171b"/>
<polygon points="-18.2,15.5 29.7,15.1 21,12.8 -8.8,13.2" fill="#15171b"/>
<rect x="-8.2" y="-12.4" width="28.6" height="24.8" rx="2" fill="#2a2c30"/>
<ellipse cx="-18.7" cy="-20" rx="2" ry="1.1" fill="#d8231f"/>
<ellipse cx="-18.7" cy="20" rx="2" ry="1.1" fill="#d8231f"/>
<ellipse cx="-41.6" cy="-12" rx="1.8" ry="2.4" fill="#f4f1e6" opacity=".8"/>
<ellipse cx="-41.6" cy="12" rx="1.8" ry="2.4" fill="#f4f1e6" opacity=".8"/>
<rect x="41.6" y="-15.5" width="1.7" height="7.8" fill="#c52222"/>
<rect x="41.6" y="7.8" width="1.7" height="7.8" fill="#c52222"/>
</g>
<g transform="translate(1772.6 842.2) rotate(0)">
<rect x="-48.5" y="-19.1" width="98" height="40.3" rx="10.9" fill="#000" opacity=".55" filter="url(#bl)"/>
<path d="M-47.5 0 Q-47.5 -18.1 -33.3 -18.1 L36.2 -18.1 Q47.5 -18.1 47.5 -6.9 L47.5 6.9 Q47.5 18.1 36.2 18.1 L-33.3 18.1 Q-47.5 18.1 -47.5 0 Z" fill="#6f6256" stroke="#000" stroke-opacity=".35" stroke-width=".7"/>
<rect x="-45.5" y="-10" width="91" height="20" rx="7.3" fill="#8d7f71" opacity=".55"/>
<polygon points="-21.8,-13.4 -9.5,-12 -9.5,12 -21.8,13.4" fill="#15171b"/>
<polygon points="22.8,-11.6 33.2,-12.7 33.2,12.7 22.8,11.6" fill="#15171b"/>
<polygon points="-19.8,-14.5 32.2,-14.2 22.8,-12 -9.5,-12.3" fill="#15171b"/>
<polygon points="-19.8,14.5 32.2,14.2 22.8,12 -9.5,12.3" fill="#15171b"/>
<rect x="-8.9" y="-11.6" width="31.1" height="23.2" rx="2" fill="#4d5258"/>
<ellipse cx="-20.3" cy="-18.8" rx="2" ry="1.1" fill="#6f6256"/>
<ellipse cx="-20.3" cy="18.8" rx="2" ry="1.1" fill="#6f6256"/>
<ellipse cx="-45.3" cy="-11.3" rx="1.8" ry="2.4" fill="#f4f1e6" opacity=".8"/>
<ellipse cx="-45.3" cy="11.3" rx="1.8" ry="2.4" fill="#f4f1e6" opacity=".8"/>
<rect x="45.3" y="-14.5" width="1.7" height="7.3" fill="#c52222"/>
<rect x="45.3" y="7.3" width="1.7" height="7.3" fill="#c52222"/>
</g>
<g transform="translate(1770.8 1135.3) rotate(0)">
<rect x="-48" y="-20.5" width="97" height="43" rx="11.7" fill="#000" opacity=".55" filter="url(#bl)"/>
<path d="M-47 0 Q-47 -19.5 -31.8 -19.5 L34.9 -19.5 Q47 -19.5 47 -7.4 L47 7.4 Q47 19.5 34.9 19.5 L-31.8 19.5 Q-47 19.5 -47 0 Z" fill="#e9eaec" stroke="#000" stroke-opacity=".35" stroke-width=".7"/>
<rect x="-45" y="-10.7" width="90" height="21.5" rx="7.8" fill="#ffffff" opacity=".55"/>
<polygon points="-21.6,-14.4 -9.4,-12.9 -9.4,12.9 -21.6,14.4" fill="#15171b"/>
<polygon points="22.6,-12.5 32.9,-13.6 32.9,13.6 22.6,12.5" fill="#15171b"/>
<polygon points="-19.6,-15.6 31.9,-15.2 22.6,-12.9 -9.4,-13.3" fill="#15171b"/>
<polygon points="-19.6,15.6 31.9,15.2 22.6,12.9 -9.4,13.3" fill="#15171b"/>
<rect x="-8.8" y="-12.5" width="30.8" height="25" rx="2" fill="#f4f5f6"/>
<ellipse cx="-20.1" cy="-20.1" rx="2" ry="1.1" fill="#e9eaec"/>
<ellipse cx="-20.1" cy="20.1" rx="2" ry="1.1" fill="#e9eaec"/>
<ellipse cx="-44.8" cy="-12.1" rx="1.8" ry="2.4" fill="#f4f1e6" opacity=".8"/>
<ellipse cx="-44.8" cy="12.1" rx="1.8" ry="2.4" fill="#f4f1e6" opacity=".8"/>
<rect x="44.8" y="-15.6" width="1.7" height="7.8" fill="#c52222"/>
<rect x="44.8" y="7.8" width="1.7" height="7.8" fill="#c52222"/>
</g>
<g transform="translate(1966 1097.6) rotate(90)">
<rect x="-36.2" y="-20.3" width="73.5" height="42.6" rx="11.6" fill="#000" opacity=".55" filter="url(#bl)"/>
<path d="M-35.2 0 Q-35.2 -19.3 -20.2 -19.3 L26.6 -19.3 Q35.2 -19.3 35.2 -10.6 L35.2 10.6 Q35.2 19.3 26.6 19.3 L-20.2 19.3 Q-35.2 19.3 -35.2 0 Z" fill="#c9c14a" stroke="#000" stroke-opacity=".35" stroke-width=".7"/>
<rect x="-33.2" y="-10.6" width="66.5" height="21.2" rx="7.7" fill="#e2dc7c" opacity=".55"/>
<polygon points="-16.2,-14.3 -7,-12.7 -7,12.7 -16.2,14.3" fill="#15171b"/>
<polygon points="24,-12.4 30.3,-13.5 30.3,13.5 24,12.4" fill="#15171b"/>
<polygon points="-14.2,-15.4 29.3,-15.1 24,-12.7 -7,-13.1" fill="#15171b"/>
<polygon points="-14.2,15.4 29.3,15.1 24,12.7 -7,13.1" fill="#15171b"/>
<rect x="-6.4" y="-12.4" width="29.8" height="24.7" rx="2" fill="#d6cf62"/>
<ellipse cx="-14.7" cy="-19.9" rx="2" ry="1.1" fill="#c9c14a"/>
<ellipse cx="-14.7" cy="19.9" rx="2" ry="1.1" fill="#c9c14a"/>
<ellipse cx="-33" cy="-12" rx="1.8" ry="2.4" fill="#f4f1e6" opacity=".8"/>
<ellipse cx="-33" cy="12" rx="1.8" ry="2.4" fill="#f4f1e6" opacity=".8"/>
<rect x="33" y="-15.4" width="1.7" height="7.7" fill="#c52222"/>
<rect x="33" y="7.7" width="1.7" height="7.7" fill="#c52222"/>
</g>
<g transform="translate(2070.8 1101) rotate(90)">
<rect x="-46.4" y="-18.9" width="93.8" height="39.8" rx="10.7" fill="#000" opacity=".55" filter="url(#bl)"/>
<path d="M-45.4 0 Q-45.4 -17.9 -31.4 -17.9 L34.3 -17.9 Q45.4 -17.9 45.4 -6.8 L45.4 6.8 Q45.4 17.9 34.3 17.9 L-31.4 17.9 Q-45.4 17.9 -45.4 0 Z" fill="#c9cbce" stroke="#000" stroke-opacity=".35" stroke-width=".7"/>
<rect x="-43.4" y="-9.8" width="86.8" height="19.7" rx="7.2" fill="#f0f0f0" opacity=".55"/>
<polygon points="-20.9,-13.2 -9.1,-11.8 -9.1,11.8 -20.9,13.2" fill="#15171b"/>
<polygon points="21.8,-11.5 31.8,-12.5 31.8,12.5 21.8,11.5" fill="#15171b"/>
<polygon points="-18.9,-14.3 30.8,-14 21.8,-11.8 -9.1,-12.2" fill="#15171b"/>
<polygon points="-18.9,14.3 30.8,14 21.8,11.8 -9.1,12.2" fill="#15171b"/>
<rect x="-8.5" y="-11.5" width="29.7" height="22.9" rx="2" fill="#dcdde0"/>
<ellipse cx="-19.4" cy="-18.5" rx="2" ry="1.1" fill="#c9cbce"/>
<ellipse cx="-19.4" cy="18.5" rx="2" ry="1.1" fill="#c9cbce"/>
<ellipse cx="-43.2" cy="-11.1" rx="1.8" ry="2.4" fill="#f4f1e6" opacity=".8"/>
<ellipse cx="-43.2" cy="11.1" rx="1.8" ry="2.4" fill="#f4f1e6" opacity=".8"/>
<rect x="43.2" y="-14.3" width="1.7" height="7.2" fill="#c52222"/>
<rect x="43.2" y="7.2" width="1.7" height="7.2" fill="#c52222"/>
</g>
<g transform="translate(2305 909.8) rotate(180)">
<rect x="-44.5" y="-20" width="90" height="42" rx="11.4" fill="#000" opacity=".55" filter="url(#bl)"/>
<path d="M-43.5 0 Q-43.5 -19 -28.7 -19 L31.7 -19 Q43.5 -19 43.5 -7.2 L43.5 7.2 Q43.5 19 31.7 19 L-28.7 19 Q-43.5 19 -43.5 0 Z" fill="#27457a" stroke="#000" stroke-opacity=".35" stroke-width=".7"/>
<rect x="-41.5" y="-10.5" width="83" height="20.9" rx="7.6" fill="#3a5c99" opacity=".55"/>
<polygon points="-20,-14.1 -8.7,-12.5 -8.7,12.5 -20,14.1" fill="#15171b"/>
<polygon points="20.9,-12.2 30.5,-13.3 30.5,13.3 20.9,12.2" fill="#15171b"/>
<polygon points="-18,-15.2 29.5,-14.8 20.9,-12.5 -8.7,-12.9" fill="#15171b"/>
<polygon points="-18,15.2 29.5,14.8 20.9,12.5 -8.7,12.9" fill="#15171b"/>
<rect x="-8.1" y="-12.2" width="28.4" height="24.3" rx="2" fill="#14171c"/>
<line x1="-6.7" y1="-9.5" x2="18.9" y2="-9.5" stroke="#cfd2d6" stroke-width="1"/>
<line x1="-6.7" y1="9.5" x2="18.9" y2="9.5" stroke="#cfd2d6" stroke-width="1"/>
<ellipse cx="-18.5" cy="-19.6" rx="2" ry="1.1" fill="#27457a"/>
<ellipse cx="-18.5" cy="19.6" rx="2" ry="1.1" fill="#27457a"/>
<ellipse cx="-41.3" cy="-11.8" rx="1.8" ry="2.4" fill="#f4f1e6" opacity=".8"/>
<ellipse cx="-41.3" cy="11.8" rx="1.8" ry="2.4" fill="#f4f1e6" opacity=".8"/>
<rect x="41.3" y="-15.2" width="1.7" height="7.6" fill="#c52222"/>
<rect x="41.3" y="7.6" width="1.7" height="7.6" fill="#c52222"/>
</g>
<g transform="translate(2302 1080.2) rotate(0)">
<rect x="-45.5" y="-20" width="92" height="42" rx="11.4" fill="#000" opacity=".55" filter="url(#bl)"/>
<path d="M-44.5 0 Q-44.5 -19 -29.7 -19 L36 -19 Q44.5 -19 44.5 -10.4 L44.5 10.4 Q44.5 19 36 19 L-29.7 19 Q-44.5 19 -44.5 0 Z" fill="#cfd1d4" stroke="#000" stroke-opacity=".35" stroke-width=".7"/>
<rect x="-42.5" y="-10.5" width="85" height="20.9" rx="7.6" fill="#eeeeee" opacity=".55"/>
<polygon points="-20.5,-14.1 -8.9,-12.5 -8.9,12.5 -20.5,14.1" fill="#15171b"/>
<polygon points="30.3,-12.2 38.3,-13.3 38.3,13.3 30.3,12.2" fill="#15171b"/>
<polygon points="-18.5,-15.2 37.3,-14.8 30.3,-12.5 -8.9,-12.9" fill="#15171b"/>
<polygon points="-18.5,15.2 37.3,14.8 30.3,12.5 -8.9,12.9" fill="#15171b"/>
<rect x="-8.3" y="-12.2" width="38" height="24.3" rx="2" fill="#f1f2f3"/>
<ellipse cx="-19" cy="-19.6" rx="2" ry="1.1" fill="#cfd1d4"/>
<ellipse cx="-19" cy="19.6" rx="2" ry="1.1" fill="#cfd1d4"/>
<ellipse cx="-42.3" cy="-11.8" rx="1.8" ry="2.4" fill="#f4f1e6" opacity=".8"/>
<ellipse cx="-42.3" cy="11.8" rx="1.8" ry="2.4" fill="#f4f1e6" opacity=".8"/>
<rect x="42.3" y="-15.2" width="1.7" height="7.6" fill="#c52222"/>
<rect x="42.3" y="7.6" width="1.7" height="7.6" fill="#c52222"/>
</g>
<text x="1802.7" y="162" font-size="7" fill="#26282b" text-anchor="middle" font-weight="bold">BOX 23</text>
<text x="1802.7" y="170.6" font-size="7" fill="#26282b" text-anchor="middle" font-weight="bold">A= 14,70 m²</text>
<text x="1802.7" y="216.5" font-size="7" fill="#26282b" text-anchor="middle" font-weight="bold">BOX 22</text>
<text x="1802.7" y="225.1" font-size="7" fill="#26282b" text-anchor="middle" font-weight="bold">A= 14,70 m²</text>
<text x="1802.7" y="302.9" font-size="7" fill="#26282b" text-anchor="middle" font-weight="bold">BOX 21</text>
<text x="1802.7" y="311.5" font-size="7" fill="#26282b" text-anchor="middle" font-weight="bold">A= 17,95 m²</text>
<text x="1802.7" y="347" font-size="7" fill="#26282b" text-anchor="middle" font-weight="bold">BOX 20</text>
<text x="1802.7" y="355.6" font-size="7" fill="#26282b" text-anchor="middle" font-weight="bold">A= 17,95 m²</text>
<text x="1802.7" y="462.2" font-size="7" fill="#26282b" text-anchor="middle" font-weight="bold">BOX 18</text>
<text x="1802.7" y="470.8" font-size="7" fill="#26282b" text-anchor="middle" font-weight="bold">A= 14,83 m²</text>
<text x="1803.2" y="619.7" font-size="7" fill="#26282b" text-anchor="middle" font-weight="bold">BOX 15</text>
<text x="1803.2" y="628.3" font-size="7" fill="#26282b" text-anchor="middle" font-weight="bold">A= 13,54 m²</text>
<text x="1963.4" y="223.3" font-size="7" fill="#26282b" text-anchor="middle" font-weight="bold">BOX 25</text>
<text x="1963.4" y="231.9" font-size="7" fill="#26282b" text-anchor="middle" font-weight="bold">A= 14,67 m²</text>
<text x="1962.9" y="323" font-size="7" fill="#26282b" text-anchor="middle" font-weight="bold">BOX 26</text>
<text x="1962.9" y="331.6" font-size="7" fill="#26282b" text-anchor="middle" font-weight="bold">A= 12,40 m²</text>
<text x="2016" y="323" font-size="7" fill="#26282b" text-anchor="middle" font-weight="bold">BOX 27</text>
<text x="2016" y="331.6" font-size="7" fill="#26282b" text-anchor="middle" font-weight="bold">A= 12,40 m²</text>
<text x="2277.9" y="215.8" font-size="7" fill="#26282b" text-anchor="middle" font-weight="bold">BOX 08</text>
<text x="2277.9" y="224.4" font-size="7" fill="#26282b" text-anchor="middle" font-weight="bold">A= 15,13 m²</text>
<text x="2278.4" y="338.8" font-size="7" fill="#26282b" text-anchor="middle" font-weight="bold">BOX 06</text>
<text x="2278.4" y="347.4" font-size="7" fill="#26282b" text-anchor="middle" font-weight="bold">A= 15,67 m²</text>
<text x="2278.4" y="400.9" font-size="7" fill="#26282b" text-anchor="middle" font-weight="bold">BOX 05</text>
<text x="2278.4" y="409.5" font-size="7" fill="#26282b" text-anchor="middle" font-weight="bold">A= 15,67 m²</text>
<text x="2277.9" y="517.3" font-size="7" fill="#26282b" text-anchor="middle" font-weight="bold">BOX 03</text>
<text x="2277.9" y="525.9" font-size="7" fill="#26282b" text-anchor="middle" font-weight="bold">A= 13,60 m²</text>
<text x="2278.4" y="570.9" font-size="7" fill="#26282b" text-anchor="middle" font-weight="bold">BOX 02</text>
<text x="2278.4" y="579.5" font-size="7" fill="#26282b" text-anchor="middle" font-weight="bold">A= 12,37 m²</text>
<text x="1965.9" y="531.5" font-size="7" fill="#26282b" text-anchor="middle" font-weight="bold">BOX 13</text>
<text x="1965.9" y="540.1" font-size="7" fill="#26282b" text-anchor="middle" font-weight="bold">A= 14,10 m²</text>
<text x="2016.7" y="531.5" font-size="7" fill="#26282b" text-anchor="middle" font-weight="bold">BOX 12</text>
<text x="2016.7" y="540.1" font-size="7" fill="#26282b" text-anchor="middle" font-weight="bold">A= 14,10 m²</text>
<text x="2068.5" y="482" font-size="7" fill="#26282b" text-anchor="middle" font-weight="bold">BOX 11</text>
<text x="2068.5" y="490.6" font-size="7" fill="#26282b" text-anchor="middle" font-weight="bold">A= 13,85 m²</text>
<text x="2120.6" y="528.3" font-size="7" fill="#26282b" text-anchor="middle" font-weight="bold">BOX 10</text>
<text x="2120.6" y="536.9" font-size="7" fill="#26282b" text-anchor="middle" font-weight="bold">A= 13,85 m²</text>
<text x="1966.1" y="613.7" font-size="7" fill="#26282b" text-anchor="middle" font-weight="bold">BOX 14</text>
<text x="1966.1" y="622.3" font-size="7" fill="#26282b" text-anchor="middle" font-weight="bold">A= 15,33 m²</text>
<text x="2118.6" y="613.7" font-size="7" fill="#26282b" text-anchor="middle" font-weight="bold">BOX 09</text>
<text x="2118.6" y="622.3" font-size="7" fill="#26282b" text-anchor="middle" font-weight="bold">A= 15,33 m²</text>
<text x="1803.2" y="571.1" font-size="7" fill="#26282b" text-anchor="middle" font-weight="bold">BOX 16</text>
<text x="1803.2" y="579.7" font-size="7" fill="#26282b" text-anchor="middle" font-weight="bold">A= 13,54m²</text>
<text x="1793.1" y="432.7" font-size="7" fill="#26282b" text-anchor="middle" font-weight="bold">BOX 19/ A= 14,50 m²</text>
<text x="1792.6" y="543.3" font-size="7" fill="#26282b" text-anchor="middle" font-weight="bold">BOX 17/ A= 14,83 m²</text>
<text x="1978.4" y="192.8" font-size="7" fill="#26282b" text-anchor="middle" font-weight="bold">BOX 24/ A= 14,67 m²</text>
<text x="2288.9" y="304.9" font-size="7" fill="#26282b" text-anchor="middle" font-weight="bold">BOX 07/ A= 15,13 m²</text>
<text x="2290.9" y="490.2" font-size="7" fill="#26282b" text-anchor="middle" font-weight="bold">BOX 04/ A= 13,60 m²</text>
<text x="2292.9" y="644.8" font-size="7" fill="#26282b" text-anchor="middle" font-weight="bold">BOX 01/ A= 12,37 m²</text>
<text x="2043.5" y="415.6" font-size="6.6" fill="#26282b" text-anchor="middle" font-weight="bold">CIRCULAÇÃO</text>
<text x="2066" y="283.6" font-size="6.4" fill="#fff" text-anchor="middle" font-weight="bold">ELEVADOR</text>
<text x="2117.6" y="324.2" font-size="6.4" fill="#26282b" text-anchor="middle" font-weight="bold">ESCADA</text>
<text x="1802.6" y="726.2" font-size="7" fill="#26282b" text-anchor="middle" font-weight="bold">BOX 36</text>
<text x="1802.6" y="734.8" font-size="7" fill="#26282b" text-anchor="middle" font-weight="bold">A= 14,70 m²</text>
<text x="1802.6" y="781.1" font-size="7" fill="#26282b" text-anchor="middle" font-weight="bold">BOX 35</text>
<text x="1802.6" y="789.7" font-size="7" fill="#26282b" text-anchor="middle" font-weight="bold">A= 14,70 m²</text>
<text x="1802.6" y="867.3" font-size="7" fill="#26282b" text-anchor="middle" font-weight="bold">BOX 34</text>
<text x="1802.6" y="875.9" font-size="7" fill="#26282b" text-anchor="middle" font-weight="bold">A= 17,95 m²</text>
<text x="1802.6" y="911.4" font-size="7" fill="#26282b" text-anchor="middle" font-weight="bold">BOX 33</text>
<text x="1802.6" y="920" font-size="7" fill="#26282b" text-anchor="middle" font-weight="bold">A= 17,95 m²</text>
<text x="1802.6" y="971.2" font-size="7" fill="#26282b" text-anchor="middle" font-weight="bold">BOX 32</text>
<text x="1802.6" y="979.8" font-size="7" fill="#26282b" text-anchor="middle" font-weight="bold">A= 14,50 m²</text>
<text x="1802.6" y="1026.5" font-size="7" fill="#26282b" text-anchor="middle" font-weight="bold">BOX 31</text>
<text x="1802.6" y="1035.1" font-size="7" fill="#26282b" text-anchor="middle" font-weight="bold">A= 14,83 m²</text>
<text x="1802.6" y="1079.5" font-size="7" fill="#26282b" text-anchor="middle" font-weight="bold">BOX 30</text>
<text x="1802.6" y="1088.1" font-size="7" fill="#26282b" text-anchor="middle" font-weight="bold">A= 14,83 m²</text>
<text x="1802.6" y="1183.8" font-size="7" fill="#26282b" text-anchor="middle" font-weight="bold">BOX 28</text>
<text x="1802.6" y="1192.4" font-size="7" fill="#26282b" text-anchor="middle" font-weight="bold">A= 13,54 m²</text>
<text x="1963.3" y="727.7" font-size="7" fill="#26282b" text-anchor="middle" font-weight="bold">BOX 37</text>
<text x="1963.3" y="736.3" font-size="7" fill="#26282b" text-anchor="middle" font-weight="bold">A= 14,67 m²</text>
<text x="1963.3" y="808.5" font-size="7" fill="#26282b" text-anchor="middle" font-weight="bold">BOX 38</text>
<text x="1963.3" y="817.1" font-size="7" fill="#26282b" text-anchor="middle" font-weight="bold">A= 14,67 m²</text>
<text x="1962.3" y="887.4" font-size="7" fill="#26282b" text-anchor="middle" font-weight="bold">BOX 39</text>
<text x="1962.3" y="896" font-size="7" fill="#26282b" text-anchor="middle" font-weight="bold">A= 12,40 m²</text>
<text x="2016.2" y="887.4" font-size="7" fill="#26282b" text-anchor="middle" font-weight="bold">BOX 40</text>
<text x="2016.2" y="896" font-size="7" fill="#26282b" text-anchor="middle" font-weight="bold">A= 12,40 m²</text>
<text x="1963.8" y="1047.1" font-size="7" fill="#26282b" text-anchor="middle" font-weight="bold">BOX 42</text>
<text x="1963.8" y="1055.7" font-size="7" fill="#26282b" text-anchor="middle" font-weight="bold">A= 14,10 m²</text>
<text x="2016.7" y="1096.1" font-size="7" fill="#26282b" text-anchor="middle" font-weight="bold">BOX 43</text>
<text x="2016.7" y="1104.7" font-size="7" fill="#26282b" text-anchor="middle" font-weight="bold">A= 14,10 m²</text>
<text x="2069.1" y="1047.1" font-size="7" fill="#26282b" text-anchor="middle" font-weight="bold">BOX 44</text>
<text x="2069.1" y="1055.7" font-size="7" fill="#26282b" text-anchor="middle" font-weight="bold">A= 13,85 m²</text>
<text x="2121" y="1092.7" font-size="7" fill="#26282b" text-anchor="middle" font-weight="bold">BOX 45</text>
<text x="2121" y="1101.3" font-size="7" fill="#26282b" text-anchor="middle" font-weight="bold">A= 13,85 m²</text>
<text x="1966.2" y="1177.9" font-size="7" fill="#26282b" text-anchor="middle" font-weight="bold">BOX 41</text>
<text x="1966.2" y="1186.5" font-size="7" fill="#26282b" text-anchor="middle" font-weight="bold">A= 15,33 m²</text>
<text x="2119.1" y="1177.9" font-size="7" fill="#26282b" text-anchor="middle" font-weight="bold">BOX 46</text>
<text x="2119.1" y="1186.5" font-size="7" fill="#26282b" text-anchor="middle" font-weight="bold">A= 15,33 m²</text>
<text x="2278.8" y="780.1" font-size="7" fill="#26282b" text-anchor="middle" font-weight="bold">BOX 47</text>
<text x="2278.8" y="788.7" font-size="7" fill="#26282b" text-anchor="middle" font-weight="bold">A= 15,13 m²</text>
<text x="2278.8" y="837.9" font-size="7" fill="#26282b" text-anchor="middle" font-weight="bold">BOX 48</text>
<text x="2278.8" y="846.5" font-size="7" fill="#26282b" text-anchor="middle" font-weight="bold">A= 15,13 m²</text>
<text x="2278.8" y="880.5" font-size="7" fill="#26282b" text-anchor="middle" font-weight="bold">BOX 49</text>
<text x="2278.8" y="889.1" font-size="7" fill="#26282b" text-anchor="middle" font-weight="bold">A= 15,67 m²</text>
<text x="2278.8" y="965.3" font-size="7" fill="#26282b" text-anchor="middle" font-weight="bold">BOX 50</text>
<text x="2278.8" y="973.9" font-size="7" fill="#26282b" text-anchor="middle" font-weight="bold">A= 15,67 m²</text>
<text x="2278.8" y="1028.5" font-size="7" fill="#26282b" text-anchor="middle" font-weight="bold">BOX 51</text>
<text x="2278.8" y="1037.1" font-size="7" fill="#26282b" text-anchor="middle" font-weight="bold">A= 13,60 m²</text>
<text x="2278.8" y="1135.3" font-size="7" fill="#26282b" text-anchor="middle" font-weight="bold">BOX 53</text>
<text x="2278.8" y="1143.9" font-size="7" fill="#26282b" text-anchor="middle" font-weight="bold">A= 12,37 m²</text>
<text x="2278.8" y="1183.8" font-size="7" fill="#26282b" text-anchor="middle" font-weight="bold">BOX 54</text>
<text x="2278.8" y="1192.4" font-size="7" fill="#26282b" text-anchor="middle" font-weight="bold">A= 12,37 m²</text>
<text x="1793.8" y="1158.8" font-size="7" fill="#26282b" text-anchor="middle" font-weight="bold">BOX 29 / A= 13,54m²</text>
<text x="2294.5" y="1108.4" font-size="7" fill="#26282b" text-anchor="middle" font-weight="bold">BOX 52/ A= 13,60 m²</text>
<text x="2043.6" y="980" font-size="6.6" fill="#26282b" text-anchor="middle" font-weight="bold">CIRCULAÇÃO</text>
<text x="2065.7" y="847.7" font-size="6.4" fill="#fff" text-anchor="middle" font-weight="bold">ELEVADOR</text>
<text x="2118.1" y="888.4" font-size="6.4" fill="#26282b" text-anchor="middle" font-weight="bold">ESCADA</text>
<g opacity=".38" fill="none" stroke="#fff">
<circle cx="2105" cy="981" r="212.5" fill="none" stroke-width="4.2"/>
<path d="M1947.4 917.3A170 170 0 1 0 2262.6 917.3" fill="none" stroke-width="3.6"/>
<path d="M2001 954L2107 870L2209 954M2036 930V1035.5H2180.5V930M2152 905V886H2169.5V919" fill="none" stroke-width="7" stroke-linejoin="miter"/>
<rect x="2085.5" y="931" width="40.5" height="40" fill="none" stroke-width="7"/>
<circle cx="2105" cy="1015" r="19.5" fill="none" stroke-width="9"/>
<path d="M2105 1038V1122M2110 1078H2122M2110 1100H2119" fill="none" stroke-width="10"/>
</g>
<defs><path id="wmArc" d="M1957.5 981A147.5 147.5 0 1 1 2252.5 981"/></defs>
<text font-family="'Liberation Serif', serif" font-size="45" font-weight="bold" fill="#fff" opacity=".38"><textPath href="#wmArc" startOffset="19" textLength="438" lengthAdjust="spacing">JOSSELI COSTA</textPath></text>
<text x="1720.5" y="71.3" font-size="25.8" fill="#fff" text-anchor="start" font-weight="normal" textLength="131.7" lengthAdjust="spacingAndGlyphs" stroke="#545770" stroke-width=".4">GARAGENS</text>
<text x="1721.3" y="102.6" font-size="21.4" fill="#fff" text-anchor="start" font-weight="normal" textLength="257.9" lengthAdjust="spacingAndGlyphs" stroke="#545770" stroke-width=".4">1 Vaga privativa por Apto</text>
<polygon points="2187,667.5 2201.2,653.8 2215.3,667.5" fill="#fff"/>
<text x="2202.3" y="684.6" font-size="16.6" fill="#fff" text-anchor="middle" font-weight="normal" textLength="49.3" lengthAdjust="spacingAndGlyphs" stroke="#545770" stroke-width=".4">Acesso</text>
<polygon points="1871.7,1234.3 1885.9,1221.5 1900.1,1234.3" fill="#fff"/>
<text x="1886.1" y="1251.4" font-size="16.6" fill="#fff" text-anchor="middle" font-weight="normal" textLength="50.4" lengthAdjust="spacingAndGlyphs" stroke="#545770" stroke-width=".4">Acesso</text>
<text x="2390.3" y="644.7" font-size="21.6" fill="#27323c" text-anchor="start" font-weight="normal" textLength="123.7" lengthAdjust="spacingAndGlyphs" stroke="#6d7a7d" stroke-width=".25">1° SUBSOLO</text>
<text x="2391.3" y="770.3" font-size="21.6" fill="#f6e8dc" text-anchor="start" font-weight="normal" textLength="120.2" lengthAdjust="spacingAndGlyphs" stroke="#7f5651" stroke-width=".4">2°SUBSOLO</text>
<text x="621.8" y="92.3" font-size="22.3" fill="#f7f7f9" text-anchor="start" font-weight="normal" textLength="282.3" lengthAdjust="spacingAndGlyphs" stroke="#2c2c3b" stroke-width=".45">Ótimo padrão de qualidade</text>
<polygon points="597.7,76.7 602.9,84.9 597.7,93.1 592.5,84.9" fill="#fff"/>
<text x="621.8" y="124.6" font-size="22.3" fill="#f7f7f9" text-anchor="start" font-weight="normal" textLength="235" lengthAdjust="spacingAndGlyphs" stroke="#2c2c3b" stroke-width=".45">Excelente posição solar</text>
<polygon points="597.7,109 602.9,117.2 597.7,125.4 592.5,117.2" fill="#fff"/>
<text x="621.8" y="156.9" font-size="22.3" fill="#f7f7f9" text-anchor="start" font-weight="normal" textLength="253" lengthAdjust="spacingAndGlyphs" stroke="#2c2c3b" stroke-width=".45">Espera para água quente</text>
<polygon points="597.7,141.3 602.9,149.5 597.7,157.7 592.5,149.5" fill="#fff"/>
<text x="621.8" y="189.2" font-size="22.3" fill="#f7f7f9" text-anchor="start" font-weight="normal" textLength="112.5" lengthAdjust="spacingAndGlyphs" stroke="#2c2c3b" stroke-width=".45">Gás central</text>
<polygon points="597.7,173.6 602.9,181.8 597.7,190 592.5,181.8" fill="#fff"/>
<text x="621.8" y="221.5" font-size="22.3" fill="#f7f7f9" text-anchor="start" font-weight="normal" textLength="303.9" lengthAdjust="spacingAndGlyphs" stroke="#2c2c3b" stroke-width=".45">Medidores de água, energia e</text>
<polygon points="597.7,205.9 602.9,214.1 597.7,222.3 592.5,214.1" fill="#fff"/>
<text x="621.8" y="253.8" font-size="22.3" fill="#f7f7f9" text-anchor="start" font-weight="normal" textLength="149.2" lengthAdjust="spacingAndGlyphs" stroke="#2c2c3b" stroke-width=".45">gás individuais</text>
<text x="621.8" y="286.1" font-size="22.3" fill="#f7f7f9" text-anchor="start" font-weight="normal" textLength="87.4" lengthAdjust="spacingAndGlyphs" stroke="#2c2c3b" stroke-width=".45">Elevador</text>
<polygon points="597.7,270.5 602.9,278.7 597.7,286.9 592.5,278.7" fill="#fff"/>
<text x="1181.4" y="139.9" font-size="23" fill="#ee8a4a" text-anchor="end" font-weight="normal" textLength="56.6" lengthAdjust="spacingAndGlyphs" stroke="#46597c" stroke-width=".45">APTO</text>
<text x="1181.4" y="170.8" font-size="23" fill="#ee8a4a" text-anchor="end" font-weight="normal" textLength="90" lengthAdjust="spacingAndGlyphs" stroke="#46597c" stroke-width=".45">FINAL 04</text>
<g transform="translate(1090.8 104.7)" fill="none" stroke="#ee8a4a" stroke-linecap="round" stroke-linejoin="round">
<path d="M3.4 -2.4Q15 -3 13 9Q12 14 9.5 17M3.4 -2.4Q10 5 7 11Q6 14.5 9.5 17" fill="none" stroke-width="1.1"/>
<g transform="rotate(-45)" stroke="none" fill="#ee8a4a">
<ellipse cx="0" cy="0" rx="11.2" ry="10.4"/>
<path d="M-34 -1.2L-32.6 2.9H-6V-2.9H-19.5V-5.4H-22V-2.9H-24V-5.8H-26.6V-2.9H-28.6V-5.4H-31.2V-2.9H-33Z"/>
</g>
<circle cx="3.6" cy="-2.6" r="1.9" fill="#46597c" stroke="none"/>
<g transform="translate(9.6 26.4) rotate(20)" stroke-width="2" stroke-linecap="butt" stroke-linejoin="miter">
<path d="M-9.8 -0.5L0 -9.6L9.8 -0.5M-6.2 -3.4V8H6.2V-3.4" fill="none"/>
</g>
</g>
<text x="678.8" y="490.2" font-size="23" fill="#ee8a4a" text-anchor="end" font-weight="normal" textLength="56.6" lengthAdjust="spacingAndGlyphs" stroke="#46597c" stroke-width=".45">APTO</text>
<text x="678.8" y="520.6" font-size="23" fill="#ee8a4a" text-anchor="end" font-weight="normal" textLength="90" lengthAdjust="spacingAndGlyphs" stroke="#46597c" stroke-width=".45">FINAL 05</text>
<g transform="translate(590.5 456.3)" fill="none" stroke="#ee8a4a" stroke-linecap="round" stroke-linejoin="round">
<path d="M3.4 -2.4Q15 -3 13 9Q12 14 9.5 17M3.4 -2.4Q10 5 7 11Q6 14.5 9.5 17" fill="none" stroke-width="1.1"/>
<g transform="rotate(-45)" stroke="none" fill="#ee8a4a">
<ellipse cx="0" cy="0" rx="11.2" ry="10.4"/>
<path d="M-34 -1.2L-32.6 2.9H-6V-2.9H-19.5V-5.4H-22V-2.9H-24V-5.8H-26.6V-2.9H-28.6V-5.4H-31.2V-2.9H-33Z"/>
</g>
<circle cx="3.6" cy="-2.6" r="1.9" fill="#46597c" stroke="none"/>
<g transform="translate(9.6 26.4) rotate(20)" stroke-width="2" stroke-linecap="butt" stroke-linejoin="miter">
<path d="M-9.8 -0.5L0 -9.6L9.8 -0.5M-6.2 -3.4V8H6.2V-3.4" fill="none"/>
</g>
</g>
<text x="949.3" y="1083.9" font-size="23" fill="#ffffff" text-anchor="end" font-weight="normal" textLength="56.6" lengthAdjust="spacingAndGlyphs" stroke="#6b4b4c" stroke-width=".45">APTO</text>
<text x="949.3" y="1115" font-size="23" fill="#ffffff" text-anchor="end" font-weight="normal" textLength="90" lengthAdjust="spacingAndGlyphs" stroke="#6b4b4c" stroke-width=".45">FINAL 02</text>
<g transform="translate(863.8 1050)" fill="none" stroke="#ffffff" stroke-linecap="round" stroke-linejoin="round">
<path d="M3.4 -2.4Q15 -3 13 9Q12 14 9.5 17M3.4 -2.4Q10 5 7 11Q6 14.5 9.5 17" fill="none" stroke-width="1.1"/>
<g transform="rotate(-45)" stroke="none" fill="#ffffff">
<ellipse cx="0" cy="0" rx="11.2" ry="10.4"/>
<path d="M-34 -1.2L-32.6 2.9H-6V-2.9H-19.5V-5.4H-22V-2.9H-24V-5.8H-26.6V-2.9H-28.6V-5.4H-31.2V-2.9H-33Z"/>
</g>
<circle cx="3.6" cy="-2.6" r="1.9" fill="#6b4b4c" stroke="none"/>
<g transform="translate(9.6 26.4) rotate(20)" stroke-width="2" stroke-linecap="butt" stroke-linejoin="miter">
<path d="M-9.8 -0.5L0 -9.6L9.8 -0.5M-6.2 -3.4V8H6.2V-3.4" fill="none"/>
</g>
</g>
<text x="603.3" y="1180.2" font-size="23" fill="#72d08f" text-anchor="end" font-weight="normal" textLength="56.6" lengthAdjust="spacingAndGlyphs" stroke="#6c6777" stroke-width=".45">APTO</text>
<text x="603.3" y="1211" font-size="23" fill="#72d08f" text-anchor="end" font-weight="normal" textLength="90" lengthAdjust="spacingAndGlyphs" stroke="#6c6777" stroke-width=".45">FINAL 01</text>
<g transform="translate(519.7 1144.4)" fill="none" stroke="#72d08f" stroke-linecap="round" stroke-linejoin="round">
<path d="M3.4 -2.4Q15 -3 13 9Q12 14 9.5 17M3.4 -2.4Q10 5 7 11Q6 14.5 9.5 17" fill="none" stroke-width="1.1"/>
<g transform="rotate(-45)" stroke="none" fill="#72d08f">
<ellipse cx="0" cy="0" rx="11.2" ry="10.4"/>
<path d="M-34 -1.2L-32.6 2.9H-6V-2.9H-19.5V-5.4H-22V-2.9H-24V-5.8H-26.6V-2.9H-28.6V-5.4H-31.2V-2.9H-33Z"/>
</g>
<circle cx="3.6" cy="-2.6" r="1.9" fill="#6c6777" stroke="none"/>
<g transform="translate(9.6 26.4) rotate(20)" stroke-width="2" stroke-linecap="butt" stroke-linejoin="miter">
<path d="M-9.8 -0.5L0 -9.6L9.8 -0.5M-6.2 -3.4V8H6.2V-3.4" fill="none"/>
</g>
</g>
<text x="1262.4" y="1175.8" font-size="23" fill="#72d08f" text-anchor="end" font-weight="normal" textLength="56.6" lengthAdjust="spacingAndGlyphs" stroke="#5f5e70" stroke-width=".45">APTO</text>
<text x="1262.4" y="1206.9" font-size="23" fill="#72d08f" text-anchor="end" font-weight="normal" textLength="90" lengthAdjust="spacingAndGlyphs" stroke="#5f5e70" stroke-width=".45">FINAL 03</text>
<g transform="translate(1177.5 1140.6)" fill="none" stroke="#72d08f" stroke-linecap="round" stroke-linejoin="round">
<path d="M3.4 -2.4Q15 -3 13 9Q12 14 9.5 17M3.4 -2.4Q10 5 7 11Q6 14.5 9.5 17" fill="none" stroke-width="1.1"/>
<g transform="rotate(-45)" stroke="none" fill="#72d08f">
<ellipse cx="0" cy="0" rx="11.2" ry="10.4"/>
<path d="M-34 -1.2L-32.6 2.9H-6V-2.9H-19.5V-5.4H-22V-2.9H-24V-5.8H-26.6V-2.9H-28.6V-5.4H-31.2V-2.9H-33Z"/>
</g>
<circle cx="3.6" cy="-2.6" r="1.9" fill="#5f5e70" stroke="none"/>
<g transform="translate(9.6 26.4) rotate(20)" stroke-width="2" stroke-linecap="butt" stroke-linejoin="miter">
<path d="M-9.8 -0.5L0 -9.6L9.8 -0.5M-6.2 -3.4V8H6.2V-3.4" fill="none"/>
</g>
</g>
<g fill="#fff">
<polygon points="822.2,452.3 828.7,483.8 860.2,490.3 828.7,496.8 822.2,528.3 815.7,496.8 784.2,490.3 815.7,483.8" fill="#fff"/>
<polygon points="843.4,511.5 827.9,504.4 836.3,496" fill="#fff"/>
<polygon points="801,511.5 808.1,496 816.5,504.4" fill="#fff"/>
<polygon points="801,469.1 816.5,476.2 808.1,484.6" fill="#fff"/>
<polygon points="843.4,469.1 836.3,484.6 827.9,476.2" fill="#fff"/>
</g>
<circle cx="822.2" cy="490.3" r="3.6" fill="#2c2c3b"/>
<text x="819.9" y="552.3" font-size="18" fill="#fff" text-anchor="middle" font-weight="normal">N</text>
<g transform="translate(347.6 0) scale(.94 1)" font-size="10.4" font-weight="bold" text-anchor="middle" fill="#fbf7f0" stroke="#fbf7f0" stroke-width=".28">
<text x="0" y="173.1" letter-spacing="0">SUÍTE</text>
<text x="0" y="185.7" letter-spacing="0.75">A=10,50m²</text>
</g>
<g transform="translate(422.2 0) scale(.94 1)" font-size="10.4" font-weight="bold" text-anchor="middle" fill="#2b2724" stroke="#2b2724" stroke-width=".28">
<text x="0" y="173.1" letter-spacing="0">BANHO</text>
<text x="0" y="185.7" letter-spacing="0.75">A=3,42m²</text>
</g>
<g transform="translate(451.8 0) scale(.94 1)" font-size="10.4" font-weight="bold" text-anchor="middle" fill="#2b2724" stroke="#2b2724" stroke-width=".28">
<text x="0" y="289.9" letter-spacing="0">DORMITÓRIO</text>
<text x="0" y="302.9" letter-spacing="0.75">A=8,25m²</text>
</g>
<g transform="translate(281.5 0) scale(.94 1)" font-size="10.4" font-weight="bold" text-anchor="middle" fill="#2b2724" stroke="#2b2724" stroke-width=".28">
<text x="0" y="296.9" letter-spacing="0">BANHO</text>
<text x="0" y="309.6" letter-spacing="0.75">A=3,25m²</text>
</g>
<g transform="translate(214.7 0) scale(.94 1)" font-size="10.4" font-weight="bold" text-anchor="middle" fill="#2b2724" stroke="#2b2724" stroke-width=".28">
<text x="0" y="447.2" letter-spacing="0">SACADA</text>
<text x="0" y="460.2" letter-spacing="0.75">A=4,27m²</text>
</g>
<g transform="translate(335 0) scale(.94 1)" font-size="10.4" font-weight="bold" text-anchor="middle" fill="#fbf7f0" stroke="#fbf7f0" stroke-width=".28">
<text x="0" y="465.5" letter-spacing="0">ESTAR/</text>
<text x="0" y="478.1" letter-spacing="0">JANTAR</text>
<text x="0" y="490.7" letter-spacing="0.75">A=17,49m²</text>
</g>
<g transform="translate(319.8 0) scale(.94 1)" font-size="10.4" font-weight="bold" text-anchor="middle" fill="#2b2724" stroke="#2b2724" stroke-width=".28">
<text x="0" y="544.4" letter-spacing="0">COZINHA/</text>
<text x="0" y="557" letter-spacing="0">LAVANDERIA</text>
<text x="0" y="569.6" letter-spacing="0.75">A=8,01m²</text>
</g>
<g transform="translate(319.8 0) scale(.94 1)" font-size="10.4" font-weight="bold" text-anchor="middle" fill="#2b2724" stroke="#2b2724" stroke-width=".28">
<text x="0" y="682" letter-spacing="0">COZINHA/</text>
<text x="0" y="694.6" letter-spacing="0">LAVANDERIA</text>
<text x="0" y="707.2" letter-spacing="0.75">A=8,99m²</text>
</g>
<g transform="translate(502.6 0) scale(.94 1)" font-size="10.4" font-weight="bold" text-anchor="middle" fill="#2b2724" stroke="#2b2724" stroke-width=".28">
<text x="0" y="668.2" letter-spacing="0">APTO</text>
<text x="0" y="680.9" letter-spacing="0">FINAL 05</text>
</g>
<g transform="translate(502.6 0) scale(.94 1)" font-size="10.4" font-weight="bold" text-anchor="middle" fill="#2b2724" stroke="#2b2724" stroke-width=".28">
<text x="0" y="707.5" letter-spacing="0">APTO</text>
<text x="0" y="720.1" letter-spacing="0">FINAL 01</text>
</g>
<g transform="translate(294 0) scale(.94 1)" font-size="10.4" font-weight="bold" text-anchor="middle" fill="#2b2724" stroke="#2b2724" stroke-width=".28">
<text x="0" y="800.9" letter-spacing="0">DORMITÓRIO</text>
<text x="0" y="813.5" letter-spacing="0.75">A=7,50m²</text>
</g>
<g transform="translate(488.1 0) scale(.94 1)" font-size="10.4" font-weight="bold" text-anchor="middle" fill="#fbf7f0" stroke="#fbf7f0" stroke-width=".28">
<text x="0" y="800.9" letter-spacing="0">ESTAR/</text>
<text x="0" y="813.5" letter-spacing="0">JANTAR</text>
<text x="0" y="826.1" letter-spacing="0.75">A=14,44m²</text>
</g>
<g transform="translate(635.8 0) scale(.94 1)" font-size="10.4" font-weight="bold" text-anchor="middle" fill="#fbf7f0" stroke="#fbf7f0" stroke-width=".28">
<text x="0" y="809.4" letter-spacing="0">DORMITÓRIO</text>
<text x="0" y="822.3" letter-spacing="0.75">A=14,29m²</text>
</g>
<g transform="translate(284.8 0) scale(.94 1)" font-size="10.4" font-weight="bold" text-anchor="middle" fill="#2b2724" stroke="#2b2724" stroke-width=".28">
<text x="0" y="882.4" letter-spacing="0">BANHO</text>
<text x="0" y="895" letter-spacing="0.75">A=3,00m²</text>
</g>
<g transform="translate(354.1 0) scale(.94 1)" font-size="10.4" font-weight="bold" text-anchor="middle" fill="#fbf7f0" stroke="#fbf7f0" stroke-width=".28">
<text x="0" y="898.5" letter-spacing="0">CIRC.</text>
<text x="0" y="910.5" letter-spacing="0.75">A=1,15m²</text>
</g>
<g transform="translate(743.8 0) scale(.94 1)" font-size="10.4" font-weight="bold" text-anchor="middle" fill="#2b2724" stroke="#2b2724" stroke-width=".28">
<text x="0" y="688" letter-spacing="0">CIRCULAÇÃO</text>
<text x="0" y="700.9" letter-spacing="0.75">A=27,25m²</text>
</g>
<g transform="translate(288.3 0) scale(.94 1)" font-size="10.4" font-weight="bold" text-anchor="middle" fill="#2b2724" stroke="#2b2724" stroke-width=".28">
<text x="0" y="988.9" letter-spacing="0">BANHO</text>
<text x="0" y="1001.5" letter-spacing="0.75">A=3,00m²</text>
</g>
<g transform="translate(285.8 0) scale(.94 1)" font-size="10.4" font-weight="bold" text-anchor="middle" fill="#2b2724" stroke="#2b2724" stroke-width=".28">
<text x="0" y="1039" letter-spacing="0">SUÍTE</text>
<text x="0" y="1051.5" letter-spacing="0.75">A=11,67m²</text>
</g>
<g transform="translate(475.6 0) scale(.94 1)" font-size="10.4" font-weight="bold" text-anchor="middle" fill="#2b2724" stroke="#2b2724" stroke-width=".28">
<text x="0" y="1062.7" letter-spacing="0">SACADA</text>
<text x="0" y="1075.2" letter-spacing="0.75">A=4,27m²</text>
</g>
<g transform="translate(916.6 0) scale(.94 1)" font-size="10.4" font-weight="bold" text-anchor="middle" fill="#2b2724" stroke="#2b2724" stroke-width=".28">
<text x="0" y="707.6" letter-spacing="0">APTO</text>
<text x="0" y="720.2" letter-spacing="0">FINAL 02</text>
</g>
<g transform="translate(1256.3 0) scale(.94 1)" font-size="10.4" font-weight="bold" text-anchor="middle" fill="#2b2724" stroke="#2b2724" stroke-width=".28">
<text x="0" y="668.2" letter-spacing="0">APTO</text>
<text x="0" y="680.9" letter-spacing="0">FINAL 04</text>
</g>
<g transform="translate(1256.3 0) scale(.94 1)" font-size="10.4" font-weight="bold" text-anchor="middle" fill="#2b2724" stroke="#2b2724" stroke-width=".28">
<text x="0" y="707.6" letter-spacing="0">APTO</text>
<text x="0" y="720.2" letter-spacing="0">FINAL 03</text>
</g>
<g transform="translate(853.5 0) scale(.94 1)" font-size="10.4" font-weight="bold" text-anchor="middle" fill="#fbf7f0" stroke="#fbf7f0" stroke-width=".28">
<text x="0" y="763.4" letter-spacing="0">CIRCULAÇÃO</text>
<text x="0" y="776.4" letter-spacing="0.75">A=4,01m²</text>
</g>
<g transform="translate(987 0) scale(.94 1)" font-size="10.4" font-weight="bold" text-anchor="middle" fill="#fbf7f0" stroke="#fbf7f0" stroke-width=".28">
<text x="0" y="762.6" letter-spacing="0">JANTAR/</text>
<text x="0" y="774.9" letter-spacing="0">ESTAR</text>
<text x="0" y="787.2" letter-spacing="0.75">A=8,11m²</text>
</g>
<g transform="translate(1143.9 0) scale(.94 1)" font-size="10.4" font-weight="bold" text-anchor="middle" fill="#2b2724" stroke="#2b2724" stroke-width=".28">
<text x="0" y="808.5" letter-spacing="0">COZINHA/</text>
<text x="0" y="821.1" letter-spacing="0">LAVAND.</text>
<text x="0" y="833.8" letter-spacing="0.75">A=8,01m²</text>
</g>
<g transform="translate(1265.3 0) scale(.94 1)" font-size="10.4" font-weight="bold" text-anchor="middle" fill="#fbf7f0" stroke="#fbf7f0" stroke-width=".28">
<text x="0" y="810.2" letter-spacing="0">ESTAR/</text>
<text x="0" y="822.9" letter-spacing="0">JANTAR</text>
<text x="0" y="835.5" letter-spacing="0.75">A=14,44m²</text>
</g>
<g transform="translate(995.4 0) scale(.94 1)" font-size="10.4" font-weight="bold" text-anchor="middle" fill="#fff" stroke="#fff" stroke-width=".28">
<text x="0" y="453.9" letter-spacing="0">ELEVADOR</text>
</g>
<g transform="translate(1137.7 0) scale(.94 1)" font-size="10.4" font-weight="bold" text-anchor="middle" fill="#1f1f1f" stroke="#1f1f1f" stroke-width=".28">
<text x="0" y="545.2" letter-spacing="0">ESCADA</text>
</g>
<g transform="translate(751.6 0) scale(.94 1)" font-size="10.4" font-weight="bold" text-anchor="middle" fill="#2b2724" stroke="#2b2724" stroke-width=".28">
<text x="0" y="957" letter-spacing="0">BANHO</text>
<text x="0" y="969.6" letter-spacing="0.75">A=4,29m²</text>
</g>
<g transform="translate(869.3 0) scale(.94 1)" font-size="10.4" font-weight="bold" text-anchor="middle" fill="#2b2724" stroke="#2b2724" stroke-width=".28">
<text x="0" y="930.9" letter-spacing="0">DORMITÓRIO</text>
<text x="0" y="943.9" letter-spacing="0.75">A=9,40m²</text>
</g>
<g transform="translate(1041.3 0) scale(.94 1)" font-size="10.4" font-weight="bold" text-anchor="middle" fill="#2b2724" stroke="#2b2724" stroke-width=".28">
<text x="0" y="954.4" letter-spacing="0">SACADA</text>
<text x="0" y="967" letter-spacing="0.75">A=4,12m²</text>
</g>
<g transform="translate(1458.8 0) scale(.94 1)" font-size="10.4" font-weight="bold" text-anchor="middle" fill="#2b2724" stroke="#2b2724" stroke-width=".28">
<text x="0" y="802" letter-spacing="0">DORMITÓRIO</text>
<text x="0" y="815" letter-spacing="0.75">A=7,50m²</text>
</g>
<g transform="translate(1404.2 0) scale(.94 1)" font-size="10.4" font-weight="bold" text-anchor="middle" fill="#fbf7f0" stroke="#fbf7f0" stroke-width=".28">
<text x="0" y="895.9" letter-spacing="0">CIRC.</text>
<text x="0" y="908.5" letter-spacing="0.75">A=1,15m²</text>
</g>
<g transform="translate(1470.6 0) scale(.94 1)" font-size="10.4" font-weight="bold" text-anchor="middle" fill="#2b2724" stroke="#2b2724" stroke-width=".28">
<text x="0" y="886.4" letter-spacing="0">BANHO</text>
<text x="0" y="899" letter-spacing="0.75">A=3,00m²</text>
</g>
<g transform="translate(1470.6 0) scale(.94 1)" font-size="10.4" font-weight="bold" text-anchor="middle" fill="#2b2724" stroke="#2b2724" stroke-width=".28">
<text x="0" y="987.5" letter-spacing="0">BANHO</text>
<text x="0" y="1000.4" letter-spacing="0.75">A=3,00m²</text>
</g>
<g transform="translate(1426 0) scale(.94 1)" font-size="10.4" font-weight="bold" text-anchor="middle" fill="#2b2724" stroke="#2b2724" stroke-width=".28">
<text x="0" y="685.8" letter-spacing="0">COZINHA/</text>
<text x="0" y="698.1" letter-spacing="0">LAVANDERIA</text>
<text x="0" y="710.5" letter-spacing="0.75">A=8,99m²</text>
</g>
<g transform="translate(1477 0) scale(.94 1)" font-size="10.4" font-weight="bold" text-anchor="middle" fill="#2b2724" stroke="#2b2724" stroke-width=".28">
<text x="0" y="1038.2" letter-spacing="0">SUÍTE</text>
<text x="0" y="1050.7" letter-spacing="0.75">A=11,67m²</text>
</g>
<g transform="translate(1277.5 0) scale(.94 1)" font-size="10.4" font-weight="bold" text-anchor="middle" fill="#2b2724" stroke="#2b2724" stroke-width=".28">
<text x="0" y="1063.5" letter-spacing="0">SACADA</text>
<text x="0" y="1076.2" letter-spacing="0.75">A=4,27m²</text>
</g>
<g transform="translate(1334.8 0) scale(.94 1)" font-size="10.4" font-weight="bold" text-anchor="middle" fill="#2b2724" stroke="#2b2724" stroke-width=".28">
<text x="0" y="175.5" letter-spacing="0">BANHO</text>
<text x="0" y="188.1" letter-spacing="0.75">A=3,42m²</text>
</g>
<g transform="translate(1408.6 0) scale(.94 1)" font-size="10.4" font-weight="bold" text-anchor="middle" fill="#fbf7f0" stroke="#fbf7f0" stroke-width=".28">
<text x="0" y="173.5" letter-spacing="0">SUÍTE</text>
<text x="0" y="186.1" letter-spacing="0.75">A=10,50m²</text>
</g>
<g transform="translate(1302.1 0) scale(.94 1)" font-size="10.4" font-weight="bold" text-anchor="middle" fill="#2b2724" stroke="#2b2724" stroke-width=".28">
<text x="0" y="286.4" letter-spacing="0">DORMITÓRIO</text>
<text x="0" y="299.4" letter-spacing="0.75">A=8,25m²</text>
</g>
<g transform="translate(1479.4 0) scale(.94 1)" font-size="10.4" font-weight="bold" text-anchor="middle" fill="#2b2724" stroke="#2b2724" stroke-width=".28">
<text x="0" y="298" letter-spacing="0">BANHO</text>
<text x="0" y="310.6" letter-spacing="0.75">A=3,25m²</text>
</g>
<g transform="translate(1546.8 0) scale(.94 1)" font-size="10.4" font-weight="bold" text-anchor="middle" fill="#2b2724" stroke="#2b2724" stroke-width=".28">
<text x="0" y="444.8" letter-spacing="0">SACADA</text>
<text x="0" y="457.4" letter-spacing="0.75">A=4,27m²</text>
</g>
<g transform="translate(1455.3 0) scale(.94 1)" font-size="10.4" font-weight="bold" text-anchor="middle" fill="#fbf7f0" stroke="#fbf7f0" stroke-width=".28">
<text x="0" y="465.8" letter-spacing="0">ESTAR/</text>
<text x="0" y="478.4" letter-spacing="0">JANTAR</text>
<text x="0" y="491" letter-spacing="0.75">A=17,49m²</text>
</g>
<g transform="translate(1447.8 0) scale(.94 1)" font-size="10.4" font-weight="bold" text-anchor="middle" fill="#2b2724" stroke="#2b2724" stroke-width=".28">
<text x="0" y="544.8" letter-spacing="0">COZINHA/</text>
<text x="0" y="557.1" letter-spacing="0">LAVANDERIA</text>
<text x="0" y="569.5" letter-spacing="0.75">A=8,01m²</text>
</g>
<polygon points="496.6,656.8 504.6,656.8 504.6,653.5 509.2,653.5 500.6,649.2 492,653.5 496.6,653.5" fill="#ee6a2a"/>
<polygon points="496.6,723.6 504.6,723.6 504.6,726.9 509.2,726.9 500.6,731.2 492,726.9 496.6,726.9" fill="#ee6a2a"/>
<polygon points="912.8,723.9 920.8,723.9 920.8,727.2 925.4,727.2 916.8,731.5 908.2,727.2 912.8,727.2" fill="#ee6a2a"/>
<polygon points="1252.4,656.8 1260.4,656.8 1260.4,653.5 1265,653.5 1256.4,649.2 1247.8,653.5 1252.4,653.5" fill="#ee6a2a"/>
<polygon points="1252.4,723.6 1260.4,723.6 1260.4,726.9 1265,726.9 1256.4,731.2 1247.8,726.9 1252.4,726.9" fill="#ee6a2a"/>
</svg>
</body></html>
